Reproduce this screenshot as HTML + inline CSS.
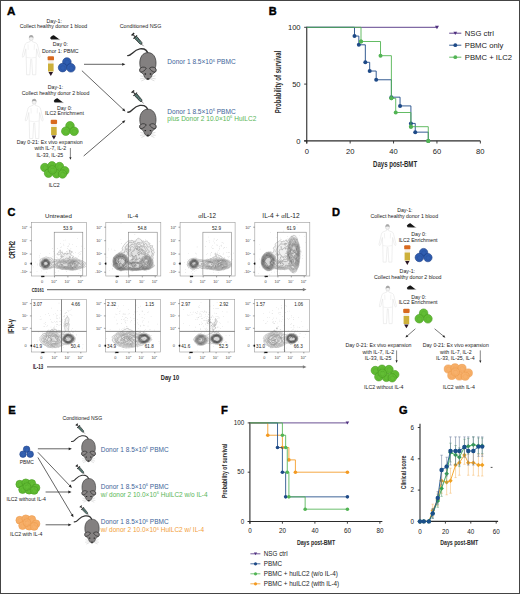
<!DOCTYPE html><html><head><meta charset="utf-8"><style>html,body{margin:0;padding:0;background:#fff;width:520px;height:594px;overflow:hidden}svg{display:block;font-family:"Liberation Sans",sans-serif}</style></head><body><svg width="520" height="594" viewBox="0 0 520 594" font-family="Liberation Sans, sans-serif">
<defs><filter id="b1" x="-50%" y="-50%" width="200%" height="200%"><feGaussianBlur stdDeviation="1.2"/></filter><filter id="b2" x="-50%" y="-50%" width="200%" height="200%"><feGaussianBlur stdDeviation="0.6"/></filter><filter id="b3" x="-50%" y="-50%" width="200%" height="200%"><feGaussianBlur stdDeviation="2"/></filter></defs>
<rect x="0" y="0" width="520" height="594" fill="#fff"/>
<text x="6.90" y="15.30" font-size="11.6" fill="#000" text-anchor="start" font-weight="bold" stroke="#000" stroke-width="0.4">A</text>
<text x="54.20" y="22.60" font-size="5.22" fill="#222" text-anchor="middle" font-weight="normal" >Day-1:</text>
<text x="53.45" y="28.30" font-size="5.22" fill="#222" text-anchor="middle" font-weight="normal" >Collect healthy donor 1 blood</text>
<text x="60.40" y="46.30" font-size="5.22" fill="#222" text-anchor="middle" font-weight="normal" >Day 0:</text>
<text x="60.35" y="52.60" font-size="5.22" fill="#222" text-anchor="middle" font-weight="normal" >Donor 1: PBMC</text>
<g transform="translate(31.20,37.80) scale(1.0)" fill="none" stroke="#dcdcdc" stroke-width="0.5" stroke-linejoin="round">
<ellipse cx="0" cy="0.2" rx="2.1" ry="2.5" fill="#f2f2f2" stroke="#cfcfcf"/>
<path d="M-2.2,0.2 C-2.4,-2.2 -0.8,-2.8 0,-2.8 C0.8,-2.8 2.4,-2.2 2.2,0.2 C1.5,-0.8 -1.5,-0.8 -2.2,0.2 Z" fill="#a8a8a8" stroke="none"/>
<path d="M-1.1,2.6 L-1.1,3.8 L-4.8,5.2 Q-6.2,5.8 -6.5,8 L-8.8,17.5 Q-9.3,19.4 -8.2,19.6 L-7.2,18.2 L-5.4,11 L-5.0,19.5 L-4.6,37 L-1.4,37 L-0.5,21.5 L0.5,21.5 L1.4,37 L4.6,37 L5.0,19.5 L5.4,11 L7.2,18.2 L8.2,19.6 Q9.3,19.4 8.8,17.5 L6.5,8 Q6.2,5.8 4.8,5.2 L1.1,3.8 L1.1,2.6"/>
<path d="M-3.2,6.5 L-3.0,12 M3.2,6.5 L3.0,12 M-4.9,19.5 Q0,21 4.9,19.5" stroke="#e6e6e6"/>
</g>
<g transform="translate(49.60,35.20) scale(1.0)">
<path d="M0.5,2.8 C2,0.8 3.5,-0.2 4.6,0.3 L8.6,3.4 L10,4.2 L7.5,4.4 L1.5,4.3 Z" fill="#151515"/>
<path d="M1.5,4.2 L10.5,4.5" stroke="#999" stroke-width="0.5"/>
</g>
<g transform="translate(47.60,56.30)">
<rect x="0" y="0" width="6.4" height="4.2" rx="1" fill="#d8691f"/>
<rect x="0.5" y="4.2" width="5.4" height="3" fill="#f4efe6"/>
<rect x="0.4" y="7.2" width="5.6000000000000005" height="8" fill="#cdb03a"/>
<polygon points="0.9,15.8 5.5,15.8 3.2,19.6" fill="#2a1626"/>
</g>
<circle cx="66.90" cy="62.00" r="4.3" fill="#2f5db0" stroke="#1f3f86" stroke-width="0.6"/>
<circle cx="62.60" cy="67.60" r="4.3" fill="#2f5db0" stroke="#1f3f86" stroke-width="0.6"/>
<circle cx="70.90" cy="67.80" r="4.3" fill="#2f5db0" stroke="#1f3f86" stroke-width="0.6"/>
<circle cx="67.20" cy="62.40" r="2.37" fill="none" stroke="#1f3f86" stroke-width="0.35" opacity="0.6"/>
<circle cx="62.90" cy="68.00" r="2.37" fill="none" stroke="#1f3f86" stroke-width="0.35" opacity="0.6"/>
<circle cx="71.20" cy="68.20" r="2.37" fill="none" stroke="#1f3f86" stroke-width="0.35" opacity="0.6"/>
<text x="55.50" y="88.50" font-size="5.22" fill="#222" text-anchor="middle" font-weight="normal" >Day-1:</text>
<text x="55.60" y="94.60" font-size="5.22" fill="#222" text-anchor="middle" font-weight="normal" >Collect healthy donor 2 blood</text>
<text x="64.50" y="109.50" font-size="5.22" fill="#222" text-anchor="middle" font-weight="normal" >Day 0:</text>
<text x="64.50" y="115.10" font-size="5.22" fill="#222" text-anchor="middle" font-weight="normal" >ILC2 Enrichment</text>
<g transform="translate(34.20,101.50) scale(1.0)" fill="none" stroke="#dcdcdc" stroke-width="0.5" stroke-linejoin="round">
<ellipse cx="0" cy="0.2" rx="2.1" ry="2.5" fill="#f2f2f2" stroke="#cfcfcf"/>
<path d="M-2.2,0.2 C-2.4,-2.2 -0.8,-2.8 0,-2.8 C0.8,-2.8 2.4,-2.2 2.2,0.2 C1.5,-0.8 -1.5,-0.8 -2.2,0.2 Z" fill="#a8a8a8" stroke="none"/>
<path d="M-1.1,2.6 L-1.1,3.8 L-4.8,5.2 Q-6.2,5.8 -6.5,8 L-8.8,17.5 Q-9.3,19.4 -8.2,19.6 L-7.2,18.2 L-5.4,11 L-5.0,19.5 L-4.6,37 L-1.4,37 L-0.5,21.5 L0.5,21.5 L1.4,37 L4.6,37 L5.0,19.5 L5.4,11 L7.2,18.2 L8.2,19.6 Q9.3,19.4 8.8,17.5 L6.5,8 Q6.2,5.8 4.8,5.2 L1.1,3.8 L1.1,2.6"/>
<path d="M-3.2,6.5 L-3.0,12 M3.2,6.5 L3.0,12 M-4.9,19.5 Q0,21 4.9,19.5" stroke="#e6e6e6"/>
</g>
<g transform="translate(53.20,98.20) scale(1.0)">
<path d="M0.5,2.8 C2,0.8 3.5,-0.2 4.6,0.3 L8.6,3.4 L10,4.2 L7.5,4.4 L1.5,4.3 Z" fill="#151515"/>
<path d="M1.5,4.2 L10.5,4.5" stroke="#999" stroke-width="0.5"/>
</g>
<g transform="translate(50.70,119.80)">
<rect x="0" y="0" width="6.4" height="4.2" rx="1" fill="#d8691f"/>
<rect x="0.5" y="4.2" width="5.4" height="3" fill="#f4efe6"/>
<rect x="0.4" y="7.2" width="5.6000000000000005" height="8" fill="#cdb03a"/>
<polygon points="0.9,15.8 5.5,15.8 3.2,19.6" fill="#2a1626"/>
</g>
<circle cx="70.00" cy="125.80" r="4.3" fill="#62bd34" stroke="#489a22" stroke-width="0.6"/>
<circle cx="65.80" cy="131.20" r="4.3" fill="#62bd34" stroke="#489a22" stroke-width="0.6"/>
<circle cx="74.10" cy="131.30" r="4.3" fill="#62bd34" stroke="#489a22" stroke-width="0.6"/>
<circle cx="70.30" cy="126.20" r="2.37" fill="none" stroke="#489a22" stroke-width="0.35" opacity="0.6"/>
<circle cx="66.10" cy="131.60" r="2.37" fill="none" stroke="#489a22" stroke-width="0.35" opacity="0.6"/>
<circle cx="74.40" cy="131.70" r="2.37" fill="none" stroke="#489a22" stroke-width="0.35" opacity="0.6"/>
<text x="49.70" y="144.20" font-size="5.22" fill="#222" text-anchor="middle" font-weight="normal" >Day 0-21: Ex vivo expansion</text>
<text x="50.40" y="150.40" font-size="5.22" fill="#222" text-anchor="middle" font-weight="normal" >with IL-7, IL-2</text>
<text x="49.90" y="156.50" font-size="5.22" fill="#222" text-anchor="middle" font-weight="normal" >IL-33, IL-25</text>
<line x1="70.40" y1="148.00" x2="70.40" y2="157.70" stroke="#222" stroke-width="0.55" />
<polygon points="70.40,159.80 69.30,157.20 71.50,157.20" fill="#222"/>
<circle cx="44.80" cy="167.50" r="4.2" fill="#62bd34" stroke="#489a22" stroke-width="0.6"/>
<circle cx="52.00" cy="165.80" r="4.2" fill="#62bd34" stroke="#489a22" stroke-width="0.6"/>
<circle cx="59.50" cy="166.50" r="4.2" fill="#62bd34" stroke="#489a22" stroke-width="0.6"/>
<circle cx="64.80" cy="170.80" r="4.2" fill="#62bd34" stroke="#489a22" stroke-width="0.6"/>
<circle cx="48.50" cy="173.20" r="4.2" fill="#62bd34" stroke="#489a22" stroke-width="0.6"/>
<circle cx="56.50" cy="173.80" r="4.2" fill="#62bd34" stroke="#489a22" stroke-width="0.6"/>
<circle cx="62.50" cy="174.00" r="4.2" fill="#62bd34" stroke="#489a22" stroke-width="0.6"/>
<circle cx="52.30" cy="169.80" r="4.2" fill="#62bd34" stroke="#489a22" stroke-width="0.6"/>
<circle cx="45.10" cy="167.90" r="2.31" fill="none" stroke="#489a22" stroke-width="0.35" opacity="0.6"/>
<circle cx="52.30" cy="166.20" r="2.31" fill="none" stroke="#489a22" stroke-width="0.35" opacity="0.6"/>
<circle cx="59.80" cy="166.90" r="2.31" fill="none" stroke="#489a22" stroke-width="0.35" opacity="0.6"/>
<circle cx="65.10" cy="171.20" r="2.31" fill="none" stroke="#489a22" stroke-width="0.35" opacity="0.6"/>
<circle cx="48.80" cy="173.60" r="2.31" fill="none" stroke="#489a22" stroke-width="0.35" opacity="0.6"/>
<circle cx="56.80" cy="174.20" r="2.31" fill="none" stroke="#489a22" stroke-width="0.35" opacity="0.6"/>
<circle cx="62.80" cy="174.40" r="2.31" fill="none" stroke="#489a22" stroke-width="0.35" opacity="0.6"/>
<circle cx="52.60" cy="170.20" r="2.31" fill="none" stroke="#489a22" stroke-width="0.35" opacity="0.6"/>
<text x="54.20" y="186.50" font-size="5.22" fill="#222" text-anchor="middle" font-weight="normal" >ILC2</text>
<line x1="84.00" y1="64.30" x2="122.70" y2="64.30" stroke="#222" stroke-width="0.7" />
<polygon points="125.40,64.30 122.20,65.70 122.20,62.90" fill="#222"/>
<line x1="81.90" y1="70.70" x2="123.43" y2="109.65" stroke="#222" stroke-width="0.7" />
<polygon points="125.40,111.50 122.11,110.33 124.02,108.29" fill="#222"/>
<line x1="83.70" y1="156.00" x2="123.35" y2="121.96" stroke="#222" stroke-width="0.7" />
<polygon points="125.40,120.20 123.88,123.35 122.06,121.22" fill="#222"/>
<text x="140.50" y="28.20" font-size="5.35" fill="#222" text-anchor="middle" font-weight="normal" >Conditioned NSG</text>
<g transform="translate(132.60,34.00) rotate(48) scale(1.08)">
<rect x="-0.3" y="-1.6" width="1.3" height="3.2" fill="#222"/>
<rect x="1" y="-0.5" width="2.2" height="1" fill="#333"/>
<rect x="3.2" y="-2.3" width="0.9" height="4.6" fill="#222"/>
<path d="M4.1,-1.35 L11.6,-1.1 L12.8,0 L11.6,1.1 L4.1,1.35 Z" fill="#5f8a82" stroke="#222" stroke-width="0.65"/>
<path d="M5.6,-1.2 V1.2 M7.4,-1.2 V1.2 M9.2,-1.1 V1.1" stroke="#333" stroke-width="0.5"/>
<line x1="12.8" y1="0" x2="15.2" y2="0" stroke="#333" stroke-width="0.45"/>
</g>
<g transform="translate(147.90,52.60) scale(1.0)">
<path d="M0,1.5 C-0.6,-2.6 -4,-4.2 -8,-3.8 C-12,-3.3 -14,-1 -16,1 C-17.2,2.2 -18.6,3.2 -20.2,3.0" fill="none" stroke="#333" stroke-width="1.35" stroke-linecap="round"/>
<path d="M-2.5,24.5 L-7.5,23.2 M-2.5,25.5 L-7.8,26.2 M-2.4,26.4 L-6.5,28.3 M2.5,24.5 L7.5,23.2 M2.5,25.5 L7.8,26.2 M2.4,26.4 L6.5,28.3" stroke="#bdbdbd" stroke-width="0.45"/>
<path d="M0,0 C5.2,0 8.1,4.5 8.1,10.5 C8.1,13 7.6,14.5 7.3,15.5 C8.2,16.5 8.3,18.8 7.2,19.6 C5.6,20.4 4.6,21.3 3.8,23.2 C2.8,25.6 1.4,27 0,27 C-1.4,27 -2.8,25.6 -3.8,23.2 C-4.6,21.3 -5.6,20.4 -7.2,19.6 C-8.3,18.8 -8.2,16.5 -7.3,15.5 C-7.6,14.5 -8.1,13 -8.1,10.5 C-8.1,4.5 -5.2,0 0,0 Z" fill="#838080" stroke="#3a3a3a" stroke-width="0.75"/>
<path d="M-7.9,16.2 C-6.8,14.2 -3.6,13.9 -1.6,15.6 C-2.6,17.6 -4.8,19.3 -7.2,19.6 C-8.3,18.6 -8.4,17.2 -7.9,16.2 Z" fill="#8c8888" stroke="#2e2e2e" stroke-width="0.8"/>
<path d="M7.9,16.2 C6.8,14.2 3.6,13.9 1.6,15.6 C2.6,17.6 4.8,19.3 7.2,19.6 C8.3,18.6 8.4,17.2 7.9,16.2 Z" fill="#8c8888" stroke="#2e2e2e" stroke-width="0.8"/>
<ellipse cx="-2.6" cy="21.4" rx="0.9" ry="0.7" fill="#1b1b1b"/>
<ellipse cx="2.6" cy="21.4" rx="0.9" ry="0.7" fill="#1b1b1b"/>
<path d="M-1.3,25.6 L1.3,25.6 L0,27.2 Z" fill="#1b1b1b"/>
</g>
<g transform="translate(132.60,91.30) rotate(48) scale(1.08)">
<rect x="-0.3" y="-1.6" width="1.3" height="3.2" fill="#222"/>
<rect x="1" y="-0.5" width="2.2" height="1" fill="#333"/>
<rect x="3.2" y="-2.3" width="0.9" height="4.6" fill="#222"/>
<path d="M4.1,-1.35 L11.6,-1.1 L12.8,0 L11.6,1.1 L4.1,1.35 Z" fill="#5f8a82" stroke="#222" stroke-width="0.65"/>
<path d="M5.6,-1.2 V1.2 M7.4,-1.2 V1.2 M9.2,-1.1 V1.1" stroke="#333" stroke-width="0.5"/>
<line x1="12.8" y1="0" x2="15.2" y2="0" stroke="#333" stroke-width="0.45"/>
</g>
<g transform="translate(147.90,109.20) scale(1.0)">
<path d="M0,1.5 C-0.6,-2.6 -4,-4.2 -8,-3.8 C-12,-3.3 -14,-1 -16,1 C-17.2,2.2 -18.6,3.2 -20.2,3.0" fill="none" stroke="#333" stroke-width="1.35" stroke-linecap="round"/>
<path d="M-2.5,24.5 L-7.5,23.2 M-2.5,25.5 L-7.8,26.2 M-2.4,26.4 L-6.5,28.3 M2.5,24.5 L7.5,23.2 M2.5,25.5 L7.8,26.2 M2.4,26.4 L6.5,28.3" stroke="#bdbdbd" stroke-width="0.45"/>
<path d="M0,0 C5.2,0 8.1,4.5 8.1,10.5 C8.1,13 7.6,14.5 7.3,15.5 C8.2,16.5 8.3,18.8 7.2,19.6 C5.6,20.4 4.6,21.3 3.8,23.2 C2.8,25.6 1.4,27 0,27 C-1.4,27 -2.8,25.6 -3.8,23.2 C-4.6,21.3 -5.6,20.4 -7.2,19.6 C-8.3,18.8 -8.2,16.5 -7.3,15.5 C-7.6,14.5 -8.1,13 -8.1,10.5 C-8.1,4.5 -5.2,0 0,0 Z" fill="#838080" stroke="#3a3a3a" stroke-width="0.75"/>
<path d="M-7.9,16.2 C-6.8,14.2 -3.6,13.9 -1.6,15.6 C-2.6,17.6 -4.8,19.3 -7.2,19.6 C-8.3,18.6 -8.4,17.2 -7.9,16.2 Z" fill="#8c8888" stroke="#2e2e2e" stroke-width="0.8"/>
<path d="M7.9,16.2 C6.8,14.2 3.6,13.9 1.6,15.6 C2.6,17.6 4.8,19.3 7.2,19.6 C8.3,18.6 8.4,17.2 7.9,16.2 Z" fill="#8c8888" stroke="#2e2e2e" stroke-width="0.8"/>
<ellipse cx="-2.6" cy="21.4" rx="0.9" ry="0.7" fill="#1b1b1b"/>
<ellipse cx="2.6" cy="21.4" rx="0.9" ry="0.7" fill="#1b1b1b"/>
<path d="M-1.3,25.6 L1.3,25.6 L0,27.2 Z" fill="#1b1b1b"/>
</g>
<text x="167.30" y="64.40" font-size="6.55" fill="#3d6499">Donor 1 8.5×10<tspan font-size="4.06" dy="-2.49">6</tspan><tspan dy="2.49"> PBMC</tspan></text>
<text x="167.30" y="113.80" font-size="6.55" fill="#3d6499">Donor 1 8.5×10<tspan font-size="4.06" dy="-2.49">6</tspan><tspan dy="2.49"> PBMC</tspan></text>
<text x="167.30" y="120.80" font-size="6.55" fill="#58b656">plus Donor 2 10.0×10<tspan font-size="4.06" dy="-2.49">6</tspan><tspan dy="2.49"> HuILC2</tspan></text>
<text x="268.80" y="15.00" font-size="11.0" fill="#000" text-anchor="start" font-weight="bold" stroke="#000" stroke-width="0.4">B</text>
<line x1="306.75" y1="26.70" x2="306.75" y2="143.50" stroke="#2b2b2b" stroke-width="1.1" />
<line x1="304.15" y1="140.90" x2="480.35" y2="140.90" stroke="#2b2b2b" stroke-width="1.1" />
<line x1="304.15" y1="27.30" x2="306.75" y2="27.30" stroke="#2b2b2b" stroke-width="0.9" />
<line x1="304.15" y1="84.10" x2="306.75" y2="84.10" stroke="#2b2b2b" stroke-width="0.9" />
<line x1="304.15" y1="140.90" x2="306.75" y2="140.90" stroke="#2b2b2b" stroke-width="0.9" />
<line x1="306.75" y1="140.90" x2="306.75" y2="143.50" stroke="#2b2b2b" stroke-width="0.9" />
<line x1="350.15" y1="140.90" x2="350.15" y2="143.50" stroke="#2b2b2b" stroke-width="0.9" />
<line x1="393.55" y1="140.90" x2="393.55" y2="143.50" stroke="#2b2b2b" stroke-width="0.9" />
<line x1="436.95" y1="140.90" x2="436.95" y2="143.50" stroke="#2b2b2b" stroke-width="0.9" />
<line x1="480.35" y1="140.90" x2="480.35" y2="143.50" stroke="#2b2b2b" stroke-width="0.9" />
<line x1="306.75" y1="27.30" x2="436.95" y2="27.30" stroke="#4f3080" stroke-width="0.9" />
<polygon points="434.95,25.80 438.95,25.80 436.95,29.20" fill="#4f3080"/>
<path d="M306.75,27.30 L354.49,27.30 L354.49,36.05 L358.83,36.05 L358.83,44.79 L365.34,44.79 L365.34,62.29 L369.68,62.29 L369.68,71.04 L376.19,71.04 L376.19,79.78 L391.38,79.78 L391.38,97.16 L400.06,97.16 L400.06,105.91 L410.91,105.91 L410.91,123.41 L415.25,123.41 L415.25,132.15 L428.27,132.15 L428.27,140.90" fill="none" stroke="#1e4a87" stroke-width="0.9"/>
<circle cx="354.49" cy="36.05" r="2.0" fill="#1e4a87"/>
<circle cx="358.83" cy="44.79" r="2.0" fill="#1e4a87"/>
<circle cx="365.34" cy="62.29" r="2.0" fill="#1e4a87"/>
<circle cx="369.68" cy="71.04" r="2.0" fill="#1e4a87"/>
<circle cx="376.19" cy="79.78" r="2.0" fill="#1e4a87"/>
<circle cx="391.38" cy="97.16" r="2.0" fill="#1e4a87"/>
<circle cx="400.06" cy="105.91" r="2.0" fill="#1e4a87"/>
<circle cx="410.91" cy="123.41" r="2.0" fill="#1e4a87"/>
<circle cx="415.25" cy="132.15" r="2.0" fill="#1e4a87"/>
<circle cx="428.27" cy="140.90" r="2.0" fill="#1e4a87"/>
<path d="M306.75,27.30 L361.00,27.30 L361.00,41.50 L380.53,41.50 L380.53,55.70 L391.38,55.70 L391.38,98.30 L395.72,98.30 L395.72,112.50 L410.91,112.50 L410.91,126.70 L428.27,126.70 L428.27,140.90" fill="none" stroke="#52b454" stroke-width="0.9"/>
<circle cx="361.00" cy="41.50" r="2.0" fill="#52b454"/>
<circle cx="380.53" cy="55.70" r="2.0" fill="#52b454"/>
<circle cx="391.38" cy="98.30" r="2.0" fill="#52b454"/>
<circle cx="395.72" cy="112.50" r="2.0" fill="#52b454"/>
<circle cx="410.91" cy="126.70" r="2.0" fill="#52b454"/>
<circle cx="428.27" cy="140.90" r="2.0" fill="#52b454"/>
<circle cx="361.00" cy="41.50" r="2.0" fill="#52b454"/>
<circle cx="391.38" cy="98.30" r="2.0" fill="#52b454"/>
<circle cx="410.91" cy="126.70" r="2.0" fill="#52b454"/>
<circle cx="428.27" cy="140.90" r="2.0" fill="#52b454"/>
<text x="300.60" y="30.05" font-size="7.6" fill="#222" text-anchor="end" font-weight="normal" >100</text>
<text x="300.60" y="86.85" font-size="7.6" fill="#222" text-anchor="end" font-weight="normal" >50</text>
<text x="300.60" y="143.65" font-size="7.6" fill="#222" text-anchor="end" font-weight="normal" >0</text>
<text x="306.75" y="153.90" font-size="7.6" fill="#222" text-anchor="middle" font-weight="normal" >0</text>
<text x="350.15" y="153.90" font-size="7.6" fill="#222" text-anchor="middle" font-weight="normal" >20</text>
<text x="393.55" y="153.90" font-size="7.6" fill="#222" text-anchor="middle" font-weight="normal" >40</text>
<text x="436.95" y="153.90" font-size="7.6" fill="#222" text-anchor="middle" font-weight="normal" >60</text>
<text x="480.35" y="153.90" font-size="7.6" fill="#222" text-anchor="middle" font-weight="normal" >80</text>
<text x="373.10" y="166.70" font-size="9.3" fill="#2a2a2a" text-anchor="start" font-weight="bold" textLength="44.0" lengthAdjust="spacingAndGlyphs">Days post-BMT</text>
<text x="281.10" y="81.95" font-size="8.5" fill="#2a2a2a" text-anchor="middle" font-weight="bold" textLength="62.5" lengthAdjust="spacingAndGlyphs" transform="rotate(-90 281.10 81.95)">Probability of survival</text>
<line x1="449.20" y1="33.20" x2="461.30" y2="33.20" stroke="#4f3080" stroke-width="0.9" />
<polygon points="453.40,31.78 457.20,31.78 455.30,35.01" fill="#4f3080"/>
<text x="464.80" y="35.90" font-size="7.7" fill="#222" text-anchor="start" font-weight="normal" >NSG ctrl</text>
<line x1="449.20" y1="45.20" x2="461.30" y2="45.20" stroke="#1e4a87" stroke-width="0.9" />
<circle cx="455.3" cy="45.20" r="1.9" fill="#1e4a87"/>
<text x="464.80" y="47.90" font-size="7.7" fill="#222" text-anchor="start" font-weight="normal" >PBMC only</text>
<line x1="449.20" y1="57.20" x2="461.30" y2="57.20" stroke="#52b454" stroke-width="0.9" />
<circle cx="455.3" cy="57.20" r="1.9" fill="#52b454"/>
<text x="464.80" y="59.90" font-size="7.7" fill="#222" text-anchor="start" font-weight="normal" >PBMC + ILC2</text>
<text x="7.50" y="216.30" font-size="11.0" fill="#000" text-anchor="start" font-weight="bold" stroke="#000" stroke-width="0.4">C</text>
<text x="58.40" y="218.30" font-size="6.1" fill="#222" text-anchor="middle" font-weight="normal" >Untreated</text>
<clipPath id="clip10"><rect x="31.40" y="222.40" width="55" height="53.599999999999994"/></clipPath>
<g clip-path="url(#clip10)">
<circle cx="32.8" cy="265.6" r="0.3" fill="#bcbcbc"/>
<circle cx="43.4" cy="262.6" r="0.3" fill="#bcbcbc"/>
<circle cx="44.5" cy="259.4" r="0.3" fill="#bcbcbc"/>
<circle cx="46.8" cy="261.9" r="0.3" fill="#bcbcbc"/>
<circle cx="42.3" cy="258.5" r="0.3" fill="#bcbcbc"/>
<circle cx="77.6" cy="263.2" r="0.3" fill="#bcbcbc"/>
<circle cx="44.7" cy="263.7" r="0.3" fill="#bcbcbc"/>
<circle cx="78.2" cy="262.0" r="0.3" fill="#bcbcbc"/>
<circle cx="78.2" cy="273.8" r="0.3" fill="#bcbcbc"/>
<circle cx="62.8" cy="269.5" r="0.3" fill="#bcbcbc"/>
<circle cx="40.9" cy="262.2" r="0.3" fill="#bcbcbc"/>
<circle cx="78.5" cy="264.8" r="0.3" fill="#bcbcbc"/>
<circle cx="37.3" cy="264.9" r="0.3" fill="#bcbcbc"/>
<circle cx="43.4" cy="258.4" r="0.3" fill="#bcbcbc"/>
<circle cx="66.4" cy="271.4" r="0.3" fill="#bcbcbc"/>
<circle cx="71.0" cy="270.0" r="0.3" fill="#bcbcbc"/>
<circle cx="41.0" cy="266.4" r="0.3" fill="#bcbcbc"/>
<circle cx="63.4" cy="260.8" r="0.3" fill="#bcbcbc"/>
<circle cx="33.1" cy="266.9" r="0.3" fill="#bcbcbc"/>
<circle cx="37.4" cy="263.9" r="0.3" fill="#bcbcbc"/>
<circle cx="49.5" cy="253.8" r="0.3" fill="#bcbcbc"/>
<circle cx="80.7" cy="270.2" r="0.3" fill="#bcbcbc"/>
<circle cx="40.6" cy="253.2" r="0.3" fill="#bcbcbc"/>
<circle cx="73.5" cy="261.7" r="0.3" fill="#bcbcbc"/>
<circle cx="39.7" cy="265.3" r="0.3" fill="#bcbcbc"/>
<circle cx="52.8" cy="263.5" r="0.3" fill="#bcbcbc"/>
<circle cx="37.0" cy="271.7" r="0.3" fill="#bcbcbc"/>
<circle cx="80.0" cy="269.9" r="0.3" fill="#bcbcbc"/>
<circle cx="42.5" cy="259.7" r="0.3" fill="#bcbcbc"/>
<circle cx="52.6" cy="256.5" r="0.3" fill="#bcbcbc"/>
<circle cx="44.1" cy="264.7" r="0.3" fill="#bcbcbc"/>
<circle cx="39.4" cy="255.2" r="0.3" fill="#bcbcbc"/>
<circle cx="51.8" cy="267.3" r="0.3" fill="#bcbcbc"/>
<circle cx="61.5" cy="266.0" r="0.3" fill="#bcbcbc"/>
<circle cx="49.8" cy="259.8" r="0.3" fill="#bcbcbc"/>
<circle cx="45.1" cy="266.2" r="0.3" fill="#bcbcbc"/>
<circle cx="58.6" cy="270.9" r="0.3" fill="#bcbcbc"/>
<circle cx="35.4" cy="262.0" r="0.3" fill="#bcbcbc"/>
<circle cx="78.1" cy="253.4" r="0.3" fill="#bcbcbc"/>
<circle cx="82.8" cy="258.1" r="0.3" fill="#bcbcbc"/>
<circle cx="52.4" cy="264.8" r="0.3" fill="#bcbcbc"/>
<circle cx="56.1" cy="262.6" r="0.3" fill="#bcbcbc"/>
<circle cx="46.5" cy="272.1" r="0.3" fill="#bcbcbc"/>
<circle cx="52.6" cy="258.4" r="0.3" fill="#bcbcbc"/>
<circle cx="41.6" cy="270.9" r="0.3" fill="#bcbcbc"/>
<circle cx="44.2" cy="261.4" r="0.3" fill="#bcbcbc"/>
<circle cx="42.2" cy="259.1" r="0.3" fill="#bcbcbc"/>
<circle cx="39.8" cy="257.1" r="0.3" fill="#bcbcbc"/>
<circle cx="50.0" cy="263.6" r="0.3" fill="#bcbcbc"/>
<circle cx="46.3" cy="264.3" r="0.3" fill="#bcbcbc"/>
<circle cx="60.1" cy="249.3" r="0.3" fill="#bcbcbc"/>
<circle cx="52.8" cy="262.3" r="0.3" fill="#bcbcbc"/>
<circle cx="44.0" cy="267.7" r="0.3" fill="#bcbcbc"/>
<circle cx="44.9" cy="267.5" r="0.3" fill="#bcbcbc"/>
<circle cx="54.3" cy="253.5" r="0.3" fill="#bcbcbc"/>
<circle cx="43.3" cy="264.3" r="0.3" fill="#bcbcbc"/>
<circle cx="55.7" cy="272.3" r="0.3" fill="#bcbcbc"/>
<circle cx="67.4" cy="258.0" r="0.32" fill="#b8b8b8"/>
<circle cx="64.5" cy="267.5" r="0.32" fill="#b8b8b8"/>
<circle cx="75.5" cy="267.6" r="0.32" fill="#b8b8b8"/>
<circle cx="68.2" cy="249.7" r="0.32" fill="#b8b8b8"/>
<circle cx="69.6" cy="257.5" r="0.32" fill="#b8b8b8"/>
<circle cx="64.3" cy="255.1" r="0.32" fill="#b8b8b8"/>
<circle cx="68.3" cy="263.7" r="0.32" fill="#b8b8b8"/>
<circle cx="63.8" cy="259.7" r="0.32" fill="#b8b8b8"/>
<circle cx="63.9" cy="245.7" r="0.32" fill="#b8b8b8"/>
<circle cx="63.4" cy="244.1" r="0.32" fill="#b8b8b8"/>
<circle cx="69.4" cy="259.6" r="0.32" fill="#b8b8b8"/>
<circle cx="69.6" cy="256.8" r="0.32" fill="#b8b8b8"/>
<circle cx="79.8" cy="254.3" r="0.32" fill="#b8b8b8"/>
<circle cx="69.8" cy="250.5" r="0.32" fill="#b8b8b8"/>
<circle cx="57.1" cy="257.7" r="0.32" fill="#b8b8b8"/>
<circle cx="56.1" cy="257.0" r="0.32" fill="#b8b8b8"/>
<circle cx="68.3" cy="260.3" r="0.32" fill="#b8b8b8"/>
<circle cx="67.9" cy="246.6" r="0.32" fill="#b8b8b8"/>
<circle cx="70.9" cy="248.5" r="0.32" fill="#b8b8b8"/>
<circle cx="67.1" cy="252.7" r="0.32" fill="#b8b8b8"/>
<circle cx="67.5" cy="251.1" r="0.32" fill="#b8b8b8"/>
<circle cx="62.6" cy="251.1" r="0.32" fill="#b8b8b8"/>
<circle cx="53.4" cy="251.3" r="0.32" fill="#b8b8b8"/>
<circle cx="60.0" cy="260.2" r="0.32" fill="#b8b8b8"/>
<circle cx="77.3" cy="238.7" r="0.32" fill="#b8b8b8"/>
<circle cx="69.4" cy="251.5" r="0.32" fill="#b8b8b8"/>
<circle cx="61.1" cy="256.1" r="0.32" fill="#b8b8b8"/>
<circle cx="65.2" cy="240.0" r="0.32" fill="#b8b8b8"/>
<circle cx="66.5" cy="251.4" r="0.32" fill="#b8b8b8"/>
<circle cx="69.1" cy="243.8" r="0.32" fill="#b8b8b8"/>
<circle cx="72.7" cy="257.5" r="0.32" fill="#b8b8b8"/>
<circle cx="60.4" cy="247.8" r="0.32" fill="#b8b8b8"/>
<circle cx="67.8" cy="248.4" r="0.32" fill="#b8b8b8"/>
<circle cx="80.6" cy="253.9" r="0.32" fill="#b8b8b8"/>
<circle cx="61.3" cy="246.9" r="0.32" fill="#b8b8b8"/>
<circle cx="68.0" cy="268.5" r="0.32" fill="#b8b8b8"/>
<circle cx="67.2" cy="253.3" r="0.32" fill="#b8b8b8"/>
<circle cx="72.0" cy="252.1" r="0.32" fill="#b8b8b8"/>
<circle cx="84.4" cy="248.7" r="0.32" fill="#b8b8b8"/>
<circle cx="73.6" cy="253.5" r="0.32" fill="#b8b8b8"/>
<circle cx="72.7" cy="244.2" r="0.32" fill="#b8b8b8"/>
<circle cx="80.8" cy="251.5" r="0.32" fill="#b8b8b8"/>
<circle cx="68.6" cy="245.9" r="0.32" fill="#b8b8b8"/>
<circle cx="63.3" cy="256.3" r="0.32" fill="#b8b8b8"/>
<circle cx="75.3" cy="257.7" r="0.32" fill="#b8b8b8"/>
<circle cx="76.9" cy="257.4" r="0.32" fill="#b8b8b8"/>
<circle cx="68.6" cy="258.3" r="0.32" fill="#b8b8b8"/>
<circle cx="72.6" cy="251.7" r="0.32" fill="#b8b8b8"/>
<circle cx="73.5" cy="261.4" r="0.32" fill="#b8b8b8"/>
<circle cx="70.0" cy="249.9" r="0.32" fill="#b8b8b8"/>
<circle cx="73.4" cy="265.7" r="0.32" fill="#b8b8b8"/>
<circle cx="66.9" cy="251.8" r="0.32" fill="#b8b8b8"/>
<circle cx="67.4" cy="261.0" r="0.32" fill="#b8b8b8"/>
<circle cx="55.5" cy="255.0" r="0.32" fill="#b8b8b8"/>
<circle cx="76.7" cy="246.7" r="0.32" fill="#b8b8b8"/>
<circle cx="78.8" cy="256.1" r="0.32" fill="#b8b8b8"/>
<circle cx="64.6" cy="253.8" r="0.32" fill="#b8b8b8"/>
<circle cx="57.7" cy="248.4" r="0.32" fill="#b8b8b8"/>
<circle cx="81.2" cy="246.1" r="0.32" fill="#b8b8b8"/>
<circle cx="81.3" cy="251.8" r="0.32" fill="#b8b8b8"/>
<circle cx="75.4" cy="252.7" r="0.32" fill="#b8b8b8"/>
<circle cx="52.7" cy="248.4" r="0.32" fill="#b8b8b8"/>
<circle cx="69.7" cy="244.3" r="0.32" fill="#b8b8b8"/>
<circle cx="59.0" cy="255.0" r="0.32" fill="#b8b8b8"/>
<circle cx="63.9" cy="240.5" r="0.32" fill="#b8b8b8"/>
<circle cx="63.6" cy="258.4" r="0.32" fill="#b8b8b8"/>
<circle cx="65.1" cy="258.9" r="0.32" fill="#b8b8b8"/>
<circle cx="79.1" cy="252.6" r="0.32" fill="#b8b8b8"/>
<circle cx="60.5" cy="243.3" r="0.32" fill="#b8b8b8"/>
<circle cx="68.2" cy="258.6" r="0.32" fill="#b8b8b8"/>
<path d="M73.9,269.7L73.2,269.7L72.4,269.7L71.7,269.7L70.9,269.7L70.2,269.7L69.4,269.7L68.7,269.7L67.9,269.7L67.4,269.6L66.7,269.6L65.9,269.6L65.2,269.5L64.4,269.5L63.6,269.4L63.1,269.4L62.4,269.3L61.6,269.3L60.9,269.2L60.4,269.1L59.6,269.0L58.9,268.9L58.4,268.9L57.6,268.8L56.9,268.6L56.4,268.6L55.6,268.5L55.1,268.4L54.4,268.3L53.6,268.2L52.9,268.2L52.1,268.2L51.4,268.3L50.7,268.4L50.1,268.5L49.6,268.6L48.9,268.8L48.4,268.9L47.6,269.1L47.1,269.2L46.4,269.2L45.6,269.2L44.9,269.2L44.4,269.1L43.7,268.9L43.1,268.7L42.6,268.5L42.1,268.2L41.7,267.9L41.4,267.6L40.9,267.1L40.6,266.8L40.3,266.4L40.0,265.9L39.8,265.4L39.6,264.8L39.5,264.1L39.5,263.4L39.6,262.6L39.7,262.1L39.9,261.6L40.2,261.1L40.5,260.6L40.9,260.1L41.1,259.8L41.6,259.4L42.0,259.1L42.4,258.9L42.9,258.6L43.4,258.4L44.0,258.1L44.6,258.0L45.1,257.9L45.9,257.8L46.6,257.8L47.4,257.9L47.9,258.0L48.6,258.1L49.1,258.3L49.6,258.5L50.1,258.7L50.6,259.0L51.1,259.2L51.6,259.4L52.2,259.6L52.9,259.8L53.4,259.9L54.1,259.9L54.7,259.9L55.4,259.8L56.1,259.6L56.6,259.5L57.1,259.3L57.7,259.1L58.3,258.9L58.8,258.6L59.2,258.4L59.6,258.0L59.9,257.6L60.1,256.9L60.2,256.4L60.4,255.7L60.6,255.2L60.9,254.7L61.1,254.3L61.5,253.9L61.9,253.6L62.4,253.2L62.9,253.0L63.4,252.8L63.9,252.7L64.7,252.5L65.4,252.5L66.2,252.5L66.9,252.7L67.4,252.8L67.9,253.0L68.4,253.2L68.9,253.6L69.3,253.9L69.7,254.3L69.9,254.7L70.2,255.2L70.4,255.7L70.7,256.3L70.9,256.8L71.2,257.1L71.7,257.5L72.2,257.8L72.7,258.0L73.2,258.2L73.9,258.4L74.4,258.5L74.9,258.6L75.7,258.8L76.2,259.0L76.7,259.1L77.4,259.4L77.9,259.5L78.4,259.7L79.0,259.9L79.7,260.1L80.2,260.3L80.7,260.5L81.2,260.7L81.7,261.0L82.2,261.2L82.7,261.4L83.2,261.7L83.7,262.0L84.2,262.3L84.6,262.6L84.9,262.9L85.3,263.4L85.6,263.9L85.8,264.4L85.7,265.1L85.4,265.6L85.1,265.9L84.7,266.3L84.2,266.6L83.8,266.9L83.4,267.1L82.9,267.4L82.3,267.6L81.7,267.9L81.2,268.1L80.7,268.3L80.2,268.5L79.6,268.6L78.9,268.8L78.4,269.0L77.7,269.1L77.2,269.2L76.4,269.4L75.9,269.4L75.2,269.5L74.4,269.6L73.9,269.7Z" fill="#6a6a6a" fill-opacity="0.10" stroke="none"/>
<path d="M46.4,267.7L45.6,267.7L45.0,267.6L44.4,267.5L43.9,267.3L43.4,267.1L42.9,266.7L42.5,266.4L42.1,265.9L41.9,265.5L41.6,265.0L41.5,264.4L41.4,263.9L41.4,263.4L41.5,262.6L41.7,262.1L41.9,261.6L42.2,261.1L42.6,260.7L43.0,260.4L43.4,260.1L43.9,259.9L44.5,259.6L45.1,259.5L45.9,259.5L46.6,259.6L47.1,259.7L47.6,259.9L48.1,260.2L48.6,260.5L49.0,260.9L49.4,261.3L49.6,261.7L49.9,262.1L50.1,262.7L50.4,263.4L50.4,263.9L50.4,264.4L50.1,265.0L49.9,265.4L49.6,265.9L49.1,266.3L48.8,266.6L48.4,266.9L47.9,267.2L47.4,267.4L46.6,267.6Z M74.2,268.2L73.4,268.2L72.7,268.3L71.9,268.3L71.2,268.3L70.4,268.3L69.7,268.2L68.9,268.2L68.4,268.1L67.7,268.1L66.9,268.0L66.2,268.0L65.4,267.9L64.9,267.9L64.2,267.8L63.4,267.7L62.9,267.6L62.1,267.6L61.4,267.4L60.9,267.4L60.1,267.2L59.6,267.1L58.9,267.0L58.4,266.8L57.8,266.6L57.1,266.5L56.6,266.3L56.1,266.1L55.6,265.8L55.1,265.5L54.7,265.1L54.4,264.6L54.4,264.4L54.6,263.9L55.1,263.5L55.6,263.2L56.1,262.9L56.6,262.7L57.1,262.5L57.6,262.4L58.3,262.1L58.9,262.0L59.4,261.9L60.1,261.7L60.6,261.6L61.4,261.5L61.9,261.4L62.6,261.3L63.4,261.2L63.9,261.1L64.7,261.0L65.4,260.9L65.9,260.9L66.7,260.8L67.4,260.7L68.2,260.7L68.7,260.6L69.4,260.6L70.2,260.5L70.9,260.5L71.7,260.5L72.4,260.5L73.2,260.6L73.9,260.6L74.4,260.7L75.2,260.8L75.7,260.9L76.4,261.1L76.9,261.2L77.5,261.4L78.2,261.6L78.7,261.9L79.2,262.1L79.7,262.4L80.0,262.6L80.4,262.9L80.9,263.4L81.2,263.9L81.3,264.4L81.2,265.1L80.9,265.6L80.6,265.9L80.2,266.3L79.7,266.6L79.2,266.9L78.7,267.1L78.2,267.3L77.7,267.5L77.0,267.6L76.4,267.8L75.9,267.9L75.2,268.0L74.4,268.1Z" fill="#6a6a6a" fill-opacity="0.10" stroke="none"/>
<path d="M46.1,266.9L45.4,267.0L44.9,266.9L44.2,266.6L43.8,266.4L43.4,266.1L42.9,265.6L42.6,265.3L42.4,264.7L42.2,264.1L42.2,263.4L42.3,262.6L42.5,262.1L42.8,261.6L43.1,261.3L43.6,260.9L44.0,260.6L44.6,260.4L45.1,260.3L45.9,260.2L46.6,260.4L47.1,260.5L47.6,260.8L48.1,261.1L48.4,261.4L48.8,261.9L49.0,262.4L49.2,262.9L49.3,263.6L49.2,264.4L49.0,264.9L48.7,265.4L48.4,265.8L48.0,266.1L47.6,266.4L47.1,266.7L46.4,266.9Z M72.9,266.4L72.2,266.4L71.4,266.4L70.7,266.4L70.2,266.4L69.4,266.3L68.7,266.1L68.2,266.1L67.4,265.9L66.9,265.8L66.4,265.6L65.7,265.4L65.2,265.2L64.7,264.9L64.6,264.4L64.9,264.1L65.4,263.8L65.9,263.6L66.4,263.4L67.2,263.2L67.7,263.1L68.4,262.9L68.9,262.8L69.7,262.7L70.2,262.6L70.9,262.5L71.7,262.5L72.4,262.5L73.2,262.6L73.8,262.6L74.4,262.8L74.9,262.9L75.5,263.1L76.0,263.4L76.4,263.8L76.7,264.1L76.7,264.9L76.4,265.2L75.9,265.6L75.4,265.9L74.9,266.0L74.4,266.2L73.7,266.3L73.0,266.4Z" fill="#6a6a6a" fill-opacity="0.10" stroke="none"/>
<path d="M86.4,266.1L85.9,266.4L85.4,266.6L85.0,266.9L84.6,267.1L84.1,267.4L83.5,267.6L82.9,267.9L82.4,268.0L81.7,268.1L81.2,268.3L80.7,268.4L80.1,268.6L79.4,268.8L78.9,268.9L78.4,269.2L77.7,269.4L77.2,269.5L76.4,269.6L75.9,269.8L75.2,269.9L74.7,269.9L73.9,270.1L73.4,270.2L72.7,270.3L71.9,270.3L71.3,270.1L70.7,270.1L69.9,270.0L69.4,269.9L68.7,269.7L67.9,269.7L67.4,269.6L66.7,269.6L65.9,269.6L65.2,269.5L64.5,269.4L63.9,269.4L63.4,269.4L62.6,269.5L61.9,269.5L61.3,269.4L60.9,269.1L60.1,268.9L59.6,268.8L59.1,268.5L58.6,268.3L57.9,268.3L57.1,268.2L56.6,268.1L56.1,267.9L55.6,267.6L54.9,267.5L54.4,267.3L53.6,267.3L53.1,267.5L52.6,267.6L52.1,268.0L51.4,268.1L50.9,268.4L50.5,268.6L49.9,268.8L49.3,268.6L48.8,268.6L48.3,268.9L47.8,269.1L47.1,269.4L46.4,269.3L45.6,269.4L45.0,269.4L44.4,269.6L43.9,269.7L43.4,269.5L42.9,269.2L42.4,268.9L42.1,268.6L41.8,268.1L41.7,267.4L41.4,267.0L41.0,266.6L40.5,266.6L40.1,266.6L40.1,266.0L40.1,265.6L39.8,265.1L39.7,264.4L39.8,263.6L39.9,262.9L40.1,262.5L40.4,262.1L40.2,261.6L40.1,261.1L40.0,260.4L40.1,259.6L40.4,259.4L40.9,259.1L41.4,258.9L41.9,258.5L42.4,258.3L42.9,258.1L43.5,257.9L44.1,257.7L44.6,257.5L45.1,257.3L45.6,257.1L46.4,257.0L46.9,257.2L47.6,257.4L48.1,257.4L48.8,257.6L49.4,257.9L49.9,257.9L50.4,257.9L51.1,257.8L51.6,258.1L51.7,258.6L51.9,259.2L52.4,259.5L52.9,259.8L53.4,260.1L53.9,259.7L54.4,259.5L55.1,259.6L55.4,259.6L56.1,259.6L56.6,259.7L57.1,259.5L57.4,259.1L58.1,259.1L58.5,259.4L59.0,259.6L59.6,259.6L59.9,259.4L60.4,258.9L60.6,258.6L61.0,258.1L61.4,257.6L61.9,257.5L62.4,257.3L62.8,256.9L63.0,256.4L62.6,255.9L62.1,256.2L61.7,256.6L61.4,257.0L61.0,256.6L61.1,255.9L61.2,255.4L61.2,254.7L61.0,254.2L60.4,254.0L59.8,254.2L59.4,254.4L58.9,254.7L58.1,254.8L57.4,254.7L57.1,254.4L57.1,253.7L57.5,253.4L58.1,253.2L58.6,252.9L58.9,252.4L58.9,251.9L59.1,251.4L59.5,250.9L59.9,250.4L60.3,250.4L60.6,250.9L60.6,251.6L60.6,251.9L60.2,252.4L60.4,253.0L60.9,253.4L61.3,252.9L61.4,252.2L61.9,252.0L62.4,252.3L62.6,252.9L62.7,253.4L63.1,253.9L63.4,254.2L63.9,254.5L64.4,254.2L64.7,253.8L64.9,253.4L65.6,253.4L65.9,253.7L66.4,254.0L66.8,254.4L67.2,254.4L67.2,253.7L67.8,253.4L68.4,253.3L69.2,253.3L69.7,253.2L69.8,252.4L69.5,251.9L69.4,251.4L69.2,250.7L69.7,250.3L70.0,250.7L70.3,251.2L70.9,251.3L71.4,251.4L71.9,251.7L72.0,252.4L71.7,252.8L71.2,253.0L70.7,253.3L70.2,253.7L70.3,254.4L70.4,254.9L71.2,255.1L71.7,255.3L72.1,255.7L72.4,256.0L73.2,256.1L73.5,256.4L73.3,256.9L72.9,257.4L72.4,257.6L72.9,258.0L73.7,258.0L74.4,258.1L75.2,258.1L75.7,258.1L76.3,258.4L76.8,258.6L77.4,258.8L77.9,259.0L78.4,259.4L78.8,259.6L79.4,259.8L79.9,260.0L80.4,260.2L80.9,260.4L81.7,260.6L82.2,260.6L82.7,260.9L83.2,261.3L83.6,261.6L83.9,261.9L84.4,262.2L85.2,262.4L85.4,262.6L85.4,263.3L85.5,263.6L85.9,264.1L86.2,264.5L86.4,265.0 M70.3,258.1L70.4,257.4L70.2,256.6L69.7,256.6L69.4,257.0L69.2,257.6L69.4,258.2L70.2,258.2" fill="none" stroke="rgb(130,130,130)" stroke-width="0.4"/>
<path d="M73.7,269.7L72.9,269.7L72.2,269.7L71.5,269.6L70.9,269.6L70.2,269.5L69.4,269.4L68.9,269.3L68.2,269.2L67.7,269.1L66.9,269.1L66.4,269.2L65.9,269.1L65.2,269.0L64.6,268.9L63.9,268.8L63.2,268.9L62.9,268.9L62.1,268.7L61.4,268.7L60.9,268.5L60.4,268.4L59.7,268.1L59.3,267.9L58.6,267.7L58.0,267.6L57.4,267.6L56.8,267.4L56.3,267.1L56.0,266.6L55.8,266.1L55.4,265.9L54.9,266.0L54.4,266.3L53.8,266.4L53.1,266.5L52.6,266.8L52.1,267.0L51.6,267.2L51.1,267.4L50.6,267.6L49.9,267.9L49.1,267.8L48.4,267.9L47.9,268.1L47.4,268.2L46.6,268.3L45.9,268.3L45.1,268.4L44.6,268.4L43.9,268.4L43.4,268.3L42.9,268.1L42.5,267.6L42.2,267.1L41.9,266.7L41.6,266.4L41.4,265.9L41.1,265.4L40.9,264.6L40.8,264.1L40.8,263.4L40.9,262.9L41.1,262.2L41.3,261.6L41.5,261.1L41.7,260.6L42.0,260.1L42.4,259.8L42.9,259.4L43.2,259.1L43.7,258.9L44.4,258.7L44.9,258.6L45.6,258.6L46.4,258.6L46.9,258.7L47.6,258.9L48.1,259.0L48.9,259.1L49.4,259.2L50.1,259.4L50.6,259.6L50.9,259.9L51.1,260.6L51.6,260.9L52.1,261.1L52.6,261.3L53.1,261.5L53.9,261.5L54.6,261.5L55.2,261.4L55.6,261.0L56.0,260.6L56.6,260.6L57.1,260.8L57.9,260.7L58.6,260.7L59.1,260.6L59.9,260.5L60.4,260.2L60.8,259.9L61.4,259.8L62.1,259.7L62.6,259.5L63.4,259.6L64.1,259.4L64.7,259.4L65.4,259.2L65.7,258.9L65.9,258.4L66.4,257.9L67.1,258.1L67.5,258.4L68.2,258.5L68.7,258.8L69.1,259.1L69.7,259.2L70.2,259.1L70.9,259.1L71.7,259.0L72.4,259.0L73.2,259.1L73.9,259.1L74.4,259.2L75.1,259.4L75.7,259.4L76.4,259.6L76.9,259.7L77.7,259.9L78.1,260.1L78.7,260.4L79.2,260.5L79.7,260.7L80.2,260.9L80.7,261.4L81.0,261.6L81.7,261.8L82.2,262.0L82.5,262.4L82.7,262.9L83.2,263.4L83.6,263.6L83.8,264.1L84.0,264.6L84.3,265.1L84.2,265.9L83.9,266.2L83.4,266.6L83.0,266.9L82.6,267.1L81.9,267.4L81.4,267.5L80.9,267.7L80.2,267.9L79.7,268.0L78.9,268.1L78.4,268.4L78.0,268.6L77.4,268.9L76.9,269.0L76.4,269.2L75.7,269.3L74.9,269.4L74.4,269.5L73.9,269.6" fill="none" stroke="rgb(122,122,122)" stroke-width="0.4"/>
<path d="M74.2,269.2L73.4,269.3L72.7,269.3L71.9,269.2L71.2,269.2L70.7,269.1L69.9,269.1L69.3,268.9L68.7,268.7L67.9,268.7L67.2,268.7L66.4,268.8L65.7,268.7L65.2,268.6L64.5,268.4L63.9,268.3L63.1,268.4L62.4,268.2L61.9,268.1L61.1,268.1L60.4,267.9L59.9,267.7L59.4,267.4L58.9,267.2L58.1,267.2L57.6,267.0L57.1,266.7L56.6,266.5L56.4,266.1L56.0,265.6L55.6,265.2L55.4,264.8L55.2,264.1L54.9,263.8L54.1,263.8L53.8,264.1L53.8,264.9L53.5,265.4L52.9,265.5L52.4,265.7L52.0,266.1L51.6,266.4L51.1,266.7L50.6,267.0L49.9,267.0L49.1,267.1L48.6,267.2L48.1,267.5L47.6,267.7L46.9,267.9L46.4,267.9L45.6,268.0L44.9,267.9L44.1,267.9L43.6,267.9L43.1,267.6L42.7,267.1L42.4,266.8L42.0,266.4L41.7,265.9L41.5,265.4L41.4,264.9L41.3,264.1L41.2,263.4L41.3,262.6L41.5,262.1L41.7,261.6L42.0,261.1L42.3,260.6L42.6,260.3L43.1,259.9L43.4,259.6L43.9,259.4L44.6,259.2L45.1,259.1L45.9,259.1L46.6,259.1L47.1,259.3L47.6,259.5L48.2,259.6L48.7,259.9L49.1,260.3L49.4,260.7L49.8,261.1L50.1,261.6L50.6,261.8L51.1,262.0L51.6,262.3L52.1,262.5L52.9,262.5L53.4,262.4L54.1,262.3L54.6,262.1L55.4,261.9L55.9,261.6L56.4,261.5L56.9,261.8L57.6,261.7L58.1,261.4L58.6,261.4L59.4,261.2L59.9,261.1L60.4,261.2L60.9,261.0L61.4,260.6L61.9,260.4L62.4,260.3L63.1,260.4L63.6,260.4L64.2,260.4L64.9,260.4L65.7,260.3L66.2,260.1L66.7,259.8L67.4,259.7L68.2,259.8L68.9,259.8L69.7,259.7L70.4,259.8L71.2,259.8L71.9,259.8L72.7,259.7L73.4,259.8L74.0,259.9L74.7,260.1L75.2,260.2L75.9,260.2L76.7,260.4L77.2,260.5L77.7,260.8L78.2,261.0L78.9,261.1L79.4,261.3L79.9,261.5L80.3,261.9L80.7,262.2L81.2,262.6L81.6,262.9L81.3,263.4L81.4,263.9L81.9,264.2L82.6,264.4L83.0,264.6L83.2,265.1L82.9,265.6L82.4,265.9L82.2,266.2L81.8,266.6L81.4,266.9L80.7,267.1L80.2,267.2L79.4,267.3L78.9,267.4L78.4,267.6L77.9,267.9L77.4,268.3L76.9,268.5L76.2,268.6L75.7,268.7L74.9,268.9L74.4,269.1" fill="none" stroke="rgb(115,115,115)" stroke-width="0.4"/>
<path d="M46.1,267.7L45.4,267.7L44.9,267.6L44.1,267.6L43.4,267.4L43.1,267.1L42.6,266.7L42.4,266.4L42.0,265.9L41.8,265.4L41.7,264.6L41.6,264.1L41.5,263.4L41.6,262.6L41.7,262.1L42.0,261.6L42.3,261.1L42.6,260.8L43.0,260.4L43.4,260.0L43.9,259.7L44.4,259.5L45.1,259.4L45.8,259.4L46.4,259.4L46.9,259.5L47.4,259.7L47.9,259.9L48.4,260.2L48.9,260.6L49.1,260.9L49.5,261.4L49.8,261.9L50.1,262.4L50.5,262.6L50.9,263.0L51.2,263.4L51.4,264.1L51.6,264.6L51.6,264.9L51.1,265.3L50.6,265.6L50.1,265.9L49.6,266.1L49.3,266.4L48.9,266.6L48.4,266.9L47.9,267.2L47.4,267.4L46.6,267.6L46.1,267.7 M74.2,268.7L73.4,268.9L72.7,268.9L71.9,268.8L71.2,268.8L70.4,268.7L69.9,268.6L69.4,268.4L68.7,268.3L67.9,268.2L67.2,268.2L66.4,268.3L65.7,268.3L65.1,268.1L64.4,267.9L63.9,267.9L63.3,267.9L62.9,267.9L62.2,267.6L61.6,267.6L60.9,267.5L60.4,267.3L59.9,267.1L59.4,266.9L58.9,266.6L58.2,266.4L57.8,266.1L57.3,265.9L56.9,265.6L56.5,265.1L56.2,264.6L55.9,264.1L56.1,263.6L56.4,263.1L56.9,262.7L57.4,262.6L58.1,262.4L58.6,262.1L59.1,261.9L59.6,261.7L60.4,261.8L60.9,261.6L61.4,261.4L61.9,261.1L62.6,261.0L63.4,261.0L64.2,261.0L64.9,261.1L65.7,260.9L66.2,260.8L66.7,260.6L67.4,260.6L68.2,260.5L68.9,260.4L69.4,260.4L69.9,260.4L70.7,260.6L71.4,260.6L72.0,260.4L72.7,260.3L73.2,260.4L73.9,260.6L74.4,260.7L75.2,260.7L75.9,260.8L76.6,260.9L77.2,261.1L77.4,261.4L77.7,262.0L78.1,262.4L78.7,262.5L79.4,262.6L79.7,263.0L79.7,263.6L79.7,264.0L80.2,264.3L80.8,264.4L81.2,264.6L81.5,265.1L81.4,265.8L81.0,266.1L80.4,266.4L79.9,266.5L79.2,266.5L78.7,266.7L78.2,267.1L77.7,267.3L77.2,267.6L76.7,267.9L76.2,268.0L75.4,268.1L74.9,268.3L74.4,268.6" fill="none" stroke="rgb(108,108,108)" stroke-width="0.4"/>
<path d="M46.4,267.4L45.6,267.5L44.9,267.4L44.4,267.4L43.6,267.2L43.2,266.9L42.9,266.6L42.4,266.1L42.1,265.7L41.9,265.1L41.9,264.6L41.8,263.9L41.7,263.1L41.9,262.4L42.1,261.9L42.4,261.4L42.6,261.1L43.1,260.6L43.4,260.3L43.9,260.0L44.4,259.8L45.1,259.7L45.7,259.6L46.4,259.6L46.9,259.7L47.4,260.0L47.9,260.2L48.4,260.6L48.8,260.9L49.1,261.4L49.4,261.9L49.6,262.4L49.9,262.8L50.1,263.3L50.2,263.9L50.0,264.4L49.9,264.9L49.6,265.5L49.3,265.9L48.9,266.3L48.4,266.6L47.9,266.9L47.4,267.1L46.9,267.3L46.4,267.4 M73.4,268.4L72.7,268.5L72.0,268.4L71.4,268.3L70.7,268.3L70.1,268.1L69.5,267.9L68.9,267.8L68.2,267.8L67.4,267.7L66.7,267.8L65.9,267.9L65.2,267.7L64.7,267.5L63.9,267.4L63.3,267.4L62.6,267.2L62.1,267.1L61.4,266.9L60.9,266.9L60.1,266.8L59.6,266.5L59.1,266.3L58.6,266.0L58.2,265.6L57.8,265.4L57.5,264.9L57.4,264.4L57.1,263.8L57.3,263.4L57.9,263.3L58.4,263.1L59.0,262.9L59.4,262.6L60.1,262.4L60.6,262.3L61.1,262.1L61.6,261.9L62.4,261.8L63.1,261.7L63.6,261.6L64.4,261.6L65.2,261.6L65.9,261.6L66.7,261.6L67.2,261.4L67.7,261.1L68.4,261.1L68.9,261.4L69.2,261.7L69.9,261.6L70.2,261.4L70.9,261.3L71.5,261.1L72.1,260.9L72.6,260.9L73.2,261.1L73.9,261.1L74.4,261.2L75.2,261.2L75.9,261.3L76.4,261.4L76.9,261.8L77.2,262.2L77.7,262.6L78.2,262.8L78.7,263.1L78.8,263.6L78.4,264.0L77.9,264.3L77.7,264.8L77.8,265.1L77.9,265.6L77.7,266.1L77.4,266.6L77.1,266.9L76.7,267.2L76.1,267.4L75.4,267.6L74.9,267.8L74.4,268.0L73.9,268.3L73.4,268.4" fill="none" stroke="rgb(100,100,100)" stroke-width="0.4"/>
<path d="M46.4,267.2L45.6,267.2L44.9,267.2L44.4,267.1L43.6,266.9L43.2,266.6L42.9,266.3L42.5,265.9L42.3,265.4L42.1,264.9L42.1,264.1L41.9,263.4L42.0,262.6L42.2,262.1L42.5,261.6L42.9,261.2L43.2,260.9L43.6,260.4L44.0,260.1L44.6,260.0L45.4,259.9L45.9,259.9L46.6,259.9L47.1,260.1L47.6,260.4L48.1,260.6L48.4,260.9L48.8,261.4L49.1,261.9L49.4,262.4L49.6,262.9L49.7,263.4L49.6,263.9L49.5,264.6L49.4,265.2L49.1,265.6L48.6,266.1L48.2,266.4L47.8,266.6L47.3,266.9L46.6,267.1 M73.4,267.9L72.7,268.0L71.9,267.9L71.4,267.8L70.7,267.7L70.1,267.6L69.5,267.4L68.9,267.2L68.2,267.3L67.4,267.2L66.7,267.3L65.9,267.3L65.3,267.1L64.7,267.0L63.9,266.9L63.4,266.8L62.9,266.5L62.4,266.3L61.6,266.2L61.1,266.1L60.5,265.9L59.9,265.7L59.4,265.4L59.6,265.2L59.9,264.7L60.0,264.1L60.1,263.5L60.4,263.1L61.0,262.9L61.6,262.8L62.4,262.7L62.9,262.6L63.6,262.4L64.2,262.3L64.9,262.4L65.7,262.3L66.4,262.4L67.2,262.3L67.7,262.0L68.2,261.8L68.5,262.1L69.0,262.4L69.7,262.4L70.2,262.2L70.7,261.9L71.2,261.8L71.7,261.6L72.4,261.4L73.0,261.6L73.7,261.7L74.2,261.6L74.9,261.6L75.4,261.8L75.9,262.1L76.3,262.4L76.7,262.9L76.9,263.2L77.2,263.6L76.9,263.9L76.9,264.6L77.1,265.1L77.0,265.9L76.7,266.3L76.2,266.6L75.7,266.8L75.2,267.1L74.7,267.3L74.2,267.6L73.7,267.8" fill="none" stroke="rgb(93,93,93)" stroke-width="0.4"/>
<path d="M46.4,267.0L45.6,267.0L44.9,267.0L44.3,266.9L43.6,266.7L43.3,266.4L42.9,266.0L42.6,265.6L42.4,264.9L42.3,264.4L42.2,263.6L42.1,263.1L42.2,262.6L42.5,262.1L42.9,261.6L43.1,261.3L43.5,260.9L43.9,260.5L44.4,260.3L45.1,260.2L45.6,260.1L46.4,260.1L46.9,260.3L47.4,260.5L47.9,260.8L48.3,261.1L48.6,261.6L48.9,262.0L49.1,262.6L49.3,263.1L49.3,263.9L49.3,264.6L49.1,265.1L48.8,265.6L48.4,266.0L47.9,266.3L47.4,266.5L46.9,266.8L46.4,267.0 M73.4,267.5L72.7,267.6L71.9,267.5L71.4,267.2L70.9,267.0L70.2,267.0L69.7,266.8L69.2,266.5L68.4,266.6L68.0,266.6L67.4,266.5L66.7,266.6L65.9,266.6L65.2,266.4L64.7,266.4L63.9,266.2L63.4,265.9L62.9,265.7L62.4,265.5L61.9,265.2L61.4,265.1L60.9,264.8L60.9,264.3L61.4,264.4L61.9,264.7L62.5,264.6L62.9,264.3L63.1,263.8L63.6,263.6L64.2,263.7L64.7,263.6L65.2,263.4L65.7,263.0L66.2,262.9L66.7,263.0L67.2,263.2L67.9,263.2L68.4,263.0L69.2,263.0L69.7,262.9L70.2,262.6L70.8,262.4L71.4,262.2L72.2,262.2L72.9,262.3L73.7,262.2L74.2,262.1L74.7,262.2L75.2,262.6L75.2,263.1L75.3,263.9L75.7,264.2L76.2,264.6L76.4,265.0L76.4,265.6L76.1,265.9L75.6,266.1L75.0,266.4L74.6,266.6L74.2,267.0L73.7,267.3" fill="none" stroke="rgb(86,86,86)" stroke-width="0.4"/>
<path d="M46.4,266.7L45.6,266.8L44.9,266.8L44.3,266.6L43.7,266.4L43.4,266.1L43.0,265.6L42.7,265.1L42.6,264.6L42.5,263.9L42.4,263.4L42.4,262.9L42.6,262.4L43.0,261.9L43.4,261.4L43.6,261.1L44.1,260.6L44.6,260.5L45.4,260.4L45.9,260.3L46.5,260.4L47.1,260.6L47.5,260.9L47.9,261.1L48.4,261.6L48.6,262.1L48.9,262.6L49.1,263.1L49.1,263.9L49.0,264.6L48.8,265.1L48.4,265.6L48.0,265.9L47.4,266.1L47.0,266.4L46.5,266.6 M72.7,267.2L72.2,267.1L71.7,266.7L71.3,266.4L70.7,266.2L69.9,266.2L69.6,265.9L69.2,265.4L68.9,265.1L68.4,265.3L67.9,265.5L67.6,265.1L67.9,264.6L68.2,264.2L68.4,263.9L68.9,263.6L69.7,263.6L70.3,263.4L70.8,263.1L71.3,262.9L71.9,262.8L72.7,262.9L73.4,262.9L74.2,262.9L74.4,263.1L74.5,263.9L74.7,264.6L75.0,264.9L75.2,265.4L74.8,265.6L74.3,265.9L73.9,266.2L73.6,266.6L73.2,267.0L72.7,267.2" fill="none" stroke="rgb(79,79,79)" stroke-width="0.4"/>
<path d="M46.1,266.5L45.4,266.5L44.6,266.5L44.1,266.3L43.6,266.0L43.4,265.6L43.1,265.1L42.9,264.6L42.7,263.9L42.6,263.4L42.7,262.9L42.9,262.4L43.3,261.9L43.6,261.5L44.0,261.1L44.4,260.8L45.1,260.7L45.6,260.6L46.4,260.6L46.9,260.9L47.4,261.1L47.8,261.4L48.1,261.8L48.4,262.1L48.7,262.6L48.8,263.4L48.8,264.1L48.6,264.6L48.4,265.2L47.9,265.6L47.4,265.8L46.9,266.1L46.4,266.4 M71.7,265.4L70.9,265.5L70.4,265.4L69.9,265.0L69.9,264.4L70.4,264.2L70.9,264.0L71.5,263.9L72.1,263.6L72.7,263.6L73.2,263.8L73.2,264.3L72.7,264.6L72.2,264.8L71.8,265.1" fill="none" stroke="rgb(71,71,71)" stroke-width="0.4"/>
<path d="M45.6,266.2L44.9,266.2L44.4,266.0L43.9,265.7L43.6,265.4L43.3,264.9L43.1,264.4L42.9,263.6L42.9,263.3L43.1,262.6L43.4,262.3L43.7,261.9L44.1,261.4L44.4,261.1L45.1,261.0L45.6,260.9L46.2,260.9L46.8,261.1L47.3,261.4L47.6,261.7L48.0,262.1L48.4,262.6L48.6,263.1L48.5,263.9L48.4,264.4L48.1,265.0L47.8,265.4L47.1,265.6L46.6,265.8L46.1,266.1L45.6,266.2" fill="none" stroke="rgb(64,64,64)" stroke-width="0.4"/>
<path d="M46.1,265.7L45.4,265.7L44.6,265.7L44.2,265.4L43.9,265.1L43.5,264.6L43.3,264.1L43.2,263.4L43.4,262.9L43.7,262.4L44.1,261.9L44.4,261.5L44.9,261.3L45.6,261.2L46.4,261.3L46.9,261.5L47.3,261.9L47.6,262.2L48.0,262.6L48.3,263.1L48.2,263.9L48.1,264.4L47.9,264.9L47.4,265.3L46.9,265.4L46.2,265.6" fill="none" stroke="rgb(57,57,57)" stroke-width="0.4"/>
<path d="M46.6,265.2L45.9,265.3L45.1,265.2L44.6,265.1L44.1,264.8L43.8,264.4L43.6,263.8L43.7,263.4L43.9,262.8L44.1,262.3L44.5,261.9L45.0,261.6L45.6,261.6L46.2,261.6L46.7,261.9L47.1,262.3L47.6,262.6L47.9,263.1L47.9,263.6L47.9,264.1L47.6,264.7L47.1,265.0L46.6,265.2" fill="none" stroke="rgb(50,50,50)" stroke-width="0.4"/>
</g>
<rect x="31.40" y="222.4" width="55" height="53.60" fill="none" stroke="#9a9a9a" stroke-width="0.6"/>
<rect x="54.20" y="232.2" width="28.6" height="43.30" fill="none" stroke="#777" stroke-width="0.55"/>
<text x="67.80" y="229.60" font-size="4.6" fill="#222" text-anchor="middle" font-weight="normal" >53.9</text>
<text x="27.40" y="228.50" font-size="3.9" fill="#444" text-anchor="end">10<tspan font-size="2.34" dy="-1.56">5</tspan></text>
<line x1="29.80" y1="227.20" x2="31.40" y2="227.20" stroke="#444" stroke-width="0.5" />
<text x="27.40" y="242.00" font-size="3.9" fill="#444" text-anchor="end">10<tspan font-size="2.34" dy="-1.56">4</tspan></text>
<line x1="29.80" y1="240.70" x2="31.40" y2="240.70" stroke="#444" stroke-width="0.5" />
<text x="27.40" y="255.40" font-size="3.9" fill="#444" text-anchor="end">10<tspan font-size="2.34" dy="-1.56">3</tspan></text>
<line x1="29.80" y1="254.10" x2="31.40" y2="254.10" stroke="#444" stroke-width="0.5" />
<text x="26.60" y="264.90" font-size="3.9" fill="#444" text-anchor="end" font-weight="normal" >0</text>
<line x1="29.80" y1="263.60" x2="31.40" y2="263.60" stroke="#444" stroke-width="0.5" />
<text x="27.40" y="273.10" font-size="3.9" fill="#444" text-anchor="end">-10<tspan font-size="2.34" dy="-1.56">3</tspan></text>
<line x1="29.80" y1="272.20" x2="31.40" y2="272.20" stroke="#444" stroke-width="0.5" />
<rect x="30.60" y="262.6" width="1.4" height="2.0" fill="#111"/>
<rect x="41.20" y="275.80" width="3.2" height="1.3" fill="#111"/>
<text x="42.10" y="282.60" font-size="3.9" fill="#444" text-anchor="middle" font-weight="normal" >0</text>
<line x1="42.10" y1="276.00" x2="42.10" y2="277.40" stroke="#444" stroke-width="0.5" />
<text x="53.90" y="282.60" font-size="3.9" fill="#444" text-anchor="middle">10<tspan font-size="2.34" dy="-1.56">3</tspan></text>
<line x1="54.50" y1="276.00" x2="54.50" y2="277.40" stroke="#444" stroke-width="0.5" />
<text x="67.30" y="282.60" font-size="3.9" fill="#444" text-anchor="middle">10<tspan font-size="2.34" dy="-1.56">4</tspan></text>
<line x1="67.90" y1="276.00" x2="67.90" y2="277.40" stroke="#444" stroke-width="0.5" />
<text x="80.20" y="282.60" font-size="3.9" fill="#444" text-anchor="middle">10<tspan font-size="2.34" dy="-1.56">5</tspan></text>
<line x1="80.80" y1="276.00" x2="80.80" y2="277.40" stroke="#444" stroke-width="0.5" />
<text x="132.80" y="218.30" font-size="6.2" fill="#222" text-anchor="middle" font-weight="normal" >IL-4</text>
<clipPath id="clip11"><rect x="105.80" y="222.40" width="55" height="53.599999999999994"/></clipPath>
<g clip-path="url(#clip11)">
<circle cx="125.6" cy="257.6" r="0.3" fill="#bcbcbc"/>
<circle cx="116.7" cy="258.7" r="0.3" fill="#bcbcbc"/>
<circle cx="107.0" cy="257.2" r="0.3" fill="#bcbcbc"/>
<circle cx="112.4" cy="268.4" r="0.3" fill="#bcbcbc"/>
<circle cx="146.4" cy="270.9" r="0.3" fill="#bcbcbc"/>
<circle cx="152.0" cy="265.5" r="0.3" fill="#bcbcbc"/>
<circle cx="130.5" cy="254.4" r="0.3" fill="#bcbcbc"/>
<circle cx="153.0" cy="262.6" r="0.3" fill="#bcbcbc"/>
<circle cx="115.1" cy="250.5" r="0.3" fill="#bcbcbc"/>
<circle cx="111.3" cy="263.9" r="0.3" fill="#bcbcbc"/>
<circle cx="121.8" cy="261.1" r="0.3" fill="#bcbcbc"/>
<circle cx="152.4" cy="255.3" r="0.3" fill="#bcbcbc"/>
<circle cx="112.7" cy="269.0" r="0.3" fill="#bcbcbc"/>
<circle cx="123.3" cy="263.2" r="0.3" fill="#bcbcbc"/>
<circle cx="140.6" cy="261.6" r="0.3" fill="#bcbcbc"/>
<circle cx="114.6" cy="250.1" r="0.3" fill="#bcbcbc"/>
<circle cx="147.2" cy="252.0" r="0.3" fill="#bcbcbc"/>
<circle cx="142.7" cy="265.8" r="0.3" fill="#bcbcbc"/>
<circle cx="136.1" cy="265.9" r="0.3" fill="#bcbcbc"/>
<circle cx="121.2" cy="264.6" r="0.3" fill="#bcbcbc"/>
<circle cx="132.8" cy="271.2" r="0.3" fill="#bcbcbc"/>
<circle cx="132.6" cy="269.8" r="0.3" fill="#bcbcbc"/>
<circle cx="122.2" cy="267.3" r="0.3" fill="#bcbcbc"/>
<circle cx="142.8" cy="254.1" r="0.3" fill="#bcbcbc"/>
<circle cx="137.6" cy="263.3" r="0.3" fill="#bcbcbc"/>
<circle cx="129.4" cy="269.5" r="0.3" fill="#bcbcbc"/>
<circle cx="150.1" cy="269.2" r="0.3" fill="#bcbcbc"/>
<circle cx="134.0" cy="264.1" r="0.3" fill="#bcbcbc"/>
<circle cx="117.8" cy="266.3" r="0.3" fill="#bcbcbc"/>
<circle cx="150.4" cy="257.7" r="0.3" fill="#bcbcbc"/>
<circle cx="129.8" cy="274.3" r="0.3" fill="#bcbcbc"/>
<circle cx="121.5" cy="263.8" r="0.3" fill="#bcbcbc"/>
<circle cx="111.5" cy="249.0" r="0.3" fill="#bcbcbc"/>
<circle cx="137.0" cy="257.2" r="0.3" fill="#bcbcbc"/>
<circle cx="125.0" cy="251.5" r="0.3" fill="#bcbcbc"/>
<circle cx="113.8" cy="257.6" r="0.3" fill="#bcbcbc"/>
<circle cx="120.3" cy="261.6" r="0.3" fill="#bcbcbc"/>
<circle cx="116.5" cy="263.4" r="0.3" fill="#bcbcbc"/>
<circle cx="131.1" cy="271.5" r="0.3" fill="#bcbcbc"/>
<circle cx="120.5" cy="260.4" r="0.3" fill="#bcbcbc"/>
<circle cx="142.7" cy="269.7" r="0.3" fill="#bcbcbc"/>
<circle cx="140.3" cy="261.7" r="0.3" fill="#bcbcbc"/>
<circle cx="120.9" cy="239.8" r="0.3" fill="#bcbcbc"/>
<circle cx="145.7" cy="253.0" r="0.3" fill="#bcbcbc"/>
<circle cx="108.5" cy="249.9" r="0.3" fill="#bcbcbc"/>
<circle cx="109.8" cy="270.2" r="0.3" fill="#bcbcbc"/>
<circle cx="108.6" cy="248.3" r="0.3" fill="#bcbcbc"/>
<circle cx="133.1" cy="259.5" r="0.3" fill="#bcbcbc"/>
<circle cx="119.9" cy="260.5" r="0.3" fill="#bcbcbc"/>
<circle cx="143.1" cy="275.2" r="0.3" fill="#bcbcbc"/>
<circle cx="126.8" cy="272.3" r="0.3" fill="#bcbcbc"/>
<circle cx="149.4" cy="251.3" r="0.32" fill="#b8b8b8"/>
<circle cx="129.0" cy="252.4" r="0.32" fill="#b8b8b8"/>
<circle cx="139.4" cy="257.7" r="0.32" fill="#b8b8b8"/>
<circle cx="139.5" cy="250.1" r="0.32" fill="#b8b8b8"/>
<circle cx="141.4" cy="258.2" r="0.32" fill="#b8b8b8"/>
<circle cx="140.2" cy="244.5" r="0.32" fill="#b8b8b8"/>
<circle cx="141.3" cy="243.3" r="0.32" fill="#b8b8b8"/>
<circle cx="140.1" cy="246.3" r="0.32" fill="#b8b8b8"/>
<circle cx="141.0" cy="259.9" r="0.32" fill="#b8b8b8"/>
<circle cx="135.6" cy="246.7" r="0.32" fill="#b8b8b8"/>
<circle cx="137.2" cy="251.1" r="0.32" fill="#b8b8b8"/>
<circle cx="129.3" cy="241.6" r="0.32" fill="#b8b8b8"/>
<circle cx="138.5" cy="250.2" r="0.32" fill="#b8b8b8"/>
<circle cx="138.4" cy="242.9" r="0.32" fill="#b8b8b8"/>
<circle cx="131.9" cy="250.0" r="0.32" fill="#b8b8b8"/>
<circle cx="150.3" cy="248.7" r="0.32" fill="#b8b8b8"/>
<circle cx="140.3" cy="249.5" r="0.32" fill="#b8b8b8"/>
<circle cx="131.3" cy="244.2" r="0.32" fill="#b8b8b8"/>
<circle cx="136.7" cy="248.5" r="0.32" fill="#b8b8b8"/>
<circle cx="138.5" cy="237.9" r="0.32" fill="#b8b8b8"/>
<circle cx="147.8" cy="258.2" r="0.32" fill="#b8b8b8"/>
<circle cx="136.7" cy="249.2" r="0.32" fill="#b8b8b8"/>
<circle cx="140.9" cy="251.9" r="0.32" fill="#b8b8b8"/>
<circle cx="127.0" cy="257.7" r="0.32" fill="#b8b8b8"/>
<circle cx="135.1" cy="255.2" r="0.32" fill="#b8b8b8"/>
<circle cx="139.4" cy="243.7" r="0.32" fill="#b8b8b8"/>
<circle cx="137.7" cy="252.7" r="0.32" fill="#b8b8b8"/>
<circle cx="131.9" cy="243.8" r="0.32" fill="#b8b8b8"/>
<circle cx="134.9" cy="234.4" r="0.32" fill="#b8b8b8"/>
<circle cx="149.2" cy="250.5" r="0.32" fill="#b8b8b8"/>
<circle cx="138.6" cy="254.5" r="0.32" fill="#b8b8b8"/>
<circle cx="131.1" cy="245.9" r="0.32" fill="#b8b8b8"/>
<circle cx="152.6" cy="253.3" r="0.32" fill="#b8b8b8"/>
<circle cx="121.0" cy="223.1" r="0.32" fill="#b8b8b8"/>
<circle cx="130.5" cy="253.8" r="0.32" fill="#b8b8b8"/>
<circle cx="135.0" cy="244.9" r="0.32" fill="#b8b8b8"/>
<circle cx="143.7" cy="240.2" r="0.32" fill="#b8b8b8"/>
<circle cx="140.5" cy="251.9" r="0.32" fill="#b8b8b8"/>
<circle cx="142.5" cy="249.2" r="0.32" fill="#b8b8b8"/>
<circle cx="134.0" cy="250.0" r="0.32" fill="#b8b8b8"/>
<circle cx="135.4" cy="255.5" r="0.32" fill="#b8b8b8"/>
<circle cx="159.4" cy="241.2" r="0.32" fill="#b8b8b8"/>
<circle cx="121.4" cy="243.4" r="0.32" fill="#b8b8b8"/>
<circle cx="141.8" cy="253.8" r="0.32" fill="#b8b8b8"/>
<circle cx="147.4" cy="240.9" r="0.32" fill="#b8b8b8"/>
<circle cx="132.5" cy="255.3" r="0.32" fill="#b8b8b8"/>
<circle cx="130.1" cy="254.0" r="0.32" fill="#b8b8b8"/>
<circle cx="137.0" cy="251.8" r="0.32" fill="#b8b8b8"/>
<circle cx="144.4" cy="251.8" r="0.32" fill="#b8b8b8"/>
<circle cx="145.4" cy="239.5" r="0.32" fill="#b8b8b8"/>
<path d="M121.5,270.7L120.8,270.7L120.3,270.6L119.5,270.6L118.9,270.4L118.3,270.2L117.8,270.0L117.3,269.8L116.8,269.5L116.3,269.2L115.9,268.9L115.5,268.6L115.0,268.3L114.7,267.9L114.3,267.5L114.0,267.1L113.6,266.6L113.4,266.1L113.2,265.6L113.1,264.9L113.0,264.4L112.9,263.6L112.9,262.9L112.8,262.1L112.9,261.4L112.9,260.6L113.0,259.9L113.2,259.4L113.3,258.9L113.5,258.2L113.8,257.7L114.0,257.2L114.3,256.8L114.5,256.4L114.9,255.9L115.3,255.4L115.6,255.2L116.0,254.7L116.4,254.4L116.8,254.1L117.3,253.8L117.8,253.5L118.3,253.2L118.8,253.0L119.3,252.8L119.8,252.6L120.5,252.4L121.0,252.2L121.5,251.9L121.9,251.7L122.2,251.2L122.4,250.7L122.5,250.1L122.8,249.4L123.0,248.9L123.2,248.4L123.4,247.9L123.7,247.4L123.9,246.9L124.3,246.4L124.5,246.0L124.8,245.6L125.2,245.2L125.5,244.7L125.9,244.4L126.3,244.0L126.7,243.7L127.0,243.3L127.5,242.9L127.9,242.7L128.3,242.4L128.8,242.1L129.3,241.8L129.8,241.5L130.3,241.2L130.8,241.0L131.3,240.8L131.8,240.6L132.4,240.4L133.1,240.2L133.6,240.1L134.3,239.9L134.8,239.8L135.6,239.7L136.1,239.6L136.8,239.6L137.6,239.6L138.3,239.6L139.1,239.6L139.6,239.7L140.3,239.7L141.1,239.9L141.6,240.0L142.3,240.1L142.8,240.3L143.3,240.4L143.9,240.7L144.5,240.9L145.1,241.1L145.6,241.4L146.1,241.6L146.5,241.9L146.9,242.2L147.3,242.4L147.8,242.7L148.3,243.1L148.7,243.4L149.1,243.7L149.5,244.2L149.8,244.5L150.2,244.9L150.6,245.3L150.8,245.7L151.2,246.2L151.5,246.7L151.8,247.1L152.1,247.6L152.3,248.1L152.5,248.7L152.7,249.2L152.9,249.7L153.1,250.2L153.2,250.9L153.3,251.4L153.4,252.2L153.5,252.9L153.5,253.7L153.5,254.4L153.4,255.2L153.3,255.7L153.1,256.4L153.0,256.9L152.9,257.6L152.9,258.4L152.9,259.1L152.9,259.9L152.9,260.6L152.9,261.4L152.9,262.1L152.9,262.9L153.0,263.6L153.1,264.1L153.3,264.8L153.5,265.4L153.4,266.1L153.1,266.6L152.8,267.0L152.3,267.4L152.0,267.6L151.6,267.9L151.1,268.2L150.6,268.5L150.1,268.8L149.6,269.0L149.1,269.3L148.6,269.5L148.0,269.6L147.3,269.9L146.8,270.0L146.1,270.1L145.3,270.1L144.6,270.1L143.8,270.1L143.1,270.0L142.3,270.0L141.6,270.0L140.8,270.1L140.1,270.1L139.3,270.1L138.8,270.2L138.1,270.2L137.3,270.2L136.6,270.3L135.8,270.3L135.1,270.3L134.3,270.3L133.6,270.3L132.8,270.3L132.1,270.2L131.3,270.2L130.7,270.1L130.1,270.1L129.3,270.1L128.6,270.0L127.8,270.0L127.0,269.9L126.5,269.9L126.0,269.9L125.3,270.0L124.5,270.1L124.0,270.2L123.3,270.4L122.8,270.5L122.0,270.6L121.5,270.7Z" fill="#6a6a6a" fill-opacity="0.10" stroke="none"/>
<path d="M121.3,269.7L120.6,269.6L120.0,269.6L119.3,269.5L118.8,269.3L118.3,269.1L117.7,268.9L117.3,268.6L116.8,268.4L116.3,268.0L115.9,267.6L115.5,267.3L115.2,266.9L114.8,266.4L114.6,265.9L114.4,265.4L114.2,264.9L114.0,264.2L114.0,263.6L113.9,262.9L113.8,262.1L113.8,261.4L113.9,260.6L114.0,259.9L114.2,259.4L114.4,258.9L114.6,258.4L114.8,257.9L115.1,257.4L115.5,256.9L115.8,256.5L116.1,256.1L116.5,255.7L117.0,255.4L117.4,255.2L117.8,254.9L118.3,254.6L118.9,254.4L119.5,254.2L120.0,254.1L120.8,254.0L121.5,254.0L122.3,254.1L122.8,254.2L123.5,254.4L124.0,254.6L124.5,254.8L125.0,255.1L125.5,255.4L125.9,255.7L126.3,256.0L126.7,256.4L127.0,256.8L127.3,257.2L127.5,257.7L127.8,258.2L128.0,258.9L128.2,259.4L128.3,260.1L128.3,260.6L128.4,261.4L128.8,261.9L129.3,262.1L129.8,262.2L130.3,262.1L131.1,262.0L131.8,261.9L132.3,261.9L133.1,261.8L133.8,261.7L134.3,261.6L135.1,261.5L135.8,261.5L136.6,261.4L137.1,261.4L137.8,261.2L137.8,260.9L137.1,260.6L136.6,260.5L136.0,260.4L135.3,260.2L134.8,260.0L134.3,259.8L133.8,259.6L133.3,259.3L132.8,259.0L132.3,258.6L132.0,258.4L131.6,257.9L131.3,257.6L130.9,257.1L130.6,256.6L130.3,256.1L130.1,255.7L130.0,255.2L129.8,254.4L129.7,253.9L129.7,253.2L129.8,252.4L129.9,251.9L130.1,251.4L130.3,250.8L130.6,250.3L130.8,249.9L131.1,249.4L131.5,248.9L131.8,248.6L132.3,248.2L132.7,247.9L133.1,247.6L133.6,247.3L134.1,247.1L134.6,246.9L135.2,246.7L135.8,246.5L136.3,246.4L137.1,246.3L137.8,246.3L138.6,246.3L139.3,246.4L139.8,246.5L140.4,246.7L141.1,246.9L141.6,247.1L142.1,247.3L142.6,247.6L142.9,247.9L143.3,248.2L143.8,248.6L144.1,248.9L144.5,249.4L144.8,249.9L145.1,250.3L145.3,250.8L145.5,251.4L145.7,251.9L145.8,252.4L146.0,253.2L146.1,253.7L146.4,254.2L146.8,254.6L147.1,254.9L147.6,255.2L148.1,255.6L148.4,255.9L148.8,256.3L149.2,256.6L149.6,257.1L149.8,257.4L150.2,257.9L150.5,258.4L150.7,258.9L150.9,259.4L151.1,259.9L151.3,260.6L151.4,261.1L151.4,261.9L151.4,262.6L151.4,263.4L151.4,264.1L151.4,264.9L151.3,265.5L151.1,266.1L150.8,266.5L150.5,266.9L150.1,267.3L149.6,267.6L149.2,267.9L148.8,268.1L148.2,268.4L147.6,268.6L147.1,268.8L146.4,268.9L145.8,269.0L145.1,269.0L144.3,269.0L143.6,269.0L142.8,269.0L142.1,268.9L141.3,269.0L140.6,269.0L139.8,269.1L139.1,269.1L138.6,269.2L137.8,269.2L137.1,269.2L136.3,269.3L135.6,269.3L134.8,269.3L134.1,269.3L133.3,269.3L132.6,269.3L131.8,269.3L131.1,269.2L130.3,269.2L129.8,269.1L129.1,269.1L128.3,269.0L127.5,269.0L126.8,268.9L126.0,268.9L125.3,269.0L124.5,269.1L124.0,269.2L123.3,269.4L122.8,269.5L122.0,269.6L121.4,269.6Z" fill="#6a6a6a" fill-opacity="0.10" stroke="none"/>
<path d="M122.8,268.4L122.0,268.5L121.3,268.6L120.5,268.6L119.8,268.5L119.3,268.3L118.7,268.1L118.2,267.9L117.7,267.6L117.3,267.4L116.8,266.9L116.5,266.6L116.1,266.1L115.8,265.7L115.5,265.2L115.4,264.6L115.2,264.1L115.0,263.4L115.0,262.9L114.9,262.1L114.9,261.4L115.0,260.6L115.1,260.1L115.3,259.6L115.5,259.0L115.8,258.5L116.0,258.1L116.3,257.6L116.8,257.1L117.0,256.9L117.5,256.5L118.0,256.1L118.5,255.9L119.0,255.7L119.5,255.5L120.1,255.4L120.8,255.3L121.5,255.4L122.0,255.4L122.8,255.7L123.3,255.9L123.8,256.1L124.2,256.4L124.5,256.7L125.0,257.1L125.3,257.4L125.7,257.9L126.0,258.4L126.3,258.9L126.5,259.4L126.6,259.9L126.8,260.6L126.8,261.1L126.9,261.9L127.1,262.4L127.3,263.0L127.6,263.4L128.1,263.7L128.6,263.9L129.3,264.0L130.1,263.9L130.6,263.9L131.3,263.8L132.1,263.7L132.8,263.7L133.6,263.7L134.1,263.6L134.8,263.6L135.6,263.6L136.1,263.7L136.8,263.7L137.6,263.7L138.3,263.8L139.1,263.8L139.7,263.6L140.2,263.4L140.6,263.1L140.9,262.6L141.2,262.1L141.3,261.6L141.5,260.9L141.6,260.4L141.8,259.9L142.1,259.4L142.4,258.9L142.8,258.5L143.2,258.1L143.6,257.9L144.1,257.6L144.8,257.5L145.3,257.4L145.8,257.4L146.6,257.6L147.1,257.7L147.6,258.0L148.1,258.3L148.4,258.6L148.8,259.1L149.1,259.5L149.3,259.9L149.6,260.5L149.7,261.1L149.8,261.6L149.9,262.4L149.9,263.1L149.8,263.9L149.8,264.4L149.6,265.1L149.3,265.6L149.1,266.1L148.8,266.4L148.3,266.8L147.8,267.1L147.3,267.3L146.8,267.5L146.2,267.6L145.6,267.7L144.8,267.8L144.1,267.8L143.3,267.7L142.8,267.6L142.1,267.5L141.3,267.5L140.6,267.4L139.8,267.5L139.1,267.6L138.4,267.6L137.8,267.7L137.1,267.8L136.3,267.8L135.6,267.9L134.8,267.9L134.1,267.9L133.3,267.9L132.6,267.8L131.8,267.8L131.1,267.7L130.3,267.7L129.8,267.6L129.1,267.5L128.3,267.4L127.8,267.4L127.3,267.4L126.5,267.5L125.8,267.6L125.3,267.8L124.8,267.9L124.0,268.1L123.5,268.3L122.9,268.4Z" fill="#6a6a6a" fill-opacity="0.10" stroke="none"/>
<path d="M122.0,270.7L121.3,270.8L120.5,270.8L120.0,270.6L119.4,270.4L119.0,270.1L118.3,270.0L117.8,269.9L117.0,269.7L116.6,269.4L116.3,269.1L115.8,268.8L115.3,268.4L115.0,268.1L114.5,267.7L114.2,267.4L113.8,267.1L113.3,266.6L113.1,266.1L112.9,265.6L113.0,264.9L113.1,264.4L113.1,263.6L113.1,262.9L113.0,262.4L112.9,261.6L112.9,260.9L112.9,260.1L113.0,259.4L113.2,258.9L113.3,258.4L113.5,257.6L113.8,257.1L114.0,256.8L114.4,256.4L114.8,255.9L115.0,255.6L115.4,255.2L115.8,254.8L116.3,254.5L116.8,254.4L117.3,254.2L117.7,253.7L118.0,253.3L118.5,253.1L119.2,252.9L119.7,252.7L120.1,252.4L120.5,251.9L120.9,251.7L121.3,251.3L121.7,250.9L122.0,250.6L122.5,250.2L122.7,249.7L122.3,249.2L122.2,248.7L122.3,248.1L122.5,247.5L122.8,247.1L123.1,246.7L123.3,246.2L123.6,245.7L124.0,245.3L124.4,244.9L124.6,244.4L124.8,243.9L125.3,243.5L125.7,243.2L126.0,242.8L126.4,242.4L126.8,242.0L127.2,241.7L127.5,241.4L128.1,241.1L128.8,241.0L129.3,240.8L130.1,240.7L130.7,240.9L130.9,241.2L131.1,240.6L131.6,240.4L132.1,240.5L132.7,240.7L133.1,240.9L133.4,241.4L134.1,241.6L134.8,241.6L135.6,241.5L135.8,241.2L136.1,240.4L136.3,240.0L136.6,239.5L136.9,239.2L137.3,238.9L137.8,238.5L138.4,238.7L139.1,238.9L139.8,238.8L140.3,239.1L140.6,239.5L141.1,239.9L141.5,240.2L141.7,240.7L141.8,241.2L142.3,241.7L142.8,241.8L143.3,241.9L144.1,242.1L144.6,242.2L144.9,241.9L145.2,241.4L145.6,241.0L146.3,241.1L146.8,241.2L147.3,241.5L147.7,241.9L148.0,242.4L148.1,242.9L148.8,243.0L149.6,243.1L149.9,243.4L149.6,243.7L149.2,244.2L149.3,244.7L149.7,245.2L150.3,245.4L150.8,245.5L151.3,245.7L152.1,245.8L152.8,245.8L152.6,246.2L152.3,246.4L152.3,247.2L152.6,247.6L152.8,248.0L153.1,248.4L153.6,248.9L153.7,249.4L153.7,250.2L153.6,250.9L153.8,251.6L154.2,251.9L154.3,252.3L154.1,252.7L153.8,253.2L153.6,253.9L153.6,254.7L153.4,255.2L153.3,255.7L153.0,256.1L152.7,256.6L152.9,257.1L153.1,257.6L153.1,258.4L152.8,258.9L152.7,259.4L152.8,260.1L153.0,260.6L153.1,261.1L153.1,261.9L153.2,262.6L153.1,263.4L153.3,264.1L153.6,264.4L154.1,264.8L154.3,265.4L154.3,265.9L154.1,266.3L153.7,266.6L153.3,267.1L152.9,267.4L152.4,267.6L151.8,267.9L151.3,268.1L150.8,268.4L150.5,268.6L150.1,269.0L149.6,269.3L149.1,269.4L148.3,269.6L147.8,269.6L147.1,269.8L146.3,269.9L145.8,270.0L145.3,270.2L144.6,270.2L144.1,270.1L143.3,270.0L142.8,269.9L142.1,269.9L141.6,270.0L140.9,270.1L140.3,270.2L139.6,270.2L138.8,270.3L138.1,270.4L137.6,270.4L136.8,270.5L136.1,270.5L135.3,270.5L134.6,270.5L133.8,270.6L133.1,270.6L132.3,270.6L131.6,270.4L130.9,270.4L130.3,270.3L129.6,270.1L129.1,270.1L128.3,270.1L127.5,270.1L126.8,270.1L126.0,270.1L125.3,270.1L124.8,270.2L124.0,270.3L123.3,270.3L122.8,270.5L122.2,270.6 M132.4,260.1L132.6,259.6L132.2,259.6L132.1,260.0L132.4,260.1" fill="none" stroke="rgb(130,130,130)" stroke-width="0.4"/>
<path d="M121.3,270.4L120.5,270.4L120.0,270.3L119.5,270.0L119.0,269.7L118.5,269.5L117.8,269.5L117.3,269.4L116.8,269.1L116.3,268.8L115.8,268.4L115.5,268.1L115.0,267.7L114.8,267.4L114.3,267.0L113.9,266.6L113.6,266.1L113.4,265.6L113.4,264.9L113.5,264.1L113.5,263.4L113.3,262.6L113.3,262.1L113.2,261.4L113.2,260.6L113.3,259.9L113.4,259.4L113.6,258.9L113.8,258.1L113.9,257.6L114.2,257.1L114.5,256.8L114.9,256.4L115.3,255.9L115.5,255.6L116.0,255.2L116.5,254.9L117.0,254.8L117.5,254.5L118.0,254.2L118.3,253.8L118.8,253.5L119.3,253.4L120.0,253.3L120.5,253.1L121.0,252.8L121.8,252.9L122.3,253.0L122.9,252.9L123.4,252.7L124.0,252.5L124.6,252.4L124.7,251.7L124.8,251.1L125.0,250.6L125.0,249.9L125.2,249.7L125.8,249.5L126.5,249.6L126.9,249.7L127.1,249.2L126.8,248.9L126.3,248.6L125.5,248.5L125.2,248.2L125.3,247.4L125.3,246.9L125.8,246.6L126.3,246.4L126.5,245.7L126.8,245.2L127.0,244.7L127.3,244.7L127.8,244.6L128.3,244.2L128.5,243.7L128.6,243.2L128.8,242.6L129.6,242.5L130.3,242.6L131.1,242.5L131.8,242.5L132.2,242.9L132.6,242.9L133.2,242.7L133.8,242.4L134.1,242.4L134.2,243.2L134.3,243.7L134.9,243.7L135.3,243.3L135.8,243.1L136.1,243.4L136.2,244.2L136.8,244.4L137.3,244.1L137.3,243.4L137.1,242.9L137.6,242.4L138.3,242.6L139.1,242.5L139.8,242.7L140.1,242.9L140.8,242.9L141.3,242.9L142.1,242.8L142.6,242.9L143.3,243.1L143.6,243.4L143.8,244.2L143.6,244.9L144.1,244.8L144.4,244.4L144.8,244.1L145.3,243.7L145.8,243.4L146.3,243.7L146.6,244.2L146.8,244.8L147.0,245.4L147.1,245.9L147.3,246.6L147.7,246.9L148.3,247.0L148.9,246.9L149.6,246.8L150.1,246.9L150.7,247.2L151.1,247.6L151.0,247.9L150.7,248.4L150.7,249.2L151.1,249.6L151.6,249.8L152.2,249.9L152.3,250.4L152.1,250.8L151.7,251.2L151.4,251.7L151.6,252.2L152.1,252.5L152.3,253.1L152.3,253.6L152.2,254.2L152.1,254.7L151.8,255.2L151.4,255.7L151.2,256.1L151.2,256.9L151.2,257.6L151.4,258.1L151.7,258.6L152.0,259.1L152.2,259.6L152.3,260.4L152.3,260.9L152.4,261.6L152.5,262.4L152.6,262.9L152.6,263.6L152.7,264.4L152.8,264.9L153.1,265.6L153.1,266.0L152.9,266.6L152.6,267.0L152.1,267.3L151.6,267.5L151.1,267.8L150.6,268.1L150.1,268.4L149.7,268.6L149.3,268.9L148.6,269.1L148.1,269.2L147.3,269.3L146.7,269.4L146.1,269.5L145.6,269.7L144.8,269.9L144.1,269.8L143.5,269.6L142.8,269.5L142.1,269.5L141.3,269.6L140.8,269.8L140.1,269.8L139.3,269.9L138.8,269.9L138.1,270.0L137.3,270.1L136.6,270.1L136.1,270.2L135.6,270.1L134.8,270.1L134.3,270.2L133.6,270.3L132.8,270.3L132.1,270.1L131.6,270.1L130.8,270.0L130.3,269.9L129.6,269.7L128.8,269.7L128.1,269.7L127.3,269.8L126.5,269.8L125.8,269.7L125.0,269.8L124.3,269.8L123.5,269.9L123.0,269.9L122.4,270.1L121.8,270.3L121.3,270.4 M132.9,260.6L133.3,260.2L133.3,259.9L133.0,259.4L132.3,259.2L131.8,259.5L131.6,260.1L132.1,260.6L132.6,260.7" fill="none" stroke="rgb(122,122,122)" stroke-width="0.4"/>
<path d="M133.8,269.9L133.1,270.0L132.4,269.9L131.8,269.8L131.1,269.7L130.6,269.6L130.0,269.4L129.3,269.3L128.6,269.4L127.9,269.4L127.3,269.4L126.5,269.4L125.8,269.4L125.0,269.5L124.3,269.5L123.5,269.6L122.9,269.6L122.3,269.9L121.8,270.0L121.0,270.1L120.3,270.0L119.8,269.8L119.3,269.5L118.8,269.3L118.0,269.2L117.5,269.1L117.0,268.9L116.5,268.6L116.0,268.2L115.8,267.9L115.3,267.4L115.0,267.1L114.5,266.8L114.1,266.4L113.9,265.9L113.8,265.4L113.7,264.6L113.7,263.9L113.7,263.1L113.6,262.4L113.5,261.9L113.5,261.1L113.6,260.6L113.7,259.9L113.8,259.4L114.0,258.6L114.1,258.1L114.3,257.6L114.6,257.1L115.0,256.7L115.3,256.4L115.8,255.9L116.1,255.7L116.5,255.4L117.0,255.1L117.5,254.9L118.0,254.6L118.5,254.2L119.0,253.9L119.5,253.7L120.3,253.8L120.8,253.6L121.5,253.5L122.2,253.7L122.8,253.8L123.3,254.0L123.8,254.2L124.5,254.4L124.9,254.7L125.3,255.1L125.7,255.4L126.3,255.4L126.7,255.2L127.0,254.8L127.3,254.4L127.5,253.8L127.7,253.2L127.5,252.7L127.2,252.2L126.7,251.9L126.5,251.4L126.8,250.9L127.0,250.5L127.5,250.2L127.8,249.9L128.1,249.4L128.0,248.9L127.7,248.4L127.8,247.8L128.3,247.4L128.4,246.9L128.1,246.4L128.3,245.8L128.9,245.9L129.3,246.3L129.9,246.2L130.2,245.7L130.4,245.2L130.8,244.8L131.6,244.7L132.1,244.7L132.8,244.4L133.3,244.7L133.8,244.9L134.6,245.1L135.1,245.3L135.6,245.0L136.2,245.2L136.8,245.3L137.3,245.5L137.8,245.2L138.1,244.9L138.4,244.4L138.8,244.0L139.2,243.9L139.7,244.2L140.0,244.7L140.2,245.2L140.6,245.5L141.1,245.7L141.6,245.6L142.2,245.7L142.6,246.0L143.1,245.9L143.8,245.7L144.5,245.9L144.9,246.2L145.3,246.6L145.6,247.0L146.1,247.2L146.6,247.5L146.9,247.9L147.0,248.7L147.3,249.1L147.8,249.3L148.0,249.9L148.1,250.4L148.5,250.9L148.8,251.2L149.0,251.9L148.9,252.7L148.6,253.0L147.9,252.9L147.3,252.8L147.0,253.2L147.0,253.9L147.3,254.4L147.8,254.5L148.6,254.5L149.0,254.9L149.3,255.2L149.6,255.7L149.8,256.1L150.2,256.6L150.3,257.1L150.6,257.9L150.8,258.3L151.1,258.7L151.4,259.1L151.7,259.6L151.8,260.1L151.8,260.6L151.8,261.3L151.9,261.9L152.1,262.4L152.2,263.1L152.2,263.9L152.2,264.6L152.2,265.4L152.2,266.1L152.0,266.6L151.6,267.0L151.1,267.4L150.6,267.6L150.2,267.9L149.8,268.1L149.3,268.5L148.8,268.7L148.1,268.9L147.6,269.0L146.8,269.1L146.3,269.2L145.6,269.4L145.1,269.6L144.3,269.5L143.7,269.4L143.1,269.3L142.3,269.3L141.6,269.3L141.1,269.4L140.3,269.5L139.6,269.5L138.8,269.6L138.3,269.7L137.6,269.7L136.8,269.8L136.1,269.9L135.3,269.8L134.6,269.8L134.0,269.9 M129.8,249.9L129.9,249.4L129.6,249.1L129.2,249.4L129.3,250.1 M133.7,261.6L134.2,261.4L134.3,260.9L134.4,260.1L134.1,259.6L133.8,259.4L133.3,259.0L132.8,258.8L132.1,258.7L131.6,259.1L131.3,259.4L130.9,259.9L130.7,260.4L131.1,260.8L131.6,261.0L132.1,261.4L132.3,261.6L133.1,261.7L133.7,261.6 M130.1,261.4L130.3,260.9L129.8,260.8L129.8,261.4L130.1,261.4" fill="none" stroke="rgb(115,115,115)" stroke-width="0.4"/>
<path d="M122.0,269.7L121.3,269.8L120.5,269.8L120.0,269.6L119.5,269.3L119.0,269.1L118.3,269.0L117.8,268.9L117.1,268.6L116.8,268.4L116.3,268.0L116.0,267.6L115.6,267.1L115.3,266.9L114.8,266.5L114.4,266.1L114.2,265.6L114.0,265.1L113.9,264.4L114.0,263.6L113.9,262.9L113.8,262.1L113.8,261.6L113.8,261.1L113.9,260.4L114.1,259.9L114.2,259.1L114.3,258.4L114.5,257.9L114.8,257.4L115.1,257.1L115.5,256.6L115.8,256.4L116.3,256.0L116.8,255.7L117.2,255.4L117.7,255.2L118.2,254.9L118.6,254.7L119.0,254.3L119.7,254.2L120.0,254.2L120.6,254.2L121.3,253.9L122.0,254.0L122.5,254.2L123.0,254.5L123.5,254.7L124.3,254.8L124.8,255.1L125.1,255.4L125.5,255.8L126.0,256.1L126.5,256.3L127.0,256.6L127.4,256.9L127.8,257.1L128.3,257.6L128.2,258.4L128.2,259.1L128.6,259.5L128.8,259.9L128.8,260.6L128.7,261.1L128.8,261.7L129.3,262.0L129.8,262.1L130.6,262.2L131.1,261.9L131.6,262.1L132.3,262.2L132.8,262.1L133.6,262.1L134.3,262.0L135.1,261.9L135.4,261.6L135.5,260.9L135.5,260.1L135.4,259.4L135.2,258.9L134.8,258.4L134.6,258.1L134.0,258.1L133.3,258.2L132.9,257.9L133.0,257.1L132.8,256.6L132.3,256.2L132.0,255.9L131.6,255.6L131.1,255.7L130.6,256.1L130.1,256.4L129.6,256.0L129.1,255.7L128.7,255.4L128.6,255.0L128.8,254.5L128.9,253.9L128.7,253.4L128.5,252.9L128.2,252.4L128.1,251.7L128.1,250.9L128.6,250.6L129.1,250.9L129.5,251.2L130.1,251.2L130.3,250.7L130.5,250.2L130.6,249.5L130.7,248.9L130.5,248.4L130.1,248.0L130.1,247.7L130.5,247.2L130.9,246.9L131.6,246.9L132.3,246.7L133.0,246.9L133.3,247.2L133.9,247.2L134.3,246.8L135.1,246.7L135.6,247.1L135.8,247.2L136.1,246.7L136.6,246.4L137.1,246.5L137.8,246.6L138.6,246.6L139.3,246.5L139.8,246.8L140.6,246.7L141.1,246.5L141.8,246.6L142.2,246.9L142.8,247.1L143.4,246.9L143.8,246.6L144.3,246.8L144.6,247.4L144.7,247.9L144.8,248.4L145.3,248.9L145.7,249.2L145.8,249.7L146.1,250.2L146.3,250.9L146.2,251.7L145.8,252.0L145.1,251.9L144.3,252.2L143.8,252.4L143.5,252.7L143.6,253.2L144.3,253.3L145.1,253.2L145.3,253.2L145.8,253.4L145.7,253.9L145.4,254.4L145.3,254.9L145.6,255.3L146.3,255.2L146.8,255.0L147.4,255.2L147.8,255.4L148.3,255.8L148.8,255.9L149.3,256.2L149.6,256.6L149.8,257.2L150.0,257.9L150.3,258.3L150.6,258.7L150.8,259.1L151.2,259.6L151.4,260.1L151.3,260.9L151.4,261.6L151.5,262.4L151.6,262.9L151.8,263.6L151.8,264.4L151.7,265.1L151.6,265.9L151.3,266.4L151.1,266.8L150.7,267.1L150.3,267.5L149.8,267.8L149.3,268.1L148.8,268.4L148.3,268.6L147.6,268.6L147.1,268.7L146.3,268.9L145.8,269.1L145.3,269.2L144.6,269.3L143.8,269.1L143.3,269.1L142.6,269.0L141.8,269.0L141.1,269.1L140.6,269.2L139.8,269.2L139.1,269.3L138.3,269.4L137.8,269.4L137.1,269.5L136.3,269.6L135.6,269.6L134.8,269.5L134.1,269.6L133.3,269.6L132.6,269.6L131.8,269.5L131.1,269.4L130.6,269.3L130.1,269.0L129.3,269.0L128.6,269.0L127.8,269.1L127.0,269.1L126.3,269.1L125.7,269.1L125.0,269.2L124.3,269.2L123.5,269.3L122.8,269.4L122.3,269.6 M144.1,250.4L143.8,250.0L143.5,250.4L144.1,250.4 M136.9,260.4L136.9,259.6L136.6,259.2L135.9,259.4L136.1,259.9L136.5,260.4L136.9,260.4" fill="none" stroke="rgb(108,108,108)" stroke-width="0.4"/>
<path d="M121.8,269.4L121.0,269.6L120.4,269.4L119.9,269.1L119.3,269.0L118.8,268.9L118.0,268.7L117.5,268.5L117.0,268.2L116.7,267.9L116.3,267.5L116.0,267.1L115.5,266.7L115.3,266.4L114.8,265.9L114.6,265.4L114.3,264.9L114.2,264.4L114.3,263.6L114.2,262.9L114.1,262.1L114.1,261.4L114.2,260.6L114.3,260.1L114.5,259.4L114.5,258.6L114.6,258.1L115.0,257.6L115.3,257.3L115.8,256.9L116.0,256.6L116.5,256.3L117.0,255.9L117.3,255.7L117.8,255.4L118.5,255.2L119.0,254.9L119.4,254.7L120.0,254.5L120.8,254.5L121.3,254.3L121.9,254.4L122.5,254.7L123.0,254.9L123.5,255.1L124.1,255.2L124.6,255.4L125.0,255.8L125.4,256.1L125.8,256.5L126.3,256.8L126.8,257.1L127.0,257.4L127.4,257.9L127.6,258.4L127.7,259.1L127.9,259.6L128.2,260.1L128.2,260.9L128.1,261.6L128.3,262.2L128.8,262.4L129.6,262.5L130.3,262.6L130.8,262.7L131.6,262.7L132.1,262.6L132.8,262.4L133.3,262.4L133.8,262.4L134.3,262.4L135.1,262.3L135.7,262.1L136.3,261.9L137.1,261.9L137.8,262.1L138.3,262.3L139.1,262.2L139.4,261.9L139.6,261.4L139.8,260.7L140.1,260.4L140.4,259.9L140.6,259.4L140.5,258.9L140.1,258.4L139.6,258.2L139.0,258.4L138.6,258.9L138.3,259.3L137.8,259.4L137.4,259.1L137.1,258.7L136.6,258.4L136.3,258.1L136.1,257.4L136.0,256.9L136.2,256.4L136.4,255.9L136.2,255.4L135.7,255.4L135.3,255.8L134.9,256.1L134.8,256.6L134.8,256.9L134.3,257.2L133.8,257.1L133.6,256.6L133.3,256.1L132.8,255.8L132.3,255.4L132.1,255.1L131.8,254.5L131.8,254.2L131.8,253.5L131.6,253.1L131.3,252.7L131.5,252.2L131.9,251.9L132.3,251.5L132.8,251.2L133.3,251.1L133.9,250.9L134.2,250.4L134.0,249.9L134.3,249.5L134.6,249.2L134.8,248.6L135.1,248.1L135.6,248.2L136.3,248.4L136.7,248.7L136.6,249.4L136.8,250.0L137.6,249.9L137.8,249.4L137.6,248.8L137.1,248.5L137.1,248.0L137.3,247.6L137.6,247.9L138.1,248.3L138.5,247.9L138.8,247.7L139.6,247.6L140.0,247.9L140.1,248.4L140.1,249.2L139.8,249.5L139.1,249.6L138.8,249.9L138.6,250.7L138.9,251.2L139.6,251.2L140.3,251.2L140.8,251.0L141.3,250.7L141.4,250.2L141.3,249.6L141.3,249.1L141.8,248.7L142.3,249.2L142.3,249.7L142.5,250.4L142.8,250.9L143.0,251.4L142.6,251.8L142.1,252.1L141.6,252.4L141.1,252.7L141.0,253.2L141.1,253.8L141.6,254.0L142.1,253.8L142.6,253.9L143.1,254.2L143.8,254.3L144.4,254.4L144.6,255.1L144.7,255.7L145.1,256.0L145.8,255.9L146.3,255.8L147.1,255.7L147.6,256.1L148.1,256.4L148.6,256.5L149.1,256.8L149.3,257.1L149.6,257.9L149.8,258.2L150.1,258.6L150.4,259.1L150.6,259.6L150.9,260.1L150.9,260.9L150.9,261.6L151.0,262.4L151.1,263.0L151.2,263.6L151.3,264.2L151.3,264.9L151.2,265.4L151.0,265.9L150.8,266.4L150.5,266.9L150.1,267.2L149.6,267.5L149.1,267.9L148.6,268.1L148.1,268.3L147.3,268.4L146.8,268.5L146.3,268.6L145.6,268.9L145.1,269.0L144.3,268.9L143.8,268.9L143.1,268.7L142.3,268.7L141.6,268.7L140.8,268.7L140.1,268.9L139.6,269.0L138.8,269.0L138.1,269.1L137.4,269.1L136.8,269.2L136.1,269.3L135.3,269.2L134.6,269.2L133.8,269.3L133.1,269.3L132.3,269.2L131.6,269.2L131.1,269.1L130.6,268.9L130.1,268.6L129.3,268.6L128.8,268.7L128.1,268.7L127.3,268.7L126.5,268.8L125.8,268.9L125.0,268.9L124.5,268.9L123.8,269.0L123.0,269.1L122.5,269.2L121.9,269.4" fill="none" stroke="rgb(100,100,100)" stroke-width="0.4"/>
<path d="M139.1,255.4L138.6,255.2L138.5,254.7L138.3,254.1L137.9,253.7L137.7,253.2L138.1,252.7L138.6,252.5L139.1,252.4L139.5,252.7L139.8,253.1L140.0,253.7L139.7,254.2L139.4,254.7L139.2,255.2 M121.5,269.2L120.8,269.2L120.3,269.0L119.8,268.8L119.0,268.7L118.5,268.6L118.0,268.4L117.5,268.1L117.0,267.8L116.7,267.4L116.3,267.0L116.0,266.6L115.6,266.1L115.3,265.7L115.0,265.3L114.7,264.9L114.5,264.4L114.6,263.9L114.6,263.1L114.5,262.6L114.4,261.9L114.4,261.1L114.6,260.6L114.8,259.9L114.8,259.1L114.8,258.6L115.0,258.0L115.4,257.6L115.8,257.3L116.3,256.9L116.7,256.6L117.0,256.3L117.5,255.9L118.0,255.7L118.5,255.5L119.0,255.3L119.5,255.0L120.3,255.0L121.0,254.9L121.5,254.8L122.0,255.0L122.6,255.2L123.3,255.4L123.8,255.5L124.3,255.7L124.8,256.1L125.1,256.4L125.5,256.8L126.0,257.1L126.4,257.4L126.8,257.9L127.0,258.4L127.1,258.9L127.3,259.5L127.5,260.1L127.7,260.6L127.7,261.4L127.7,262.1L127.9,262.6L128.3,262.9L129.1,263.0L129.8,262.9L130.6,263.0L131.1,263.2L131.6,263.1L132.2,262.9L132.8,262.8L133.6,262.8L134.3,262.7L135.1,262.7L135.6,262.6L136.3,262.5L137.1,262.4L137.8,262.6L138.3,262.7L139.1,262.7L139.5,262.4L139.8,262.0L140.1,261.6L140.6,261.2L140.8,260.8L141.1,260.4L141.8,260.2L141.8,259.7L141.7,259.1L141.9,258.6L142.0,257.9L142.1,257.4L142.6,257.0L143.1,256.7L143.4,256.6L144.1,256.7L144.6,256.6L145.3,256.5L146.1,256.4L146.6,256.4L147.1,256.4L147.6,256.7L148.1,256.9L148.6,257.2L149.0,257.6L149.3,258.1L149.6,258.5L149.8,258.9L150.1,259.4L150.3,260.0L150.5,260.6L150.5,261.4L150.5,262.1L150.6,262.8L150.6,263.4L150.8,264.1L150.7,264.9L150.6,265.6L150.5,266.1L150.2,266.6L149.8,266.9L149.3,267.2L148.8,267.6L148.3,267.9L147.8,268.0L147.1,268.1L146.6,268.2L146.1,268.4L145.3,268.6L144.8,268.7L144.3,268.6L143.6,268.5L142.8,268.4L142.3,268.3L141.7,268.1L141.1,267.9L140.3,268.1L140.0,268.4L139.3,268.6L138.8,268.7L138.1,268.8L137.3,268.8L136.6,268.8L135.8,268.9L135.1,268.8L134.3,268.8L133.6,268.8L132.8,268.8L132.1,268.8L131.3,268.8L130.8,268.6L130.3,268.2L129.6,268.2L128.8,268.3L128.1,268.1L127.5,268.1L126.8,268.0L126.3,268.3L125.8,268.5L125.0,268.5L124.3,268.6L123.8,268.7L123.0,268.8L122.5,268.9L121.8,269.1" fill="none" stroke="rgb(93,93,93)" stroke-width="0.4"/>
<path d="M122.3,268.7L121.5,268.7L120.8,268.7L120.3,268.6L119.5,268.6L118.8,268.4L118.3,268.2L117.8,267.9L117.5,267.6L117.0,267.2L116.6,266.9L116.3,266.6L116.0,266.1L115.7,265.6L115.4,265.1L115.0,264.7L114.9,264.1L115.0,263.4L114.9,262.6L114.8,261.9L114.8,261.4L114.9,260.9L115.0,260.4L115.1,259.6L115.1,258.9L115.3,258.3L115.6,257.9L116.0,257.5L116.5,257.2L117.0,256.9L117.3,256.5L117.7,256.1L118.3,256.0L118.8,255.9L119.3,255.6L119.8,255.3L120.4,255.4L121.0,255.4L121.5,255.3L122.0,255.5L122.7,255.7L123.3,255.8L123.8,255.9L124.3,256.2L124.8,256.6L125.0,256.9L125.5,257.3L126.0,257.6L126.3,258.1L126.5,258.6L126.7,259.1L126.9,259.6L127.1,260.1L127.3,260.9L127.4,261.4L127.4,262.1L127.5,262.9L127.8,263.3L128.2,263.6L128.8,263.6L129.3,263.5L129.8,263.4L130.6,263.4L131.1,263.5L131.7,263.4L132.3,263.2L133.1,263.3L133.8,263.3L134.3,263.1L135.1,263.1L135.8,263.1L136.6,263.0L137.1,262.9L137.6,262.9L138.3,263.1L139.1,263.1L139.6,262.9L140.1,262.5L140.6,262.4L141.0,261.9L141.2,261.4L141.5,260.9L142.1,260.7L142.3,260.4L142.3,259.6L142.2,259.1L142.4,258.6L142.8,258.2L143.3,257.9L143.8,257.7L144.3,257.4L144.8,257.2L145.3,257.1L146.1,257.0L146.8,256.9L147.4,257.1L147.9,257.4L148.3,257.7L148.7,258.1L149.1,258.5L149.3,258.9L149.6,259.4L149.8,259.9L150.0,260.6L149.9,261.4L150.1,262.0L150.1,262.6L150.1,263.4L150.2,264.1L150.1,264.9L149.9,265.4L149.9,266.1L149.6,266.6L149.1,266.9L148.7,267.1L148.3,267.5L147.6,267.6L147.1,267.7L146.4,267.9L145.8,268.1L145.3,268.3L144.6,268.3L143.8,268.1L143.3,268.1L142.6,268.0L142.1,267.7L141.7,267.4L141.1,267.4L140.6,267.6L140.1,267.8L139.6,268.0L139.1,268.2L138.3,268.4L137.8,268.5L137.1,268.4L136.6,268.4L136.1,268.5L135.3,268.5L134.6,268.4L134.1,268.4L133.6,268.4L133.0,268.4L132.3,268.4L131.8,268.4L131.3,268.4L130.8,268.1L130.3,267.8L129.6,267.9L128.8,267.8L128.3,267.6L127.5,267.4L127.0,267.2L126.5,267.0L126.0,267.2L125.7,267.6L125.3,268.0L124.5,268.1L124.0,268.2L123.3,268.4L122.8,268.6L122.3,268.7" fill="none" stroke="rgb(86,86,86)" stroke-width="0.4"/>
<path d="M122.8,268.2L122.0,268.3L121.3,268.3L120.5,268.3L119.8,268.3L119.0,268.2L118.5,268.0L118.1,267.6L117.8,267.4L117.4,266.9L117.0,266.6L116.5,266.3L116.2,265.9L116.0,265.4L115.7,264.9L115.4,264.4L115.4,263.6L115.4,262.9L115.3,262.2L115.2,261.6L115.3,260.9L115.4,260.4L115.5,259.6L115.5,258.9L115.6,258.4L116.0,257.9L116.5,257.6L117.0,257.4L117.3,257.1L117.6,256.6L118.0,256.4L118.8,256.3L119.3,256.1L119.8,255.8L120.4,255.9L121.0,256.0L121.8,256.0L122.5,256.1L123.0,256.2L123.6,256.4L124.0,256.7L124.5,257.0L125.0,257.4L125.3,257.6L125.8,258.1L126.0,258.6L126.2,259.1L126.4,259.6L126.5,260.3L126.8,260.8L127.0,261.3L127.1,261.9L127.0,262.5L127.0,263.0L127.3,263.5L127.5,263.9L128.1,264.3L128.8,264.3L129.6,264.3L130.1,263.9L130.6,263.8L131.3,263.8L132.1,263.7L132.8,263.9L133.3,264.1L133.8,264.2L134.2,263.9L134.7,263.9L135.1,264.2L135.8,264.4L136.3,264.1L136.7,263.6L137.3,263.4L138.1,263.6L138.6,263.7L139.1,263.6L139.7,263.4L140.3,263.2L140.8,263.0L141.3,262.6L141.5,262.1L141.7,261.6L142.1,261.2L142.5,260.9L142.7,260.4L142.8,259.9L143.1,259.4L143.5,258.9L143.8,258.4L144.2,258.1L144.6,257.9L145.3,257.8L145.8,257.6L146.6,257.5L147.1,257.6L147.6,258.0L147.9,258.4L148.3,258.7L148.8,259.1L149.1,259.5L149.3,260.1L149.3,260.9L149.3,261.5L149.4,262.1L149.6,262.7L149.7,263.4L149.6,264.1L149.5,264.6L149.4,265.4L149.3,265.9L148.9,266.4L148.4,266.6L147.8,266.8L147.3,266.9L146.8,267.3L146.3,267.5L145.7,267.6L145.1,267.7L144.3,267.7L143.8,267.6L143.1,267.6L142.3,267.4L142.1,267.1L141.6,266.8L141.1,267.0L140.6,267.2L140.0,267.4L139.3,267.6L138.8,267.7L138.3,267.9L137.6,268.0L137.1,267.9L136.4,267.9L135.8,268.0L135.1,267.9L134.3,268.0L133.6,267.9L133.1,267.8L132.3,267.9L131.8,267.9L131.3,267.8L130.9,267.4L130.3,267.3L129.6,267.4L129.0,267.1L128.6,266.7L128.3,266.4L127.8,266.0L127.3,265.8L126.7,265.9L126.3,266.3L126.0,266.6L125.5,267.1L125.2,267.4L124.5,267.6L124.0,267.6L123.4,267.9L122.9,268.1" fill="none" stroke="rgb(79,79,79)" stroke-width="0.4"/>
<path d="M122.3,267.9L121.5,267.9L120.8,268.0L120.0,268.0L119.3,267.9L118.8,267.8L118.3,267.4L118.0,267.0L117.8,266.5L117.4,266.1L116.9,265.9L116.5,265.6L116.3,265.1L116.0,264.6L115.8,264.1L115.7,263.4L115.8,262.6L115.6,261.9L115.7,261.1L115.7,260.4L115.8,259.9L116.0,259.1L116.1,258.6L116.4,258.1L117.0,257.9L117.5,257.6L117.7,257.1L118.0,256.8L118.8,256.7L119.3,256.5L119.8,256.3L120.3,256.4L121.0,256.5L121.8,256.5L122.5,256.5L123.1,256.6L123.5,256.9L124.0,257.2L124.5,257.5L125.0,257.9L125.3,258.3L125.5,258.7L125.8,259.3L126.0,259.9L126.0,260.5L126.3,261.0L126.7,261.4L126.7,262.1L126.5,262.6L126.3,263.1L126.3,263.6L126.8,264.1L126.9,264.6L126.5,265.1L126.2,265.4L125.9,265.9L125.6,266.4L125.3,266.7L124.8,267.0L124.0,267.0L123.5,267.3L123.1,267.6L122.5,267.9 M143.3,267.2L142.8,267.1L142.3,266.7L141.8,266.4L141.4,266.4L140.8,266.5L140.3,266.8L139.8,267.0L139.1,266.9L139.1,266.6L139.5,266.1L139.5,265.4L139.4,264.6L139.8,264.2L140.3,263.9L140.8,263.7L141.3,263.4L141.6,263.1L142.1,262.7L142.3,262.1L142.6,261.9L143.3,261.8L143.4,261.1L143.4,260.4L143.8,260.0L144.1,259.6L144.3,259.1L144.7,258.6L145.3,258.5L145.8,258.3L146.6,258.4L147.0,258.6L147.3,259.0L147.8,259.3L148.3,259.6L148.6,259.9L148.7,260.6L148.7,261.4L148.6,262.1L148.5,262.6L148.8,263.0L149.1,263.4L149.1,264.1L149.0,264.6L148.9,265.4L148.6,265.9L148.1,266.1L147.6,266.2L147.0,266.4L146.6,266.7L145.8,266.9L145.3,266.9L144.6,267.0L143.8,267.1L143.3,267.2 M132.6,266.4L132.0,266.4L131.6,265.9L131.3,265.6L130.8,265.1L130.8,264.6L131.1,264.4L131.8,264.3L132.3,264.6L132.3,265.1L132.5,265.9L132.6,266.4 M134.3,267.2L133.7,267.1L133.3,266.8L133.1,266.1L133.6,265.7L134.1,265.6L134.6,265.3L135.1,265.1L135.8,265.1L136.2,265.4L135.9,265.9L135.6,266.2L135.1,266.0L134.6,265.7L134.6,266.4L134.6,266.9L134.3,267.2" fill="none" stroke="rgb(71,71,71)" stroke-width="0.4"/>
<path d="M121.8,267.4L121.0,267.6L120.3,267.6L119.5,267.4L119.0,267.3L118.6,266.9L118.3,266.4L118.0,266.1L117.5,265.7L117.2,265.4L116.8,265.0L116.4,264.6L116.1,264.1L116.1,263.4L116.1,262.6L116.0,262.1L116.1,261.6L116.2,260.9L116.2,260.1L116.5,259.6L116.7,259.1L117.0,258.7L117.5,258.6L118.0,258.1L118.0,257.5L118.3,257.1L119.0,257.0L119.5,256.9L120.3,256.8L120.8,256.9L121.5,257.0L122.0,256.9L122.5,256.9L123.2,257.1L123.5,257.4L124.0,257.8L124.5,258.1L124.8,258.6L125.1,258.9L125.4,259.4L125.5,259.9L125.7,260.6L125.8,261.2L126.1,261.6L126.0,262.2L125.8,262.9L125.7,263.4L125.6,264.1L125.5,264.6L125.0,265.1L124.8,265.4L124.4,265.9L124.0,266.2L123.5,266.5L123.0,266.9L122.7,267.1L122.0,267.3 M144.3,266.4L143.6,266.6L142.9,266.4L142.4,266.1L141.8,266.0L141.3,265.9L140.7,265.6L140.4,265.1L140.8,264.6L141.1,264.4L141.6,264.1L142.1,263.7L142.3,263.4L142.8,262.9L143.3,262.7L143.8,262.4L144.1,261.9L144.1,261.4L144.3,260.7L144.6,260.4L144.9,259.9L145.1,259.4L145.6,259.1L146.3,259.1L146.8,259.4L147.2,259.6L147.6,259.9L148.0,260.4L148.1,260.9L148.2,261.6L148.1,262.2L148.0,262.9L148.2,263.4L148.3,264.1L148.2,264.9L147.8,265.4L147.3,265.6L146.8,265.8L146.3,265.9L145.8,266.1L145.1,266.3L144.4,266.4" fill="none" stroke="rgb(64,64,64)" stroke-width="0.4"/>
<path d="M121.3,267.2L120.5,267.2L120.3,266.9L119.8,266.4L119.3,266.2L118.8,266.0L118.3,265.7L117.9,265.4L117.5,265.1L117.0,264.7L116.8,264.4L116.5,263.9L116.5,263.1L116.5,262.4L116.8,262.0L117.2,261.6L117.2,260.9L117.3,260.4L117.8,260.0L118.1,259.6L118.3,259.1L118.5,258.4L118.5,257.9L119.0,257.5L119.5,257.3L120.3,257.2L120.8,257.4L121.3,257.8L121.8,257.6L122.3,257.4L122.8,257.4L123.3,257.8L123.7,258.1L124.0,258.6L124.3,259.0L124.7,259.4L125.0,259.9L125.2,260.4L125.4,260.9L125.5,261.6L125.4,262.4L125.3,263.0L125.1,263.6L125.0,264.1L124.6,264.6L124.3,265.1L124.0,265.6L123.7,265.9L123.2,266.1L122.5,266.4L122.1,266.6L121.8,266.9L121.3,267.2 M147.1,264.7L146.6,264.4L146.4,263.9L145.8,263.7L145.1,263.6L144.7,263.4L144.6,262.6L145.1,262.2L145.8,262.1L146.3,262.0L146.8,261.8L147.3,261.6L147.3,262.1L147.2,262.6L147.4,263.1L147.5,263.9L147.3,264.5 M144.1,265.7L143.3,265.7L142.8,265.6L142.1,265.4L141.8,265.1L142.1,264.7L142.4,264.4L143.1,264.2L143.8,264.2L144.6,264.2L145.3,264.4L145.3,264.8L144.8,265.1L144.4,265.4L144.1,265.7" fill="none" stroke="rgb(57,57,57)" stroke-width="0.4"/>
<path d="M121.3,266.5L120.8,266.4L120.5,265.9L120.0,265.6L119.3,265.4L119.1,264.9L119.5,264.4L120.0,264.3L120.5,264.1L120.8,263.6L121.1,263.1L120.8,262.8L120.3,262.9L119.8,263.4L119.3,263.4L119.0,263.1L118.5,262.7L118.0,262.5L118.3,262.2L118.9,262.1L119.3,261.6L118.8,261.4L118.3,261.6L118.0,261.1L118.2,260.6L118.5,260.3L118.7,259.6L118.9,259.1L119.2,258.6L119.5,258.3L120.0,257.9L120.7,258.1L121.0,258.6L121.4,258.9L121.9,258.9L122.3,258.6L123.0,258.5L123.4,258.9L123.5,259.5L124.0,259.9L124.4,260.1L124.8,260.5L125.0,261.1L125.0,261.9L124.8,262.4L124.3,262.9L124.0,263.3L123.9,263.9L123.9,264.6L123.8,265.2L123.3,265.6L122.6,265.4L122.5,265.1L122.8,264.6L122.5,264.2L122.1,264.6L122.1,265.4L121.8,265.9L121.5,266.3 M118.3,264.7L117.8,264.5L117.3,264.2L117.1,263.6L117.3,263.0L117.6,262.9L117.8,263.6L118.1,263.9L118.5,264.4L118.4,264.6" fill="none" stroke="rgb(50,50,50)" stroke-width="0.4"/>
</g>
<rect x="105.80" y="222.4" width="55" height="53.60" fill="none" stroke="#9a9a9a" stroke-width="0.6"/>
<rect x="128.60" y="232.2" width="28.6" height="43.30" fill="none" stroke="#777" stroke-width="0.55"/>
<text x="142.20" y="229.60" font-size="4.6" fill="#222" text-anchor="middle" font-weight="normal" >54.8</text>
<text x="101.80" y="228.50" font-size="3.9" fill="#444" text-anchor="end">10<tspan font-size="2.34" dy="-1.56">5</tspan></text>
<line x1="104.20" y1="227.20" x2="105.80" y2="227.20" stroke="#444" stroke-width="0.5" />
<text x="101.80" y="242.00" font-size="3.9" fill="#444" text-anchor="end">10<tspan font-size="2.34" dy="-1.56">4</tspan></text>
<line x1="104.20" y1="240.70" x2="105.80" y2="240.70" stroke="#444" stroke-width="0.5" />
<text x="101.80" y="255.40" font-size="3.9" fill="#444" text-anchor="end">10<tspan font-size="2.34" dy="-1.56">3</tspan></text>
<line x1="104.20" y1="254.10" x2="105.80" y2="254.10" stroke="#444" stroke-width="0.5" />
<text x="101.00" y="264.90" font-size="3.9" fill="#444" text-anchor="end" font-weight="normal" >0</text>
<line x1="104.20" y1="263.60" x2="105.80" y2="263.60" stroke="#444" stroke-width="0.5" />
<text x="101.80" y="273.10" font-size="3.9" fill="#444" text-anchor="end">-10<tspan font-size="2.34" dy="-1.56">3</tspan></text>
<line x1="104.20" y1="272.20" x2="105.80" y2="272.20" stroke="#444" stroke-width="0.5" />
<rect x="105.00" y="262.6" width="1.4" height="2.0" fill="#111"/>
<rect x="115.60" y="275.80" width="3.2" height="1.3" fill="#111"/>
<text x="116.50" y="282.60" font-size="3.9" fill="#444" text-anchor="middle" font-weight="normal" >0</text>
<line x1="116.50" y1="276.00" x2="116.50" y2="277.40" stroke="#444" stroke-width="0.5" />
<text x="128.30" y="282.60" font-size="3.9" fill="#444" text-anchor="middle">10<tspan font-size="2.34" dy="-1.56">3</tspan></text>
<line x1="128.90" y1="276.00" x2="128.90" y2="277.40" stroke="#444" stroke-width="0.5" />
<text x="141.70" y="282.60" font-size="3.9" fill="#444" text-anchor="middle">10<tspan font-size="2.34" dy="-1.56">4</tspan></text>
<line x1="142.30" y1="276.00" x2="142.30" y2="277.40" stroke="#444" stroke-width="0.5" />
<text x="154.60" y="282.60" font-size="3.9" fill="#444" text-anchor="middle">10<tspan font-size="2.34" dy="-1.56">5</tspan></text>
<line x1="155.20" y1="276.00" x2="155.20" y2="277.40" stroke="#444" stroke-width="0.5" />
<text x="207.10" y="218.30" font-size="6.3" fill="#222" text-anchor="middle" font-weight="normal" ><tspan font-family="Liberation Serif" font-size="6.6">α</tspan>IL-12</text>
<clipPath id="clip12"><rect x="180.10" y="222.40" width="55" height="53.599999999999994"/></clipPath>
<g clip-path="url(#clip12)">
<circle cx="194.2" cy="265.3" r="0.3" fill="#bcbcbc"/>
<circle cx="192.7" cy="260.4" r="0.3" fill="#bcbcbc"/>
<circle cx="192.5" cy="267.4" r="0.3" fill="#bcbcbc"/>
<circle cx="200.0" cy="265.2" r="0.3" fill="#bcbcbc"/>
<circle cx="187.4" cy="265.0" r="0.3" fill="#bcbcbc"/>
<circle cx="185.2" cy="269.6" r="0.3" fill="#bcbcbc"/>
<circle cx="195.8" cy="266.2" r="0.3" fill="#bcbcbc"/>
<circle cx="232.7" cy="259.7" r="0.3" fill="#bcbcbc"/>
<circle cx="217.4" cy="263.6" r="0.3" fill="#bcbcbc"/>
<circle cx="197.9" cy="260.7" r="0.3" fill="#bcbcbc"/>
<circle cx="193.4" cy="268.0" r="0.3" fill="#bcbcbc"/>
<circle cx="190.1" cy="266.4" r="0.3" fill="#bcbcbc"/>
<circle cx="192.5" cy="270.4" r="0.3" fill="#bcbcbc"/>
<circle cx="213.2" cy="272.5" r="0.3" fill="#bcbcbc"/>
<circle cx="230.3" cy="261.8" r="0.3" fill="#bcbcbc"/>
<circle cx="187.9" cy="259.7" r="0.3" fill="#bcbcbc"/>
<circle cx="195.1" cy="264.0" r="0.3" fill="#bcbcbc"/>
<circle cx="196.4" cy="257.0" r="0.3" fill="#bcbcbc"/>
<circle cx="217.4" cy="260.0" r="0.3" fill="#bcbcbc"/>
<circle cx="193.7" cy="263.1" r="0.3" fill="#bcbcbc"/>
<circle cx="202.5" cy="268.7" r="0.3" fill="#bcbcbc"/>
<circle cx="194.0" cy="261.4" r="0.3" fill="#bcbcbc"/>
<circle cx="215.3" cy="253.4" r="0.3" fill="#bcbcbc"/>
<circle cx="218.2" cy="272.2" r="0.3" fill="#bcbcbc"/>
<circle cx="209.6" cy="267.0" r="0.3" fill="#bcbcbc"/>
<circle cx="219.0" cy="263.9" r="0.3" fill="#bcbcbc"/>
<circle cx="207.1" cy="268.3" r="0.3" fill="#bcbcbc"/>
<circle cx="195.0" cy="262.2" r="0.3" fill="#bcbcbc"/>
<circle cx="202.8" cy="261.1" r="0.3" fill="#bcbcbc"/>
<circle cx="203.3" cy="263.3" r="0.3" fill="#bcbcbc"/>
<circle cx="193.7" cy="261.0" r="0.3" fill="#bcbcbc"/>
<circle cx="196.0" cy="267.7" r="0.3" fill="#bcbcbc"/>
<circle cx="195.4" cy="257.6" r="0.3" fill="#bcbcbc"/>
<circle cx="193.8" cy="263.1" r="0.3" fill="#bcbcbc"/>
<circle cx="196.0" cy="270.3" r="0.3" fill="#bcbcbc"/>
<circle cx="184.8" cy="262.2" r="0.3" fill="#bcbcbc"/>
<circle cx="195.5" cy="253.1" r="0.3" fill="#bcbcbc"/>
<circle cx="225.1" cy="266.2" r="0.3" fill="#bcbcbc"/>
<circle cx="185.4" cy="272.4" r="0.3" fill="#bcbcbc"/>
<circle cx="192.3" cy="273.9" r="0.3" fill="#bcbcbc"/>
<circle cx="196.2" cy="253.9" r="0.3" fill="#bcbcbc"/>
<circle cx="187.6" cy="265.0" r="0.3" fill="#bcbcbc"/>
<circle cx="188.8" cy="268.1" r="0.3" fill="#bcbcbc"/>
<circle cx="190.6" cy="263.7" r="0.3" fill="#bcbcbc"/>
<circle cx="224.2" cy="269.3" r="0.3" fill="#bcbcbc"/>
<circle cx="213.1" cy="261.7" r="0.3" fill="#bcbcbc"/>
<circle cx="198.2" cy="262.7" r="0.3" fill="#bcbcbc"/>
<circle cx="218.1" cy="259.9" r="0.3" fill="#bcbcbc"/>
<circle cx="188.8" cy="263.8" r="0.3" fill="#bcbcbc"/>
<circle cx="188.6" cy="263.5" r="0.3" fill="#bcbcbc"/>
<circle cx="213.5" cy="256.5" r="0.3" fill="#bcbcbc"/>
<circle cx="213.2" cy="265.1" r="0.3" fill="#bcbcbc"/>
<circle cx="195.5" cy="267.0" r="0.3" fill="#bcbcbc"/>
<circle cx="192.9" cy="259.8" r="0.3" fill="#bcbcbc"/>
<circle cx="194.4" cy="271.7" r="0.3" fill="#bcbcbc"/>
<circle cx="191.4" cy="271.8" r="0.3" fill="#bcbcbc"/>
<circle cx="188.4" cy="253.7" r="0.3" fill="#bcbcbc"/>
<circle cx="192.9" cy="273.5" r="0.3" fill="#bcbcbc"/>
<circle cx="188.9" cy="260.9" r="0.3" fill="#bcbcbc"/>
<circle cx="216.5" cy="240.4" r="0.32" fill="#b8b8b8"/>
<circle cx="219.0" cy="257.3" r="0.32" fill="#b8b8b8"/>
<circle cx="220.3" cy="256.6" r="0.32" fill="#b8b8b8"/>
<circle cx="209.1" cy="240.5" r="0.32" fill="#b8b8b8"/>
<circle cx="227.1" cy="260.1" r="0.32" fill="#b8b8b8"/>
<circle cx="207.3" cy="253.8" r="0.32" fill="#b8b8b8"/>
<circle cx="218.3" cy="256.2" r="0.32" fill="#b8b8b8"/>
<circle cx="219.6" cy="248.9" r="0.32" fill="#b8b8b8"/>
<circle cx="219.5" cy="253.5" r="0.32" fill="#b8b8b8"/>
<circle cx="217.8" cy="239.4" r="0.32" fill="#b8b8b8"/>
<circle cx="197.1" cy="246.9" r="0.32" fill="#b8b8b8"/>
<circle cx="206.7" cy="254.2" r="0.32" fill="#b8b8b8"/>
<circle cx="223.1" cy="254.2" r="0.32" fill="#b8b8b8"/>
<circle cx="215.5" cy="252.9" r="0.32" fill="#b8b8b8"/>
<circle cx="226.3" cy="247.3" r="0.32" fill="#b8b8b8"/>
<circle cx="224.6" cy="257.4" r="0.32" fill="#b8b8b8"/>
<circle cx="219.9" cy="262.6" r="0.32" fill="#b8b8b8"/>
<circle cx="213.1" cy="259.0" r="0.32" fill="#b8b8b8"/>
<circle cx="211.6" cy="247.0" r="0.32" fill="#b8b8b8"/>
<circle cx="210.7" cy="255.5" r="0.32" fill="#b8b8b8"/>
<circle cx="211.5" cy="252.8" r="0.32" fill="#b8b8b8"/>
<circle cx="210.1" cy="259.9" r="0.32" fill="#b8b8b8"/>
<circle cx="231.0" cy="254.0" r="0.32" fill="#b8b8b8"/>
<circle cx="229.6" cy="256.3" r="0.32" fill="#b8b8b8"/>
<circle cx="233.3" cy="253.1" r="0.32" fill="#b8b8b8"/>
<circle cx="207.1" cy="262.8" r="0.32" fill="#b8b8b8"/>
<circle cx="217.2" cy="245.1" r="0.32" fill="#b8b8b8"/>
<circle cx="213.5" cy="241.0" r="0.32" fill="#b8b8b8"/>
<circle cx="216.9" cy="244.9" r="0.32" fill="#b8b8b8"/>
<circle cx="228.5" cy="257.1" r="0.32" fill="#b8b8b8"/>
<circle cx="206.5" cy="241.8" r="0.32" fill="#b8b8b8"/>
<circle cx="214.1" cy="238.9" r="0.32" fill="#b8b8b8"/>
<circle cx="217.3" cy="252.1" r="0.32" fill="#b8b8b8"/>
<circle cx="212.7" cy="248.6" r="0.32" fill="#b8b8b8"/>
<circle cx="221.6" cy="262.4" r="0.32" fill="#b8b8b8"/>
<circle cx="228.6" cy="252.6" r="0.32" fill="#b8b8b8"/>
<circle cx="224.1" cy="247.2" r="0.32" fill="#b8b8b8"/>
<circle cx="221.0" cy="245.7" r="0.32" fill="#b8b8b8"/>
<circle cx="223.2" cy="243.7" r="0.32" fill="#b8b8b8"/>
<circle cx="211.3" cy="252.3" r="0.32" fill="#b8b8b8"/>
<circle cx="222.0" cy="242.3" r="0.32" fill="#b8b8b8"/>
<circle cx="214.3" cy="253.3" r="0.32" fill="#b8b8b8"/>
<circle cx="219.7" cy="246.5" r="0.32" fill="#b8b8b8"/>
<circle cx="218.8" cy="250.5" r="0.32" fill="#b8b8b8"/>
<circle cx="227.9" cy="256.3" r="0.32" fill="#b8b8b8"/>
<circle cx="208.8" cy="237.0" r="0.32" fill="#b8b8b8"/>
<circle cx="218.8" cy="260.7" r="0.32" fill="#b8b8b8"/>
<circle cx="219.3" cy="258.6" r="0.32" fill="#b8b8b8"/>
<circle cx="214.7" cy="242.9" r="0.32" fill="#b8b8b8"/>
<circle cx="223.3" cy="253.1" r="0.32" fill="#b8b8b8"/>
<circle cx="222.9" cy="242.7" r="0.32" fill="#b8b8b8"/>
<circle cx="219.4" cy="248.0" r="0.32" fill="#b8b8b8"/>
<circle cx="223.7" cy="248.3" r="0.32" fill="#b8b8b8"/>
<circle cx="213.8" cy="248.3" r="0.32" fill="#b8b8b8"/>
<circle cx="226.9" cy="252.6" r="0.32" fill="#b8b8b8"/>
<circle cx="212.8" cy="245.2" r="0.32" fill="#b8b8b8"/>
<circle cx="210.8" cy="262.6" r="0.32" fill="#b8b8b8"/>
<circle cx="205.4" cy="246.4" r="0.32" fill="#b8b8b8"/>
<circle cx="222.6" cy="260.6" r="0.32" fill="#b8b8b8"/>
<circle cx="217.1" cy="257.9" r="0.32" fill="#b8b8b8"/>
<circle cx="223.4" cy="259.3" r="0.32" fill="#b8b8b8"/>
<circle cx="218.4" cy="264.0" r="0.32" fill="#b8b8b8"/>
<circle cx="219.6" cy="263.2" r="0.32" fill="#b8b8b8"/>
<circle cx="210.5" cy="259.1" r="0.32" fill="#b8b8b8"/>
<circle cx="209.5" cy="242.1" r="0.32" fill="#b8b8b8"/>
<circle cx="221.8" cy="246.8" r="0.32" fill="#b8b8b8"/>
<circle cx="221.4" cy="245.1" r="0.32" fill="#b8b8b8"/>
<circle cx="229.6" cy="252.7" r="0.32" fill="#b8b8b8"/>
<circle cx="210.4" cy="253.9" r="0.32" fill="#b8b8b8"/>
<circle cx="224.6" cy="247.3" r="0.32" fill="#b8b8b8"/>
<path d="M220.8,270.2L220.1,270.2L219.3,270.2L218.6,270.2L217.8,270.2L217.1,270.2L216.4,270.1L215.8,270.1L215.1,270.0L214.3,269.9L213.8,269.9L213.1,269.8L212.5,269.6L211.8,269.5L211.1,269.4L210.6,269.3L209.8,269.2L209.3,269.1L208.6,269.0L207.8,268.9L207.3,268.9L206.6,268.8L205.8,268.7L205.3,268.6L204.6,268.5L203.8,268.4L203.3,268.4L202.6,268.3L201.8,268.3L201.1,268.3L200.3,268.3L199.6,268.4L199.1,268.5L198.3,268.6L197.8,268.8L197.3,268.9L196.6,269.1L196.1,269.2L195.3,269.3L194.6,269.4L193.8,269.4L193.1,269.3L192.5,269.1L191.8,269.0L191.3,268.8L190.8,268.5L190.3,268.2L190.0,267.9L189.6,267.5L189.2,267.1L188.9,266.6L188.6,266.2L188.3,265.7L188.2,265.1L188.1,264.6L188.0,263.9L188.0,263.1L188.1,262.6L188.3,262.0L188.6,261.4L188.8,261.0L189.1,260.6L189.5,260.1L189.8,259.8L190.3,259.4L190.8,259.1L191.3,258.9L191.8,258.7L192.3,258.5L192.8,258.4L193.6,258.3L194.3,258.2L195.1,258.3L195.8,258.4L196.3,258.5L196.8,258.7L197.4,258.9L198.0,259.1L198.6,259.4L199.1,259.6L199.6,259.8L200.1,259.9L200.8,260.1L201.4,260.1L202.1,260.2L202.8,260.1L203.3,260.1L204.1,260.0L204.8,259.9L205.3,259.8L206.1,259.7L206.6,259.6L207.3,259.4L207.8,259.3L208.4,259.1L209.1,259.0L209.6,258.8L210.1,258.6L210.8,258.4L211.3,258.2L211.8,258.0L212.3,257.8L212.8,257.6L213.4,257.4L214.1,257.1L214.6,257.0L215.1,256.8L215.8,256.6L216.3,256.6L217.1,256.6L217.6,256.7L218.3,256.8L218.8,256.9L219.6,257.1L220.1,257.3L220.6,257.4L221.3,257.6L221.8,257.7L222.4,257.9L223.1,258.1L223.6,258.3L224.1,258.5L224.6,258.6L225.3,258.9L225.8,259.1L226.3,259.3L226.8,259.6L227.3,259.8L227.8,260.1L228.3,260.4L228.7,260.6L229.1,261.0L229.6,261.4L229.9,261.6L230.3,262.1L230.6,262.6L230.8,263.0L231.1,263.6L231.1,264.1L231.1,264.8L230.9,265.4L230.7,265.9L230.4,266.4L230.1,266.7L229.7,267.1L229.3,267.4L228.8,267.8L228.3,268.1L227.8,268.4L227.3,268.6L226.8,268.8L226.3,269.0L225.8,269.2L225.1,269.4L224.6,269.6L224.1,269.7L223.3,269.8L222.8,269.9L222.1,270.0L221.3,270.1L220.8,270.2Z" fill="#6a6a6a" fill-opacity="0.10" stroke="none"/>
<path d="M194.1,267.9L193.6,267.9L192.8,267.7L192.3,267.6L191.8,267.3L191.3,267.0L191.0,266.6L190.6,266.2L190.3,265.8L190.1,265.3L189.9,264.6L189.8,264.1L189.8,263.4L189.9,262.9L190.1,262.3L190.3,261.8L190.6,261.4L191.1,260.9L191.4,260.6L191.8,260.3L192.3,260.1L192.8,259.9L193.6,259.7L194.3,259.7L195.1,259.8L195.6,259.9L196.1,260.2L196.6,260.4L197.1,260.8L197.5,261.1L197.8,261.5L198.1,261.9L198.5,262.4L198.7,262.9L199.0,263.4L199.1,264.1L199.1,264.4L198.8,264.9L198.6,265.4L198.2,265.9L197.8,266.2L197.4,266.6L197.1,266.9L196.6,267.2L196.1,267.5L195.6,267.7L194.8,267.9L194.3,267.9Z M220.8,268.7L220.1,268.7L219.3,268.8L218.6,268.8L217.8,268.8L217.1,268.7L216.3,268.7L215.8,268.6L215.1,268.5L214.4,268.4L213.8,268.3L213.1,268.2L212.6,268.1L211.8,267.9L211.3,267.8L210.6,267.6L210.1,267.5L209.4,267.4L208.8,267.3L208.1,267.1L207.6,267.1L206.8,266.9L206.3,266.8L205.6,266.6L205.1,266.5L204.6,266.4L203.8,266.2L203.3,266.0L202.8,265.9L202.3,265.6L201.8,265.4L201.3,265.1L200.8,264.8L200.7,264.1L201.1,263.7L201.6,263.4L202.1,263.1L202.6,262.9L203.1,262.8L203.6,262.6L204.2,262.4L204.8,262.2L205.3,262.1L206.1,261.9L206.6,261.8L207.3,261.7L207.8,261.6L208.6,261.4L209.1,261.3L209.8,261.1L210.3,261.0L210.9,260.9L211.6,260.7L212.1,260.6L212.8,260.5L213.3,260.4L214.1,260.2L214.6,260.1L215.3,260.0L216.1,259.9L216.6,259.9L217.3,259.8L218.1,259.8L218.8,259.8L219.6,259.8L220.3,259.9L220.8,259.9L221.6,260.0L222.2,260.1L222.8,260.3L223.3,260.4L224.1,260.6L224.6,260.8L225.1,261.1L225.6,261.3L226.1,261.6L226.6,261.9L226.9,262.1L227.3,262.6L227.6,262.9L227.9,263.4L228.1,264.1L228.0,264.9L227.8,265.4L227.5,265.9L227.1,266.4L226.8,266.6L226.3,266.9L225.8,267.2L225.3,267.5L224.8,267.7L224.3,267.9L223.6,268.1L223.1,268.3L222.5,268.4L221.8,268.5L221.1,268.6Z" fill="#6a6a6a" fill-opacity="0.10" stroke="none"/>
<path d="M194.1,267.2L193.6,267.1L192.8,266.9L192.3,266.7L191.9,266.4L191.6,266.1L191.2,265.6L190.9,265.1L190.7,264.6L190.6,264.0L190.6,263.6L190.7,262.9L190.9,262.4L191.2,261.9L191.6,261.5L192.0,261.1L192.3,260.9L192.9,260.6L193.6,260.5L194.3,260.5L195.1,260.6L195.6,260.8L196.1,261.0L196.6,261.4L196.8,261.7L197.2,262.1L197.5,262.6L197.6,263.1L197.7,263.9L197.6,264.6L197.4,265.1L197.1,265.6L196.8,266.0L196.4,266.4L196.0,266.6L195.5,266.9L194.8,267.1L194.3,267.1Z M220.3,266.9L219.6,267.0L218.8,267.0L218.1,267.0L217.3,267.0L216.7,266.9L216.1,266.8L215.3,266.7L214.8,266.5L214.3,266.4L213.6,266.2L213.1,266.0L212.6,265.7L212.1,265.5L211.6,265.1L211.3,264.9L211.2,264.1L211.5,263.6L211.9,263.4L212.3,263.1L212.8,262.9L213.4,262.6L214.1,262.4L214.6,262.2L215.1,262.1L215.8,261.9L216.3,261.9L217.1,261.8L217.8,261.7L218.6,261.7L219.3,261.7L220.1,261.8L220.8,261.9L221.3,262.0L221.9,262.1L222.6,262.4L223.1,262.6L223.5,262.9L223.8,263.2L224.2,263.6L224.4,264.1L224.3,264.7L224.1,265.2L223.7,265.6L223.3,265.9L222.8,266.2L222.3,266.4L221.6,266.6L221.1,266.8L220.5,266.9Z" fill="#6a6a6a" fill-opacity="0.10" stroke="none"/>
<path d="M220.1,270.4L219.3,270.5L218.6,270.5L217.8,270.4L217.3,270.4L216.6,270.3L215.8,270.3L215.3,270.1L214.6,269.9L213.8,270.0L213.1,269.9L212.6,269.7L212.0,269.6L211.3,269.5L210.8,269.4L210.1,269.4L209.3,269.3L208.8,269.1L208.1,269.1L207.6,269.2L207.0,269.1L206.3,269.0L205.8,268.9L205.1,268.8L204.3,268.7L203.8,268.6L203.1,268.5L202.3,268.5L201.6,268.4L201.1,268.4L200.6,267.9L200.1,267.6L199.6,267.6L199.3,267.9L198.8,268.3L198.1,268.3L197.6,268.4L196.9,268.6L196.6,268.6L195.8,268.6L195.1,268.5L194.6,268.6L194.5,269.4L194.1,269.7L193.3,269.7L192.8,269.5L192.3,269.3L191.8,269.1L191.3,268.9L190.7,268.6L190.2,268.4L189.8,268.0L189.4,267.6L188.8,267.4L188.3,267.2L188.1,266.9L187.9,266.1L187.7,265.6L187.4,265.1L187.2,264.6L187.3,264.1L187.5,263.4L187.5,262.6L187.6,262.1L187.8,261.6L188.1,261.1L188.5,260.6L188.8,260.3L189.1,259.9L189.5,259.4L190.1,259.2L190.6,259.0L191.1,258.7L191.6,258.6L192.3,258.4L192.9,258.4L193.6,258.3L194.3,258.2L194.8,258.4L195.3,258.7L196.1,258.7L196.8,258.9L197.3,259.1L197.8,259.2L198.6,259.4L199.1,259.5L199.8,259.5L200.6,259.5L201.3,259.5L201.8,259.7L202.5,259.9L203.1,260.0L203.8,260.1L204.1,260.1L204.8,259.9L205.5,259.9L206.1,259.8L206.6,259.6L207.2,259.4L207.8,259.2L208.3,259.4L209.1,259.5L209.5,259.1L209.8,258.7L210.3,258.6L210.8,258.7L211.4,258.6L211.8,258.1L212.1,257.9L212.8,257.8L213.6,257.8L214.0,257.4L214.3,256.9L214.6,256.6L215.1,256.3L215.6,256.5L216.1,256.7L216.7,256.6L217.0,256.1L216.7,255.7L216.2,255.4L215.8,255.4L215.3,255.3L215.0,254.9L215.1,254.4L215.6,254.1L216.1,254.2L216.7,254.2L217.3,254.1L217.8,254.4L218.1,254.8L218.2,255.4L218.6,255.8L219.1,255.9L219.6,255.7L220.2,255.9L220.7,256.1L221.1,256.4L221.6,256.7L221.9,257.1L222.1,257.8L222.5,258.1L223.1,258.3L223.8,258.4L224.1,258.6L224.6,258.9L225.1,259.2L225.6,259.4L226.1,259.7L226.6,260.0L227.3,260.1L227.8,260.2L228.6,260.3L229.1,260.6L229.6,260.9L229.9,261.1L230.2,261.6L230.3,262.3L230.6,262.6L231.1,263.1L231.3,263.6L231.3,264.0L231.3,264.6L231.2,265.4L231.1,266.1L230.8,266.6L230.5,266.9L230.1,267.3L229.6,267.6L229.3,267.9L228.8,268.2L228.2,268.4L227.6,268.6L227.1,268.7L226.3,268.9L225.8,269.0L225.2,269.1L224.7,269.4L224.3,269.7L223.6,269.9L222.8,269.8L222.3,269.9L221.7,270.1L221.1,270.3L220.3,270.4" fill="none" stroke="rgb(130,130,130)" stroke-width="0.4"/>
<path d="M219.3,269.9L218.6,269.9L218.1,269.9L217.6,269.9L217.1,269.8L216.3,269.7L215.8,269.6L215.3,269.3L214.6,269.2L213.8,269.4L213.1,269.2L212.6,269.1L211.8,269.1L211.1,268.9L210.6,268.9L209.8,268.9L209.1,268.6L208.6,268.5L207.8,268.5L207.1,268.5L206.6,268.4L205.9,268.1L205.3,268.0L204.6,267.9L204.1,267.9L203.6,267.6L203.1,267.2L202.6,267.1L201.9,266.9L201.3,266.8L200.6,266.8L200.1,266.5L199.6,266.2L198.8,266.4L198.3,266.5L197.8,266.9L197.6,267.1L197.1,267.4L196.4,267.6L195.8,267.8L195.1,267.9L194.6,268.0L194.1,268.2L193.3,268.4L192.6,268.3L191.8,268.2L191.3,268.0L190.9,267.6L190.6,267.4L190.1,266.9L189.7,266.6L189.3,266.3L189.0,265.9L188.7,265.4L188.5,264.9L188.4,264.1L188.6,263.6L188.9,263.1L189.1,262.6L189.1,261.9L189.3,261.2L189.7,260.9L190.1,260.5L190.5,260.1L190.8,259.9L191.3,259.5L191.8,259.4L192.5,259.1L193.1,259.0L193.8,259.0L194.4,259.1L195.1,259.3L195.8,259.4L196.3,259.5L196.8,259.7L197.3,260.1L197.8,260.3L198.3,260.4L199.1,260.6L199.6,260.7L200.3,260.8L201.1,260.8L201.8,260.8L202.6,260.8L203.3,260.8L204.1,260.7L204.6,260.6L205.3,260.6L206.1,260.5L206.6,260.3L207.3,260.3L208.1,260.3L208.8,260.3L209.4,260.1L209.8,259.9L210.6,259.7L211.2,259.6L211.8,259.6L212.5,259.4L212.9,259.1L213.6,258.9L214.1,258.9L214.8,258.7L215.3,258.4L215.8,258.3L216.3,258.1L217.1,257.9L217.8,258.0L218.3,258.2L218.8,258.1L219.6,258.0L220.1,258.4L220.3,258.7L220.8,258.6L221.5,258.6L222.0,258.9L222.3,259.2L222.8,259.4L223.6,259.4L224.3,259.5L224.8,259.7L225.3,260.0L225.8,260.3L226.3,260.5L226.8,260.7L227.3,260.9L227.9,261.1L228.4,261.4L229.0,261.6L229.3,261.9L229.6,262.6L229.8,263.0L230.3,263.4L230.6,263.9L230.4,264.6L230.3,265.1L230.2,265.9L229.9,266.4L229.6,266.9L229.3,267.1L228.8,267.4L228.2,267.6L227.6,267.8L227.1,268.0L226.5,268.1L225.8,268.4L225.3,268.5L224.6,268.6L224.2,268.9L223.8,269.2L223.1,269.2L222.3,269.3L221.8,269.4L221.2,269.6L220.6,269.8L219.8,269.8L219.3,269.9" fill="none" stroke="rgb(122,122,122)" stroke-width="0.4"/>
<path d="M217.8,269.4L217.3,269.4L216.6,269.2L216.1,269.0L215.6,268.8L214.8,268.7L214.1,268.7L213.6,268.6L213.0,268.6L212.3,268.7L211.8,268.6L211.1,268.5L210.3,268.5L209.8,268.4L209.1,268.2L208.6,268.1L207.8,267.9L207.3,267.9L206.6,267.8L206.1,267.6L205.5,267.4L205.1,267.1L204.5,266.9L203.8,266.7L203.3,266.5L202.8,266.4L202.3,266.1L201.8,265.8L201.1,265.8L200.5,265.6L200.1,265.4L199.3,265.2L198.8,265.4L198.3,265.8L198.0,266.1L197.6,266.5L197.1,266.9L196.6,267.1L196.1,267.3L195.6,267.5L194.8,267.6L194.3,267.8L193.8,267.9L193.1,268.0L192.6,267.9L191.8,267.7L191.3,267.4L191.0,267.1L190.6,266.8L190.2,266.4L189.8,266.0L189.6,265.6L189.3,265.1L189.2,264.4L189.3,263.6L189.4,263.1L189.6,262.5L189.8,261.9L190.1,261.4L190.3,261.1L190.7,260.6L191.1,260.2L191.6,259.9L192.1,259.7L192.6,259.5L193.3,259.4L193.7,259.4L194.3,259.5L195.1,259.6L195.6,259.7L196.3,259.9L196.7,260.1L197.1,260.5L197.6,260.8L198.1,261.1L198.6,261.4L199.0,261.6L199.6,261.9L200.3,261.7L200.8,261.6L201.6,261.6L202.3,261.6L203.1,261.6L203.8,261.4L204.3,261.3L205.1,261.2L205.7,261.1L206.3,261.0L206.8,260.8L207.6,260.8L208.3,260.9L208.6,260.9L209.3,260.9L210.1,260.8L210.6,260.5L211.1,260.3L211.8,260.3L212.6,260.2L213.1,260.0L213.6,259.8L214.3,259.6L214.8,259.5L215.3,259.3L215.8,259.1L216.5,258.9L217.1,258.9L217.4,259.1L217.8,259.5L218.6,259.5L219.1,259.2L219.8,259.4L220.3,259.6L221.1,259.4L221.6,259.3L222.1,259.5L222.6,259.7L223.2,259.9L223.8,259.9L224.6,260.1L225.0,260.4L225.5,260.6L226.1,260.9L226.6,261.1L227.0,261.4L227.5,261.6L228.0,261.9L228.4,262.1L228.8,262.6L228.9,263.1L229.3,263.6L229.7,263.9L229.6,264.6L229.5,265.1L229.3,265.6L229.1,266.3L228.8,266.7L228.3,267.0L227.6,267.1L227.1,267.3L226.6,267.5L226.1,267.7L225.6,267.9L224.8,268.1L224.3,268.2L223.8,268.4L223.1,268.6L222.6,268.7L222.1,268.9L221.3,269.1L220.8,269.3L220.1,269.2L219.3,269.4L218.6,269.4L217.9,269.4" fill="none" stroke="rgb(115,115,115)" stroke-width="0.4"/>
<path d="M221.3,268.7L220.7,268.6L220.1,268.5L219.6,268.7L218.8,268.8L218.1,268.8L217.3,268.8L216.8,268.6L216.1,268.4L215.6,268.3L214.8,268.2L214.1,268.2L213.6,268.0L212.8,268.0L212.1,268.1L211.3,268.1L210.6,268.0L209.9,267.9L209.3,267.8L208.8,267.6L208.2,267.4L207.6,267.2L206.8,267.2L206.3,267.1L205.8,266.9L205.3,266.6L204.8,266.2L204.6,265.9L203.8,265.7L203.3,265.6L203.3,264.9L203.5,264.4L203.4,263.6L203.1,263.2L203.1,262.9L203.6,262.6L204.3,262.4L204.8,262.2L205.3,261.9L205.8,261.7L206.3,261.5L206.8,261.4L207.6,261.3L208.3,261.4L209.1,261.3L209.8,261.4L210.6,261.2L211.1,261.1L211.6,261.2L212.3,261.3L212.8,260.9L213.3,260.6L213.8,260.5L214.6,260.4L215.1,260.2L215.6,259.9L216.1,259.7L216.6,259.6L217.1,259.8L217.6,260.0L218.1,260.2L218.8,260.2L219.3,260.0L220.1,260.1L220.8,260.0L221.3,259.8L222.0,259.9L222.6,260.1L223.1,260.3L223.6,260.4L224.3,260.5L224.8,260.7L225.3,261.0L225.8,261.3L226.3,261.6L226.8,261.9L227.1,262.1L227.6,262.4L228.0,262.9L228.1,263.4L228.3,264.0L228.7,264.4L228.7,265.1L228.5,265.6L228.1,266.1L227.7,266.4L227.2,266.6L226.7,266.9L226.1,267.1L225.6,267.3L225.1,267.5L224.6,267.6L223.8,267.9L223.3,268.0L222.8,268.2L222.3,268.4L221.6,268.6 M193.6,267.7L192.8,267.7L192.3,267.5L191.8,267.3L191.3,267.0L190.9,266.6L190.6,266.4L190.2,265.9L189.9,265.4L189.7,264.9L189.7,264.1L189.7,263.4L189.8,262.8L190.0,262.1L190.3,261.7L190.6,261.3L190.9,260.9L191.3,260.5L191.8,260.2L192.3,259.9L192.8,259.7L193.6,259.7L194.3,259.7L195.1,259.9L195.6,260.0L196.1,260.1L196.6,260.5L197.1,260.9L197.5,261.1L197.8,261.4L198.3,261.9L198.5,262.4L198.6,262.9L198.6,263.4L198.5,264.1L198.3,264.7L198.1,265.3L197.8,265.7L197.5,266.1L197.1,266.5L196.6,266.8L196.1,267.0L195.6,267.2L194.8,267.4L194.3,267.5L193.7,267.6 M201.6,264.4L201.1,264.3L201.1,263.7L201.6,263.5L201.9,263.9L201.6,264.4" fill="none" stroke="rgb(108,108,108)" stroke-width="0.4"/>
<path d="M193.6,267.5L192.8,267.4L192.3,267.3L191.8,267.0L191.3,266.7L190.9,266.4L190.6,266.0L190.3,265.6L190.1,265.1L190.0,264.4L190.0,263.6L190.1,262.9L190.2,262.4L190.5,261.9L190.8,261.4L191.1,261.0L191.5,260.6L192.0,260.4L192.5,260.1L193.1,259.9L193.6,259.9L194.1,259.9L194.8,260.0L195.5,260.1L196.1,260.4L196.5,260.6L196.8,261.0L197.3,261.4L197.6,261.6L198.0,262.1L198.2,262.6L198.2,263.4L198.1,263.9L198.0,264.6L197.8,265.1L197.5,265.6L197.1,266.1L196.7,266.4L196.3,266.6L195.7,266.9L195.1,267.1L194.6,267.2L193.8,267.4 M221.6,268.2L221.1,268.1L220.6,267.8L219.8,267.8L219.3,268.0L218.6,268.1L218.1,268.2L217.3,268.2L216.8,268.1L216.1,267.9L215.6,267.8L214.8,267.8L214.2,267.6L213.7,267.4L213.3,267.0L212.6,267.1L212.2,267.4L211.6,267.6L210.8,267.6L210.3,267.4L209.6,267.1L209.1,267.1L208.3,266.9L207.8,266.7L207.3,266.5L206.6,266.5L206.0,266.4L205.5,266.1L205.1,265.7L204.8,265.3L204.6,264.9L204.5,264.1L204.6,263.5L205.1,263.1L205.3,262.9L205.8,262.5L206.3,262.2L206.8,261.9L207.3,261.8L208.1,261.8L208.8,261.7L209.6,261.7L210.3,261.7L211.1,261.7L211.8,261.9L212.3,262.0L212.8,261.8L213.3,261.4L213.8,261.2L214.3,261.1L214.9,260.9L215.3,260.6L215.9,260.4L216.6,260.2L217.3,260.4L217.8,260.6L218.3,260.8L219.1,260.8L219.6,260.5L220.3,260.4L220.8,260.4L221.6,260.3L222.2,260.4L222.8,260.6L223.3,260.8L224.1,260.9L224.6,261.0L225.1,261.3L225.6,261.6L226.0,261.9L226.3,262.2L226.7,262.6L227.1,263.1L227.3,263.6L227.5,264.1L227.6,264.7L227.6,265.2L227.3,265.9L227.1,266.2L226.6,266.5L226.1,266.7L225.5,266.9L224.9,267.1L224.3,267.2L223.8,267.4L223.2,267.6L222.6,267.9L222.1,268.1L221.6,268.2" fill="none" stroke="rgb(100,100,100)" stroke-width="0.4"/>
<path d="M193.8,267.2L193.1,267.2L192.6,267.1L192.1,266.9L191.6,266.6L191.1,266.2L190.8,265.9L190.5,265.4L190.3,264.9L190.2,264.1L190.2,263.4L190.3,262.8L190.6,262.2L190.8,261.8L191.1,261.4L191.6,260.9L192.0,260.6L192.5,260.4L193.1,260.2L193.6,260.1L194.1,260.2L194.8,260.2L195.6,260.4L196.1,260.6L196.5,260.9L196.8,261.3L197.3,261.6L197.6,262.1L197.8,262.6L197.9,263.1L197.8,263.6L197.7,264.4L197.6,264.9L197.3,265.4L196.8,265.8L196.5,266.1L196.1,266.4L195.5,266.6L194.8,266.9L194.3,267.0L193.8,267.2 M221.8,267.7L221.3,267.5L221.0,267.1L220.3,266.9L219.6,267.0L219.1,267.2L218.3,267.4L217.8,267.5L217.1,267.5L216.3,267.4L215.8,267.4L215.1,267.2L214.6,267.0L214.1,266.8L213.6,266.5L213.1,266.3L212.6,266.4L212.1,266.9L211.6,267.1L211.1,267.2L210.6,267.0L210.2,266.6L209.6,266.4L208.8,266.5L208.3,266.3L207.8,266.1L207.3,265.9L206.6,265.8L206.1,265.6L205.8,265.1L205.5,264.6L205.8,264.3L206.4,264.1L206.8,263.6L207.0,263.1L207.3,262.8L207.8,262.5L208.3,262.3L209.1,262.1L209.6,262.1L210.3,262.1L210.8,262.2L211.3,262.4L212.1,262.5L212.8,262.5L213.3,262.3L213.8,262.1L214.3,261.9L214.8,261.6L215.3,261.3L215.8,261.1L216.6,261.0L217.3,261.0L217.9,261.1L218.6,261.3L219.3,261.2L219.8,261.0L220.3,260.9L221.1,260.9L221.8,260.9L222.3,261.0L222.8,261.2L223.6,261.4L224.2,261.4L224.7,261.6L225.1,261.9L225.6,262.3L226.0,262.6L226.3,263.1L226.6,263.6L226.7,264.1L226.6,264.9L226.6,265.6L226.3,266.0L225.8,266.2L225.3,266.4L224.6,266.6L224.1,266.7L223.6,267.0L223.1,267.2L222.6,267.5L222.0,267.6" fill="none" stroke="rgb(93,93,93)" stroke-width="0.4"/>
<path d="M193.8,266.9L193.1,267.0L192.6,266.9L192.1,266.6L191.6,266.3L191.1,265.9L190.8,265.5L190.6,265.0L190.4,264.4L190.4,263.6L190.6,262.9L190.8,262.4L191.1,261.9L191.3,261.5L191.6,261.1L192.1,260.8L192.6,260.6L193.3,260.4L193.8,260.4L194.4,260.4L195.1,260.5L195.8,260.6L196.2,260.9L196.6,261.3L197.0,261.6L197.3,262.1L197.5,262.6L197.6,263.1L197.6,263.6L197.5,264.4L197.3,264.9L196.9,265.4L196.6,265.6L196.1,266.0L195.6,266.3L195.1,266.5L194.6,266.7L194.0,266.9 M222.6,267.0L221.8,267.1L221.5,266.6L221.2,266.1L220.8,265.9L220.3,266.0L219.8,266.2L219.3,266.4L218.6,266.6L217.8,266.6L217.1,266.6L216.5,266.6L215.8,266.7L215.3,266.6L215.0,266.1L215.6,266.1L215.9,266.1L216.1,265.9L215.6,265.6L214.9,265.4L214.8,264.9L214.7,264.1L214.8,263.4L214.7,262.6L215.1,262.1L215.5,261.9L216.1,261.7L216.7,261.9L217.1,261.9L217.6,261.6L218.3,261.6L218.8,261.8L219.6,261.8L220.0,262.1L220.3,262.6L220.7,262.6L221.1,262.1L221.3,261.8L221.8,261.6L222.4,261.6L223.1,261.9L223.5,262.1L224.1,262.4L224.6,262.6L225.1,262.8L225.5,263.1L225.8,263.6L226.0,264.1L225.8,264.8L225.6,265.2L225.1,265.6L224.6,265.9L224.1,266.1L223.6,266.4L223.1,266.6L222.7,266.9 M211.6,266.5L210.9,266.4L210.6,266.1L210.1,265.8L209.3,265.8L208.6,265.8L208.1,265.6L207.6,265.3L207.3,264.9L207.3,264.4L207.6,263.8L208.0,263.4L208.6,263.1L209.1,263.0L209.6,262.8L210.3,262.7L210.8,262.9L211.6,263.1L212.3,263.0L213.1,263.1L213.6,263.3L213.6,263.7L213.2,264.1L213.3,264.9L213.6,265.3L213.4,265.6L212.8,265.7L212.3,265.9L211.8,266.3" fill="none" stroke="rgb(86,86,86)" stroke-width="0.4"/>
<path d="M193.8,266.7L193.1,266.8L192.6,266.6L192.1,266.4L191.6,266.0L191.3,265.6L190.9,265.1L190.7,264.6L190.7,263.9L190.8,263.1L190.9,262.6L191.2,262.1L191.5,261.6L191.8,261.3L192.3,261.0L192.8,260.8L193.5,260.6L194.1,260.6L194.7,260.6L195.3,260.7L195.8,260.9L196.3,261.3L196.7,261.6L197.0,262.1L197.2,262.6L197.3,263.4L197.3,263.6L197.2,264.4L197.0,264.9L196.6,265.3L196.1,265.6L195.6,265.9L195.1,266.1L194.6,266.4L194.1,266.6 M222.8,265.7L222.1,265.6L221.6,265.4L221.1,265.3L220.3,265.3L219.6,265.4L219.1,265.5L218.6,265.8L217.8,265.8L217.3,265.6L216.8,265.3L216.4,264.9L216.0,264.6L216.0,263.9L215.9,263.1L216.6,263.0L217.3,262.9L217.6,262.6L218.1,262.4L218.1,262.8L218.1,263.1L218.6,263.5L219.3,263.5L219.8,263.4L220.3,263.4L220.8,263.4L221.3,263.0L221.8,262.6L222.3,262.5L222.9,262.6L223.3,262.9L224.1,263.1L224.6,263.3L224.9,263.6L225.1,264.1L224.9,264.6L224.6,264.9L224.1,265.2L223.6,265.5L223.1,265.6 M208.6,264.7L208.6,264.4L208.8,264.6 M211.8,264.7L211.3,264.6L211.6,264.3L211.9,264.6" fill="none" stroke="rgb(79,79,79)" stroke-width="0.4"/>
<path d="M193.8,266.4L193.1,266.6L192.6,266.4L192.1,266.1L191.6,265.7L191.3,265.3L191.1,264.9L190.9,264.1L191.0,263.4L191.1,262.9L191.3,262.4L191.6,261.9L192.1,261.4L192.6,261.2L193.1,261.0L193.8,260.9L194.6,260.9L195.3,261.0L195.8,261.2L196.3,261.6L196.6,262.0L196.8,262.5L197.1,263.1L197.1,263.9L196.8,264.6L196.6,265.0L196.1,265.3L195.6,265.5L195.1,265.8L194.6,266.0L194.1,266.3 M223.3,264.7L222.8,264.6L222.3,264.3L221.8,264.5L221.1,264.6L220.4,264.4L220.8,264.1L221.4,263.9L222.0,263.9L222.4,263.9L223.1,263.7L223.6,264.0L223.6,264.4 M218.6,264.9L217.8,265.1L217.4,264.6L217.6,264.1L218.3,264.0L218.8,264.3L218.8,264.6" fill="none" stroke="rgb(71,71,71)" stroke-width="0.4"/>
<path d="M193.6,266.2L192.8,266.2L192.3,265.9L192.0,265.6L191.6,265.1L191.3,264.7L191.2,264.1L191.3,263.4L191.4,262.9L191.7,262.4L192.0,261.9L192.4,261.6L193.1,261.4L193.6,261.3L194.3,261.2L195.1,261.2L195.7,261.4L196.1,261.8L196.4,262.1L196.6,262.7L196.8,263.4L196.7,264.1L196.5,264.6L196.1,265.0L195.3,265.1L194.9,265.4L194.5,265.6L194.1,265.9L193.6,266.2" fill="none" stroke="rgb(64,64,64)" stroke-width="0.4"/>
<path d="M193.6,265.8L192.8,265.8L192.3,265.5L192.1,265.1L191.8,264.6L191.6,264.0L191.6,263.6L191.7,262.9L192.1,262.4L192.3,262.1L192.8,261.9L193.6,261.7L194.1,261.6L194.8,261.5L195.4,261.6L195.8,262.0L196.1,262.4L196.3,263.1L196.4,263.6L196.3,264.2L195.9,264.6L195.6,264.6L194.8,264.6L194.5,264.9L194.1,265.4L193.8,265.6" fill="none" stroke="rgb(57,57,57)" stroke-width="0.4"/>
<path d="M193.3,265.2L192.8,265.0L192.6,264.4L192.3,264.1L192.1,263.6L192.1,263.0L192.3,262.6L192.8,262.3L193.5,262.1L194.1,262.0L194.6,261.9L195.1,262.0L195.6,262.4L195.8,262.9L195.9,263.4L195.6,263.9L195.1,264.0L194.6,264.2L194.1,264.6L193.7,264.9L193.3,265.2" fill="none" stroke="rgb(50,50,50)" stroke-width="0.4"/>
</g>
<rect x="180.10" y="222.4" width="55" height="53.60" fill="none" stroke="#9a9a9a" stroke-width="0.6"/>
<rect x="202.90" y="232.2" width="28.6" height="43.30" fill="none" stroke="#777" stroke-width="0.55"/>
<text x="216.50" y="229.60" font-size="4.6" fill="#222" text-anchor="middle" font-weight="normal" >52.9</text>
<text x="176.10" y="228.50" font-size="3.9" fill="#444" text-anchor="end">10<tspan font-size="2.34" dy="-1.56">5</tspan></text>
<line x1="178.50" y1="227.20" x2="180.10" y2="227.20" stroke="#444" stroke-width="0.5" />
<text x="176.10" y="242.00" font-size="3.9" fill="#444" text-anchor="end">10<tspan font-size="2.34" dy="-1.56">4</tspan></text>
<line x1="178.50" y1="240.70" x2="180.10" y2="240.70" stroke="#444" stroke-width="0.5" />
<text x="176.10" y="255.40" font-size="3.9" fill="#444" text-anchor="end">10<tspan font-size="2.34" dy="-1.56">3</tspan></text>
<line x1="178.50" y1="254.10" x2="180.10" y2="254.10" stroke="#444" stroke-width="0.5" />
<text x="175.30" y="264.90" font-size="3.9" fill="#444" text-anchor="end" font-weight="normal" >0</text>
<line x1="178.50" y1="263.60" x2="180.10" y2="263.60" stroke="#444" stroke-width="0.5" />
<text x="176.10" y="273.10" font-size="3.9" fill="#444" text-anchor="end">-10<tspan font-size="2.34" dy="-1.56">3</tspan></text>
<line x1="178.50" y1="272.20" x2="180.10" y2="272.20" stroke="#444" stroke-width="0.5" />
<rect x="179.30" y="262.6" width="1.4" height="2.0" fill="#111"/>
<rect x="189.90" y="275.80" width="3.2" height="1.3" fill="#111"/>
<text x="190.80" y="282.60" font-size="3.9" fill="#444" text-anchor="middle" font-weight="normal" >0</text>
<line x1="190.80" y1="276.00" x2="190.80" y2="277.40" stroke="#444" stroke-width="0.5" />
<text x="202.60" y="282.60" font-size="3.9" fill="#444" text-anchor="middle">10<tspan font-size="2.34" dy="-1.56">3</tspan></text>
<line x1="203.20" y1="276.00" x2="203.20" y2="277.40" stroke="#444" stroke-width="0.5" />
<text x="216.00" y="282.60" font-size="3.9" fill="#444" text-anchor="middle">10<tspan font-size="2.34" dy="-1.56">4</tspan></text>
<line x1="216.60" y1="276.00" x2="216.60" y2="277.40" stroke="#444" stroke-width="0.5" />
<text x="228.90" y="282.60" font-size="3.9" fill="#444" text-anchor="middle">10<tspan font-size="2.34" dy="-1.56">5</tspan></text>
<line x1="229.50" y1="276.00" x2="229.50" y2="277.40" stroke="#444" stroke-width="0.5" />
<text x="281.00" y="218.30" font-size="6.6" fill="#222" text-anchor="middle" font-weight="normal" >IL-4 + <tspan font-family="Liberation Serif" font-size="6.6">α</tspan>IL-12</text>
<clipPath id="clip13"><rect x="254.80" y="222.40" width="55" height="53.599999999999994"/></clipPath>
<g clip-path="url(#clip13)">
<circle cx="284.9" cy="270.7" r="0.3" fill="#bcbcbc"/>
<circle cx="289.3" cy="268.2" r="0.3" fill="#bcbcbc"/>
<circle cx="282.6" cy="263.4" r="0.3" fill="#bcbcbc"/>
<circle cx="259.5" cy="267.0" r="0.3" fill="#bcbcbc"/>
<circle cx="289.3" cy="253.7" r="0.3" fill="#bcbcbc"/>
<circle cx="294.5" cy="258.3" r="0.3" fill="#bcbcbc"/>
<circle cx="269.9" cy="274.7" r="0.3" fill="#bcbcbc"/>
<circle cx="296.4" cy="260.7" r="0.3" fill="#bcbcbc"/>
<circle cx="275.6" cy="268.5" r="0.3" fill="#bcbcbc"/>
<circle cx="293.0" cy="272.1" r="0.3" fill="#bcbcbc"/>
<circle cx="266.2" cy="259.3" r="0.3" fill="#bcbcbc"/>
<circle cx="260.1" cy="249.1" r="0.3" fill="#bcbcbc"/>
<circle cx="279.2" cy="254.4" r="0.3" fill="#bcbcbc"/>
<circle cx="297.8" cy="239.4" r="0.3" fill="#bcbcbc"/>
<circle cx="276.2" cy="253.7" r="0.3" fill="#bcbcbc"/>
<circle cx="271.7" cy="266.3" r="0.3" fill="#bcbcbc"/>
<circle cx="263.6" cy="256.7" r="0.3" fill="#bcbcbc"/>
<circle cx="293.5" cy="235.1" r="0.3" fill="#bcbcbc"/>
<circle cx="292.2" cy="243.7" r="0.3" fill="#bcbcbc"/>
<circle cx="274.3" cy="272.0" r="0.3" fill="#bcbcbc"/>
<circle cx="275.7" cy="246.9" r="0.3" fill="#bcbcbc"/>
<circle cx="276.5" cy="264.8" r="0.3" fill="#bcbcbc"/>
<circle cx="271.5" cy="270.4" r="0.3" fill="#bcbcbc"/>
<circle cx="270.7" cy="232.5" r="0.3" fill="#bcbcbc"/>
<circle cx="299.6" cy="235.3" r="0.3" fill="#bcbcbc"/>
<circle cx="261.6" cy="260.5" r="0.3" fill="#bcbcbc"/>
<circle cx="259.8" cy="259.0" r="0.3" fill="#bcbcbc"/>
<circle cx="289.9" cy="263.8" r="0.3" fill="#bcbcbc"/>
<circle cx="258.6" cy="273.2" r="0.3" fill="#bcbcbc"/>
<circle cx="269.4" cy="268.2" r="0.3" fill="#bcbcbc"/>
<circle cx="298.4" cy="264.7" r="0.3" fill="#bcbcbc"/>
<circle cx="271.6" cy="253.9" r="0.3" fill="#bcbcbc"/>
<circle cx="266.2" cy="252.4" r="0.3" fill="#bcbcbc"/>
<circle cx="270.5" cy="256.2" r="0.3" fill="#bcbcbc"/>
<circle cx="279.2" cy="273.1" r="0.3" fill="#bcbcbc"/>
<circle cx="296.8" cy="248.7" r="0.3" fill="#bcbcbc"/>
<circle cx="273.1" cy="260.4" r="0.3" fill="#bcbcbc"/>
<circle cx="259.6" cy="244.7" r="0.3" fill="#bcbcbc"/>
<circle cx="277.4" cy="275.1" r="0.3" fill="#bcbcbc"/>
<circle cx="297.0" cy="224.6" r="0.3" fill="#bcbcbc"/>
<circle cx="269.8" cy="275.0" r="0.3" fill="#bcbcbc"/>
<circle cx="275.5" cy="264.8" r="0.3" fill="#bcbcbc"/>
<circle cx="278.9" cy="260.8" r="0.3" fill="#bcbcbc"/>
<circle cx="268.8" cy="256.0" r="0.3" fill="#bcbcbc"/>
<circle cx="281.8" cy="239.4" r="0.3" fill="#bcbcbc"/>
<circle cx="270.6" cy="251.9" r="0.3" fill="#bcbcbc"/>
<circle cx="302.6" cy="255.7" r="0.3" fill="#bcbcbc"/>
<circle cx="276.4" cy="265.7" r="0.3" fill="#bcbcbc"/>
<circle cx="277.0" cy="271.3" r="0.3" fill="#bcbcbc"/>
<circle cx="262.9" cy="268.7" r="0.3" fill="#bcbcbc"/>
<circle cx="271.8" cy="272.2" r="0.3" fill="#bcbcbc"/>
<circle cx="291.4" cy="249.3" r="0.32" fill="#b8b8b8"/>
<circle cx="297.3" cy="254.5" r="0.32" fill="#b8b8b8"/>
<circle cx="280.1" cy="238.0" r="0.32" fill="#b8b8b8"/>
<circle cx="300.2" cy="251.6" r="0.32" fill="#b8b8b8"/>
<circle cx="276.3" cy="237.7" r="0.32" fill="#b8b8b8"/>
<circle cx="291.1" cy="240.7" r="0.32" fill="#b8b8b8"/>
<circle cx="294.2" cy="249.2" r="0.32" fill="#b8b8b8"/>
<circle cx="294.4" cy="239.2" r="0.32" fill="#b8b8b8"/>
<circle cx="295.3" cy="264.2" r="0.32" fill="#b8b8b8"/>
<circle cx="285.4" cy="259.1" r="0.32" fill="#b8b8b8"/>
<circle cx="297.8" cy="253.7" r="0.32" fill="#b8b8b8"/>
<circle cx="290.5" cy="239.3" r="0.32" fill="#b8b8b8"/>
<circle cx="284.8" cy="254.7" r="0.32" fill="#b8b8b8"/>
<circle cx="297.8" cy="258.4" r="0.32" fill="#b8b8b8"/>
<circle cx="297.7" cy="255.8" r="0.32" fill="#b8b8b8"/>
<circle cx="287.9" cy="238.9" r="0.32" fill="#b8b8b8"/>
<circle cx="292.4" cy="252.6" r="0.32" fill="#b8b8b8"/>
<circle cx="291.6" cy="236.4" r="0.32" fill="#b8b8b8"/>
<circle cx="287.3" cy="236.8" r="0.32" fill="#b8b8b8"/>
<circle cx="292.0" cy="240.2" r="0.32" fill="#b8b8b8"/>
<circle cx="289.8" cy="251.2" r="0.32" fill="#b8b8b8"/>
<circle cx="291.9" cy="259.5" r="0.32" fill="#b8b8b8"/>
<circle cx="283.2" cy="231.1" r="0.32" fill="#b8b8b8"/>
<circle cx="297.6" cy="259.8" r="0.32" fill="#b8b8b8"/>
<circle cx="301.0" cy="250.9" r="0.32" fill="#b8b8b8"/>
<circle cx="294.8" cy="249.6" r="0.32" fill="#b8b8b8"/>
<circle cx="281.9" cy="244.1" r="0.32" fill="#b8b8b8"/>
<circle cx="294.5" cy="244.0" r="0.32" fill="#b8b8b8"/>
<circle cx="304.4" cy="236.3" r="0.32" fill="#b8b8b8"/>
<circle cx="288.0" cy="257.5" r="0.32" fill="#b8b8b8"/>
<circle cx="286.8" cy="239.6" r="0.32" fill="#b8b8b8"/>
<circle cx="281.5" cy="242.8" r="0.32" fill="#b8b8b8"/>
<circle cx="301.6" cy="251.9" r="0.32" fill="#b8b8b8"/>
<circle cx="294.6" cy="244.5" r="0.32" fill="#b8b8b8"/>
<circle cx="296.9" cy="249.5" r="0.32" fill="#b8b8b8"/>
<circle cx="284.6" cy="245.0" r="0.32" fill="#b8b8b8"/>
<circle cx="292.4" cy="258.0" r="0.32" fill="#b8b8b8"/>
<circle cx="290.6" cy="252.7" r="0.32" fill="#b8b8b8"/>
<circle cx="305.2" cy="242.3" r="0.32" fill="#b8b8b8"/>
<circle cx="282.3" cy="256.5" r="0.32" fill="#b8b8b8"/>
<circle cx="294.1" cy="247.9" r="0.32" fill="#b8b8b8"/>
<circle cx="292.9" cy="246.0" r="0.32" fill="#b8b8b8"/>
<circle cx="294.7" cy="246.0" r="0.32" fill="#b8b8b8"/>
<circle cx="296.6" cy="239.3" r="0.32" fill="#b8b8b8"/>
<circle cx="285.3" cy="249.6" r="0.32" fill="#b8b8b8"/>
<circle cx="287.8" cy="254.2" r="0.32" fill="#b8b8b8"/>
<circle cx="290.8" cy="244.3" r="0.32" fill="#b8b8b8"/>
<circle cx="292.5" cy="244.5" r="0.32" fill="#b8b8b8"/>
<circle cx="280.2" cy="239.6" r="0.32" fill="#b8b8b8"/>
<circle cx="285.5" cy="244.9" r="0.32" fill="#b8b8b8"/>
<circle cx="291.8" cy="256.0" r="0.32" fill="#b8b8b8"/>
<circle cx="294.9" cy="263.0" r="0.32" fill="#b8b8b8"/>
<circle cx="300.0" cy="247.2" r="0.32" fill="#b8b8b8"/>
<circle cx="302.7" cy="258.2" r="0.32" fill="#b8b8b8"/>
<circle cx="287.9" cy="251.2" r="0.32" fill="#b8b8b8"/>
<circle cx="298.8" cy="250.7" r="0.32" fill="#b8b8b8"/>
<circle cx="298.2" cy="251.9" r="0.32" fill="#b8b8b8"/>
<circle cx="296.0" cy="246.2" r="0.32" fill="#b8b8b8"/>
<circle cx="293.8" cy="245.9" r="0.32" fill="#b8b8b8"/>
<circle cx="295.9" cy="235.3" r="0.32" fill="#b8b8b8"/>
<path d="M294.3,272.4L293.6,272.6L292.8,272.6L292.2,272.4L291.7,272.1L291.3,271.8L290.8,271.4L290.6,271.1L290.1,270.6L289.8,270.3L289.3,269.9L289.0,269.6L288.6,269.4L287.8,269.2L287.1,269.2L286.3,269.3L285.6,269.4L285.1,269.4L284.3,269.5L283.6,269.5L282.8,269.6L282.1,269.6L281.3,269.6L280.6,269.5L279.8,269.5L279.1,269.4L278.6,269.3L277.8,269.2L277.3,269.1L276.6,269.0L276.1,268.9L275.3,268.7L274.8,268.6L274.1,268.6L273.6,268.7L273.1,269.0L272.6,269.2L272.1,269.5L271.6,269.7L271.1,270.0L270.6,270.2L269.8,270.4L269.3,270.5L268.6,270.6L267.8,270.5L267.1,270.4L266.6,270.3L266.1,270.1L265.6,269.8L265.1,269.6L264.6,269.2L264.2,268.9L263.8,268.5L263.5,268.1L263.1,267.6L262.8,267.3L262.6,266.9L262.3,266.4L262.1,265.9L261.8,265.2L261.6,264.6L261.5,264.1L261.3,263.4L261.2,262.9L261.2,262.1L261.1,261.4L261.2,260.6L261.2,259.9L261.3,259.4L261.5,258.6L261.6,258.1L261.8,257.6L262.1,256.9L262.3,256.4L262.6,255.9L262.8,255.5L263.1,255.1L263.4,254.7L263.8,254.2L264.1,253.9L264.6,253.5L265.1,253.2L265.5,252.9L265.9,252.7L266.5,252.4L267.1,252.2L267.6,252.1L268.3,252.0L269.1,252.0L269.8,252.0L270.3,252.2L271.1,252.3L271.6,252.5L272.1,252.7L272.6,252.9L273.3,253.1L273.8,252.9L274.0,252.2L274.0,251.4L274.0,250.7L274.1,250.2L274.2,249.4L274.3,248.9L274.5,248.2L274.7,247.7L274.9,247.2L275.1,246.7L275.4,246.2L275.7,245.7L276.0,245.2L276.3,244.8L276.6,244.4L277.1,243.9L277.3,243.7L277.8,243.2L278.2,242.9L278.6,242.6L279.1,242.3L279.6,242.0L280.1,241.7L280.6,241.5L281.1,241.3L281.6,241.1L282.3,240.9L282.8,240.8L283.6,240.7L284.1,240.6L284.8,240.6L285.6,240.6L286.3,240.6L287.1,240.5L287.6,240.2L287.9,239.9L288.3,239.5L288.6,239.2L289.1,238.7L289.3,238.4L289.7,237.9L290.1,237.5L290.4,237.2L290.8,236.8L291.3,236.4L291.8,236.2L292.3,235.9L292.8,235.8L293.6,235.8L294.1,235.9L294.6,236.2L295.1,236.5L295.5,236.9L295.8,237.2L296.1,237.7L296.5,238.2L296.8,238.7L297.1,239.1L297.3,239.6L297.6,240.1L297.8,240.7L298.0,241.2L298.2,241.7L298.3,242.2L298.5,242.9L298.7,243.4L298.8,243.9L299.0,244.7L299.1,245.2L299.3,245.9L299.4,246.4L299.5,247.2L299.6,247.7L299.7,248.4L299.8,249.2L299.8,249.7L299.9,250.4L299.9,251.2L300.0,251.9L300.0,252.7L300.0,253.4L300.0,254.2L300.0,254.9L299.9,255.7L299.9,256.4L299.9,257.1L299.8,257.8L299.7,258.4L299.7,259.1L299.6,259.9L299.5,260.4L299.4,261.1L299.3,261.9L299.2,262.4L299.1,263.1L299.0,263.6L298.9,264.4L298.7,264.9L298.6,265.6L298.4,266.1L298.2,266.6L298.0,267.1L297.8,267.7L297.6,268.3L297.3,268.8L297.1,269.3L296.8,269.8L296.6,270.2L296.2,270.6L295.8,271.1L295.6,271.5L295.1,271.9L294.8,272.1L294.3,272.4Z" fill="#6a6a6a" fill-opacity="0.10" stroke="none"/>
<path d="M293.6,269.7L292.8,269.7L292.3,269.5L291.8,269.3L291.3,268.9L291.0,268.6L290.6,268.3L290.1,267.9L289.8,267.6L289.3,267.3L288.8,267.0L288.3,266.8L287.6,266.7L286.8,266.8L286.3,267.0L285.6,267.1L285.1,267.2L284.3,267.4L283.8,267.4L283.1,267.5L282.3,267.5L281.6,267.5L280.8,267.5L280.1,267.4L279.6,267.3L278.8,267.2L278.3,267.1L277.6,266.9L277.1,266.8L276.6,266.6L276.1,266.4L275.4,266.1L274.8,266.1L274.3,266.4L273.9,266.6L273.6,266.9L273.1,267.3L272.6,267.6L272.3,267.9L271.8,268.3L271.3,268.6L270.8,268.9L270.3,269.1L269.8,269.2L269.1,269.4L268.6,269.4L267.8,269.4L267.3,269.3L266.6,269.1L266.1,268.9L265.6,268.6L265.2,268.4L264.8,268.1L264.3,267.6L264.1,267.3L263.7,266.9L263.4,266.4L263.1,265.9L262.8,265.4L262.6,264.9L262.5,264.4L262.3,263.8L262.2,263.1L262.1,262.4L262.0,261.9L262.0,261.1L262.1,260.6L262.1,259.9L262.3,259.1L262.4,258.6L262.6,258.1L262.8,257.5L263.1,257.0L263.3,256.5L263.6,256.1L263.9,255.7L264.3,255.2L264.6,254.9L265.1,254.5L265.5,254.2L266.0,253.9L266.5,253.7L267.1,253.5L267.6,253.4L268.3,253.3L269.1,253.3L269.6,253.4L270.3,253.7L270.8,253.9L271.3,254.2L271.7,254.4L272.1,254.7L272.5,255.2L272.8,255.5L273.1,255.9L273.5,256.4L273.7,256.9L274.0,257.4L274.2,257.9L274.4,258.4L274.6,259.0L274.8,259.6L274.9,260.1L275.1,260.6L275.3,261.2L275.7,261.6L276.3,261.8L277.1,261.7L277.6,261.5L278.1,261.3L278.7,261.1L279.3,261.0L279.9,260.9L280.6,260.8L281.3,260.7L282.1,260.7L282.8,260.7L283.6,260.7L284.3,260.8L285.0,260.9L285.6,261.0L286.3,261.1L286.9,260.9L287.3,260.4L287.4,259.9L287.5,259.1L287.5,258.4L287.4,257.6L287.4,256.9L287.3,256.3L287.2,255.7L287.2,254.9L287.1,254.2L287.1,253.4L287.1,252.7L287.1,251.9L287.1,251.2L287.2,250.4L287.3,249.7L287.4,249.2L287.5,248.4L287.6,247.9L287.8,247.2L287.9,246.7L288.1,246.2L288.3,245.4L288.5,244.9L288.6,244.4L288.8,243.9L289.1,243.4L289.3,242.8L289.6,242.3L289.8,241.8L290.1,241.4L290.4,240.9L290.7,240.4L291.1,240.0L291.5,239.7L291.8,239.4L292.3,239.1L293.1,238.9L293.8,239.0L294.3,239.2L294.8,239.5L295.2,239.9L295.6,240.3L295.8,240.7L296.1,241.2L296.4,241.7L296.6,242.2L296.8,242.7L297.1,243.2L297.3,243.9L297.5,244.4L297.6,244.9L297.8,245.6L297.9,246.2L298.1,246.7L298.2,247.4L298.3,248.1L298.4,248.7L298.5,249.4L298.6,250.0L298.6,250.7L298.7,251.4L298.7,252.2L298.7,252.9L298.8,253.7L298.8,254.4L298.7,255.2L298.7,255.9L298.7,256.6L298.6,257.4L298.6,258.1L298.5,258.6L298.4,259.4L298.3,260.1L298.2,260.6L298.1,261.4L298.0,261.9L297.9,262.6L297.8,263.1L297.6,263.9L297.4,264.4L297.3,264.9L297.1,265.6L296.8,266.1L296.6,266.6L296.3,267.1L296.1,267.6L295.8,268.0L295.5,268.4L295.1,268.9L294.7,269.1L294.3,269.4L293.8,269.6Z" fill="#6a6a6a" fill-opacity="0.10" stroke="none"/>
<path d="M293.8,266.0L293.1,266.1L292.3,266.0L291.8,265.7L291.4,265.4L291.1,265.1L290.7,264.6L290.4,264.1L290.2,263.6L290.0,263.1L289.9,262.4L289.8,261.9L289.7,261.1L289.6,260.4L289.5,259.9L289.4,259.1L289.3,258.4L289.3,257.9L289.2,257.1L289.1,256.4L289.1,255.7L289.1,255.1L289.0,254.4L289.0,253.7L289.0,252.9L289.1,252.4L289.1,251.7L289.2,250.9L289.3,250.2L289.4,249.7L289.5,248.9L289.6,248.4L289.8,247.7L289.9,247.2L290.1,246.7L290.3,246.1L290.6,245.5L290.8,245.0L291.1,244.5L291.3,244.1L291.7,243.7L292.1,243.3L292.6,243.0L293.1,242.9L293.6,242.9L294.1,243.2L294.6,243.5L294.9,243.9L295.3,244.4L295.6,244.9L295.8,245.4L296.0,245.9L296.2,246.4L296.4,246.9L296.6,247.6L296.7,248.2L296.8,248.7L296.9,249.4L297.0,250.2L297.1,250.7L297.2,251.4L297.2,252.2L297.3,252.9L297.3,253.4L297.3,254.2L297.3,254.9L297.3,255.4L297.3,256.1L297.2,256.9L297.1,257.6L297.1,258.3L297.0,258.9L296.8,259.6L296.7,260.1L296.6,260.9L296.5,261.4L296.3,262.0L296.1,262.6L295.9,263.1L295.7,263.6L295.5,264.1L295.2,264.6L294.8,265.1L294.6,265.4L294.1,265.8Z M269.1,268.2L268.3,268.2L267.6,268.1L267.1,268.0L266.6,267.8L266.1,267.6L265.6,267.2L265.2,266.9L264.8,266.5L264.5,266.1L264.2,265.6L263.9,265.1L263.6,264.6L263.4,264.1L263.3,263.6L263.1,262.9L263.0,262.4L263.0,261.6L263.0,260.9L263.1,260.4L263.2,259.6L263.3,259.1L263.5,258.4L263.7,257.9L264.0,257.4L264.3,256.9L264.6,256.6L264.9,256.1L265.3,255.8L265.8,255.4L266.2,255.2L266.7,254.9L267.3,254.7L267.8,254.6L268.6,254.6L269.1,254.7L269.8,254.8L270.3,255.1L270.8,255.3L271.2,255.7L271.6,255.9L272.0,256.4L272.3,256.8L272.6,257.2L272.8,257.6L273.1,258.2L273.3,258.8L273.5,259.4L273.6,259.9L273.7,260.6L273.8,261.2L273.9,261.9L273.8,262.6L273.8,263.1L273.6,263.9L273.5,264.4L273.2,264.9L272.9,265.4L272.6,265.9L272.3,266.2L271.9,266.6L271.6,267.0L271.1,267.3L270.6,267.6L270.1,267.9L269.6,268.0L269.1,268.2Z" fill="#6a6a6a" fill-opacity="0.10" stroke="none"/>
<path d="M294.3,272.9L293.8,272.9L293.1,272.7L292.4,272.6L291.8,272.4L291.5,272.1L291.1,271.6L290.8,271.3L290.5,270.9L290.1,270.4L289.8,270.1L289.4,269.6L289.1,269.2L288.7,268.9L288.1,268.8L287.6,269.0L287.0,269.1L286.5,269.4L285.8,269.5L285.1,269.5L284.3,269.5L283.6,269.5L282.8,269.5L282.1,269.5L281.3,269.6L280.6,269.6L279.8,269.6L279.1,269.6L278.3,269.4L277.8,269.4L277.1,269.3L276.6,269.0L276.1,268.8L275.3,268.7L274.6,268.7L273.8,268.8L273.3,268.9L272.8,269.2L272.3,269.4L271.8,269.7L271.3,270.0L270.8,270.2L270.3,270.4L269.6,270.6L269.1,270.7L268.3,270.7L267.6,270.7L267.1,270.6L266.6,270.4L265.9,270.1L265.3,269.9L265.0,269.6L264.6,269.3L264.2,268.9L263.8,268.5L263.4,268.1L263.1,267.7L262.8,267.4L262.4,266.9L262.2,266.4L262.0,265.9L261.8,265.4L261.6,264.6L261.4,264.1L261.3,263.6L261.2,262.9L261.1,262.1L261.1,261.4L261.2,260.6L261.3,260.1L261.4,259.4L261.6,258.9L261.6,258.1L261.8,257.6L262.1,256.9L262.3,256.4L262.6,256.0L262.8,255.7L263.2,255.2L263.4,254.7L263.8,254.2L264.1,253.9L264.6,253.5L265.1,253.2L265.4,252.9L265.8,252.6L266.3,252.4L267.1,252.3L267.6,252.2L268.3,252.0L269.1,251.9L269.8,252.0L270.6,252.0L271.3,252.1L271.8,252.2L272.3,252.7L272.8,252.8L273.3,252.5L273.5,251.9L273.6,251.4L273.8,250.7L274.0,250.2L274.0,249.4L273.6,248.9L273.4,248.4L273.6,247.8L273.8,247.4L274.3,246.9L274.7,246.7L275.1,246.4L275.4,245.9L275.3,245.2L275.2,244.7L275.4,244.2L275.6,243.7L276.0,243.2L276.3,242.9L276.8,242.5L277.3,242.3L278.1,242.2L278.5,241.9L278.8,241.5L279.1,241.2L279.6,240.7L280.3,240.7L280.8,241.2L281.1,241.6L281.3,241.9L282.1,242.0L282.5,241.7L282.8,241.3L283.3,241.0L283.9,241.2L284.3,241.5L284.6,241.2L285.1,240.7L285.4,240.4L285.8,240.1L286.4,240.2L286.6,240.7L286.7,241.4L287.3,241.5L287.8,241.2L288.1,240.9L288.3,240.3L288.6,239.8L288.9,239.4L289.2,238.9L289.4,238.4L289.7,237.9L290.1,237.5L290.6,237.3L290.9,236.9L291.2,236.4L291.7,236.2L292.3,236.1L293.1,235.9L293.6,235.7L294.1,235.6L294.8,235.5L295.3,235.9L295.6,236.2L295.9,236.7L296.3,237.1L296.6,237.4L296.9,237.9L297.2,238.4L297.3,239.2L297.4,239.7L297.6,240.2L297.8,240.8L298.0,241.4L298.3,241.9L298.5,242.4L298.7,242.9L298.8,243.6L299.0,244.2L299.2,244.7L299.3,245.3L299.5,245.9L299.6,246.4L299.7,247.2L299.6,247.9L299.6,248.7L299.8,249.4L300.0,249.9L300.1,250.4L300.1,251.2L300.0,251.7L300.0,252.4L300.0,253.2L300.1,253.7L300.1,254.4L300.0,254.9L299.9,255.7L300.0,256.4L300.0,257.1L299.9,257.9L299.8,258.6L299.6,259.1L299.6,259.8L299.5,260.4L299.4,261.1L299.4,261.9L299.3,262.6L299.2,263.1L299.1,263.9L299.0,264.4L299.0,265.1L298.8,265.7L298.6,266.2L298.3,266.9L298.2,267.4L297.9,267.9L297.6,268.4L297.4,268.9L297.2,269.4L297.0,269.9L296.7,270.4L296.5,270.9L296.3,271.4L295.9,271.9L295.6,272.2L295.1,272.5L294.6,272.8" fill="none" stroke="rgb(130,130,130)" stroke-width="0.4"/>
<path d="M294.3,271.7L293.6,271.8L292.8,271.8L292.3,271.6L291.8,271.2L291.4,270.9L291.1,270.5L290.6,270.1L290.3,269.9L289.9,269.4L289.6,268.9L289.3,268.5L288.8,268.2L288.3,268.1L287.8,268.2L287.1,268.4L286.6,268.4L285.8,268.4L285.1,268.6L284.6,268.9L284.1,269.0L283.3,269.0L282.7,268.9L282.1,268.7L281.3,268.7L280.6,268.9L279.8,268.8L279.1,268.7L278.6,268.6L277.8,268.5L277.1,268.5L276.6,268.3L276.0,268.1L275.3,267.9L274.8,267.7L274.1,267.8L273.6,268.0L273.1,268.3L272.6,268.6L272.1,268.9L271.8,269.2L271.3,269.5L270.8,269.8L270.3,270.0L269.8,270.2L269.1,270.4L268.3,270.3L267.6,270.3L267.1,270.1L266.6,269.9L265.8,269.7L265.4,269.4L265.1,269.1L264.6,268.7L264.2,268.4L263.8,268.1L263.4,267.6L263.1,267.1L262.8,266.7L262.6,266.2L262.3,265.7L262.1,265.1L261.9,264.6L261.7,264.1L261.6,263.4L261.5,262.9L261.5,262.1L261.5,261.4L261.6,260.9L261.7,260.1L261.8,259.5L261.9,258.9L262.0,258.1L262.2,257.6L262.4,257.1L262.6,256.6L262.8,256.1L263.2,255.7L263.5,255.2L263.8,254.7L264.1,254.4L264.6,254.1L265.1,253.7L265.5,253.4L265.8,253.2L266.3,252.9L267.1,252.7L267.6,252.6L268.3,252.4L269.1,252.5L269.8,252.7L270.3,252.7L270.9,252.9L271.4,253.2L271.8,253.5L272.3,253.8L272.7,254.2L273.1,254.5L273.4,254.9L273.8,255.2L274.3,255.4L274.8,255.8L275.2,256.1L275.4,256.6L275.4,257.4L275.4,258.1L275.6,258.6L275.8,259.1L276.1,259.6L276.6,259.9L277.2,259.9L277.6,259.6L277.7,258.9L277.8,258.4L277.8,257.9L277.6,257.1L277.5,256.6L277.5,255.9L277.6,255.3L278.1,255.1L278.6,255.2L278.7,254.7L278.3,254.2L278.0,253.9L277.6,253.5L277.3,253.1L277.0,252.7L276.6,252.3L276.2,251.9L275.9,251.4L276.1,250.7L276.3,250.4L276.6,249.7L276.6,249.2L276.8,248.6L277.3,248.3L277.6,247.8L277.7,247.2L277.8,246.5L278.3,246.2L278.8,246.0L279.3,245.7L279.6,245.4L279.9,244.9L280.1,244.4L280.3,243.9L281.1,243.8L281.6,243.9L282.3,244.0L283.1,244.1L283.8,244.0L284.3,243.7L284.8,243.4L285.3,243.3L286.0,243.4L286.6,243.5L287.1,243.2L287.4,242.9L287.9,242.7L288.6,242.5L289.1,242.2L289.2,241.7L289.3,241.0L289.4,240.4L289.6,239.9L289.9,239.4L290.2,238.9L290.6,238.6L291.3,238.5L291.7,238.2L291.8,237.4L292.1,236.9L292.5,236.9L292.9,237.2L293.3,237.6L293.8,237.8L294.5,237.7L294.9,237.7L295.3,238.0L295.8,238.2L296.3,238.5L296.6,238.9L296.8,239.4L297.1,240.1L297.2,240.7L297.3,241.2L297.6,241.8L297.8,242.4L297.9,242.9L298.2,243.4L298.4,243.9L298.6,244.5L298.6,245.2L298.8,245.9L299.0,246.4L299.1,246.9L299.2,247.7L299.2,248.4L299.3,249.2L299.4,249.7L299.5,250.4L299.6,250.9L299.6,251.7L299.6,252.3L299.6,252.7L299.6,253.4L299.6,254.1L299.5,254.7L299.5,255.4L299.4,256.1L299.4,256.9L299.4,257.6L299.4,258.4L299.3,258.9L299.1,259.6L299.1,260.3L299.0,260.9L299.1,261.6L299.1,261.9L298.9,262.6L298.7,263.1L298.6,263.9L298.5,264.4L298.5,265.1L298.3,265.6L298.1,266.3L297.9,266.9L297.7,267.4L297.3,267.9L297.1,268.2L296.8,268.8L296.6,269.4L296.3,269.9L296.0,270.1L295.7,270.6L295.5,271.1L295.1,271.5L294.4,271.6 M285.4,245.2L285.8,244.9L286.1,244.4L286.1,243.8L285.3,243.8L284.8,244.0L284.3,244.4L284.7,244.9L285.2,245.2 M276.6,255.2L276.1,254.9L275.9,254.4L276.3,253.9L276.8,253.7L277.5,253.9L277.6,254.4L277.5,254.9L276.8,255.1" fill="none" stroke="rgb(122,122,122)" stroke-width="0.4"/>
<path d="M294.3,270.8L293.6,270.8L292.8,270.8L292.2,270.6L291.8,270.4L291.3,270.0L290.9,269.6L290.6,269.3L290.3,268.9L290.0,268.4L289.6,267.9L289.1,267.6L288.8,267.3L288.3,266.9L287.8,267.4L287.6,267.7L286.8,267.9L286.1,267.8L285.6,267.9L285.1,268.2L284.5,268.4L283.8,268.4L283.3,268.3L282.6,268.3L282.0,268.1L281.4,268.1L280.8,268.3L280.1,268.2L279.6,268.1L278.8,268.1L278.1,267.9L277.6,267.9L276.8,267.8L276.3,267.6L275.8,267.4L275.3,267.1L274.6,267.1L274.1,267.3L273.6,267.5L273.1,267.8L272.6,268.1L272.2,268.4L271.8,268.7L271.3,269.1L270.9,269.4L270.4,269.6L269.8,269.9L269.3,270.0L268.6,270.0L267.8,270.0L267.3,269.8L266.8,269.6L266.2,269.4L265.7,269.1L265.3,268.9L264.8,268.5L264.3,268.2L264.0,267.9L263.6,267.4L263.4,266.9L263.1,266.4L262.8,265.9L262.6,265.5L262.3,265.1L262.1,264.4L261.9,263.9L261.8,263.4L261.7,262.6L261.8,261.9L261.8,261.4L261.9,260.6L262.0,259.9L262.1,259.4L262.3,258.6L262.4,258.1L262.6,257.6L262.8,256.9L263.0,256.4L263.3,256.0L263.6,255.6L263.8,255.2L264.3,254.7L264.7,254.4L265.2,254.2L265.7,253.9L266.1,253.6L266.6,253.3L267.2,253.2L267.8,253.0L268.3,252.9L269.0,252.9L269.6,253.0L270.1,253.2L270.8,253.4L271.1,253.7L271.6,254.1L272.1,254.4L272.6,254.6L272.8,254.9L273.2,255.4L273.6,255.7L274.1,256.1L274.4,256.4L274.6,256.9L274.8,257.6L274.9,258.1L275.1,258.9L275.2,259.4L275.3,260.0L275.6,260.5L276.1,260.8L276.8,260.9L277.3,261.0L277.9,260.9L278.4,260.6L279.0,260.4L279.4,260.1L279.8,259.6L280.1,259.3L280.4,258.9L280.6,258.4L280.6,257.8L280.4,257.1L280.8,256.9L281.6,256.7L282.0,256.4L282.1,256.1L281.7,255.7L281.2,255.4L280.6,255.2L280.2,254.9L280.1,254.4L279.8,253.9L279.6,253.2L279.5,252.7L279.2,252.2L279.0,251.7L279.1,251.2L279.5,250.7L279.7,250.2L279.8,249.7L280.3,249.2L280.6,248.9L281.1,248.6L281.6,248.7L281.6,249.4L281.9,249.9L282.4,249.9L282.6,249.4L282.8,248.9L283.4,248.7L283.8,248.3L284.3,247.9L284.8,247.7L285.2,247.4L285.6,246.9L286.1,246.7L286.8,246.9L287.1,246.9L287.3,246.4L287.5,245.7L287.8,245.2L288.1,244.8L288.3,244.2L288.3,243.5L288.7,243.2L289.1,242.9L289.5,242.4L289.6,241.9L289.8,241.2L290.0,240.7L290.3,240.2L290.6,239.7L290.8,239.4L291.4,239.2L291.9,238.9L292.3,238.5L292.8,238.3L293.3,238.4L294.1,238.6L294.6,238.7L295.3,238.9L295.8,239.0L296.2,239.4L296.5,239.9L296.5,240.7L296.6,241.2L296.8,241.7L297.1,242.2L297.3,242.8L297.6,243.3L297.8,243.7L298.1,244.2L298.2,244.9L298.3,245.5L298.5,246.2L298.6,246.7L298.8,247.4L298.9,247.9L298.9,248.7L299.0,249.4L299.1,249.9L299.2,250.7L299.3,251.4L299.2,252.2L299.2,252.9L299.2,253.7L299.1,254.4L299.2,255.2L299.1,255.9L299.1,256.5L299.0,257.1L299.0,257.9L299.0,258.6L298.8,259.4L298.7,259.9L298.6,260.6L298.7,261.4L298.7,262.1L298.5,262.6L298.3,263.3L298.2,263.9L298.1,264.6L298.0,265.1L297.8,265.8L297.6,266.4L297.4,266.9L297.1,267.4L296.8,267.8L296.6,268.2L296.3,268.8L296.1,269.4L295.8,269.6L295.3,270.0L294.8,270.4L294.5,270.6 M281.3,247.5L280.8,247.3L280.8,246.7L281.3,246.7L281.6,246.9L281.5,247.4 M286.1,248.9L286.3,248.4L286.1,248.1L285.3,248.2L285.3,248.6L285.6,249.0L286.1,248.9 M286.4,253.7L286.3,252.9L285.9,252.9L285.7,253.4L286.1,253.8 M285.0,257.9L285.5,257.6L285.8,257.3L286.2,256.9L286.3,256.4L286.3,255.8L285.8,255.9L285.1,256.0L284.6,256.2L284.1,256.6L283.6,256.9L283.1,256.6L282.6,256.9L282.8,257.5L283.3,257.7L283.8,258.0L284.6,258.0" fill="none" stroke="rgb(115,115,115)" stroke-width="0.4"/>
<path d="M292.6,269.9L292.1,269.8L291.6,269.4L291.3,269.1L291.0,268.6L290.6,268.1L290.3,267.8L290.0,267.4L289.6,266.9L289.3,266.4L289.1,266.0L288.4,266.1L287.8,266.4L287.3,266.5L286.9,266.9L286.3,267.0L285.8,267.1L285.3,267.4L284.8,267.7L284.1,267.8L283.6,267.6L283.0,267.6L282.3,267.7L281.8,267.6L281.3,267.7L280.6,267.7L280.1,267.6L279.3,267.6L278.6,267.5L278.1,267.4L277.4,267.1L276.9,266.9L276.6,266.6L276.1,266.4L275.3,266.2L274.8,266.1L274.3,266.4L274.0,266.6L273.6,267.0L273.1,267.4L272.6,267.6L272.3,267.9L271.8,268.4L271.4,268.6L271.0,268.9L270.6,269.2L270.1,269.5L269.3,269.6L268.6,269.6L267.8,269.5L267.3,269.3L266.6,269.1L266.1,268.9L265.7,268.6L265.2,268.4L264.7,268.1L264.3,267.8L263.9,267.4L263.7,266.9L263.5,266.4L263.2,265.9L262.8,265.4L262.6,265.0L262.3,264.4L262.1,263.9L262.0,263.4L262.0,262.6L262.0,261.9L262.1,261.4L262.2,260.6L262.3,259.9L262.4,259.4L262.6,258.7L262.7,258.1L262.9,257.6L263.1,257.1L263.3,256.5L263.6,256.0L263.8,255.7L264.2,255.2L264.6,254.9L265.1,254.7L265.6,254.4L266.1,254.2L266.6,253.9L267.1,253.6L267.8,253.4L268.3,253.3L269.1,253.3L269.6,253.4L270.3,253.7L270.7,253.9L271.1,254.3L271.6,254.6L272.1,254.8L272.5,255.2L272.8,255.5L273.2,255.9L273.6,256.2L273.9,256.6L274.1,257.1L274.3,257.9L274.4,258.4L274.6,258.9L274.7,259.6L274.8,260.1L275.1,260.7L275.3,261.2L275.6,261.6L276.1,261.9L276.8,261.9L277.6,262.0L278.1,261.8L278.6,261.5L279.1,261.4L279.8,261.1L280.1,260.9L280.5,260.4L281.1,260.2L281.6,260.0L282.1,260.4L282.6,260.6L283.1,260.3L283.3,259.9L283.6,259.4L284.3,259.3L284.8,259.4L285.2,259.9L285.8,260.0L286.1,259.6L286.6,259.2L286.8,258.6L286.9,258.1L287.2,257.6L287.3,256.9L287.2,256.1L287.3,255.6L287.4,254.9L287.4,254.2L287.3,253.4L287.2,252.9L287.1,252.3L286.8,251.7L287.0,250.9L287.3,250.6L287.4,249.9L287.4,249.2L287.6,248.7L287.7,247.9L288.0,247.4L288.1,246.9L288.1,246.2L288.3,245.4L288.6,245.1L288.8,244.7L289.1,244.0L289.3,243.4L289.6,243.1L289.8,242.7L290.0,241.9L290.1,241.4L290.4,240.9L290.8,240.4L291.1,240.0L291.4,239.7L292.1,239.5L292.7,239.4L293.3,239.2L293.8,239.1L294.3,239.3L294.8,239.4L295.4,239.7L295.4,240.4L295.5,241.2L295.7,241.7L295.9,242.2L296.3,242.4L296.7,242.9L296.9,243.4L297.3,243.7L297.6,244.2L297.8,244.7L298.0,245.4L298.1,245.9L298.2,246.7L298.3,247.2L298.5,247.9L298.6,248.4L298.6,249.2L298.7,249.9L298.8,250.5L298.9,251.2L298.9,251.9L298.8,252.7L298.9,253.4L298.8,254.1L298.8,254.7L298.8,255.2L298.8,255.7L298.7,256.4L298.6,257.1L298.5,257.6L298.6,258.1L298.6,258.9L298.4,259.4L298.3,260.1L298.3,260.6L298.3,261.1L298.4,261.9L298.2,262.4L298.0,262.9L297.9,263.6L297.8,264.4L297.6,264.9L297.5,265.4L297.3,265.9L296.9,266.4L296.6,266.9L296.4,267.4L296.1,267.9L295.8,268.4L295.6,268.9L295.3,269.2L294.8,269.5L294.3,269.7L293.6,269.8L292.8,269.9" fill="none" stroke="rgb(108,108,108)" stroke-width="0.4"/>
<path d="M294.1,269.2L293.3,269.3L292.6,269.3L292.1,269.1L291.7,268.6L291.5,268.1L291.2,267.6L290.8,267.3L290.5,266.9L290.1,266.5L289.8,266.1L289.6,265.4L289.3,264.9L288.8,264.8L288.4,265.1L288.1,265.6L287.6,265.7L287.1,265.5L286.6,265.3L285.8,265.3L285.4,265.6L285.2,266.1L285.0,266.6L284.6,267.0L283.8,267.1L283.1,266.9L282.8,266.9L282.1,267.1L281.3,267.1L280.6,267.0L280.1,266.8L279.6,266.9L278.8,267.1L278.2,266.9L277.7,266.6L277.3,266.4L276.8,266.0L276.4,265.6L276.1,265.4L275.6,264.9L275.3,264.4L275.6,263.8L276.0,263.4L276.5,263.1L276.8,263.2L277.3,263.4L277.8,263.2L278.1,262.9L278.5,262.4L278.8,262.1L279.3,261.9L280.1,261.7L280.6,261.6L281.3,261.4L281.7,261.4L282.2,261.4L282.8,261.3L283.3,261.1L283.9,261.1L284.6,261.4L285.1,261.6L285.8,261.5L286.3,261.4L286.9,261.1L287.6,260.9L288.1,260.8L288.1,260.2L287.7,259.9L287.5,259.4L287.6,258.9L287.7,258.1L287.9,257.6L287.9,256.9L287.8,256.4L287.8,255.9L287.9,255.2L287.9,254.4L287.9,253.7L287.8,253.1L287.7,252.4L287.7,251.7L288.0,251.2L288.3,250.7L288.4,250.2L288.2,249.7L288.1,248.9L288.3,248.2L288.5,247.7L288.6,247.2L288.7,246.4L288.8,245.9L289.1,245.3L289.3,244.7L289.5,244.2L289.8,243.7L290.1,243.3L290.3,242.7L290.3,242.2L290.6,241.5L291.1,241.2L291.8,241.2L292.2,240.9L292.6,240.4L292.9,240.2L293.5,239.9L293.8,239.9L294.3,240.2L294.7,240.7L295.0,241.2L295.3,241.7L295.4,242.2L295.7,242.7L296.0,243.2L296.1,243.7L296.6,244.0L297.1,244.2L297.4,244.7L297.6,245.2L297.8,245.9L297.8,246.4L298.0,247.2L298.1,247.7L298.2,248.4L298.2,249.2L298.3,249.9L298.4,250.4L298.5,251.2L298.5,251.9L298.5,252.7L298.6,253.2L298.6,253.8L298.5,254.4L298.5,255.2L298.5,255.9L298.3,256.6L298.1,257.1L297.9,257.6L298.1,258.1L298.2,258.9L298.1,259.4L297.9,260.1L298.0,260.9L298.1,261.5L298.0,261.9L297.8,262.6L297.6,263.1L297.6,263.7L297.3,264.4L297.2,264.9L297.0,265.4L296.7,265.9L296.3,266.2L296.1,266.7L295.8,267.4L295.5,267.6L295.2,268.1L294.9,268.6L294.6,268.9L294.1,269.2 M269.8,269.2L269.1,269.2L268.4,269.1L267.8,269.1L267.1,268.9L266.6,268.7L266.1,268.5L265.6,268.2L265.1,268.0L264.6,267.7L264.3,267.4L264.0,266.9L263.8,266.4L263.5,265.9L263.1,265.4L262.8,265.0L262.6,264.5L262.4,263.9L262.3,263.4L262.2,262.6L262.3,261.9L262.4,261.4L262.4,260.6L262.5,259.9L262.6,259.4L262.8,258.8L263.1,258.2L263.2,257.6L263.3,257.1L263.6,256.6L263.8,256.1L264.2,255.7L264.6,255.3L265.1,255.1L265.6,254.8L266.1,254.5L266.6,254.3L267.1,254.1L267.6,253.8L268.3,253.7L268.8,253.6L269.3,253.7L269.8,253.9L270.3,254.2L270.8,254.5L271.3,254.9L271.8,255.1L272.3,255.4L272.6,255.7L272.9,256.1L273.3,256.6L273.6,257.0L273.8,257.6L273.9,258.1L274.1,258.7L274.2,259.4L274.4,259.9L274.6,260.4L274.8,261.1L274.8,261.6L274.7,262.1L274.6,262.9L274.5,263.4L274.6,263.9L274.5,264.4L274.3,265.0L274.1,265.5L273.8,266.0L273.6,266.5L273.2,266.9L272.8,267.1L272.3,267.5L271.9,267.9L271.6,268.2L271.1,268.5L270.6,268.9L270.1,269.1 M288.3,263.6L288.0,263.6L288.3,263.6" fill="none" stroke="rgb(100,100,100)" stroke-width="0.4"/>
<path d="M293.8,268.5L293.1,268.6L292.6,268.4L292.2,267.9L292.0,267.4L291.6,267.0L291.2,266.6L290.8,266.3L290.3,265.9L290.2,265.4L290.2,264.6L289.8,264.3L289.3,264.0L289.2,263.4L289.5,262.9L289.6,262.4L289.7,261.6L289.5,261.1L289.3,260.6L288.9,260.1L288.6,259.7L288.4,259.1L288.6,258.6L288.8,258.1L288.8,257.4L288.6,256.9L288.3,256.4L288.3,255.9L288.3,255.4L288.3,254.7L288.4,253.9L288.3,253.2L288.2,252.7L288.3,251.9L288.6,251.4L288.8,251.1L289.1,250.7L289.2,249.9L288.8,249.4L288.7,248.9L288.8,248.4L289.0,247.7L289.1,247.2L289.3,246.6L289.5,245.9L289.6,245.4L289.7,244.7L290.0,244.2L290.3,243.7L290.7,243.4L291.0,242.9L291.2,242.4L291.7,242.2L292.3,241.9L292.8,241.7L293.6,241.7L294.3,241.7L294.9,241.9L295.1,242.4L295.3,243.2L295.3,243.7L295.7,244.2L296.2,244.4L296.7,244.7L297.0,245.2L297.3,245.7L297.4,246.2L297.6,246.8L297.6,247.4L297.6,248.2L297.6,248.8L297.5,249.4L297.7,249.9L297.9,250.4L298.0,251.2L298.0,251.9L298.1,252.4L298.2,253.2L298.2,253.9L298.1,254.7L298.1,255.4L298.1,256.1L297.9,256.6L297.6,257.1L297.3,257.6L297.1,258.1L297.3,258.7L297.5,259.4L297.5,260.1L297.6,260.6L297.7,261.4L297.6,262.0L297.3,262.5L297.1,263.1L297.0,263.6L296.8,264.3L296.6,264.9L296.4,265.4L296.1,265.8L295.7,266.1L295.3,266.6L295.0,266.9L294.6,267.2L294.3,267.6L294.1,268.2 M270.1,268.7L269.3,268.8L268.6,268.7L268.1,268.6L267.3,268.6L266.7,268.4L266.2,268.1L265.6,267.9L265.1,267.7L264.7,267.4L264.4,266.9L264.1,266.4L263.8,265.9L263.6,265.5L263.3,265.1L262.9,264.6L262.7,264.1L262.6,263.4L262.5,262.9L262.6,262.4L262.6,261.6L262.6,260.9L262.7,260.1L262.8,259.6L263.1,259.0L263.3,258.4L263.5,257.9L263.6,257.4L263.8,256.8L264.1,256.4L264.5,255.9L265.0,255.7L265.3,255.4L265.8,254.9L266.3,254.7L266.8,254.6L267.3,254.4L267.8,254.1L268.6,254.0L269.3,254.1L269.8,254.4L270.2,254.7L270.6,254.9L271.1,255.2L271.6,255.4L272.1,255.7L272.4,256.1L272.8,256.6L273.1,257.1L273.3,257.6L273.5,258.1L273.6,258.6L273.8,259.4L274.0,259.9L274.2,260.4L274.3,260.9L274.1,261.4L273.8,261.8L273.9,262.1L274.1,262.8L274.1,263.4L274.0,263.9L273.8,264.6L273.6,265.1L273.3,265.6L273.2,266.1L272.9,266.6L272.5,266.9L272.1,267.3L271.8,267.6L271.3,268.0L270.8,268.3L270.3,268.6 M279.6,266.2L278.8,266.2L278.5,265.9L278.1,265.6L277.4,265.4L277.1,264.9L277.4,264.4L277.8,264.1L278.3,263.6L278.6,263.3L279.0,262.9L279.3,262.6L279.8,262.4L280.6,262.2L281.3,262.3L281.8,262.4L282.3,262.7L282.6,263.1L283.0,263.6L283.3,264.1L283.4,264.6L283.2,265.1L282.8,265.5L282.3,265.7L281.6,265.9L280.8,265.8L280.2,265.9L279.7,266.1" fill="none" stroke="rgb(93,93,93)" stroke-width="0.4"/>
<path d="M294.3,266.4L293.8,266.3L293.3,266.0L292.8,265.7L292.3,265.5L291.6,265.5L291.1,265.2L291.0,264.6L291.0,263.9L291.2,263.4L291.1,262.7L290.7,262.4L290.3,261.9L290.3,261.4L290.2,260.6L290.0,260.1L289.6,259.7L289.2,259.4L289.1,258.6L289.3,257.9L289.3,257.5L289.1,256.9L288.8,256.4L288.7,255.9L288.7,255.2L288.7,254.4L288.9,253.9L288.9,253.2L288.7,252.7L288.8,252.1L289.2,251.7L289.6,251.2L289.8,250.7L290.1,250.2L290.1,249.7L289.8,249.3L289.5,248.9L289.5,248.2L289.6,247.5L289.8,247.0L290.1,246.5L290.2,245.9L290.2,245.2L290.3,244.6L290.7,244.2L291.3,244.0L291.8,243.7L292.1,243.4L292.6,243.0L293.1,242.9L293.8,242.8L294.3,242.9L294.6,243.6L294.8,244.1L295.1,244.4L295.7,244.7L296.1,244.9L296.5,245.4L296.8,245.9L297.0,246.4L297.1,246.9L297.2,247.7L297.1,248.4L297.0,248.9L297.0,249.7L297.2,250.2L297.5,250.7L297.6,251.2L297.6,251.9L297.7,252.7L297.8,253.4L297.7,254.2L297.7,254.9L297.7,255.7L297.6,256.2L297.3,256.8L297.1,257.2L296.6,257.6L296.5,258.1L296.5,258.9L296.6,259.5L296.8,260.0L297.1,260.4L297.2,261.1L297.1,261.7L296.7,262.1L296.4,262.6L296.4,263.4L296.3,263.9L296.1,264.6L295.9,265.1L295.6,265.6L295.3,265.9L294.8,266.3L294.3,266.4 M269.6,268.5L268.8,268.4L268.3,268.4L267.6,268.2L267.0,268.1L266.3,267.9L265.8,267.6L265.3,267.4L265.0,267.1L264.6,266.6L264.3,266.1L264.1,265.7L263.8,265.4L263.4,264.9L263.1,264.4L262.9,263.9L262.9,263.1L262.9,262.4L262.9,261.6L262.9,260.9L262.9,260.1L263.1,259.6L263.3,259.1L263.6,258.6L263.8,258.1L264.0,257.4L264.2,256.9L264.6,256.5L265.1,256.2L265.4,255.9L265.7,255.4L266.1,255.1L266.7,254.9L267.3,254.8L267.8,254.6L268.5,254.4L268.9,254.4L269.5,254.7L269.8,254.9L270.3,255.2L270.8,255.4L271.3,255.7L271.8,256.0L272.1,256.4L272.4,256.9L272.7,257.4L273.0,257.9L273.2,258.4L273.4,258.9L273.5,259.6L273.7,260.1L273.7,260.9L273.3,261.4L273.3,261.9L273.5,262.4L273.7,262.9L273.7,263.6L273.5,264.1L273.2,264.6L273.0,265.1L272.9,265.9L272.6,266.4L272.2,266.6L271.8,267.1L271.5,267.4L271.1,267.7L270.6,268.0L270.1,268.3L269.6,268.5 M280.6,264.0L280.1,263.6L280.3,263.1L280.9,263.1L280.8,263.8" fill="none" stroke="rgb(86,86,86)" stroke-width="0.4"/>
<path d="M294.8,265.4L294.1,265.5L293.6,265.2L293.1,265.1L292.6,264.8L292.1,264.4L291.8,264.0L291.7,263.4L291.6,262.7L291.3,262.3L291.0,261.9L290.8,261.1L290.8,260.6L290.6,259.9L290.3,259.6L289.8,259.2L289.6,258.6L289.7,257.9L289.6,257.1L289.5,256.6L289.3,256.1L289.1,255.4L289.0,254.9L289.1,254.4L289.5,253.9L289.7,253.4L289.5,252.9L289.6,252.3L289.9,251.9L290.1,251.4L290.3,250.7L290.5,250.2L290.4,249.4L290.1,248.9L290.0,248.4L290.1,247.9L290.3,247.4L290.7,246.9L291.1,246.5L291.6,246.3L291.9,245.9L291.6,245.4L291.4,244.9L291.8,244.6L292.3,244.3L292.8,244.0L293.3,243.8L293.9,243.9L294.3,244.3L294.6,244.8L295.1,245.0L295.6,245.3L295.9,245.7L296.3,246.1L296.5,246.7L296.5,247.4L296.6,247.9L296.6,248.7L296.6,249.4L296.6,250.2L296.9,250.7L297.1,251.3L297.1,251.9L297.2,252.7L297.2,253.4L297.2,254.2L297.1,254.9L297.1,255.7L296.9,256.1L296.6,256.4L296.1,256.9L296.1,257.6L296.0,258.1L296.0,258.9L296.1,259.6L296.2,260.1L296.4,260.6L296.4,261.4L296.2,261.9L295.9,262.4L295.8,262.9L295.7,263.6L295.5,264.1L295.3,264.7L295.0,265.1 M269.8,268.0L269.1,268.1L268.3,268.1L267.6,267.9L267.1,267.8L266.5,267.6L266.0,267.4L265.6,267.1L265.1,266.6L264.8,266.1L264.6,265.7L264.2,265.4L263.8,264.9L263.6,264.6L263.3,264.0L263.3,263.4L263.2,262.6L263.2,261.9L263.1,261.1L263.2,260.4L263.3,259.9L263.6,259.3L263.8,258.8L264.2,258.4L264.3,257.9L264.6,257.3L264.9,256.9L265.3,256.5L265.6,256.1L265.9,255.7L266.3,255.3L267.1,255.2L267.8,255.2L268.3,255.0L269.1,254.9L269.6,255.2L270.1,255.5L270.6,255.7L271.1,255.9L271.5,256.4L271.7,256.9L272.1,257.3L272.4,257.6L272.8,258.1L273.0,258.6L273.1,259.1L273.3,259.9L273.3,260.4L273.1,260.9L272.8,261.3L272.8,261.9L273.1,262.2L273.3,262.8L273.3,263.4L273.1,263.9L272.8,264.1L272.5,264.6L272.5,265.4L272.3,266.0L271.8,266.4L271.5,266.6L271.1,267.1L270.8,267.4L270.3,267.7L269.8,268.0" fill="none" stroke="rgb(79,79,79)" stroke-width="0.4"/>
<path d="M294.1,264.4L293.6,264.2L293.2,263.9L292.8,263.4L292.5,263.1L292.2,262.6L291.8,262.1L291.6,261.8L291.3,261.1L291.3,260.4L291.3,259.7L291.1,259.3L290.8,258.8L290.3,258.4L290.2,257.9L290.1,257.1L290.2,256.4L290.6,256.0L291.1,255.8L291.1,255.2L290.8,254.9L290.1,254.7L290.1,254.4L290.3,253.9L290.4,253.2L290.6,252.6L290.6,251.9L290.6,251.2L290.8,250.7L291.3,250.3L292.0,250.2L292.2,249.7L292.4,249.2L292.1,248.7L291.5,248.9L291.1,249.3L290.8,248.9L290.9,248.4L291.3,248.2L291.8,247.7L292.0,247.2L292.3,246.9L292.8,246.6L292.9,245.9L292.6,245.4L292.6,244.9L292.9,244.7L293.6,244.6L293.8,245.2L293.9,245.7L294.3,245.9L295.1,246.1L295.6,246.3L295.9,246.7L295.8,247.4L295.7,247.9L295.9,248.4L296.1,248.9L296.1,249.5L296.0,250.2L296.1,250.7L296.1,251.4L295.7,251.7L295.4,252.2L295.8,252.4L296.3,252.9L296.6,253.4L296.6,253.9L296.6,254.7L296.5,255.2L296.2,255.7L295.8,255.9L295.3,256.3L294.9,256.6L294.7,257.1L294.9,257.6L295.1,258.1L295.4,258.6L295.6,259.2L295.6,259.9L295.8,260.6L295.7,261.4L295.4,261.9L295.2,262.4L295.0,262.9L294.8,263.4L294.6,264.1L294.1,264.4 M269.3,267.7L268.6,267.8L268.0,267.6L267.3,267.6L266.8,267.4L266.3,267.1L265.8,266.8L265.5,266.4L265.2,265.9L264.9,265.4L264.6,265.1L264.1,264.6L263.8,264.1L263.8,263.6L263.7,262.9L263.6,262.1L263.5,261.6L263.4,260.9L263.6,260.4L263.8,259.6L264.0,259.1L264.3,258.8L264.7,258.4L264.9,257.9L265.1,257.4L265.4,256.9L265.8,256.4L266.1,256.0L266.4,255.7L267.1,255.5L267.8,255.6L268.6,255.5L269.3,255.6L269.8,255.8L270.3,255.9L270.8,256.2L271.2,256.6L271.4,257.1L271.8,257.6L272.1,257.9L272.5,258.4L272.7,258.9L272.8,259.4L272.9,260.1L272.7,260.6L272.3,261.1L272.0,261.4L271.8,261.9L272.1,262.3L272.6,262.4L272.9,262.9L272.8,263.4L272.3,263.8L272.1,264.3L272.0,264.9L271.9,265.6L271.6,265.9L271.1,266.4L270.8,266.7L270.4,267.1L270.0,267.4L269.5,267.6" fill="none" stroke="rgb(71,71,71)" stroke-width="0.4"/>
<path d="M294.3,252.1L293.8,251.7L293.3,251.4L292.8,251.4L292.6,251.0L292.8,250.5L293.1,250.1L293.6,250.3L294.3,250.4L294.8,250.5L295.1,250.9L294.8,251.4L294.6,251.7 M293.6,262.2L292.8,262.2L292.5,261.9L292.1,261.4L291.9,260.9L292.1,260.4L292.6,260.0L292.6,259.4L292.3,259.0L291.9,258.6L291.6,258.1L291.4,257.6L291.6,257.1L292.1,256.8L292.3,256.4L292.3,255.8L292.1,255.2L291.8,254.7L291.6,254.2L291.7,253.4L291.5,252.9L291.8,253.0L292.3,253.3L293.0,253.2L293.6,253.0L294.1,252.7L294.3,252.4L294.8,252.6L295.3,252.9L295.6,253.2L295.8,253.9L295.9,254.4L295.6,254.9L295.3,255.2L294.8,255.5L294.3,255.8L294.1,256.2L293.8,256.7L293.8,257.3L293.9,257.9L294.0,258.6L294.0,259.4L293.8,259.9L293.6,260.6L293.6,260.9L293.6,261.6L293.6,262.2 M269.1,267.3L268.3,267.3L267.6,267.2L267.1,267.1L266.6,266.7L266.3,266.4L265.8,265.9L265.6,265.5L265.3,265.1L264.8,264.7L264.5,264.4L264.3,263.6L264.3,263.1L264.1,262.4L263.9,261.9L263.8,261.1L264.1,260.5L264.2,259.9L264.3,259.4L264.8,258.9L265.1,258.6L265.3,258.1L265.6,257.6L265.8,257.1L266.2,256.6L266.6,256.3L267.1,256.1L267.8,256.1L268.6,256.0L269.3,256.1L269.8,256.3L270.3,256.4L270.8,256.9L271.1,257.3L271.3,257.7L271.7,258.1L272.1,258.6L272.3,259.1L272.4,259.6L272.3,260.1L272.0,260.6L271.7,261.1L271.4,261.6L271.1,262.1L271.2,262.9L271.4,263.4L271.5,264.1L271.6,264.6L271.5,265.1L271.2,265.6L270.8,266.0L270.5,266.4L270.1,266.7L269.6,267.0L269.1,267.3 M293.2,257.6L292.8,257.4L292.8,257.8" fill="none" stroke="rgb(64,64,64)" stroke-width="0.4"/>
<path d="M268.8,266.7L268.1,266.8L267.3,266.7L267.0,266.4L266.6,265.9L266.3,265.5L266.1,265.1L265.6,264.6L265.3,264.3L265.0,263.9L265.0,263.1L264.7,262.6L264.5,262.1L264.3,261.6L264.3,261.1L264.6,260.4L264.7,259.9L264.9,259.4L265.3,258.9L265.6,258.6L265.8,258.1L266.2,257.6L266.6,257.2L267.0,256.9L267.6,256.8L268.3,256.8L269.1,256.7L269.8,256.8L270.3,257.0L270.6,257.4L270.8,257.9L271.1,258.4L271.4,258.9L271.6,259.4L271.6,260.1L271.5,260.6L271.3,261.1L270.9,261.6L270.7,262.1L270.7,262.9L270.8,263.6L270.9,264.1L271.1,264.6L271.0,265.1L270.6,265.6L270.3,265.9L269.8,266.3L269.3,266.5L268.8,266.7" fill="none" stroke="rgb(57,57,57)" stroke-width="0.4"/>
<path d="M269.1,265.9L268.3,266.1L267.6,265.9L267.4,265.4L267.3,264.9L266.8,264.4L266.6,264.1L266.3,263.4L266.1,263.0L265.7,262.6L265.3,262.3L265.0,261.9L264.8,261.4L264.9,260.9L265.1,260.4L265.3,259.9L265.6,259.4L265.9,258.9L266.3,258.6L266.8,258.3L267.1,257.9L267.6,257.6L268.3,257.5L268.8,257.4L269.6,257.3L270.1,257.6L270.3,258.1L270.4,258.6L270.8,259.1L270.9,259.6L270.9,260.4L270.8,260.9L270.3,261.4L270.1,261.7L270.1,262.2L270.2,262.9L270.1,263.6L270.3,264.3L270.4,264.9L270.1,265.4L269.7,265.6L269.2,265.9" fill="none" stroke="rgb(50,50,50)" stroke-width="0.4"/>
</g>
<rect x="254.80" y="222.4" width="55" height="53.60" fill="none" stroke="#9a9a9a" stroke-width="0.6"/>
<rect x="277.60" y="232.2" width="28.6" height="43.30" fill="none" stroke="#777" stroke-width="0.55"/>
<text x="291.20" y="229.60" font-size="4.6" fill="#222" text-anchor="middle" font-weight="normal" >61.9</text>
<text x="250.80" y="228.50" font-size="3.9" fill="#444" text-anchor="end">10<tspan font-size="2.34" dy="-1.56">5</tspan></text>
<line x1="253.20" y1="227.20" x2="254.80" y2="227.20" stroke="#444" stroke-width="0.5" />
<text x="250.80" y="242.00" font-size="3.9" fill="#444" text-anchor="end">10<tspan font-size="2.34" dy="-1.56">4</tspan></text>
<line x1="253.20" y1="240.70" x2="254.80" y2="240.70" stroke="#444" stroke-width="0.5" />
<text x="250.80" y="255.40" font-size="3.9" fill="#444" text-anchor="end">10<tspan font-size="2.34" dy="-1.56">3</tspan></text>
<line x1="253.20" y1="254.10" x2="254.80" y2="254.10" stroke="#444" stroke-width="0.5" />
<text x="250.00" y="264.90" font-size="3.9" fill="#444" text-anchor="end" font-weight="normal" >0</text>
<line x1="253.20" y1="263.60" x2="254.80" y2="263.60" stroke="#444" stroke-width="0.5" />
<text x="250.80" y="273.10" font-size="3.9" fill="#444" text-anchor="end">-10<tspan font-size="2.34" dy="-1.56">3</tspan></text>
<line x1="253.20" y1="272.20" x2="254.80" y2="272.20" stroke="#444" stroke-width="0.5" />
<rect x="254.00" y="262.6" width="1.4" height="2.0" fill="#111"/>
<rect x="264.60" y="275.80" width="3.2" height="1.3" fill="#111"/>
<text x="265.50" y="282.60" font-size="3.9" fill="#444" text-anchor="middle" font-weight="normal" >0</text>
<line x1="265.50" y1="276.00" x2="265.50" y2="277.40" stroke="#444" stroke-width="0.5" />
<text x="277.30" y="282.60" font-size="3.9" fill="#444" text-anchor="middle">10<tspan font-size="2.34" dy="-1.56">3</tspan></text>
<line x1="277.90" y1="276.00" x2="277.90" y2="277.40" stroke="#444" stroke-width="0.5" />
<text x="290.70" y="282.60" font-size="3.9" fill="#444" text-anchor="middle">10<tspan font-size="2.34" dy="-1.56">4</tspan></text>
<line x1="291.30" y1="276.00" x2="291.30" y2="277.40" stroke="#444" stroke-width="0.5" />
<text x="303.60" y="282.60" font-size="3.9" fill="#444" text-anchor="middle">10<tspan font-size="2.34" dy="-1.56">5</tspan></text>
<line x1="304.20" y1="276.00" x2="304.20" y2="277.40" stroke="#444" stroke-width="0.5" />
<text x="31.75" y="291.50" font-size="6.2" fill="#1a1a1a" text-anchor="start" font-weight="bold" textLength="12.1" lengthAdjust="spacingAndGlyphs">CD161</text>
<line x1="47.00" y1="289.60" x2="303.40" y2="289.60" stroke="#7a7a7a" stroke-width="1.3" />
<polygon points="306.50,289.60 302.90,291.30 302.90,287.90" fill="#7a7a7a"/>
<text x="14.80" y="249.90" font-size="9.4" fill="#1a1a1a" text-anchor="middle" font-weight="bold" textLength="17.6" lengthAdjust="spacingAndGlyphs" transform="rotate(-90 14.80 249.90)">CRTH2</text>
<clipPath id="clip20"><rect x="31.50" y="299.40" width="55" height="52.60000000000002"/></clipPath>
<g clip-path="url(#clip20)">
<circle cx="78.0" cy="342.5" r="0.3" fill="#bcbcbc"/>
<circle cx="59.6" cy="332.7" r="0.3" fill="#bcbcbc"/>
<circle cx="66.0" cy="338.2" r="0.3" fill="#bcbcbc"/>
<circle cx="58.7" cy="347.8" r="0.3" fill="#bcbcbc"/>
<circle cx="63.7" cy="323.5" r="0.3" fill="#bcbcbc"/>
<circle cx="64.1" cy="326.3" r="0.3" fill="#bcbcbc"/>
<circle cx="68.4" cy="332.6" r="0.3" fill="#bcbcbc"/>
<circle cx="63.4" cy="339.7" r="0.3" fill="#bcbcbc"/>
<circle cx="48.5" cy="345.4" r="0.3" fill="#bcbcbc"/>
<circle cx="65.7" cy="336.1" r="0.3" fill="#bcbcbc"/>
<circle cx="61.2" cy="334.4" r="0.3" fill="#bcbcbc"/>
<circle cx="52.0" cy="338.5" r="0.3" fill="#bcbcbc"/>
<circle cx="53.8" cy="333.5" r="0.3" fill="#bcbcbc"/>
<circle cx="68.7" cy="339.0" r="0.3" fill="#bcbcbc"/>
<circle cx="64.1" cy="338.0" r="0.3" fill="#bcbcbc"/>
<circle cx="54.6" cy="346.6" r="0.3" fill="#bcbcbc"/>
<circle cx="63.3" cy="347.3" r="0.3" fill="#bcbcbc"/>
<circle cx="64.9" cy="316.9" r="0.3" fill="#bcbcbc"/>
<circle cx="41.4" cy="344.3" r="0.3" fill="#bcbcbc"/>
<circle cx="69.6" cy="343.5" r="0.3" fill="#bcbcbc"/>
<circle cx="82.4" cy="348.0" r="0.3" fill="#bcbcbc"/>
<circle cx="71.1" cy="309.1" r="0.3" fill="#bcbcbc"/>
<circle cx="73.9" cy="334.9" r="0.3" fill="#bcbcbc"/>
<circle cx="76.6" cy="335.1" r="0.3" fill="#bcbcbc"/>
<circle cx="71.0" cy="346.3" r="0.3" fill="#bcbcbc"/>
<circle cx="57.0" cy="335.2" r="0.3" fill="#bcbcbc"/>
<circle cx="83.0" cy="344.3" r="0.3" fill="#bcbcbc"/>
<circle cx="67.5" cy="337.1" r="0.3" fill="#bcbcbc"/>
<circle cx="73.8" cy="331.2" r="0.3" fill="#bcbcbc"/>
<circle cx="72.8" cy="332.6" r="0.3" fill="#bcbcbc"/>
<circle cx="76.8" cy="348.0" r="0.3" fill="#bcbcbc"/>
<circle cx="67.6" cy="343.1" r="0.3" fill="#bcbcbc"/>
<circle cx="43.4" cy="341.6" r="0.3" fill="#bcbcbc"/>
<circle cx="68.0" cy="341.3" r="0.3" fill="#bcbcbc"/>
<circle cx="68.3" cy="338.4" r="0.3" fill="#bcbcbc"/>
<circle cx="38.6" cy="331.9" r="0.3" fill="#bcbcbc"/>
<circle cx="62.2" cy="333.4" r="0.3" fill="#bcbcbc"/>
<circle cx="64.9" cy="341.1" r="0.3" fill="#bcbcbc"/>
<circle cx="60.2" cy="336.0" r="0.3" fill="#bcbcbc"/>
<circle cx="72.3" cy="331.2" r="0.3" fill="#bcbcbc"/>
<circle cx="72.3" cy="345.1" r="0.3" fill="#bcbcbc"/>
<circle cx="67.0" cy="339.7" r="0.3" fill="#bcbcbc"/>
<circle cx="66.8" cy="341.3" r="0.3" fill="#bcbcbc"/>
<circle cx="60.5" cy="336.9" r="0.3" fill="#bcbcbc"/>
<circle cx="76.8" cy="334.5" r="0.3" fill="#bcbcbc"/>
<circle cx="55.9" cy="338.3" r="0.3" fill="#bcbcbc"/>
<circle cx="75.6" cy="330.7" r="0.3" fill="#bcbcbc"/>
<circle cx="67.0" cy="334.1" r="0.3" fill="#bcbcbc"/>
<circle cx="66.0" cy="337.0" r="0.3" fill="#bcbcbc"/>
<circle cx="69.8" cy="338.9" r="0.3" fill="#bcbcbc"/>
<circle cx="61.0" cy="335.7" r="0.3" fill="#bcbcbc"/>
<circle cx="67.7" cy="339.0" r="0.3" fill="#bcbcbc"/>
<circle cx="52.1" cy="330.1" r="0.3" fill="#bcbcbc"/>
<circle cx="60.9" cy="341.1" r="0.3" fill="#bcbcbc"/>
<circle cx="65.8" cy="338.2" r="0.3" fill="#bcbcbc"/>
<circle cx="69.9" cy="340.3" r="0.3" fill="#bcbcbc"/>
<circle cx="51.1" cy="338.5" r="0.3" fill="#bcbcbc"/>
<circle cx="50.3" cy="347.1" r="0.3" fill="#bcbcbc"/>
<circle cx="56.0" cy="343.3" r="0.3" fill="#bcbcbc"/>
<circle cx="37.2" cy="341.0" r="0.3" fill="#bcbcbc"/>
<circle cx="43.9" cy="326.7" r="0.3" fill="#bcbcbc"/>
<circle cx="72.2" cy="339.9" r="0.3" fill="#bcbcbc"/>
<circle cx="75.1" cy="338.4" r="0.3" fill="#bcbcbc"/>
<circle cx="70.6" cy="338.1" r="0.3" fill="#bcbcbc"/>
<circle cx="57.5" cy="339.2" r="0.3" fill="#bcbcbc"/>
<circle cx="62.3" cy="333.7" r="0.3" fill="#bcbcbc"/>
<circle cx="56.2" cy="326.5" r="0.32" fill="#b8b8b8"/>
<circle cx="59.8" cy="321.6" r="0.32" fill="#b8b8b8"/>
<circle cx="47.6" cy="325.7" r="0.32" fill="#b8b8b8"/>
<circle cx="57.7" cy="310.8" r="0.32" fill="#b8b8b8"/>
<circle cx="59.0" cy="325.3" r="0.32" fill="#b8b8b8"/>
<circle cx="65.0" cy="313.4" r="0.32" fill="#b8b8b8"/>
<circle cx="44.4" cy="326.8" r="0.32" fill="#b8b8b8"/>
<circle cx="40.8" cy="316.2" r="0.32" fill="#b8b8b8"/>
<circle cx="45.8" cy="314.2" r="0.32" fill="#b8b8b8"/>
<circle cx="40.1" cy="319.6" r="0.32" fill="#b8b8b8"/>
<circle cx="60.2" cy="324.4" r="0.32" fill="#b8b8b8"/>
<circle cx="56.5" cy="318.8" r="0.32" fill="#b8b8b8"/>
<circle cx="63.5" cy="325.0" r="0.32" fill="#b8b8b8"/>
<circle cx="60.7" cy="310.5" r="0.32" fill="#b8b8b8"/>
<circle cx="55.8" cy="313.3" r="0.32" fill="#b8b8b8"/>
<circle cx="55.9" cy="322.7" r="0.32" fill="#b8b8b8"/>
<circle cx="45.6" cy="322.6" r="0.32" fill="#b8b8b8"/>
<circle cx="61.5" cy="324.9" r="0.32" fill="#b8b8b8"/>
<circle cx="57.6" cy="315.3" r="0.32" fill="#b8b8b8"/>
<circle cx="48.7" cy="313.6" r="0.32" fill="#b8b8b8"/>
<circle cx="54.4" cy="329.7" r="0.32" fill="#b8b8b8"/>
<circle cx="56.5" cy="321.4" r="0.32" fill="#b8b8b8"/>
<circle cx="45.7" cy="324.5" r="0.32" fill="#b8b8b8"/>
<circle cx="51.8" cy="308.1" r="0.32" fill="#b8b8b8"/>
<circle cx="41.4" cy="319.0" r="0.32" fill="#b8b8b8"/>
<circle cx="47.3" cy="332.9" r="0.32" fill="#b8b8b8"/>
<circle cx="53.8" cy="314.2" r="0.32" fill="#b8b8b8"/>
<circle cx="50.1" cy="332.5" r="0.32" fill="#b8b8b8"/>
<circle cx="46.9" cy="326.8" r="0.32" fill="#b8b8b8"/>
<circle cx="56.6" cy="331.7" r="0.32" fill="#b8b8b8"/>
<circle cx="57.2" cy="318.6" r="0.32" fill="#b8b8b8"/>
<circle cx="57.2" cy="321.9" r="0.32" fill="#b8b8b8"/>
<circle cx="60.3" cy="321.0" r="0.32" fill="#b8b8b8"/>
<circle cx="67.3" cy="320.7" r="0.32" fill="#b8b8b8"/>
<circle cx="56.6" cy="316.9" r="0.32" fill="#b8b8b8"/>
<circle cx="54.4" cy="321.7" r="0.32" fill="#b8b8b8"/>
<circle cx="54.8" cy="327.7" r="0.32" fill="#b8b8b8"/>
<circle cx="49.8" cy="315.6" r="0.32" fill="#b8b8b8"/>
<circle cx="61.3" cy="319.5" r="0.32" fill="#b8b8b8"/>
<circle cx="48.9" cy="329.5" r="0.32" fill="#b8b8b8"/>
<circle cx="59.0" cy="303.1" r="0.32" fill="#b8b8b8"/>
<circle cx="51.0" cy="327.0" r="0.32" fill="#b8b8b8"/>
<circle cx="59.4" cy="317.9" r="0.32" fill="#b8b8b8"/>
<circle cx="64.5" cy="316.0" r="0.32" fill="#b8b8b8"/>
<circle cx="52.0" cy="322.4" r="0.32" fill="#b8b8b8"/>
<circle cx="53.6" cy="327.2" r="0.32" fill="#b8b8b8"/>
<circle cx="60.8" cy="321.2" r="0.32" fill="#b8b8b8"/>
<circle cx="63.4" cy="316.8" r="0.32" fill="#b8b8b8"/>
<circle cx="52.2" cy="333.5" r="0.32" fill="#b8b8b8"/>
<circle cx="54.3" cy="329.0" r="0.32" fill="#b8b8b8"/>
<circle cx="50.7" cy="319.7" r="0.32" fill="#b8b8b8"/>
<circle cx="53.0" cy="322.8" r="0.32" fill="#b8b8b8"/>
<circle cx="51.3" cy="321.7" r="0.32" fill="#b8b8b8"/>
<circle cx="58.4" cy="330.0" r="0.32" fill="#b8b8b8"/>
<circle cx="54.5" cy="326.1" r="0.32" fill="#b8b8b8"/>
<circle cx="60.1" cy="314.1" r="0.32" fill="#b8b8b8"/>
<circle cx="42.8" cy="332.9" r="0.32" fill="#b8b8b8"/>
<circle cx="62.9" cy="322.0" r="0.32" fill="#b8b8b8"/>
<circle cx="56.2" cy="315.1" r="0.32" fill="#b8b8b8"/>
<circle cx="44.1" cy="323.8" r="0.32" fill="#b8b8b8"/>
<circle cx="63.2" cy="326.0" r="0.32" fill="#b8b8b8"/>
<circle cx="65.6" cy="321.7" r="0.32" fill="#b8b8b8"/>
<circle cx="73.4" cy="332.8" r="0.32" fill="#b8b8b8"/>
<circle cx="66.8" cy="327.1" r="0.32" fill="#b8b8b8"/>
<circle cx="64.5" cy="315.5" r="0.32" fill="#b8b8b8"/>
<circle cx="68.7" cy="329.3" r="0.32" fill="#b8b8b8"/>
<circle cx="65.9" cy="323.4" r="0.32" fill="#b8b8b8"/>
<circle cx="67.9" cy="310.8" r="0.32" fill="#b8b8b8"/>
<circle cx="67.2" cy="330.0" r="0.32" fill="#b8b8b8"/>
<circle cx="67.3" cy="323.1" r="0.32" fill="#b8b8b8"/>
<circle cx="70.1" cy="314.5" r="0.32" fill="#b8b8b8"/>
<circle cx="71.3" cy="330.1" r="0.32" fill="#b8b8b8"/>
<circle cx="72.4" cy="328.7" r="0.32" fill="#b8b8b8"/>
<circle cx="66.2" cy="315.5" r="0.32" fill="#b8b8b8"/>
<circle cx="65.2" cy="313.2" r="0.32" fill="#b8b8b8"/>
<circle cx="65.2" cy="326.5" r="0.32" fill="#b8b8b8"/>
<circle cx="71.9" cy="315.1" r="0.32" fill="#b8b8b8"/>
<circle cx="70.0" cy="310.7" r="0.32" fill="#b8b8b8"/>
<circle cx="66.6" cy="312.6" r="0.32" fill="#b8b8b8"/>
<circle cx="62.7" cy="319.9" r="0.32" fill="#b8b8b8"/>
<circle cx="67.8" cy="316.7" r="0.32" fill="#b8b8b8"/>
<circle cx="66.0" cy="312.6" r="0.32" fill="#b8b8b8"/>
<circle cx="67.2" cy="315.3" r="0.32" fill="#b8b8b8"/>
<circle cx="68.3" cy="311.1" r="0.32" fill="#b8b8b8"/>
<circle cx="68.2" cy="323.1" r="0.32" fill="#b8b8b8"/>
<path d="M55.2,347.4L54.5,347.5L53.8,347.6L53.0,347.6L52.2,347.6L51.5,347.6L50.8,347.6L50.0,347.5L49.5,347.4L48.8,347.2L48.2,347.1L47.6,346.9L47.0,346.7L46.5,346.5L46.0,346.3L45.5,346.1L45.0,345.8L44.5,345.5L44.0,345.2L43.6,344.9L43.2,344.6L42.8,344.2L42.5,343.9L42.1,343.4L41.8,343.0L41.5,342.6L41.2,342.1L41.0,341.6L40.8,340.9L40.6,340.4L40.5,339.6L40.5,338.9L40.6,338.1L40.8,337.6L41.0,336.9L41.2,336.4L41.5,335.9L41.8,335.6L42.0,335.1L42.4,334.6L42.8,334.3L43.2,333.9L43.5,333.6L44.0,333.2L44.4,332.9L44.8,332.6L45.2,332.3L45.8,332.0L46.2,331.8L46.8,331.5L47.2,331.3L47.8,331.1L48.2,330.9L49.0,330.6L49.5,330.5L50.0,330.4L50.8,330.2L51.2,330.1L52.0,330.1L52.8,330.0L53.5,330.0L54.2,330.1L54.8,330.2L55.5,330.3L56.0,330.4L56.7,330.6L57.2,330.8L57.8,331.0L58.2,331.2L58.8,331.4L59.4,331.6L59.9,331.9L60.5,332.1L61.0,332.3L61.5,332.5L62.0,332.7L62.8,332.8L63.5,332.9L64.2,332.7L64.8,332.6L65.2,332.3L65.7,331.9L66.0,331.5L66.2,330.9L66.1,330.1L66.0,329.6L65.8,329.1L65.5,328.4L65.3,327.9L65.2,327.4L65.0,326.6L64.9,326.1L64.8,325.4L64.8,324.7L64.7,324.1L64.7,323.4L64.7,322.6L64.8,322.1L64.8,321.4L65.0,320.6L65.1,320.1L65.2,319.5L65.5,318.9L65.7,318.4L66.0,318.0L66.3,317.6L67.0,317.5L67.5,317.7L67.8,318.1L68.1,318.6L68.3,319.1L68.5,319.7L68.7,320.4L68.8,320.9L68.8,321.6L68.9,322.4L68.9,323.1L68.9,323.9L68.9,324.6L68.8,325.4L68.8,326.0L68.6,326.6L68.5,327.3L68.3,327.9L68.2,328.4L68.0,329.0L67.8,329.6L67.6,330.1L67.4,330.6L67.5,331.2L67.8,331.7L68.0,332.1L68.5,332.6L68.8,332.9L69.2,333.2L69.8,333.5L70.2,333.7L70.8,334.0L71.2,334.2L71.8,334.5L72.2,334.8L72.8,335.1L73.1,335.4L73.5,335.8L73.8,336.1L74.2,336.6L74.4,337.1L74.6,337.6L74.8,338.2L74.8,338.9L74.8,339.6L74.6,340.1L74.4,340.6L74.2,341.1L73.8,341.6L73.5,342.0L73.1,342.4L72.8,342.7L72.2,343.0L71.8,343.3L71.2,343.5L70.8,343.7L70.2,343.9L69.5,344.1L69.0,344.2L68.2,344.3L67.5,344.3L66.8,344.4L66.2,344.4L65.5,344.5L64.8,344.6L64.2,344.7L63.5,344.8L63.0,345.0L62.5,345.1L61.8,345.4L61.2,345.6L60.8,345.8L60.2,346.0L59.8,346.2L59.2,346.4L58.5,346.6L58.0,346.8L57.5,346.9L56.8,347.1L56.2,347.3L55.5,347.4Z" fill="#6a6a6a" fill-opacity="0.10" stroke="none"/>
<path d="M54.2,344.9L53.5,345.0L52.8,345.0L52.0,345.0L51.2,345.0L50.8,344.9L50.0,344.8L49.5,344.6L48.8,344.4L48.2,344.2L47.8,344.0L47.2,343.7L46.8,343.4L46.4,343.1L46.0,342.8L45.6,342.4L45.2,342.0L45.0,341.6L44.7,341.1L44.5,340.5L44.4,339.9L44.3,339.1L44.4,338.4L44.6,337.9L44.8,337.4L45.1,336.9L45.5,336.4L45.8,336.1L46.2,335.6L46.6,335.4L47.0,335.1L47.5,334.8L48.0,334.5L48.5,334.3L49.0,334.1L49.8,333.9L50.2,333.8L51.0,333.7L51.5,333.6L52.2,333.5L53.0,333.5L53.8,333.6L54.2,333.7L55.0,333.8L55.5,333.9L56.2,334.1L56.8,334.3L57.2,334.5L57.8,334.7L58.2,335.0L58.8,335.3L59.2,335.6L59.7,335.9L60.0,336.2L60.5,336.6L60.8,336.9L61.2,337.3L61.5,337.6L62.0,338.1L62.5,337.7L62.8,337.3L63.1,336.9L63.5,336.4L63.8,336.1L64.2,335.8L64.8,335.5L65.2,335.2L65.8,335.0L66.2,334.8L66.8,334.6L67.5,334.5L68.2,334.5L69.0,334.6L69.5,334.6L70.2,334.8L70.8,335.0L71.2,335.3L71.8,335.6L72.2,335.9L72.5,336.2L72.9,336.6L73.2,337.1L73.4,337.6L73.6,338.1L73.7,338.9L73.5,339.6L73.4,340.1L73.1,340.6L72.8,341.1L72.5,341.4L72.0,341.9L71.6,342.1L71.2,342.4L70.6,342.6L70.0,342.9L69.5,343.0L68.8,343.1L68.0,343.1L67.2,343.0L66.7,342.9L66.0,342.7L65.5,342.5L65.0,342.3L64.5,342.0L64.0,341.7L63.7,341.4L63.2,341.0L62.9,340.6L62.5,340.2L62.0,340.1L61.8,340.5L61.4,340.9L61.0,341.4L60.8,341.7L60.3,342.1L60.0,342.4L59.5,342.8L59.0,343.1L58.5,343.4L58.1,343.6L57.6,343.9L57.0,344.1L56.5,344.4L56.0,344.5L55.5,344.7L54.8,344.8L54.2,344.9Z" fill="#6a6a6a" fill-opacity="0.10" stroke="none"/>
<path d="M69.2,342.4L68.5,342.5L67.8,342.5L67.2,342.4L66.5,342.2L66.0,342.0L65.5,341.8L65.0,341.5L64.6,341.1L64.2,340.7L64.0,340.4L63.8,339.9L63.6,339.1L63.6,338.4L63.8,337.8L64.0,337.2L64.2,336.9L64.7,336.4L65.0,336.1L65.5,335.8L66.0,335.6L66.5,335.4L67.2,335.2L67.8,335.1L68.5,335.1L69.0,335.2L69.8,335.3L70.2,335.5L70.8,335.7L71.2,336.0L71.8,336.4L72.1,336.6L72.4,337.1L72.7,337.6L72.9,338.1L72.9,338.9L72.8,339.6L72.6,340.1L72.3,340.6L72.0,341.0L71.6,341.4L71.2,341.6L70.8,341.9L70.2,342.1L69.5,342.4Z M53.5,340.4L52.8,340.6L52.0,340.5L51.5,340.4L51.0,340.0L50.8,339.4L50.8,339.1L51.1,338.6L51.5,338.4L52.2,338.1L52.8,338.1L53.2,338.2L53.8,338.5L54.2,338.9L54.3,339.4L54.2,339.9L53.8,340.3Z" fill="#6a6a6a" fill-opacity="0.10" stroke="none"/>
<path d="M56.0,347.7L55.4,347.6L54.8,347.6L54.0,347.5L53.4,347.6L52.8,347.8L52.0,347.7L51.3,347.6L50.8,347.5L50.0,347.5L49.2,347.6L48.6,347.4L48.0,347.3L47.5,347.1L47.0,346.7L46.6,346.4L46.0,346.2L45.7,345.9L45.3,345.4L44.8,345.3L44.2,345.0L43.8,344.6L43.3,344.4L43.0,344.1L42.5,343.8L42.0,343.4L41.6,343.1L41.3,342.6L41.0,342.2L40.8,341.6L40.5,341.2L40.2,340.9L40.0,340.4L39.9,339.6L40.1,339.1L40.1,338.4L40.0,337.9L40.0,337.4L40.5,336.9L40.8,336.6L41.2,336.1L41.4,335.6L41.8,335.2L42.2,334.9L42.5,334.5L42.8,334.1L43.2,333.9L43.8,333.5L44.2,333.3L44.6,333.6L45.0,334.0L45.5,333.6L45.6,333.1L46.0,332.7L46.5,332.4L46.8,332.1L47.0,331.6L47.2,331.1L47.8,330.7L48.5,330.9L48.8,331.1L49.5,331.2L50.0,331.0L50.5,330.7L50.9,330.4L51.2,329.9L51.5,329.4L52.0,329.3L52.5,329.4L53.2,329.4L53.5,328.9L54.0,328.9L54.4,329.1L55.0,329.2L55.5,329.4L56.0,329.7L56.6,329.9L56.9,330.4L56.6,330.9L56.5,331.3L57.0,331.5L57.5,331.3L58.0,331.1L58.6,330.9L59.2,330.8L60.0,330.7L60.7,330.9L61.1,331.1L61.5,331.5L61.9,331.9L62.2,332.2L62.7,332.6L63.0,333.0L63.8,333.0L64.2,332.9L64.6,332.4L64.9,331.9L65.2,331.4L65.3,330.9L65.3,330.1L65.1,329.6L64.8,329.1L64.8,328.4L64.8,327.9L64.5,327.1L64.8,326.5L64.8,325.9L64.5,325.4L64.5,324.9L64.6,324.4L64.8,323.8L64.9,323.1L64.9,322.4L64.8,321.6L65.2,321.1L65.3,320.6L65.2,320.1L65.0,319.6L65.1,319.1L65.5,318.8L66.0,318.4L66.4,318.1L66.8,317.8L67.0,317.4L67.2,316.8L67.6,316.6L68.0,317.0L68.2,317.6L68.5,318.1L68.8,318.6L68.9,319.1L69.0,319.9L68.9,320.6L68.8,321.4L68.7,321.9L68.5,322.4L68.5,323.1L68.8,323.4L69.2,323.9L69.3,324.4L69.2,324.9L69.0,325.5L68.9,326.1L68.8,326.9L68.7,327.4L68.7,328.1L68.7,328.9L68.6,329.6L68.4,330.1L68.5,330.6L68.9,331.1L69.2,331.6L69.5,332.1L69.8,332.5L70.0,333.0L70.2,333.6L70.7,333.9L71.1,334.1L71.5,334.4L72.2,334.6L72.8,334.8L73.2,335.1L73.5,335.6L73.8,336.0L74.1,336.4L74.5,336.7L74.9,337.1L75.1,337.6L75.1,338.4L75.2,339.1L75.2,339.6L75.0,340.1L74.8,340.6L74.7,341.1L74.5,341.8L74.0,342.1L73.5,342.2L72.9,342.4L72.5,342.6L72.0,343.1L71.8,343.4L71.2,343.7L70.5,343.9L70.0,344.1L69.5,344.2L69.0,344.5L68.5,344.7L68.0,344.6L67.2,344.4L66.5,344.6L65.8,344.6L65.0,344.5L64.2,344.5L63.8,344.7L63.0,344.8L62.6,345.1L62.2,345.5L61.8,345.9L61.2,346.1L60.7,346.1L60.0,346.4L59.7,346.6L59.2,346.9L58.5,347.1L58.0,347.2L57.2,347.3L56.8,347.5L56.0,347.6 M57.0,324.7L57.0,324.2L57.2,324.6" fill="none" stroke="rgb(130,130,130)" stroke-width="0.4"/>
<path d="M66.8,326.0L66.1,325.9L65.8,325.5L65.5,324.9L65.5,324.5L65.8,324.1L66.2,323.8L66.8,323.5L67.4,323.6L67.8,324.1L67.9,324.6L67.5,325.1L67.2,325.4L66.9,325.9 M67.2,328.4L67.0,328.3L67.2,328.4 M55.5,346.9L54.8,346.9L54.2,346.7L53.8,346.6L53.0,346.6L52.2,346.6L51.8,346.7L51.2,346.5L50.8,346.4L50.2,346.4L49.5,346.5L49.0,346.3L48.2,346.2L47.8,346.1L47.2,345.8L46.8,345.5L46.4,345.1L46.0,344.8L45.5,344.6L45.0,344.4L44.5,344.1L44.0,343.7L43.7,343.4L43.4,342.9L43.1,342.4L42.8,341.9L42.5,341.5L42.2,341.1L41.9,340.6L41.5,340.1L41.4,339.6L41.6,339.1L41.9,338.6L42.0,338.0L42.2,337.4L42.5,337.0L42.8,336.4L43.0,335.9L43.2,335.6L44.0,335.5L44.5,335.4L45.1,335.1L45.6,334.9L46.0,334.4L46.1,333.9L46.2,333.4L46.8,332.9L47.2,332.7L47.7,332.4L48.2,332.2L49.0,332.2L49.5,332.1L50.0,331.8L50.5,331.6L51.2,331.4L51.8,331.3L52.2,331.1L53.0,330.9L53.5,330.8L54.0,330.9L54.4,331.4L54.8,331.8L55.2,332.0L55.8,332.1L56.5,332.4L57.0,332.6L57.5,332.7L58.2,332.9L58.8,332.5L59.2,332.3L60.0,332.4L60.5,332.6L60.9,332.9L61.2,333.4L61.5,333.9L61.8,334.4L62.0,334.7L62.7,334.9L63.0,334.8L63.5,334.6L64.2,334.5L64.8,334.4L65.5,334.2L66.0,334.1L66.7,333.9L67.2,333.9L68.0,333.8L68.8,333.8L69.2,334.0L69.8,334.3L70.2,334.4L71.0,334.6L71.5,334.9L72.0,335.1L72.5,335.4L72.8,335.6L73.2,336.1L73.5,336.5L73.8,336.9L74.0,337.4L74.2,338.1L74.4,338.6L74.3,339.4L74.1,339.9L73.9,340.4L73.8,340.9L73.4,341.4L73.0,341.7L72.5,342.0L72.0,342.3L71.6,342.6L71.2,343.0L70.8,343.2L70.0,343.4L69.5,343.5L68.8,343.6L68.2,343.8L67.5,343.7L66.8,343.7L66.2,343.6L65.5,343.5L65.0,343.4L64.4,343.4L63.8,343.6L63.0,343.6L62.5,343.7L62.0,344.0L61.6,344.4L61.2,344.7L60.8,345.1L60.2,345.3L59.8,345.6L59.2,345.9L58.8,346.1L58.2,346.3L57.5,346.3L56.8,346.3L56.2,346.6L55.8,346.9 M62.1,342.9L61.9,342.4L61.5,342.6L61.5,343.0L62.1,342.9" fill="none" stroke="rgb(122,122,122)" stroke-width="0.4"/>
<path d="M55.2,345.9L54.5,346.0L53.8,346.1L53.0,346.0L52.2,346.0L51.7,345.9L51.0,345.7L50.5,345.6L50.0,345.3L49.5,345.1L49.0,345.2L48.2,345.3L47.8,345.1L47.2,344.9L47.1,344.1L46.9,343.6L46.2,343.6L45.5,343.5L45.2,343.1L44.9,342.6L44.3,342.4L43.9,342.1L43.7,341.6L43.5,341.1L43.3,340.4L43.2,339.9L43.2,339.1L43.1,338.4L43.3,337.9L43.6,337.4L43.9,336.9L44.2,336.6L44.8,336.2L45.2,335.9L45.7,335.6L46.1,335.4L46.5,335.1L46.6,334.4L46.8,333.7L47.2,333.4L47.8,333.3L48.5,333.2L49.0,333.0L49.5,332.8L50.0,332.6L50.5,332.4L51.2,332.2L51.6,332.1L52.0,332.1L52.8,331.9L53.2,331.9L53.8,332.1L54.2,332.4L54.6,332.6L55.0,332.9L55.8,333.0L56.4,333.1L57.0,333.4L57.3,333.6L57.5,334.1L58.0,334.4L58.5,334.8L58.8,335.1L59.2,335.4L59.7,335.1L60.0,334.8L60.8,334.9L61.0,335.2L61.3,335.6L61.5,336.3L61.8,336.8L62.2,337.0L62.8,336.8L63.1,336.4L63.5,336.0L63.9,335.6L64.3,335.4L64.8,335.1L65.2,334.9L65.8,334.6L66.5,334.4L67.0,334.3L67.8,334.2L68.5,334.2L69.2,334.4L69.8,334.6L70.2,334.7L70.9,334.9L71.4,335.1L71.9,335.4L72.3,335.6L72.8,336.0L73.1,336.4L73.5,336.9L73.7,337.4L73.9,337.9L74.0,338.6L74.0,339.1L73.9,339.6L73.7,340.1L73.5,340.7L73.2,341.1L72.8,341.5L72.2,341.9L71.8,342.1L71.5,342.4L71.0,342.8L70.5,342.9L69.8,343.1L69.2,343.3L68.6,343.4L68.0,343.4L67.5,343.4L66.8,343.3L66.2,343.1L65.5,342.9L65.0,342.7L64.5,342.4L64.0,342.2L63.6,341.9L63.2,341.4L63.0,341.0L62.6,340.6L62.1,340.6L61.8,341.1L61.5,341.6L61.2,341.9L60.8,342.2L60.4,342.6L60.2,343.2L60.0,343.8L59.7,344.1L59.2,344.5L58.8,344.8L58.2,345.0L57.8,345.2L57.0,345.3L56.5,345.4L56.0,345.6L55.4,345.9" fill="none" stroke="rgb(115,115,115)" stroke-width="0.4"/>
<path d="M53.2,345.4L52.5,345.4L52.0,345.3L51.2,345.2L50.8,345.0L50.3,344.6L49.8,344.4L49.2,344.3L48.8,344.1L48.2,343.7L47.8,343.4L47.5,343.1L47.0,342.8L46.4,342.6L46.0,342.2L45.8,341.8L45.2,341.6L44.8,341.7L44.3,341.4L44.2,340.9L44.5,340.4L44.6,339.9L44.4,339.4L44.0,338.9L44.0,338.4L44.2,338.0L44.6,337.6L45.0,337.3L45.5,336.9L45.8,336.5L46.0,336.1L46.5,335.7L47.0,335.4L47.3,335.1L47.7,334.6L48.0,334.4L48.5,334.0L49.0,333.6L49.5,333.4L50.2,333.4L50.8,333.4L51.2,333.1L52.0,333.0L52.7,332.9L53.2,332.8L53.8,332.9L54.2,333.3L54.5,333.6L55.0,334.1L55.5,334.3L56.2,334.4L56.6,334.6L56.9,335.1L57.0,335.8L57.2,336.2L58.0,336.3L58.6,336.4L59.2,336.6L59.7,336.9L60.2,337.1L60.8,337.3L61.2,337.6L61.3,338.1L61.2,338.6L61.4,339.1L61.8,339.6L61.8,339.9L61.4,340.4L61.0,340.9L60.7,341.1L60.2,341.5L59.8,341.9L59.6,342.4L59.5,342.9L59.1,343.4L58.7,343.6L58.2,344.0L57.8,344.2L57.2,344.4L56.5,344.6L56.0,344.9L55.5,345.0L54.8,345.0L54.2,345.2L53.5,345.4 M68.5,343.2L67.8,343.2L67.2,343.1L66.5,342.9L66.0,342.8L65.5,342.6L65.0,342.3L64.5,342.0L64.1,341.6L63.8,341.3L63.4,340.9L63.0,340.4L62.8,340.0L62.4,339.6L62.5,338.9L62.6,338.4L62.8,337.9L63.2,337.4L63.5,336.9L63.8,336.5L64.0,336.1L64.5,335.7L65.0,335.4L65.3,335.1L65.9,334.9L66.5,334.7L67.0,334.5L67.8,334.5L68.5,334.4L69.2,334.6L69.8,334.8L70.3,334.9L70.9,335.1L71.4,335.4L71.9,335.6L72.2,335.9L72.7,336.4L73.0,336.7L73.3,337.1L73.5,337.6L73.7,338.4L73.8,338.9L73.7,339.4L73.5,340.0L73.2,340.6L73.0,340.9L72.5,341.4L72.2,341.6L71.8,341.9L71.2,342.3L70.8,342.6L70.2,342.8L69.8,342.9L69.0,343.1L68.5,343.2" fill="none" stroke="rgb(108,108,108)" stroke-width="0.4"/>
<path d="M52.5,344.7L52.0,344.6L51.2,344.5L50.8,344.1L50.5,343.6L50.2,343.3L49.9,342.9L49.2,342.8L48.5,342.8L48.0,342.5L47.5,342.3L47.0,341.9L46.8,341.5L46.5,340.9L46.3,340.4L46.0,340.0L45.5,339.7L45.2,339.2L45.2,338.6L45.5,338.3L46.0,338.0L46.4,337.6L46.5,337.4L46.5,336.6L46.8,336.2L47.2,335.9L47.7,335.6L48.2,335.4L48.6,335.1L49.2,335.0L49.8,335.1L50.4,335.1L50.8,334.7L51.0,334.4L51.5,334.1L52.1,333.9L52.8,333.9L53.5,333.9L54.0,334.1L54.2,334.4L54.8,334.8L55.2,335.0L55.8,335.1L56.3,335.4L56.6,335.9L56.8,336.4L57.2,336.8L57.8,336.9L58.4,337.1L58.6,337.6L58.7,338.4L59.0,338.7L59.3,339.1L59.6,339.6L59.5,340.3L59.3,340.9L59.0,341.3L58.7,341.6L58.3,342.1L58.1,342.6L58.0,343.1L57.5,343.5L56.8,343.6L56.2,343.9L55.9,344.1L55.2,344.3L54.5,344.2L53.8,344.2L53.0,344.4L52.5,344.6 M69.0,342.9L68.2,343.0L67.5,343.0L67.0,342.9L66.3,342.6L65.8,342.5L65.2,342.2L64.8,341.9L64.5,341.6L64.0,341.2L63.7,340.9L63.4,340.4L63.1,339.9L62.9,339.4L62.9,338.6L63.1,338.1L63.4,337.6L63.7,337.1L64.0,336.6L64.2,336.3L64.7,335.9L65.0,335.6L65.5,335.3L66.0,335.1L66.5,334.9L67.2,334.7L67.8,334.6L68.5,334.6L69.0,334.8L69.5,334.9L70.2,335.1L70.8,335.2L71.2,335.5L71.8,335.8L72.2,336.1L72.5,336.4L72.9,336.9L73.2,337.4L73.4,337.9L73.5,338.4L73.5,339.1L73.4,339.6L73.2,340.1L72.9,340.6L72.5,341.1L72.2,341.4L71.8,341.7L71.2,342.1L70.8,342.4L70.2,342.6L69.8,342.7L69.0,342.9" fill="none" stroke="rgb(100,100,100)" stroke-width="0.4"/>
<path d="M69.2,342.7L68.5,342.8L67.8,342.8L67.0,342.7L66.5,342.5L66.0,342.4L65.5,342.1L65.0,341.8L64.5,341.4L64.2,341.1L63.8,340.6L63.5,340.1L63.3,339.6L63.2,339.1L63.3,338.6L63.5,338.1L63.8,337.6L64.0,337.1L64.3,336.6L64.8,336.2L65.1,335.9L65.5,335.6L66.0,335.3L66.5,335.1L67.2,334.9L67.8,334.8L68.5,334.8L69.0,335.0L69.7,335.1L70.2,335.3L70.8,335.5L71.2,335.7L71.8,336.1L72.2,336.4L72.5,336.8L72.8,337.1L73.1,337.6L73.2,338.2L73.3,338.9L73.2,339.4L73.0,340.0L72.8,340.4L72.4,340.9L72.0,341.3L71.6,341.6L71.2,341.9L70.8,342.2L70.2,342.4L69.5,342.6 M55.8,343.5L55.0,343.6L54.2,343.4L53.5,343.4L52.8,343.5L52.1,343.4L51.5,343.2L51.1,342.9L50.8,342.4L50.8,341.7L50.5,341.4L50.0,341.0L49.2,341.1L48.8,341.4L48.5,341.4L48.0,341.1L47.5,340.7L47.2,340.2L47.2,339.6L47.3,339.1L47.7,338.6L48.1,338.4L48.5,338.1L48.9,337.6L48.7,337.1L48.0,337.0L48.0,336.6L48.5,336.2L49.0,336.0L49.5,335.8L50.2,335.8L51.0,335.8L51.5,335.5L51.8,335.1L52.5,335.0L53.0,335.3L53.8,335.4L54.2,335.5L54.8,335.7L55.4,335.9L56.0,336.1L56.2,336.6L56.5,337.0L56.8,337.4L57.2,337.7L57.5,338.4L57.5,338.9L58.0,339.2L58.4,339.6L58.2,340.2L58.0,340.7L57.8,341.2L57.5,341.7L57.2,342.1L56.8,342.6L56.4,342.9L56.0,343.3" fill="none" stroke="rgb(93,93,93)" stroke-width="0.4"/>
<path d="M68.2,342.7L67.8,342.6L67.0,342.5L66.5,342.4L65.9,342.1L65.4,341.9L65.0,341.6L64.5,341.1L64.2,340.9L63.9,340.4L63.7,339.9L63.5,339.1L63.7,338.4L63.9,337.9L64.2,337.4L64.5,336.9L64.8,336.5L65.1,336.1L65.5,335.8L66.0,335.5L66.5,335.3L67.0,335.1L67.8,335.0L68.5,335.0L69.0,335.2L69.8,335.3L70.2,335.5L70.8,335.7L71.2,336.0L71.8,336.3L72.1,336.6L72.5,337.1L72.8,337.5L73.0,338.1L73.1,338.6L73.0,339.3L72.8,339.9L72.5,340.3L72.2,340.7L71.9,341.1L71.5,341.5L71.0,341.8L70.5,342.1L70.0,342.3L69.5,342.4L68.8,342.6L68.2,342.7 M55.8,342.2L55.1,342.1L55.1,341.4L54.8,341.1L54.1,341.1L53.5,341.2L52.8,341.3L52.1,341.1L51.5,341.0L51.0,340.8L50.7,340.4L50.4,339.9L51.0,339.8L51.5,339.9L52.0,339.8L52.0,339.4L51.5,339.1L50.8,338.9L50.5,338.6L50.0,338.1L49.8,337.6L50.0,337.0L50.5,336.8L51.0,337.0L51.8,337.0L52.2,336.6L52.5,336.3L53.2,336.3L53.8,336.5L54.2,336.7L55.0,336.8L55.5,337.1L55.7,337.6L55.7,338.4L56.0,338.7L56.6,338.9L56.8,339.4L57.1,339.9L57.2,340.6L56.8,341.1L56.5,341.4L56.1,341.9L55.8,342.2" fill="none" stroke="rgb(86,86,86)" stroke-width="0.4"/>
<path d="M68.8,342.4L68.0,342.5L67.4,342.4L66.8,342.3L66.2,342.1L65.8,341.9L65.2,341.5L64.8,341.1L64.5,340.8L64.2,340.4L63.9,339.9L63.8,339.1L64.0,338.4L64.2,337.9L64.5,337.4L64.8,337.0L65.0,336.6L65.4,336.1L65.8,335.9L66.2,335.6L66.8,335.4L67.5,335.2L68.2,335.2L69.0,335.4L69.5,335.5L70.1,335.6L70.7,335.9L71.1,336.1L71.5,336.5L72.0,336.9L72.2,337.2L72.6,337.6L72.8,338.1L72.8,338.9L72.7,339.4L72.4,339.9L72.1,340.4L71.8,340.9L71.5,341.2L71.0,341.6L70.5,341.9L70.0,342.1L69.5,342.3L68.8,342.4" fill="none" stroke="rgb(79,79,79)" stroke-width="0.4"/>
<path d="M68.8,342.2L68.0,342.3L67.2,342.2L66.8,342.0L66.2,341.9L65.8,341.6L65.2,341.2L64.9,340.9L64.5,340.4L64.3,339.9L64.2,339.4L64.2,338.6L64.4,338.1L64.6,337.6L64.9,337.1L65.2,336.6L65.5,336.4L66.0,336.0L66.5,335.8L67.0,335.6L67.5,335.4L68.2,335.4L68.8,335.5L69.2,335.7L70.0,335.8L70.5,336.1L71.0,336.4L71.2,336.7L71.8,337.1L72.0,337.4L72.4,337.9L72.5,338.4L72.5,339.0L72.2,339.5L72.0,339.9L71.7,340.4L71.5,340.9L71.0,341.3L70.5,341.6L70.0,341.9L69.5,342.1L69.0,342.1" fill="none" stroke="rgb(71,71,71)" stroke-width="0.4"/>
<path d="M69.0,341.9L68.2,342.0L67.5,342.0L67.0,341.9L66.3,341.6L65.8,341.4L65.5,341.1L65.0,340.6L64.8,340.2L64.6,339.6L64.6,338.9L64.7,338.1L64.9,337.6L65.2,337.1L65.5,336.7L65.9,336.4L66.3,336.1L66.9,335.9L67.5,335.7L68.0,335.6L68.5,335.8L69.0,335.9L69.8,336.1L70.2,336.3L70.7,336.6L71.0,337.1L71.4,337.4L71.8,337.6L72.1,338.1L72.2,338.9L72.0,339.4L71.7,339.9L71.4,340.4L71.1,340.9L70.7,341.1L70.2,341.5L69.8,341.7L69.1,341.9" fill="none" stroke="rgb(64,64,64)" stroke-width="0.4"/>
<path d="M69.0,341.7L68.2,341.8L67.5,341.7L67.0,341.6L66.4,341.4L65.9,341.1L65.5,340.7L65.2,340.2L65.2,339.6L65.1,338.9L65.1,338.1L65.3,337.6L65.5,337.1L66.0,336.6L66.4,336.4L67.0,336.2L67.5,336.0L68.2,336.1L68.8,336.4L69.2,336.5L69.8,336.6L70.2,337.0L70.5,337.4L71.0,337.7L71.5,338.1L71.8,338.4L71.8,339.1L71.5,339.6L71.2,340.0L71.0,340.4L70.5,340.9L70.2,341.1L69.8,341.5L69.2,341.6" fill="none" stroke="rgb(57,57,57)" stroke-width="0.4"/>
<path d="M68.0,341.4L67.5,341.4L66.8,341.1L66.3,340.9L66.0,340.6L66.0,339.9L66.1,339.4L65.8,339.0L65.5,338.4L65.5,338.1L65.8,337.5L66.0,337.1L66.5,336.8L67.2,336.9L67.8,337.1L68.5,337.1L69.0,337.3L69.5,337.5L70.0,337.7L70.5,338.0L71.0,338.3L71.3,338.6L71.2,339.2L71.0,339.6L70.6,340.1L70.2,340.6L69.9,340.9L69.5,341.2L68.8,341.3L68.2,341.4" fill="none" stroke="rgb(50,50,50)" stroke-width="0.4"/>
</g>
<rect x="31.50" y="299.4" width="55" height="52.60" fill="none" stroke="#9a9a9a" stroke-width="0.6"/>
<line x1="61.50" y1="299.40" x2="61.50" y2="352.00" stroke="#555" stroke-width="0.7" />
<line x1="31.50" y1="331.40" x2="86.50" y2="331.40" stroke="#555" stroke-width="0.7" />
<text x="33.10" y="305.70" font-size="4.6" fill="#222" text-anchor="start" font-weight="normal" >3.07</text>
<text x="80.20" y="305.70" font-size="4.6" fill="#222" text-anchor="end" font-weight="normal" >4.66</text>
<text x="33.10" y="347.70" font-size="4.6" fill="#222" text-anchor="start" font-weight="normal" >41.9</text>
<text x="70.80" y="347.70" font-size="4.6" fill="#222" text-anchor="start" font-weight="normal" >50.4</text>
<text x="27.50" y="304.90" font-size="3.9" fill="#444" text-anchor="end">10<tspan font-size="2.34" dy="-1.56">5</tspan></text>
<line x1="29.90" y1="303.60" x2="31.50" y2="303.60" stroke="#444" stroke-width="0.5" />
<text x="27.50" y="317.20" font-size="3.9" fill="#444" text-anchor="end">10<tspan font-size="2.34" dy="-1.56">4</tspan></text>
<line x1="29.90" y1="315.90" x2="31.50" y2="315.90" stroke="#444" stroke-width="0.5" />
<text x="27.50" y="329.60" font-size="3.9" fill="#444" text-anchor="end">10<tspan font-size="2.34" dy="-1.56">3</tspan></text>
<line x1="29.90" y1="328.30" x2="31.50" y2="328.30" stroke="#444" stroke-width="0.5" />
<text x="26.70" y="347.00" font-size="3.9" fill="#444" text-anchor="end" font-weight="normal" >0</text>
<line x1="29.90" y1="345.70" x2="31.50" y2="345.70" stroke="#444" stroke-width="0.5" />
<rect x="30.70" y="344.7" width="1.4" height="2.0" fill="#111"/>
<rect x="41.30" y="351.80" width="3.2" height="1.3" fill="#111"/>
<text x="41.30" y="359.00" font-size="3.9" fill="#444" text-anchor="middle" font-weight="normal" >0</text>
<line x1="41.30" y1="352.00" x2="41.30" y2="353.40" stroke="#444" stroke-width="0.5" />
<text x="54.40" y="359.00" font-size="3.9" fill="#444" text-anchor="middle">10<tspan font-size="2.34" dy="-1.56">3</tspan></text>
<line x1="55.00" y1="352.00" x2="55.00" y2="353.40" stroke="#444" stroke-width="0.5" />
<text x="67.30" y="359.00" font-size="3.9" fill="#444" text-anchor="middle">10<tspan font-size="2.34" dy="-1.56">4</tspan></text>
<line x1="67.90" y1="352.00" x2="67.90" y2="353.40" stroke="#444" stroke-width="0.5" />
<text x="80.20" y="359.00" font-size="3.9" fill="#444" text-anchor="middle">10<tspan font-size="2.34" dy="-1.56">5</tspan></text>
<line x1="80.80" y1="352.00" x2="80.80" y2="353.40" stroke="#444" stroke-width="0.5" />
<clipPath id="clip21"><rect x="105.50" y="299.40" width="55" height="52.60000000000002"/></clipPath>
<g clip-path="url(#clip21)">
<circle cx="152.2" cy="339.8" r="0.3" fill="#bcbcbc"/>
<circle cx="128.1" cy="338.6" r="0.3" fill="#bcbcbc"/>
<circle cx="157.2" cy="324.1" r="0.3" fill="#bcbcbc"/>
<circle cx="140.4" cy="332.7" r="0.3" fill="#bcbcbc"/>
<circle cx="143.7" cy="335.7" r="0.3" fill="#bcbcbc"/>
<circle cx="150.8" cy="329.3" r="0.3" fill="#bcbcbc"/>
<circle cx="139.6" cy="339.0" r="0.3" fill="#bcbcbc"/>
<circle cx="137.9" cy="341.1" r="0.3" fill="#bcbcbc"/>
<circle cx="143.5" cy="339.2" r="0.3" fill="#bcbcbc"/>
<circle cx="148.3" cy="346.8" r="0.3" fill="#bcbcbc"/>
<circle cx="159.0" cy="341.2" r="0.3" fill="#bcbcbc"/>
<circle cx="142.5" cy="342.8" r="0.3" fill="#bcbcbc"/>
<circle cx="116.6" cy="333.5" r="0.3" fill="#bcbcbc"/>
<circle cx="142.0" cy="345.4" r="0.3" fill="#bcbcbc"/>
<circle cx="138.6" cy="328.7" r="0.3" fill="#bcbcbc"/>
<circle cx="144.8" cy="340.8" r="0.3" fill="#bcbcbc"/>
<circle cx="142.0" cy="337.6" r="0.3" fill="#bcbcbc"/>
<circle cx="150.1" cy="338.6" r="0.3" fill="#bcbcbc"/>
<circle cx="133.9" cy="331.4" r="0.3" fill="#bcbcbc"/>
<circle cx="160.0" cy="343.1" r="0.3" fill="#bcbcbc"/>
<circle cx="149.8" cy="342.4" r="0.3" fill="#bcbcbc"/>
<circle cx="141.7" cy="336.7" r="0.3" fill="#bcbcbc"/>
<circle cx="139.8" cy="338.5" r="0.3" fill="#bcbcbc"/>
<circle cx="135.2" cy="348.8" r="0.3" fill="#bcbcbc"/>
<circle cx="137.4" cy="322.9" r="0.3" fill="#bcbcbc"/>
<circle cx="146.3" cy="339.1" r="0.3" fill="#bcbcbc"/>
<circle cx="140.1" cy="343.8" r="0.3" fill="#bcbcbc"/>
<circle cx="148.1" cy="341.9" r="0.3" fill="#bcbcbc"/>
<circle cx="135.9" cy="340.1" r="0.3" fill="#bcbcbc"/>
<circle cx="135.1" cy="339.1" r="0.3" fill="#bcbcbc"/>
<circle cx="106.6" cy="338.4" r="0.3" fill="#bcbcbc"/>
<circle cx="135.8" cy="327.1" r="0.3" fill="#bcbcbc"/>
<circle cx="139.3" cy="337.1" r="0.3" fill="#bcbcbc"/>
<circle cx="123.2" cy="347.7" r="0.3" fill="#bcbcbc"/>
<circle cx="134.2" cy="335.0" r="0.3" fill="#bcbcbc"/>
<circle cx="134.9" cy="336.2" r="0.3" fill="#bcbcbc"/>
<circle cx="147.8" cy="334.3" r="0.3" fill="#bcbcbc"/>
<circle cx="147.2" cy="337.6" r="0.3" fill="#bcbcbc"/>
<circle cx="143.5" cy="331.9" r="0.3" fill="#bcbcbc"/>
<circle cx="144.3" cy="338.4" r="0.3" fill="#bcbcbc"/>
<circle cx="123.7" cy="349.8" r="0.3" fill="#bcbcbc"/>
<circle cx="136.6" cy="331.6" r="0.3" fill="#bcbcbc"/>
<circle cx="149.5" cy="329.5" r="0.3" fill="#bcbcbc"/>
<circle cx="137.4" cy="347.5" r="0.3" fill="#bcbcbc"/>
<circle cx="121.2" cy="346.0" r="0.3" fill="#bcbcbc"/>
<circle cx="120.5" cy="335.1" r="0.3" fill="#bcbcbc"/>
<circle cx="128.3" cy="329.1" r="0.3" fill="#bcbcbc"/>
<circle cx="144.1" cy="344.9" r="0.3" fill="#bcbcbc"/>
<circle cx="151.2" cy="335.4" r="0.3" fill="#bcbcbc"/>
<circle cx="137.3" cy="333.5" r="0.3" fill="#bcbcbc"/>
<circle cx="139.2" cy="334.6" r="0.3" fill="#bcbcbc"/>
<circle cx="137.7" cy="346.4" r="0.3" fill="#bcbcbc"/>
<circle cx="146.5" cy="331.5" r="0.3" fill="#bcbcbc"/>
<circle cx="110.0" cy="344.1" r="0.3" fill="#bcbcbc"/>
<circle cx="131.6" cy="345.9" r="0.3" fill="#bcbcbc"/>
<circle cx="154.5" cy="330.0" r="0.3" fill="#bcbcbc"/>
<circle cx="150.2" cy="339.1" r="0.3" fill="#bcbcbc"/>
<circle cx="138.8" cy="324.5" r="0.3" fill="#bcbcbc"/>
<circle cx="130.7" cy="341.2" r="0.3" fill="#bcbcbc"/>
<circle cx="148.1" cy="334.8" r="0.3" fill="#bcbcbc"/>
<circle cx="124.8" cy="321.0" r="0.32" fill="#b8b8b8"/>
<circle cx="118.2" cy="305.9" r="0.32" fill="#b8b8b8"/>
<circle cx="116.9" cy="314.4" r="0.32" fill="#b8b8b8"/>
<circle cx="124.8" cy="318.9" r="0.32" fill="#b8b8b8"/>
<circle cx="125.9" cy="322.9" r="0.32" fill="#b8b8b8"/>
<circle cx="119.3" cy="329.1" r="0.32" fill="#b8b8b8"/>
<circle cx="142.4" cy="321.9" r="0.32" fill="#b8b8b8"/>
<circle cx="127.9" cy="328.0" r="0.32" fill="#b8b8b8"/>
<circle cx="131.6" cy="320.6" r="0.32" fill="#b8b8b8"/>
<circle cx="125.0" cy="314.1" r="0.32" fill="#b8b8b8"/>
<circle cx="117.0" cy="323.9" r="0.32" fill="#b8b8b8"/>
<circle cx="135.9" cy="311.9" r="0.32" fill="#b8b8b8"/>
<circle cx="125.8" cy="320.8" r="0.32" fill="#b8b8b8"/>
<circle cx="123.0" cy="314.0" r="0.32" fill="#b8b8b8"/>
<circle cx="123.2" cy="305.5" r="0.32" fill="#b8b8b8"/>
<circle cx="125.9" cy="317.2" r="0.32" fill="#b8b8b8"/>
<circle cx="143.3" cy="325.8" r="0.32" fill="#b8b8b8"/>
<circle cx="123.6" cy="319.2" r="0.32" fill="#b8b8b8"/>
<circle cx="140.1" cy="330.5" r="0.32" fill="#b8b8b8"/>
<circle cx="127.8" cy="318.4" r="0.32" fill="#b8b8b8"/>
<circle cx="114.8" cy="317.0" r="0.32" fill="#b8b8b8"/>
<circle cx="125.0" cy="314.1" r="0.32" fill="#b8b8b8"/>
<circle cx="140.2" cy="306.1" r="0.32" fill="#b8b8b8"/>
<circle cx="125.3" cy="322.1" r="0.32" fill="#b8b8b8"/>
<circle cx="129.9" cy="331.1" r="0.32" fill="#b8b8b8"/>
<circle cx="115.2" cy="314.0" r="0.32" fill="#b8b8b8"/>
<circle cx="127.1" cy="320.2" r="0.32" fill="#b8b8b8"/>
<circle cx="123.3" cy="313.9" r="0.32" fill="#b8b8b8"/>
<circle cx="134.9" cy="311.9" r="0.32" fill="#b8b8b8"/>
<circle cx="121.8" cy="329.3" r="0.32" fill="#b8b8b8"/>
<circle cx="140.2" cy="325.4" r="0.32" fill="#b8b8b8"/>
<circle cx="119.5" cy="313.3" r="0.32" fill="#b8b8b8"/>
<circle cx="119.2" cy="311.3" r="0.32" fill="#b8b8b8"/>
<circle cx="123.0" cy="328.2" r="0.32" fill="#b8b8b8"/>
<circle cx="128.1" cy="314.0" r="0.32" fill="#b8b8b8"/>
<circle cx="120.1" cy="311.0" r="0.32" fill="#b8b8b8"/>
<circle cx="136.0" cy="305.1" r="0.32" fill="#b8b8b8"/>
<circle cx="128.5" cy="309.2" r="0.32" fill="#b8b8b8"/>
<circle cx="117.8" cy="308.8" r="0.32" fill="#b8b8b8"/>
<circle cx="134.0" cy="318.6" r="0.32" fill="#b8b8b8"/>
<circle cx="148.2" cy="311.9" r="0.32" fill="#b8b8b8"/>
<circle cx="117.5" cy="323.3" r="0.32" fill="#b8b8b8"/>
<circle cx="130.8" cy="317.2" r="0.32" fill="#b8b8b8"/>
<circle cx="110.1" cy="329.3" r="0.32" fill="#b8b8b8"/>
<circle cx="130.8" cy="321.9" r="0.32" fill="#b8b8b8"/>
<circle cx="121.5" cy="323.6" r="0.32" fill="#b8b8b8"/>
<circle cx="121.7" cy="319.4" r="0.32" fill="#b8b8b8"/>
<circle cx="124.7" cy="327.9" r="0.32" fill="#b8b8b8"/>
<circle cx="122.4" cy="316.7" r="0.32" fill="#b8b8b8"/>
<circle cx="135.0" cy="320.7" r="0.32" fill="#b8b8b8"/>
<circle cx="126.0" cy="317.4" r="0.32" fill="#b8b8b8"/>
<circle cx="133.7" cy="314.5" r="0.32" fill="#b8b8b8"/>
<circle cx="129.9" cy="333.2" r="0.32" fill="#b8b8b8"/>
<circle cx="129.3" cy="313.5" r="0.32" fill="#b8b8b8"/>
<circle cx="116.4" cy="320.0" r="0.32" fill="#b8b8b8"/>
<circle cx="137.1" cy="311.5" r="0.32" fill="#b8b8b8"/>
<circle cx="139.4" cy="314.5" r="0.32" fill="#b8b8b8"/>
<circle cx="147.6" cy="312.3" r="0.32" fill="#b8b8b8"/>
<circle cx="151.1" cy="316.5" r="0.32" fill="#b8b8b8"/>
<circle cx="143.8" cy="325.0" r="0.32" fill="#b8b8b8"/>
<circle cx="144.3" cy="325.3" r="0.32" fill="#b8b8b8"/>
<circle cx="138.2" cy="307.4" r="0.32" fill="#b8b8b8"/>
<circle cx="142.1" cy="310.9" r="0.32" fill="#b8b8b8"/>
<circle cx="140.2" cy="326.6" r="0.32" fill="#b8b8b8"/>
<circle cx="142.1" cy="317.4" r="0.32" fill="#b8b8b8"/>
<circle cx="137.5" cy="319.2" r="0.32" fill="#b8b8b8"/>
<circle cx="142.2" cy="311.4" r="0.32" fill="#b8b8b8"/>
<circle cx="144.6" cy="314.5" r="0.32" fill="#b8b8b8"/>
<circle cx="144.2" cy="318.2" r="0.32" fill="#b8b8b8"/>
<circle cx="148.0" cy="326.1" r="0.32" fill="#b8b8b8"/>
<circle cx="143.1" cy="320.3" r="0.32" fill="#b8b8b8"/>
<circle cx="145.3" cy="329.2" r="0.32" fill="#b8b8b8"/>
<circle cx="148.5" cy="321.9" r="0.32" fill="#b8b8b8"/>
<circle cx="144.7" cy="330.5" r="0.32" fill="#b8b8b8"/>
<circle cx="135.0" cy="324.3" r="0.32" fill="#b8b8b8"/>
<path d="M129.0,347.2L128.2,347.2L127.5,347.2L126.8,347.2L126.2,347.1L125.5,347.1L124.8,347.1L124.0,347.0L123.5,346.9L122.8,346.8L122.0,346.6L121.5,346.5L120.9,346.4L120.2,346.2L119.8,346.1L119.2,345.9L118.5,345.6L118.0,345.5L117.5,345.2L117.0,345.0L116.5,344.7L116.0,344.5L115.5,344.1L115.2,343.9L114.8,343.6L114.2,343.2L114.0,342.9L113.5,342.4L113.2,342.0L113.0,341.6L112.8,341.1L112.5,340.4L112.4,339.9L112.4,339.1L112.5,338.4L112.6,337.9L112.8,337.4L113.1,336.9L113.4,336.4L113.8,336.0L114.1,335.6L114.5,335.3L114.9,334.9L115.2,334.6L115.8,334.3L116.2,333.9L116.7,333.6L117.2,333.4L117.7,333.1L118.2,332.9L118.7,332.6L119.2,332.4L119.8,332.2L120.2,332.0L120.8,331.9L121.4,331.6L122.0,331.5L122.5,331.3L123.2,331.1L123.8,331.0L124.5,330.9L125.0,330.8L125.8,330.7L126.5,330.7L127.0,330.6L127.8,330.6L128.5,330.6L129.0,330.7L129.8,330.7L130.5,330.8L131.0,330.9L131.8,331.0L132.3,331.1L133.0,331.3L133.5,331.4L134.2,331.6L134.8,331.7L135.5,331.8L136.0,331.9L136.8,332.1L137.2,332.2L138.0,332.3L138.5,332.4L139.2,332.5L140.0,332.6L140.5,332.7L141.2,332.8L141.8,332.9L142.5,333.0L143.2,333.1L143.8,333.2L144.5,333.4L145.0,333.5L145.5,333.7L146.2,333.9L146.8,334.1L147.2,334.3L147.8,334.6L148.2,334.9L148.6,335.1L149.0,335.5L149.4,335.9L149.8,336.3L150.0,336.7L150.2,337.2L150.5,337.9L150.6,338.4L150.6,339.1L150.5,339.6L150.2,340.3L150.0,340.8L149.7,341.1L149.3,341.6L149.0,342.0L148.5,342.4L148.2,342.6L147.8,342.9L147.2,343.2L146.8,343.5L146.2,343.7L145.7,343.9L145.0,344.1L144.5,344.3L144.0,344.5L143.2,344.6L142.8,344.8L142.1,344.9L141.5,345.0L140.9,345.1L140.2,345.3L139.6,345.4L139.0,345.5L138.4,345.6L137.8,345.8L137.2,345.9L136.5,346.1L136.0,346.2L135.2,346.3L134.8,346.4L134.0,346.6L133.5,346.7L132.8,346.8L132.0,346.9L131.5,346.9L130.8,347.0L130.0,347.1L129.2,347.1Z" fill="#6a6a6a" fill-opacity="0.10" stroke="none"/>
<path d="M129.0,344.7L128.2,344.7L127.5,344.7L126.8,344.7L126.2,344.6L125.5,344.6L124.8,344.5L124.1,344.4L123.5,344.3L123.0,344.1L122.2,344.0L121.8,343.8L121.2,343.6L120.8,343.4L120.2,343.1L119.8,342.9L119.2,342.6L118.8,342.2L118.4,341.9L118.0,341.4L117.8,341.1L117.5,340.6L117.2,340.0L117.2,339.4L117.2,338.8L117.5,338.1L117.7,337.6L118.0,337.3L118.3,336.9L118.8,336.5L119.2,336.1L119.6,335.9L120.0,335.6L120.5,335.4L121.0,335.1L121.7,334.9L122.2,334.7L122.8,334.5L123.3,334.4L124.0,334.3L124.6,334.1L125.2,334.0L126.0,334.0L126.8,333.9L127.5,333.9L128.2,333.9L129.0,333.9L129.8,334.0L130.5,334.1L131.0,334.2L131.8,334.3L132.2,334.4L133.0,334.6L133.5,334.7L134.2,334.9L134.8,335.0L135.2,335.2L135.9,335.4L136.5,335.6L137.0,335.8L137.8,335.8L138.3,335.6L138.9,335.4L139.5,335.2L140.0,335.0L140.5,334.8L141.2,334.7L141.8,334.6L142.5,334.5L143.2,334.5L144.0,334.5L144.8,334.6L145.2,334.7L145.9,334.9L146.5,335.1L147.0,335.4L147.4,335.6L147.8,335.9L148.2,336.3L148.6,336.6L148.9,337.1L149.1,337.6L149.2,338.3L149.3,338.9L149.2,339.4L149.0,339.9L148.7,340.4L148.3,340.9L148.0,341.1L147.5,341.5L147.0,341.9L146.5,342.1L146.0,342.3L145.5,342.5L144.8,342.6L144.2,342.7L143.5,342.8L142.8,342.8L142.0,342.8L141.3,342.6L140.8,342.6L140.0,342.4L139.5,342.3L138.8,342.1L138.4,342.1L137.8,342.3L137.2,342.5L136.8,342.8L136.2,343.0L135.8,343.2L135.1,343.4L134.5,343.6L134.0,343.7L133.4,343.9L132.8,344.1L132.2,344.2L131.5,344.3L131.0,344.4L130.2,344.5L129.5,344.6L129.0,344.7Z" fill="#6a6a6a" fill-opacity="0.10" stroke="none"/>
<path d="M143.8,342.2L143.0,342.2L142.5,342.1L141.8,342.0L141.1,341.9L140.5,341.7L140.0,341.5L139.5,341.2L139.1,340.9L138.8,340.6L138.3,340.1L138.0,339.6L137.8,339.1L137.8,338.4L138.0,337.7L138.2,337.2L138.5,336.9L139.0,336.4L139.4,336.1L139.8,335.9L140.3,335.6L140.9,335.4L141.5,335.2L142.0,335.1L142.8,335.1L143.5,335.0L144.2,335.1L144.8,335.2L145.5,335.4L146.0,335.6L146.5,335.8L147.0,336.1L147.3,336.4L147.8,336.8L148.0,337.1L148.3,337.6L148.5,338.4L148.4,339.1L148.2,339.6L148.0,340.1L147.5,340.6L147.2,340.9L146.8,341.3L146.2,341.5L145.8,341.7L145.2,341.9L144.5,342.1L143.8,342.1Z M128.8,340.2L128.0,340.3L127.2,340.3L126.5,340.2L126.0,339.9L125.7,339.6L125.8,339.1L126.2,338.6L126.8,338.5L127.2,338.4L128.0,338.4L128.5,338.5L129.0,338.6L129.5,339.0L129.5,339.6L129.2,339.9L128.8,340.2Z" fill="#6a6a6a" fill-opacity="0.10" stroke="none"/>
<path d="M127.0,326.9L126.7,326.6L127.2,326.6 M127.0,347.9L126.2,348.0L125.5,347.9L125.0,347.8L124.4,347.6L123.8,347.5L123.0,347.5L122.5,347.4L121.9,347.1L121.3,346.9L121.0,346.6L120.5,346.4L119.8,346.3L119.0,346.2L118.5,345.9L118.1,345.6L117.7,345.4L117.2,345.1L116.8,344.8L116.3,344.4L116.0,344.1L115.5,343.7L115.2,343.3L115.0,342.9L114.2,342.7L113.8,342.5L113.4,342.1L113.1,341.6L112.9,341.1L112.7,340.6L112.2,340.4L112.0,339.9L112.2,339.5L112.8,339.2L113.0,338.9L112.9,338.4L112.5,338.0L112.2,337.6L112.2,336.9L112.5,336.4L112.8,336.1L113.2,335.7L113.8,335.5L114.2,335.2L114.8,334.9L115.2,334.6L115.5,334.3L115.8,333.9L116.2,333.4L116.7,333.1L117.0,332.9L117.5,332.6L118.2,332.6L119.0,332.4L119.4,332.1L120.0,332.0L120.8,331.9L121.2,331.7L121.7,331.4L122.2,331.2L122.7,330.9L123.0,330.6L123.4,330.1L123.9,329.9L124.5,329.7L125.2,329.7L125.5,329.4L125.8,328.9L126.5,328.7L127.0,328.6L127.8,328.6L128.2,328.7L128.8,329.1L129.2,329.4L129.8,329.6L130.2,329.7L130.8,330.0L131.2,330.2L131.8,330.5L132.2,330.7L132.7,331.1L133.0,331.4L133.5,331.8L134.0,332.0L134.8,332.1L135.4,331.9L136.0,331.7L136.7,331.6L137.2,331.6L137.9,331.6L138.4,331.9L138.8,332.2L139.2,332.5L140.0,332.6L140.5,332.7L141.0,333.0L141.4,333.4L141.9,333.6L142.5,333.7L142.8,333.4L142.9,332.6L143.3,332.4L143.8,332.4L144.2,332.7L144.8,333.0L145.2,333.2L146.0,333.3L146.5,333.5L147.0,333.7L147.5,334.1L147.8,334.4L148.2,334.7L148.8,335.0L149.5,335.1L150.0,335.4L150.1,335.9L150.2,336.6L150.5,337.0L150.8,337.4L151.0,337.9L151.1,338.6L151.3,339.1L151.4,339.9L151.2,340.4L150.8,340.9L150.4,341.1L150.0,341.4L149.5,341.8L149.0,342.1L148.4,342.1L147.8,342.3L147.2,342.4L146.8,342.7L146.2,343.1L145.8,343.4L145.2,343.4L144.5,343.6L144.0,343.7L143.5,344.1L143.2,344.4L142.8,344.9L142.2,345.1L141.8,345.2L141.2,345.4L140.5,345.6L139.8,345.6L139.2,345.9L138.8,346.0L138.0,346.1L137.2,346.1L136.5,346.1L136.0,346.4L135.5,346.6L135.0,346.8L134.5,346.9L133.8,347.1L133.2,347.3L132.8,347.4L132.0,347.5L131.2,347.5L130.7,347.6L130.0,347.7L129.2,347.8L128.5,347.8L127.8,347.8L127.2,347.9" fill="none" stroke="rgb(130,130,130)" stroke-width="0.4"/>
<path d="M127.0,347.0L126.2,347.1L125.6,346.9L125.0,346.7L124.5,346.6L123.8,346.5L123.2,346.4L122.5,346.3L122.0,346.1L121.5,345.6L121.2,345.4L120.5,345.3L120.0,345.4L119.5,345.4L119.0,345.1L118.5,344.7L118.2,344.3L117.8,343.9L117.2,343.7L116.8,343.4L116.5,343.1L116.0,342.8L115.7,342.4L115.6,341.6L115.2,341.3L114.9,340.9L114.8,340.1L114.8,339.4L114.5,338.9L114.3,338.4L114.2,337.9L114.0,337.2L114.0,336.9L114.4,336.4L115.0,336.1L115.4,335.9L115.7,335.4L116.0,335.0L116.3,334.6L116.8,334.2L117.2,333.9L117.8,333.7L118.2,333.6L119.0,333.5L119.5,333.4L120.0,333.1L120.5,332.9L121.0,332.9L121.5,332.9L122.0,332.6L122.5,332.4L123.2,332.4L123.6,332.6L124.0,332.9L124.8,333.0L125.2,333.2L126.0,333.1L126.5,333.0L126.8,332.6L126.7,332.1L127.2,332.0L127.8,332.2L128.5,332.2L129.0,332.1L129.8,332.0L130.5,331.9L131.0,331.9L131.5,332.0L132.0,332.3L132.5,332.4L133.1,332.6L133.8,332.9L134.2,333.1L134.7,333.4L135.2,333.6L135.8,333.4L136.4,333.4L136.8,333.7L137.2,334.1L137.8,334.2L138.2,334.0L138.8,333.9L139.2,334.0L139.8,334.2L140.5,334.2L141.2,334.2L142.0,334.2L142.8,334.2L143.2,334.0L144.0,333.9L144.8,334.0L145.3,334.1L146.0,334.3L146.5,334.4L147.0,334.7L147.5,335.0L148.0,335.3L148.4,335.6L148.8,336.0L149.2,336.4L149.5,336.7L149.8,337.2L150.0,337.7L150.1,338.4L150.2,339.1L150.1,339.9L149.8,340.4L149.5,340.7L149.0,341.1L148.7,341.4L148.2,341.6L147.6,341.9L147.0,342.1L146.5,342.4L146.0,342.6L145.5,342.8L145.0,342.9L144.2,343.1L143.8,343.2L143.0,343.4L142.5,343.5L141.8,343.5L141.2,343.7L140.8,343.9L140.0,344.1L139.5,344.2L138.9,344.4L138.2,344.6L137.8,344.8L137.0,344.9L136.2,344.9L135.8,345.1L135.5,345.5L135.1,345.9L134.5,346.1L134.0,346.2L133.2,346.4L132.8,346.5L132.0,346.4L131.2,346.5L130.6,346.6L130.0,346.7L129.2,346.8L128.5,346.8L127.8,346.8L127.2,346.9" fill="none" stroke="rgb(122,122,122)" stroke-width="0.4"/>
<path d="M130.5,345.9L129.8,346.0L129.0,346.0L128.2,346.0L127.5,346.0L126.8,346.1L126.0,346.1L125.5,345.8L125.0,345.5L124.5,345.4L123.9,345.4L123.2,345.5L122.8,345.3L122.2,344.9L121.8,344.6L121.2,344.5L120.6,344.6L120.0,344.7L119.5,344.4L119.3,343.9L119.0,343.6L118.5,343.3L117.8,343.2L117.2,343.0L116.8,342.6L116.5,342.4L116.3,341.6L116.2,341.1L115.8,340.6L115.5,340.2L115.5,339.8L115.5,339.1L115.7,338.4L115.9,337.9L116.0,337.3L116.3,336.9L116.5,336.4L116.7,335.6L117.0,335.3L117.5,334.9L118.0,334.7L118.5,334.6L119.2,334.4L119.8,334.3L120.2,334.1L121.0,333.9L121.5,333.8L122.0,333.5L122.5,333.3L123.2,333.4L123.7,333.6L124.2,333.8L125.0,333.8L125.8,333.7L126.2,333.6L126.8,333.7L127.5,333.6L127.8,333.4L128.2,333.0L128.8,332.8L129.5,332.7L130.2,332.7L130.8,332.9L131.5,333.1L132.0,333.1L132.7,333.4L133.2,333.6L133.8,333.8L134.1,334.1L134.3,334.6L135.0,334.8L135.5,334.6L136.0,334.3L136.5,334.6L136.8,335.1L137.1,335.1L137.8,335.1L138.2,334.9L139.0,334.8L139.5,334.9L140.0,334.9L140.8,334.7L141.2,334.5L142.0,334.5L142.8,334.5L143.2,334.3L144.0,334.2L144.8,334.3L145.2,334.4L146.0,334.6L146.5,334.7L147.0,335.0L147.5,335.4L147.9,335.6L148.2,335.9L148.8,336.4L149.0,336.6L149.4,337.1L149.6,337.6L149.7,338.4L149.8,338.9L149.7,339.4L149.5,340.1L149.2,340.4L148.8,340.9L148.5,341.1L148.0,341.5L147.5,341.7L146.9,341.9L146.4,342.1L145.9,342.4L145.2,342.6L144.8,342.7L144.0,342.9L143.5,342.9L142.8,343.0L142.0,343.0L141.2,343.1L140.8,343.3L140.2,343.1L139.8,342.9L139.2,342.6L138.8,342.9L138.5,343.2L138.0,343.4L137.5,343.6L137.0,344.0L136.2,344.1L135.5,344.0L135.2,344.4L134.8,344.9L134.2,345.0L133.7,345.1L133.2,345.5L132.8,345.8L132.0,345.9L131.2,345.9L130.7,345.9" fill="none" stroke="rgb(115,115,115)" stroke-width="0.4"/>
<path d="M132.2,345.2L131.5,345.2L131.0,345.1L130.5,345.1L129.8,345.3L129.0,345.2L128.5,345.1L127.8,345.1L127.2,345.2L126.5,345.2L126.0,345.1L125.5,344.9L125.0,344.6L124.2,344.6L123.5,344.4L123.1,344.1L122.8,343.9L122.2,343.6L121.5,343.5L120.8,343.6L120.1,343.4L119.8,343.1L119.2,342.9L118.5,342.6L118.0,342.5L117.5,342.4L117.0,342.0L116.8,341.4L116.8,340.6L116.8,339.9L116.6,339.4L116.8,338.7L117.0,338.3L117.2,337.9L117.6,337.4L117.9,336.9L118.2,336.4L118.5,336.1L118.9,335.6L119.2,335.3L120.0,335.1L120.5,335.0L121.0,334.9L121.6,334.6L122.2,334.5L122.8,334.4L123.5,334.2L124.2,334.3L124.8,334.4L125.5,334.5L126.2,334.4L126.8,334.4L127.1,334.4L127.8,334.2L128.1,333.9L128.5,333.6L129.0,333.7L129.5,333.9L130.0,333.8L130.8,333.8L131.5,333.9L131.8,334.1L132.0,334.9L132.5,335.1L133.0,335.2L133.8,335.4L134.2,335.5L134.8,335.6L135.5,335.9L136.0,336.1L136.4,336.4L136.8,336.7L137.3,336.6L137.8,336.3L138.2,335.9L138.5,335.6L139.0,335.4L139.8,335.2L140.2,335.1L140.9,334.9L141.5,334.8L142.2,334.7L142.9,334.6L143.5,334.5L144.2,334.5L145.0,334.6L145.5,334.7L146.2,334.9L146.8,335.1L147.2,335.4L147.5,335.7L148.0,336.0L148.4,336.4L148.8,336.7L149.1,337.1L149.3,337.6L149.5,338.4L149.5,339.1L149.3,339.9L149.0,340.3L148.7,340.6L148.2,341.0L147.8,341.4L147.2,341.6L146.8,341.8L146.2,342.0L145.8,342.3L145.2,342.4L144.5,342.6L144.0,342.7L143.2,342.8L142.5,342.8L141.8,342.7L141.0,342.7L140.5,342.6L140.0,342.3L139.5,342.1L139.0,341.9L138.5,342.1L138.1,342.4L137.6,342.4L137.2,342.1L136.8,341.8L136.2,341.6L135.8,341.7L135.5,342.1L135.3,342.9L134.8,343.0L134.2,343.2L133.8,343.6L133.5,344.0L133.2,344.4L132.8,344.9L132.4,345.1 M127.8,336.4L127.8,335.8L127.2,335.6L126.7,335.6L126.5,336.1L127.0,336.2L127.5,336.4" fill="none" stroke="rgb(108,108,108)" stroke-width="0.4"/>
<path d="M132.2,344.5L131.5,344.6L130.8,344.4L130.0,344.6L129.2,344.5L128.8,344.2L128.2,344.1L127.8,344.2L127.0,344.4L126.7,344.4L126.0,344.2L125.5,344.0L125.0,343.9L124.4,343.6L124.0,343.3L123.2,343.2L122.8,343.0L122.2,342.8L121.5,342.7L121.2,342.4L120.8,342.0L120.2,342.1L119.5,342.2L119.0,342.1L118.5,341.9L118.0,341.5L117.7,341.1L117.6,340.4L117.8,339.7L118.0,339.1L117.9,338.4L118.2,337.9L118.8,337.7L119.2,337.4L119.5,337.1L120.0,336.8L120.2,336.3L120.8,335.9L121.2,335.8L121.8,335.5L122.2,335.3L122.8,335.1L123.3,334.9L124.0,334.8L124.5,335.0L124.8,335.4L125.2,335.9L125.5,336.2L126.0,336.5L126.6,336.6L127.2,336.8L127.8,337.0L128.2,337.3L128.6,337.6L128.7,338.4L129.2,338.6L129.5,338.1L129.2,337.7L128.9,337.4L128.7,336.9L128.7,336.1L128.8,335.6L129.1,335.1L129.5,334.8L130.0,334.5L130.6,334.6L130.9,335.1L131.2,335.6L131.8,335.8L132.5,335.8L133.0,335.9L133.8,336.0L134.3,336.1L134.8,336.4L135.2,336.7L135.7,337.1L135.9,337.6L136.2,338.0L136.9,337.9L137.2,337.5L137.6,337.1L138.0,336.8L138.3,336.4L138.8,336.0L139.2,335.6L139.8,335.5L140.2,335.3L140.8,335.1L141.5,335.0L142.2,334.9L142.8,334.9L143.5,334.7L144.2,334.7L145.0,334.7L145.8,334.9L146.2,335.1L146.8,335.3L147.2,335.6L147.5,335.9L148.0,336.3L148.4,336.6L148.8,337.0L149.0,337.4L149.2,338.1L149.3,338.6L149.2,339.1L149.0,339.9L148.8,340.3L148.4,340.6L148.0,341.0L147.5,341.3L147.0,341.5L146.5,341.7L146.0,341.9L145.5,342.2L144.8,342.4L144.2,342.5L143.5,342.6L142.8,342.6L142.0,342.5L141.2,342.4L140.8,342.3L140.2,342.1L139.8,341.8L139.2,341.5L138.8,341.3L138.0,341.3L137.5,341.0L136.8,341.0L136.1,340.9L135.8,340.9L135.2,341.2L134.5,341.3L134.0,340.9L133.5,340.6L133.2,340.6L132.6,340.9L132.5,341.3L132.8,341.7L133.1,342.1L133.0,342.7L132.8,343.4L132.7,343.9L132.4,344.4" fill="none" stroke="rgb(100,100,100)" stroke-width="0.4"/>
<path d="M145.0,342.2L144.2,342.3L143.5,342.4L142.8,342.4L142.0,342.2L141.2,342.2L140.8,342.0L140.2,341.7L139.8,341.5L139.2,341.2L138.8,340.9L138.4,340.6L138.1,340.1L138.1,339.4L137.8,338.9L137.7,338.4L137.8,337.9L138.0,337.4L138.4,336.9L138.8,336.4L139.0,336.1L139.5,335.8L140.0,335.6L140.5,335.4L141.2,335.2L142.0,335.1L142.5,335.1L143.2,334.9L143.8,334.9L144.5,334.9L145.0,334.9L145.8,335.1L146.2,335.3L146.8,335.6L147.2,335.9L147.5,336.1L148.0,336.5L148.4,336.9L148.8,337.4L149.0,337.9L149.0,338.4L149.0,339.1L148.9,339.6L148.6,340.1L148.2,340.5L147.8,340.9L147.3,341.1L146.8,341.4L146.2,341.6L145.8,341.9L145.2,342.1 M131.8,343.7L131.2,343.6L130.8,343.7L130.0,343.7L129.8,343.1L129.5,342.8L128.8,342.9L128.4,343.1L127.8,343.4L127.2,343.5L126.7,343.4L126.2,343.1L125.8,342.7L125.7,342.1L125.8,341.8L125.2,341.9L124.8,342.3L124.0,342.3L123.2,342.3L122.8,341.9L123.2,341.5L123.4,340.9L123.2,340.4L122.8,340.1L122.2,340.1L121.8,340.6L121.2,340.7L120.8,340.5L120.3,340.1L120.8,339.7L121.2,339.6L121.8,339.2L121.8,338.8L121.5,338.2L121.3,337.6L121.4,336.9L121.7,336.4L122.0,336.1L122.5,335.8L123.2,335.6L123.8,335.6L124.2,335.9L124.5,336.2L124.8,336.7L125.2,336.9L125.8,337.2L126.4,337.4L127.0,337.6L127.5,337.7L127.9,338.1L128.1,338.6L128.5,339.1L129.2,339.1L130.0,338.9L130.5,338.7L130.9,339.1L131.2,339.6L131.3,340.1L131.2,340.7L131.1,341.4L131.5,341.7L132.0,342.0L132.3,342.4L132.2,343.1L132.0,343.5 M135.0,340.0L134.4,339.9L133.8,339.7L133.0,339.7L132.5,339.4L132.3,338.9L132.1,338.4L131.8,338.1L131.2,338.3L130.8,338.5L130.3,338.1L130.0,337.8L129.7,337.4L129.5,336.9L129.6,336.4L130.2,336.2L130.8,336.6L131.0,337.1L131.2,337.5L131.8,337.8L132.2,337.5L132.5,337.0L133.0,336.8L133.8,336.9L134.2,337.1L134.6,337.4L135.0,337.8L135.2,338.2L135.6,338.6L135.8,339.1L135.5,339.6L135.2,339.9" fill="none" stroke="rgb(93,93,93)" stroke-width="0.4"/>
<path d="M144.0,342.2L143.2,342.2L142.7,342.1L142.0,342.0L141.4,341.9L140.8,341.7L140.2,341.4L139.8,341.2L139.3,340.9L139.0,340.6L138.8,339.9L138.8,339.4L138.4,338.9L138.4,338.1L138.5,337.6L138.8,337.1L139.0,336.6L139.5,336.1L139.9,335.9L140.3,335.6L141.0,335.5L141.8,335.4L142.2,335.3L143.0,335.2L143.5,335.1L144.2,335.0L145.0,335.1L145.5,335.2L146.1,335.4L146.6,335.6L147.0,335.9L147.5,336.3L147.9,336.6L148.2,337.0L148.5,337.4L148.8,337.9L148.9,338.6L148.8,339.3L148.5,339.9L148.2,340.2L147.8,340.6L147.4,340.9L146.8,341.1L146.3,341.4L145.9,341.6L145.3,341.9L144.8,342.1L144.0,342.1 M127.5,342.0L127.0,341.8L126.8,341.4L126.2,341.1L125.5,340.9L124.8,341.1L124.5,341.1L124.4,340.4L124.5,339.6L124.6,339.1L124.5,338.5L124.2,338.9L124.0,339.4L123.2,339.5L122.8,339.2L122.6,338.6L122.9,338.1L123.3,337.9L123.6,337.4L123.8,337.1L124.2,337.5L124.8,337.6L125.2,338.1L125.5,338.4L126.2,338.6L126.8,338.7L127.1,339.1L127.5,339.6L127.7,340.1L127.8,340.7L127.9,341.4L127.7,341.9 M130.0,341.2L129.4,341.1L129.0,340.7L128.8,340.3L128.8,339.9L129.2,339.6L130.0,339.5L130.5,339.9L130.5,340.3L130.2,340.9L130.0,341.2" fill="none" stroke="rgb(86,86,86)" stroke-width="0.4"/>
<path d="M144.5,341.9L143.8,342.0L143.0,342.0L142.5,341.9L141.8,341.7L141.2,341.6L140.8,341.3L140.2,341.1L139.8,340.8L139.3,340.4L139.1,339.9L139.0,339.1L138.8,338.6L138.9,337.9L139.0,337.4L139.2,336.9L139.7,336.4L140.0,336.1L140.5,335.8L141.2,335.7L141.8,335.6L142.5,335.4L143.0,335.3L143.8,335.2L144.5,335.2L145.2,335.3L145.8,335.4L146.2,335.7L146.8,336.0L147.2,336.4L147.6,336.6L148.0,337.1L148.3,337.4L148.5,337.9L148.6,338.6L148.5,339.4L148.2,339.9L148.0,340.2L147.5,340.6L147.0,340.9L146.5,341.1L146.0,341.4L145.5,341.6L145.0,341.8L144.5,341.9" fill="none" stroke="rgb(79,79,79)" stroke-width="0.4"/>
<path d="M144.8,341.7L144.0,341.8L143.2,341.8L142.5,341.7L142.0,341.5L141.5,341.3L141.0,341.0L140.5,340.7L140.0,340.5L139.6,340.1L139.4,339.6L139.3,338.9L139.2,338.4L139.2,337.8L139.5,337.1L139.8,336.8L140.2,336.4L140.5,336.1L141.2,335.9L141.8,335.9L142.5,335.7L143.0,335.5L143.8,335.4L144.2,335.4L144.8,335.4L145.5,335.5L146.0,335.7L146.5,336.0L147.0,336.4L147.3,336.6L147.8,337.1L148.0,337.4L148.3,337.9L148.4,338.6L148.2,339.3L148.0,339.8L147.7,340.1L147.2,340.5L146.8,340.7L146.2,341.0L145.8,341.3L145.2,341.6L144.8,341.7" fill="none" stroke="rgb(71,71,71)" stroke-width="0.4"/>
<path d="M144.8,341.5L144.0,341.6L143.2,341.6L142.6,341.4L142.0,341.1L141.5,340.9L141.2,340.6L140.8,340.3L140.2,340.1L139.8,339.6L139.7,339.1L139.5,338.4L139.6,337.6L140.0,337.2L140.5,336.9L140.8,336.6L141.2,336.3L142.0,336.1L142.5,335.9L143.0,335.8L143.8,335.7L144.2,335.6L144.9,335.6L145.5,335.8L146.0,336.0L146.5,336.3L146.9,336.6L147.2,336.9L147.7,337.4L148.0,337.9L148.1,338.4L148.0,339.1L147.8,339.6L147.5,339.9L147.0,340.3L146.5,340.5L146.0,340.8L145.6,341.1L145.0,341.4" fill="none" stroke="rgb(64,64,64)" stroke-width="0.4"/>
<path d="M144.8,341.2L144.0,341.3L143.2,341.3L142.8,341.1L142.2,340.8L141.8,340.5L141.3,340.1L141.0,339.9L140.5,339.4L140.2,339.1L140.0,338.6L139.9,337.9L140.2,337.5L140.8,337.3L141.2,336.9L141.6,336.6L142.2,336.4L142.8,336.2L143.2,336.1L143.9,335.9L144.5,335.8L145.0,335.9L145.7,336.1L146.2,336.4L146.5,336.6L147.0,337.1L147.3,337.4L147.6,337.9L147.7,338.6L147.5,339.3L147.2,339.7L146.8,340.1L146.2,340.3L145.8,340.6L145.4,340.9L144.9,341.1" fill="none" stroke="rgb(57,57,57)" stroke-width="0.4"/>
<path d="M144.5,340.9L143.8,341.0L143.2,340.8L142.8,340.4L142.4,340.1L142.0,339.7L141.8,339.4L141.2,339.1L140.8,338.8L140.5,338.4L140.6,337.9L141.0,337.6L141.5,337.3L142.0,336.9L142.5,336.8L143.2,336.7L143.7,336.4L144.2,336.2L145.0,336.3L145.5,336.4L146.0,336.6L146.5,337.0L146.8,337.4L147.1,337.9L147.2,338.6L147.0,339.2L146.7,339.6L146.2,339.9L145.7,340.1L145.2,340.5L144.8,340.8" fill="none" stroke="rgb(50,50,50)" stroke-width="0.4"/>
</g>
<rect x="105.50" y="299.4" width="55" height="52.60" fill="none" stroke="#9a9a9a" stroke-width="0.6"/>
<line x1="135.50" y1="299.40" x2="135.50" y2="352.00" stroke="#555" stroke-width="0.7" />
<line x1="105.50" y1="331.40" x2="160.50" y2="331.40" stroke="#555" stroke-width="0.7" />
<text x="107.10" y="305.70" font-size="4.6" fill="#222" text-anchor="start" font-weight="normal" >2.32</text>
<text x="154.20" y="305.70" font-size="4.6" fill="#222" text-anchor="end" font-weight="normal" >1.15</text>
<text x="107.10" y="347.70" font-size="4.6" fill="#222" text-anchor="start" font-weight="normal" >34.9</text>
<text x="144.80" y="347.70" font-size="4.6" fill="#222" text-anchor="start" font-weight="normal" >61.8</text>
<text x="101.50" y="304.90" font-size="3.9" fill="#444" text-anchor="end">10<tspan font-size="2.34" dy="-1.56">5</tspan></text>
<line x1="103.90" y1="303.60" x2="105.50" y2="303.60" stroke="#444" stroke-width="0.5" />
<text x="101.50" y="317.20" font-size="3.9" fill="#444" text-anchor="end">10<tspan font-size="2.34" dy="-1.56">4</tspan></text>
<line x1="103.90" y1="315.90" x2="105.50" y2="315.90" stroke="#444" stroke-width="0.5" />
<text x="101.50" y="329.60" font-size="3.9" fill="#444" text-anchor="end">10<tspan font-size="2.34" dy="-1.56">3</tspan></text>
<line x1="103.90" y1="328.30" x2="105.50" y2="328.30" stroke="#444" stroke-width="0.5" />
<text x="100.70" y="347.00" font-size="3.9" fill="#444" text-anchor="end" font-weight="normal" >0</text>
<line x1="103.90" y1="345.70" x2="105.50" y2="345.70" stroke="#444" stroke-width="0.5" />
<rect x="104.70" y="344.7" width="1.4" height="2.0" fill="#111"/>
<rect x="115.30" y="351.80" width="3.2" height="1.3" fill="#111"/>
<text x="115.30" y="359.00" font-size="3.9" fill="#444" text-anchor="middle" font-weight="normal" >0</text>
<line x1="115.30" y1="352.00" x2="115.30" y2="353.40" stroke="#444" stroke-width="0.5" />
<text x="128.40" y="359.00" font-size="3.9" fill="#444" text-anchor="middle">10<tspan font-size="2.34" dy="-1.56">3</tspan></text>
<line x1="129.00" y1="352.00" x2="129.00" y2="353.40" stroke="#444" stroke-width="0.5" />
<text x="141.30" y="359.00" font-size="3.9" fill="#444" text-anchor="middle">10<tspan font-size="2.34" dy="-1.56">4</tspan></text>
<line x1="141.90" y1="352.00" x2="141.90" y2="353.40" stroke="#444" stroke-width="0.5" />
<text x="154.20" y="359.00" font-size="3.9" fill="#444" text-anchor="middle">10<tspan font-size="2.34" dy="-1.56">5</tspan></text>
<line x1="154.80" y1="352.00" x2="154.80" y2="353.40" stroke="#444" stroke-width="0.5" />
<clipPath id="clip22"><rect x="179.70" y="299.40" width="55" height="52.60000000000002"/></clipPath>
<g clip-path="url(#clip22)">
<circle cx="226.0" cy="335.7" r="0.3" fill="#bcbcbc"/>
<circle cx="208.3" cy="338.7" r="0.3" fill="#bcbcbc"/>
<circle cx="212.7" cy="332.5" r="0.3" fill="#bcbcbc"/>
<circle cx="228.6" cy="345.2" r="0.3" fill="#bcbcbc"/>
<circle cx="220.2" cy="323.5" r="0.3" fill="#bcbcbc"/>
<circle cx="217.7" cy="326.9" r="0.3" fill="#bcbcbc"/>
<circle cx="211.9" cy="332.9" r="0.3" fill="#bcbcbc"/>
<circle cx="204.0" cy="337.3" r="0.3" fill="#bcbcbc"/>
<circle cx="206.7" cy="330.5" r="0.3" fill="#bcbcbc"/>
<circle cx="210.5" cy="342.4" r="0.3" fill="#bcbcbc"/>
<circle cx="213.6" cy="338.1" r="0.3" fill="#bcbcbc"/>
<circle cx="229.3" cy="335.6" r="0.3" fill="#bcbcbc"/>
<circle cx="216.5" cy="330.8" r="0.3" fill="#bcbcbc"/>
<circle cx="213.8" cy="334.4" r="0.3" fill="#bcbcbc"/>
<circle cx="210.0" cy="339.0" r="0.3" fill="#bcbcbc"/>
<circle cx="220.6" cy="339.1" r="0.3" fill="#bcbcbc"/>
<circle cx="224.0" cy="339.9" r="0.3" fill="#bcbcbc"/>
<circle cx="219.1" cy="341.3" r="0.3" fill="#bcbcbc"/>
<circle cx="210.3" cy="343.7" r="0.3" fill="#bcbcbc"/>
<circle cx="205.6" cy="338.4" r="0.3" fill="#bcbcbc"/>
<circle cx="204.8" cy="333.1" r="0.3" fill="#bcbcbc"/>
<circle cx="216.5" cy="336.3" r="0.3" fill="#bcbcbc"/>
<circle cx="205.8" cy="338.7" r="0.3" fill="#bcbcbc"/>
<circle cx="216.0" cy="340.1" r="0.3" fill="#bcbcbc"/>
<circle cx="205.5" cy="339.5" r="0.3" fill="#bcbcbc"/>
<circle cx="196.0" cy="336.5" r="0.3" fill="#bcbcbc"/>
<circle cx="207.2" cy="337.6" r="0.3" fill="#bcbcbc"/>
<circle cx="230.9" cy="351.3" r="0.3" fill="#bcbcbc"/>
<circle cx="224.5" cy="342.5" r="0.3" fill="#bcbcbc"/>
<circle cx="210.9" cy="344.4" r="0.3" fill="#bcbcbc"/>
<circle cx="218.2" cy="337.6" r="0.3" fill="#bcbcbc"/>
<circle cx="220.5" cy="346.1" r="0.3" fill="#bcbcbc"/>
<circle cx="222.3" cy="347.3" r="0.3" fill="#bcbcbc"/>
<circle cx="214.1" cy="344.0" r="0.3" fill="#bcbcbc"/>
<circle cx="201.4" cy="332.3" r="0.3" fill="#bcbcbc"/>
<circle cx="216.4" cy="333.4" r="0.3" fill="#bcbcbc"/>
<circle cx="207.6" cy="339.0" r="0.3" fill="#bcbcbc"/>
<circle cx="217.7" cy="342.3" r="0.3" fill="#bcbcbc"/>
<circle cx="200.8" cy="339.4" r="0.3" fill="#bcbcbc"/>
<circle cx="209.8" cy="341.2" r="0.3" fill="#bcbcbc"/>
<circle cx="212.0" cy="337.1" r="0.3" fill="#bcbcbc"/>
<circle cx="213.5" cy="346.2" r="0.3" fill="#bcbcbc"/>
<circle cx="201.2" cy="337.6" r="0.3" fill="#bcbcbc"/>
<circle cx="216.3" cy="335.3" r="0.3" fill="#bcbcbc"/>
<circle cx="219.8" cy="346.6" r="0.3" fill="#bcbcbc"/>
<circle cx="225.9" cy="342.1" r="0.3" fill="#bcbcbc"/>
<circle cx="220.5" cy="335.7" r="0.3" fill="#bcbcbc"/>
<circle cx="208.0" cy="341.8" r="0.3" fill="#bcbcbc"/>
<circle cx="202.8" cy="335.8" r="0.3" fill="#bcbcbc"/>
<circle cx="202.9" cy="335.9" r="0.3" fill="#bcbcbc"/>
<circle cx="200.3" cy="340.6" r="0.3" fill="#bcbcbc"/>
<circle cx="203.5" cy="344.0" r="0.3" fill="#bcbcbc"/>
<circle cx="208.9" cy="338.4" r="0.3" fill="#bcbcbc"/>
<circle cx="206.5" cy="342.5" r="0.3" fill="#bcbcbc"/>
<circle cx="216.7" cy="333.4" r="0.3" fill="#bcbcbc"/>
<circle cx="225.9" cy="341.4" r="0.3" fill="#bcbcbc"/>
<circle cx="212.6" cy="340.0" r="0.3" fill="#bcbcbc"/>
<circle cx="197.7" cy="345.1" r="0.3" fill="#bcbcbc"/>
<circle cx="204.3" cy="344.8" r="0.3" fill="#bcbcbc"/>
<circle cx="214.8" cy="333.9" r="0.3" fill="#bcbcbc"/>
<circle cx="197.1" cy="350.3" r="0.3" fill="#bcbcbc"/>
<circle cx="215.6" cy="331.2" r="0.3" fill="#bcbcbc"/>
<circle cx="226.7" cy="342.1" r="0.3" fill="#bcbcbc"/>
<circle cx="218.5" cy="336.7" r="0.3" fill="#bcbcbc"/>
<circle cx="218.7" cy="331.2" r="0.3" fill="#bcbcbc"/>
<circle cx="198.5" cy="343.2" r="0.3" fill="#bcbcbc"/>
<circle cx="230.1" cy="351.4" r="0.3" fill="#bcbcbc"/>
<circle cx="220.5" cy="345.1" r="0.3" fill="#bcbcbc"/>
<circle cx="213.5" cy="344.0" r="0.3" fill="#bcbcbc"/>
<circle cx="205.9" cy="329.6" r="0.32" fill="#b8b8b8"/>
<circle cx="202.2" cy="318.4" r="0.32" fill="#b8b8b8"/>
<circle cx="198.8" cy="317.4" r="0.32" fill="#b8b8b8"/>
<circle cx="197.0" cy="317.7" r="0.32" fill="#b8b8b8"/>
<circle cx="205.9" cy="323.2" r="0.32" fill="#b8b8b8"/>
<circle cx="211.6" cy="327.7" r="0.32" fill="#b8b8b8"/>
<circle cx="206.7" cy="311.9" r="0.32" fill="#b8b8b8"/>
<circle cx="206.3" cy="328.1" r="0.32" fill="#b8b8b8"/>
<circle cx="193.1" cy="312.1" r="0.32" fill="#b8b8b8"/>
<circle cx="195.5" cy="312.6" r="0.32" fill="#b8b8b8"/>
<circle cx="200.2" cy="313.3" r="0.32" fill="#b8b8b8"/>
<circle cx="204.9" cy="311.4" r="0.32" fill="#b8b8b8"/>
<circle cx="201.2" cy="316.3" r="0.32" fill="#b8b8b8"/>
<circle cx="195.3" cy="327.1" r="0.32" fill="#b8b8b8"/>
<circle cx="202.3" cy="323.6" r="0.32" fill="#b8b8b8"/>
<circle cx="199.8" cy="324.7" r="0.32" fill="#b8b8b8"/>
<circle cx="206.4" cy="318.7" r="0.32" fill="#b8b8b8"/>
<circle cx="189.7" cy="325.5" r="0.32" fill="#b8b8b8"/>
<circle cx="206.9" cy="321.1" r="0.32" fill="#b8b8b8"/>
<circle cx="203.8" cy="320.7" r="0.32" fill="#b8b8b8"/>
<circle cx="203.5" cy="312.8" r="0.32" fill="#b8b8b8"/>
<circle cx="201.7" cy="322.0" r="0.32" fill="#b8b8b8"/>
<circle cx="197.8" cy="313.0" r="0.32" fill="#b8b8b8"/>
<circle cx="215.1" cy="324.1" r="0.32" fill="#b8b8b8"/>
<circle cx="200.0" cy="316.4" r="0.32" fill="#b8b8b8"/>
<circle cx="183.6" cy="309.8" r="0.32" fill="#b8b8b8"/>
<circle cx="200.4" cy="328.8" r="0.32" fill="#b8b8b8"/>
<circle cx="187.7" cy="314.9" r="0.32" fill="#b8b8b8"/>
<circle cx="215.5" cy="324.5" r="0.32" fill="#b8b8b8"/>
<circle cx="205.0" cy="328.2" r="0.32" fill="#b8b8b8"/>
<circle cx="201.3" cy="318.6" r="0.32" fill="#b8b8b8"/>
<circle cx="207.1" cy="325.8" r="0.32" fill="#b8b8b8"/>
<circle cx="194.6" cy="330.5" r="0.32" fill="#b8b8b8"/>
<circle cx="189.9" cy="315.0" r="0.32" fill="#b8b8b8"/>
<circle cx="223.6" cy="316.2" r="0.32" fill="#b8b8b8"/>
<circle cx="206.7" cy="312.8" r="0.32" fill="#b8b8b8"/>
<circle cx="199.9" cy="314.8" r="0.32" fill="#b8b8b8"/>
<circle cx="199.3" cy="324.4" r="0.32" fill="#b8b8b8"/>
<circle cx="214.4" cy="326.0" r="0.32" fill="#b8b8b8"/>
<circle cx="213.0" cy="316.3" r="0.32" fill="#b8b8b8"/>
<circle cx="212.4" cy="323.8" r="0.32" fill="#b8b8b8"/>
<circle cx="211.7" cy="316.9" r="0.32" fill="#b8b8b8"/>
<circle cx="200.5" cy="329.4" r="0.32" fill="#b8b8b8"/>
<circle cx="206.4" cy="320.6" r="0.32" fill="#b8b8b8"/>
<circle cx="197.3" cy="319.1" r="0.32" fill="#b8b8b8"/>
<circle cx="205.5" cy="324.8" r="0.32" fill="#b8b8b8"/>
<circle cx="198.2" cy="317.4" r="0.32" fill="#b8b8b8"/>
<circle cx="205.0" cy="312.0" r="0.32" fill="#b8b8b8"/>
<circle cx="208.6" cy="319.6" r="0.32" fill="#b8b8b8"/>
<circle cx="201.0" cy="302.7" r="0.32" fill="#b8b8b8"/>
<circle cx="190.7" cy="312.2" r="0.32" fill="#b8b8b8"/>
<circle cx="197.7" cy="311.8" r="0.32" fill="#b8b8b8"/>
<circle cx="204.3" cy="320.4" r="0.32" fill="#b8b8b8"/>
<circle cx="199.8" cy="305.2" r="0.32" fill="#b8b8b8"/>
<circle cx="211.5" cy="317.4" r="0.32" fill="#b8b8b8"/>
<circle cx="205.8" cy="314.7" r="0.32" fill="#b8b8b8"/>
<circle cx="201.7" cy="324.3" r="0.32" fill="#b8b8b8"/>
<circle cx="203.3" cy="326.1" r="0.32" fill="#b8b8b8"/>
<circle cx="200.4" cy="333.3" r="0.32" fill="#b8b8b8"/>
<circle cx="188.4" cy="315.5" r="0.32" fill="#b8b8b8"/>
<circle cx="208.5" cy="317.6" r="0.32" fill="#b8b8b8"/>
<circle cx="198.6" cy="306.9" r="0.32" fill="#b8b8b8"/>
<circle cx="210.0" cy="306.1" r="0.32" fill="#b8b8b8"/>
<circle cx="205.2" cy="320.7" r="0.32" fill="#b8b8b8"/>
<circle cx="207.7" cy="329.5" r="0.32" fill="#b8b8b8"/>
<circle cx="196.7" cy="313.6" r="0.32" fill="#b8b8b8"/>
<circle cx="199.4" cy="307.3" r="0.32" fill="#b8b8b8"/>
<circle cx="207.3" cy="316.5" r="0.32" fill="#b8b8b8"/>
<circle cx="202.7" cy="311.3" r="0.32" fill="#b8b8b8"/>
<circle cx="201.6" cy="314.9" r="0.32" fill="#b8b8b8"/>
<circle cx="201.0" cy="311.5" r="0.32" fill="#b8b8b8"/>
<circle cx="208.7" cy="314.6" r="0.32" fill="#b8b8b8"/>
<circle cx="183.6" cy="323.7" r="0.32" fill="#b8b8b8"/>
<circle cx="199.3" cy="313.0" r="0.32" fill="#b8b8b8"/>
<circle cx="219.0" cy="318.8" r="0.32" fill="#b8b8b8"/>
<circle cx="192.0" cy="314.8" r="0.32" fill="#b8b8b8"/>
<circle cx="204.1" cy="317.5" r="0.32" fill="#b8b8b8"/>
<circle cx="210.1" cy="326.6" r="0.32" fill="#b8b8b8"/>
<circle cx="195.9" cy="319.4" r="0.32" fill="#b8b8b8"/>
<circle cx="205.9" cy="316.2" r="0.32" fill="#b8b8b8"/>
<circle cx="213.2" cy="324.3" r="0.32" fill="#b8b8b8"/>
<circle cx="217.7" cy="308.3" r="0.32" fill="#b8b8b8"/>
<circle cx="212.7" cy="315.2" r="0.32" fill="#b8b8b8"/>
<circle cx="214.9" cy="313.1" r="0.32" fill="#b8b8b8"/>
<circle cx="222.2" cy="311.3" r="0.32" fill="#b8b8b8"/>
<circle cx="210.1" cy="319.6" r="0.32" fill="#b8b8b8"/>
<circle cx="204.2" cy="310.9" r="0.32" fill="#b8b8b8"/>
<circle cx="218.6" cy="308.8" r="0.32" fill="#b8b8b8"/>
<circle cx="211.3" cy="325.7" r="0.32" fill="#b8b8b8"/>
<circle cx="217.8" cy="318.5" r="0.32" fill="#b8b8b8"/>
<circle cx="216.7" cy="313.4" r="0.32" fill="#b8b8b8"/>
<circle cx="217.1" cy="316.7" r="0.32" fill="#b8b8b8"/>
<circle cx="228.0" cy="321.9" r="0.32" fill="#b8b8b8"/>
<circle cx="213.9" cy="317.8" r="0.32" fill="#b8b8b8"/>
<circle cx="215.8" cy="308.5" r="0.32" fill="#b8b8b8"/>
<circle cx="211.4" cy="328.9" r="0.32" fill="#b8b8b8"/>
<circle cx="208.5" cy="314.2" r="0.32" fill="#b8b8b8"/>
<circle cx="220.7" cy="328.8" r="0.32" fill="#b8b8b8"/>
<circle cx="210.5" cy="328.5" r="0.32" fill="#b8b8b8"/>
<circle cx="213.8" cy="329.9" r="0.32" fill="#b8b8b8"/>
<circle cx="218.1" cy="316.3" r="0.32" fill="#b8b8b8"/>
<circle cx="219.3" cy="322.2" r="0.32" fill="#b8b8b8"/>
<circle cx="211.8" cy="333.3" r="0.32" fill="#b8b8b8"/>
<circle cx="213.9" cy="326.4" r="0.32" fill="#b8b8b8"/>
<circle cx="213.2" cy="305.5" r="0.32" fill="#b8b8b8"/>
<circle cx="210.0" cy="317.6" r="0.32" fill="#b8b8b8"/>
<circle cx="219.0" cy="330.6" r="0.32" fill="#b8b8b8"/>
<circle cx="216.0" cy="316.3" r="0.32" fill="#b8b8b8"/>
<circle cx="209.5" cy="318.0" r="0.32" fill="#b8b8b8"/>
<circle cx="217.1" cy="302.8" r="0.32" fill="#b8b8b8"/>
<circle cx="222.2" cy="326.3" r="0.32" fill="#b8b8b8"/>
<circle cx="227.0" cy="311.9" r="0.32" fill="#b8b8b8"/>
<circle cx="215.8" cy="318.4" r="0.32" fill="#b8b8b8"/>
<circle cx="209.0" cy="312.3" r="0.32" fill="#b8b8b8"/>
<circle cx="210.7" cy="321.9" r="0.32" fill="#b8b8b8"/>
<circle cx="217.8" cy="327.7" r="0.32" fill="#b8b8b8"/>
<circle cx="213.6" cy="308.5" r="0.32" fill="#b8b8b8"/>
<circle cx="217.8" cy="320.9" r="0.32" fill="#b8b8b8"/>
<circle cx="218.9" cy="327.0" r="0.32" fill="#b8b8b8"/>
<circle cx="212.7" cy="323.8" r="0.32" fill="#b8b8b8"/>
<circle cx="210.6" cy="319.3" r="0.32" fill="#b8b8b8"/>
<circle cx="219.0" cy="317.4" r="0.32" fill="#b8b8b8"/>
<circle cx="216.7" cy="308.5" r="0.32" fill="#b8b8b8"/>
<circle cx="212.3" cy="319.3" r="0.32" fill="#b8b8b8"/>
<circle cx="209.6" cy="312.3" r="0.32" fill="#b8b8b8"/>
<path d="M214.7,327.2L214.2,327.1L213.7,326.8L213.3,326.4L213.0,325.9L212.7,325.4L212.5,324.9L212.4,324.4L212.4,323.6L212.5,323.1L212.7,322.6L213.0,322.1L213.4,321.7L213.9,321.5L214.4,321.3L214.9,321.4L215.4,321.7L215.9,322.1L216.2,322.6L216.3,323.1L216.4,323.7L216.5,324.4L216.4,324.9L216.2,325.6L216.0,326.1L215.7,326.6L215.4,326.9L214.8,327.1Z M201.7,345.2L200.9,345.2L200.4,345.1L199.7,345.0L199.1,344.9L198.4,344.7L197.9,344.5L197.4,344.3L196.9,344.0L196.5,343.6L196.2,343.4L195.7,342.9L195.4,342.6L195.1,342.1L194.8,341.6L194.7,341.1L194.5,340.4L194.4,339.9L194.5,339.4L194.6,338.6L194.8,338.1L195.0,337.6L195.3,337.1L195.7,336.7L196.0,336.4L196.4,336.0L196.9,335.6L197.3,335.4L197.8,335.1L198.4,334.9L198.9,334.7L199.4,334.6L200.2,334.4L200.7,334.4L201.4,334.3L202.2,334.4L202.7,334.4L203.4,334.6L203.9,334.7L204.5,334.9L205.2,335.1L205.7,335.4L206.2,335.6L206.7,335.9L207.2,336.1L207.7,336.2L208.2,336.1L208.9,335.9L209.3,335.6L209.7,335.4L210.2,335.0L210.6,334.6L210.9,334.3L211.4,333.9L211.8,333.6L212.2,333.3L212.7,332.9L213.1,332.6L213.5,332.4L213.9,332.1L214.6,331.9L215.2,331.8L215.9,331.9L216.4,332.0L216.9,332.3L217.4,332.5L217.9,332.8L218.4,333.1L218.8,333.4L219.2,333.7L219.7,334.1L220.1,334.4L220.4,334.7L220.9,335.1L221.2,335.4L221.6,335.9L221.9,336.4L222.2,336.9L222.4,337.4L222.6,337.9L222.7,338.6L222.6,339.4L222.4,340.1L222.2,340.6L222.0,341.1L221.7,341.5L221.4,341.9L220.9,342.4L220.6,342.6L220.2,342.9L219.7,343.2L219.2,343.5L218.7,343.7L217.9,343.9L217.4,344.0L216.7,344.1L215.9,344.1L215.2,344.1L214.4,344.0L213.9,343.9L213.2,343.6L212.7,343.5L212.2,343.3L211.7,343.0L211.2,342.8L210.7,342.6L210.2,342.4L209.5,342.1L208.9,342.1L208.4,342.1L207.8,342.4L207.4,342.7L206.9,343.1L206.5,343.4L206.1,343.6L205.7,343.9L205.2,344.2L204.7,344.4L204.2,344.6L203.4,344.9L202.9,345.0L202.2,345.1L201.7,345.2Z" fill="#6a6a6a" fill-opacity="0.10" stroke="none"/>
<path d="M216.7,342.9L216.0,342.9L215.4,342.8L214.7,342.7L214.2,342.5L213.7,342.3L213.2,342.0L212.7,341.7L212.4,341.4L212.0,340.9L211.7,340.5L211.4,340.0L211.3,339.4L211.2,338.6L211.3,337.9L211.5,337.4L211.8,336.9L212.2,336.4L212.5,336.1L212.9,335.7L213.4,335.4L213.9,335.2L214.4,335.0L214.9,334.8L215.7,334.7L216.4,334.7L217.2,334.7L217.9,334.8L218.4,335.0L218.9,335.2L219.4,335.4L219.9,335.7L220.4,336.1L220.7,336.4L221.1,336.9L221.4,337.4L221.6,337.9L221.7,338.6L221.6,339.4L221.4,340.0L221.2,340.5L220.9,340.9L220.5,341.4L220.2,341.7L219.7,342.0L219.2,342.3L218.7,342.5L218.2,342.7L217.4,342.9L216.9,342.9Z M202.7,344.0L201.9,344.1L201.2,344.1L200.4,344.1L199.7,343.9L199.2,343.8L198.7,343.6L198.2,343.4L197.7,343.0L197.2,342.6L196.9,342.4L196.6,341.9L196.3,341.4L196.1,340.9L196.0,340.1L196.0,339.4L196.2,338.6L196.4,338.1L196.7,337.7L196.9,337.4L197.4,336.9L197.8,336.6L198.2,336.4L198.7,336.1L199.4,335.9L199.9,335.8L200.7,335.7L201.2,335.6L201.7,335.7L202.4,335.7L203.1,335.9L203.7,336.1L204.2,336.4L204.7,336.6L205.0,336.9L205.4,337.3L205.7,337.6L206.1,338.1L206.3,338.6L206.5,339.1L206.5,339.9L206.4,340.6L206.3,341.1L206.0,341.6L205.7,342.1L205.4,342.4L204.9,342.9L204.6,343.1L204.1,343.4L203.6,343.6L202.9,343.9Z" fill="#6a6a6a" fill-opacity="0.10" stroke="none"/>
<path d="M217.9,342.2L217.2,342.3L216.4,342.4L215.7,342.3L215.0,342.1L214.4,342.0L213.9,341.7L213.4,341.4L213.1,341.1L212.7,340.7L212.4,340.4L212.2,339.9L212.0,339.1L212.0,338.4L212.2,337.7L212.4,337.2L212.7,336.9L213.2,336.4L213.5,336.1L213.9,335.9L214.4,335.6L215.2,335.4L215.7,335.3L216.4,335.2L217.2,335.3L217.8,335.4L218.4,335.6L218.9,335.8L219.4,336.1L219.8,336.4L220.2,336.8L220.5,337.1L220.7,337.6L220.9,338.4L221.0,338.9L220.9,339.4L220.7,340.0L220.4,340.5L220.1,340.9L219.7,341.3L219.2,341.6L218.7,341.9L218.2,342.1Z M202.4,342.9L201.7,343.0L200.9,343.1L200.2,343.0L199.7,342.8L199.2,342.6L198.7,342.3L198.2,341.9L197.9,341.6L197.6,341.1L197.4,340.6L197.3,339.9L197.4,339.1L197.6,338.6L197.9,338.1L198.2,337.9L198.7,337.5L199.2,337.2L199.7,337.0L200.2,336.8L200.9,336.7L201.7,336.7L202.4,336.9L202.9,337.0L203.4,337.3L203.9,337.6L204.3,337.9L204.7,338.4L204.9,338.9L205.1,339.4L205.1,340.1L204.9,340.9L204.7,341.3L204.4,341.7L204.0,342.1L203.6,342.4L203.1,342.6L202.5,342.9Z" fill="#6a6a6a" fill-opacity="0.10" stroke="none"/>
<path d="M215.4,325.5L214.7,325.5L214.4,325.1L214.4,324.4L214.2,323.9L214.2,323.1L214.4,322.8L214.7,322.3L214.9,321.9L215.6,321.6L216.0,321.4L215.7,321.0L215.4,320.6L215.2,320.1L215.2,319.4L215.4,319.1L215.9,318.7L216.3,319.1L216.2,319.6L216.3,320.1L216.4,320.9L216.7,321.2L217.1,321.6L216.9,322.1L216.7,322.6L216.4,323.1L216.2,323.6L215.9,324.4L216.0,324.6L215.9,325.1L215.4,325.5 M208.9,320.9L208.3,320.9L207.9,320.5L207.9,320.1L208.4,319.9L209.1,319.9L209.4,320.4L209.0,320.9 M208.2,324.0L207.7,323.7L207.4,323.4L207.3,322.6L207.5,322.1L207.9,321.6L208.4,321.5L208.9,321.9L209.3,322.1L209.4,322.6L209.2,323.1L208.9,323.4L208.4,323.9 M211.2,323.3L210.7,323.1L210.3,322.6L210.1,322.1L210.7,322.0L211.2,322.2L211.5,322.6L211.4,323.1 M212.9,330.0L212.7,329.6L212.5,328.9L212.8,328.4L213.0,327.9L212.9,327.3L212.7,326.7L212.3,326.4L211.7,326.1L211.4,325.9L211.5,325.4L211.9,324.9L212.4,324.7L213.1,324.9L213.5,325.1L213.9,325.5L214.1,326.1L214.3,326.6L214.7,327.1L215.2,327.4L215.7,327.4L215.9,328.1L215.4,328.5L215.0,328.9L214.4,329.1L213.9,329.3L213.4,329.5L213.1,329.9 M200.7,345.4L200.1,345.4L199.4,345.3L198.8,345.1L198.2,345.0L197.7,344.8L197.2,344.5L196.7,344.1L196.4,343.9L196.0,343.4L195.7,343.0L195.3,342.6L194.9,342.2L194.7,341.7L194.4,341.2L194.2,340.8L193.9,340.4L193.6,339.9L193.6,339.1L193.9,338.6L194.2,338.4L194.5,337.9L194.7,337.4L195.2,336.9L195.4,336.6L195.9,336.2L196.3,335.9L196.7,335.4L197.0,335.1L197.4,334.9L197.9,334.4L198.4,334.2L198.9,334.1L199.7,334.0L200.4,334.0L201.2,334.1L201.7,334.2L202.4,334.4L202.9,334.6L203.4,334.7L203.9,334.9L204.5,335.1L205.2,335.4L205.9,335.2L206.7,335.2L207.4,335.1L207.8,334.9L208.2,334.6L208.7,334.2L209.2,333.9L209.7,333.7L210.2,333.5L210.7,333.2L211.2,333.1L211.5,333.1L212.1,332.9L212.4,332.4L212.7,332.1L213.1,331.6L213.0,330.9L213.2,330.3L213.4,330.8L213.4,331.3L213.4,331.9L213.7,332.3L214.1,332.4L214.7,332.3L215.3,332.1L215.9,331.9L216.4,331.9L216.9,331.9L217.4,332.3L217.9,332.5L218.7,332.6L219.0,332.9L219.4,333.4L219.7,333.6L220.2,334.0L220.4,334.6L220.6,335.1L220.9,335.5L221.4,335.7L221.9,336.0L222.2,336.4L222.5,336.9L222.7,337.4L222.9,338.1L222.8,338.9L222.7,339.6L222.7,340.1L222.7,340.5L222.4,341.1L222.2,341.4L221.8,341.9L221.6,342.4L221.4,342.9L220.9,343.2L220.5,343.6L220.2,343.9L219.5,344.1L218.9,344.3L218.4,344.5L217.7,344.6L217.0,344.4L216.4,344.3L215.7,344.2L214.9,344.2L214.7,343.9L214.3,343.4L213.7,343.3L213.2,343.4L212.4,343.5L211.7,343.5L211.1,343.4L210.7,343.0L210.2,342.7L209.7,342.9L209.2,343.2L208.4,343.3L207.9,343.1L207.2,343.1L206.7,343.4L206.3,343.6L205.7,343.9L205.2,344.1L204.8,344.4L204.3,344.6L203.8,344.9L203.2,345.1L202.7,345.2L201.9,345.2L201.2,345.3L200.7,345.4" fill="none" stroke="rgb(130,130,130)" stroke-width="0.4"/>
<path d="M218.9,343.4L218.2,343.6L217.4,343.6L216.7,343.4L216.2,343.4L215.4,343.3L214.9,343.1L214.4,342.9L213.7,342.8L213.1,342.6L212.4,342.4L211.9,342.2L211.5,341.9L211.2,341.5L210.8,341.1L210.4,340.8L210.4,340.1L210.3,339.4L210.4,338.6L210.5,338.1L210.7,337.5L210.9,336.9L211.2,336.4L211.4,336.1L211.7,335.6L211.9,334.9L212.4,334.7L212.9,334.6L213.7,334.5L214.4,334.4L214.9,334.3L215.5,334.1L216.2,334.0L216.9,334.0L217.7,334.1L218.3,334.1L218.9,334.2L219.4,334.5L219.9,334.9L220.2,335.3L220.5,335.6L220.9,336.0L221.4,336.4L221.7,336.8L221.9,337.2L222.2,337.7L222.4,338.4L222.3,339.1L222.2,339.7L222.0,340.4L221.7,340.9L221.4,341.2L221.1,341.6L220.7,342.1L220.2,342.4L219.9,342.6L219.4,343.1L219.0,343.4 M202.9,344.7L202.2,344.8L201.4,344.9L200.7,344.9L199.9,344.8L199.2,344.7L198.7,344.6L198.1,344.4L197.7,344.1L197.2,343.8L196.8,343.4L196.4,343.0L196.1,342.6L195.7,342.2L195.4,341.9L195.2,341.4L194.9,340.9L194.8,340.1L194.9,339.4L195.0,338.9L195.2,338.4L195.4,337.9L195.7,337.4L196.1,336.9L196.4,336.6L196.9,336.1L197.2,335.8L197.7,335.5L198.2,335.2L198.7,334.9L199.2,334.8L199.9,334.8L200.7,334.8L201.4,334.8L201.9,334.9L202.7,335.1L203.2,335.2L203.9,335.4L204.4,335.6L204.8,335.9L205.4,336.1L205.9,336.2L206.4,336.6L206.9,336.9L207.4,337.1L207.8,337.4L207.8,338.1L207.7,338.9L207.9,339.6L208.1,340.1L208.0,340.9L207.7,341.2L207.2,341.6L206.8,341.9L206.4,342.3L206.2,342.7L205.8,343.1L205.2,343.4L204.8,343.6L204.4,344.0L203.9,344.3L203.4,344.5L202.9,344.7" fill="none" stroke="rgb(122,122,122)" stroke-width="0.4"/>
<path d="M217.9,343.2L217.2,343.2L216.7,343.1L215.9,343.1L215.3,342.9L214.7,342.8L214.2,342.6L213.4,342.4L212.9,342.2L212.4,341.9L212.1,341.6L211.7,341.1L211.4,340.8L211.2,340.3L211.0,339.6L210.9,339.1L210.9,338.6L211.1,337.9L211.2,337.4L211.4,336.8L211.7,336.4L212.1,335.9L212.4,335.6L212.9,335.3L213.4,335.0L214.0,334.9L214.7,334.7L215.2,334.6L215.9,334.4L216.4,334.4L217.2,334.4L217.7,334.4L218.4,334.6L218.9,334.7L219.4,335.0L219.9,335.4L220.2,335.7L220.7,336.1L221.0,336.4L221.4,336.9L221.7,337.4L221.9,337.9L222.1,338.4L222.1,339.1L221.9,339.6L221.7,340.2L221.4,340.7L221.2,341.1L220.7,341.6L220.4,341.9L219.9,342.2L219.4,342.6L219.0,342.9L218.4,343.1L217.9,343.2 M202.4,344.5L201.7,344.5L200.9,344.5L200.2,344.5L199.4,344.4L198.9,344.3L198.4,344.1L197.9,343.9L197.4,343.6L197.0,343.1L196.7,342.8L196.4,342.4L195.9,342.0L195.7,341.6L195.4,341.1L195.3,340.4L195.4,339.6L195.5,339.1L195.7,338.6L195.9,337.9L196.2,337.4L196.4,337.1L196.9,336.6L197.2,336.3L197.7,335.9L198.2,335.6L198.6,335.4L199.2,335.2L199.9,335.2L200.7,335.2L201.4,335.2L202.2,335.4L202.7,335.5L203.4,335.6L203.9,335.8L204.4,336.1L204.8,336.4L205.4,336.6L205.9,336.9L206.2,337.2L206.4,337.7L206.6,338.4L206.7,338.9L206.9,339.6L207.1,340.1L207.1,340.9L206.7,341.4L206.4,341.6L206.0,342.1L205.7,342.5L205.3,342.9L204.9,343.1L204.4,343.5L203.9,343.8L203.4,344.1L202.9,344.3L202.4,344.5" fill="none" stroke="rgb(115,115,115)" stroke-width="0.4"/>
<path d="M217.9,342.9L217.2,343.0L216.4,342.9L215.9,342.9L215.2,342.7L214.7,342.6L214.1,342.4L213.4,342.2L212.9,341.9L212.6,341.6L212.2,341.3L211.9,340.9L211.6,340.4L211.3,339.9L211.2,339.3L211.2,338.9L211.3,338.1L211.4,337.5L211.7,336.9L211.9,336.5L212.3,336.1L212.7,335.8L213.2,335.4L213.7,335.2L214.2,335.1L214.9,334.9L215.4,334.8L216.0,334.6L216.7,334.6L217.4,334.6L217.9,334.7L218.7,334.9L219.2,335.1L219.6,335.4L219.9,335.7L220.4,336.1L220.7,336.4L221.1,336.9L221.4,337.4L221.7,337.9L221.8,338.4L221.8,339.1L221.7,339.6L221.4,340.2L221.2,340.7L220.9,341.1L220.4,341.6L220.1,341.9L219.7,342.1L219.2,342.5L218.7,342.8L218.2,342.9 M202.2,344.2L201.4,344.3L200.7,344.2L200.1,344.1L199.4,344.1L198.7,343.9L198.2,343.6L197.8,343.4L197.4,343.1L197.0,342.6L196.7,342.3L196.3,341.9L195.9,341.4L195.7,340.9L195.7,340.4L195.7,339.9L195.9,339.2L196.1,338.6L196.3,338.1L196.5,337.6L196.9,337.1L197.2,336.8L197.6,336.4L198.0,336.1L198.4,335.8L198.9,335.6L199.7,335.5L200.4,335.5L201.2,335.5L201.9,335.6L202.4,335.7L203.2,335.9L203.7,336.0L204.2,336.4L204.5,336.6L204.9,337.1L205.4,337.3L205.8,337.6L206.1,338.1L206.2,338.9L206.3,339.4L206.5,339.9L206.6,340.6L206.4,341.1L205.9,341.6L205.6,341.9L205.2,342.4L204.9,342.7L204.4,343.1L203.9,343.4L203.4,343.6L203.0,343.9L202.4,344.1" fill="none" stroke="rgb(108,108,108)" stroke-width="0.4"/>
<path d="M218.2,342.7L217.4,342.8L216.7,342.8L215.9,342.7L215.4,342.6L214.8,342.4L214.2,342.3L213.7,342.1L213.2,341.8L212.7,341.4L212.4,341.1L212.0,340.6L211.7,340.2L211.5,339.6L211.4,339.1L211.5,338.6L211.6,337.9L211.7,337.4L211.9,336.8L212.3,336.4L212.7,336.0L213.2,335.7L213.7,335.4L214.2,335.3L214.7,335.1L215.4,335.0L215.9,334.8L216.7,334.7L217.4,334.8L217.9,334.9L218.7,335.1L219.2,335.3L219.7,335.6L219.9,335.9L220.4,336.4L220.7,336.7L221.1,337.1L221.4,337.6L221.6,338.1L221.6,338.9L221.5,339.6L221.3,340.1L221.0,340.6L220.7,341.1L220.4,341.4L219.9,341.8L219.4,342.1L219.0,342.4L218.4,342.6 M202.2,343.9L201.4,344.0L200.7,344.0L200.2,343.9L199.4,343.8L198.9,343.6L198.4,343.4L197.9,343.1L197.4,342.7L197.2,342.4L196.7,341.9L196.4,341.6L196.2,341.1L196.0,340.4L196.2,339.6L196.3,339.1L196.5,338.6L196.7,338.0L196.9,337.6L197.3,337.1L197.7,336.7L198.1,336.4L198.5,336.1L199.0,335.9L199.7,335.8L200.4,335.8L201.2,335.8L201.8,335.9L202.4,336.0L203.1,336.1L203.7,336.4L204.0,336.6L204.4,337.1L204.7,337.4L205.2,337.8L205.6,338.1L205.7,338.9L205.7,339.4L206.0,339.9L206.2,340.6L205.9,341.1L205.4,341.5L205.1,341.9L204.7,342.4L204.4,342.7L203.9,343.0L203.4,343.3L202.9,343.6L202.4,343.8" fill="none" stroke="rgb(100,100,100)" stroke-width="0.4"/>
<path d="M218.4,342.5L217.7,342.6L216.9,342.6L216.2,342.6L215.5,342.4L214.9,342.3L214.4,342.1L213.7,341.9L213.3,341.6L212.9,341.4L212.5,340.9L212.2,340.5L211.9,340.1L211.7,339.6L211.7,338.9L211.7,338.4L211.8,337.6L212.0,337.1L212.3,336.6L212.7,336.3L213.2,335.9L213.7,335.7L214.2,335.5L214.7,335.3L215.4,335.2L215.9,335.0L216.7,334.9L217.4,335.0L218.2,335.1L218.7,335.3L219.2,335.5L219.7,335.9L219.9,336.2L220.4,336.6L220.7,336.9L221.0,337.4L221.3,337.9L221.4,338.6L221.4,339.4L221.2,339.9L220.9,340.4L220.6,340.9L220.2,341.4L219.8,341.6L219.4,341.9L218.9,342.2L218.4,342.5 M201.9,343.7L201.2,343.7L200.4,343.7L199.9,343.6L199.2,343.4L198.7,343.2L198.2,342.9L197.9,342.6L197.4,342.2L197.2,341.9L196.8,341.4L196.5,340.9L196.4,340.4L196.4,339.9L196.7,339.2L196.9,338.6L197.1,338.1L197.4,337.6L197.7,337.2L198.0,336.9L198.4,336.6L198.9,336.3L199.4,336.1L200.2,336.1L200.9,336.1L201.6,336.1L202.2,336.2L202.9,336.4L203.4,336.6L203.8,336.9L204.2,337.4L204.4,337.7L204.9,338.1L205.2,338.6L205.2,339.1L205.4,339.8L205.7,340.4L205.4,340.9L205.0,341.4L204.7,341.9L204.4,342.2L203.9,342.6L203.4,342.8L202.9,343.1L202.6,343.4L202.0,343.6" fill="none" stroke="rgb(93,93,93)" stroke-width="0.4"/>
<path d="M217.9,342.4L217.2,342.5L216.4,342.5L215.9,342.3L215.3,342.1L214.7,342.0L214.1,341.9L213.6,341.6L213.2,341.3L212.8,340.9L212.4,340.5L212.2,340.1L211.9,339.6L211.9,338.9L211.9,338.3L212.0,337.6L212.2,337.1L212.6,336.6L212.9,336.4L213.4,336.0L213.9,335.8L214.4,335.6L215.2,335.4L215.7,335.3L216.3,335.1L216.9,335.1L217.4,335.2L218.2,335.3L218.7,335.5L219.2,335.7L219.7,336.1L220.0,336.4L220.4,336.9L220.7,337.2L220.9,337.7L221.2,338.4L221.2,338.9L221.2,339.4L220.9,340.0L220.7,340.5L220.4,340.9L219.9,341.4L219.5,341.6L219.1,341.9L218.7,342.2L218.0,342.4 M201.2,343.4L200.4,343.4L199.9,343.3L199.4,343.1L198.9,342.9L198.4,342.6L197.9,342.3L197.6,341.9L197.3,341.4L197.0,340.9L196.8,340.4L196.9,339.6L197.1,339.1L197.3,338.6L197.5,338.1L197.8,337.6L198.2,337.2L198.6,336.9L199.0,336.6L199.7,336.4L200.2,336.4L200.9,336.4L201.4,336.4L202.2,336.5L202.7,336.7L203.2,336.9L203.6,337.4L203.9,337.7L204.4,338.1L204.7,338.4L204.9,339.1L204.9,339.7L205.1,340.4L204.9,340.9L204.6,341.4L204.2,341.9L203.9,342.1L203.4,342.4L202.9,342.7L202.4,343.0L201.9,343.3L201.2,343.4" fill="none" stroke="rgb(86,86,86)" stroke-width="0.4"/>
<path d="M218.2,342.2L217.4,342.3L216.7,342.3L216.0,342.1L215.4,342.0L214.9,341.9L214.2,341.7L213.7,341.5L213.3,341.1L212.9,340.8L212.6,340.4L212.3,339.9L212.1,339.4L212.1,338.6L212.2,337.9L212.3,337.4L212.7,336.9L212.9,336.6L213.4,336.3L213.9,336.0L214.4,335.8L214.9,335.6L215.7,335.5L216.2,335.4L216.9,335.3L217.7,335.4L218.2,335.5L218.7,335.7L219.2,335.9L219.7,336.4L219.9,336.7L220.4,337.1L220.7,337.6L220.9,338.1L221.0,338.6L220.9,339.3L220.8,339.9L220.5,340.4L220.2,340.9L219.9,341.1L219.4,341.5L218.9,341.8L218.4,342.1 M201.4,342.9L200.7,343.1L199.9,343.0L199.4,342.8L198.9,342.5L198.4,342.2L198.1,341.9L197.7,341.4L197.5,340.9L197.3,340.4L197.4,339.6L197.5,339.1L197.7,338.5L197.9,338.1L198.3,337.6L198.7,337.4L199.2,337.0L199.7,336.8L200.4,336.8L201.2,336.7L201.9,336.9L202.4,337.0L202.9,337.3L203.2,337.6L203.7,338.1L204.1,338.4L204.4,338.9L204.5,339.4L204.6,340.1L204.4,340.8L204.2,341.3L203.9,341.6L203.4,342.0L202.9,342.3L202.4,342.5L201.9,342.8L201.4,342.9" fill="none" stroke="rgb(79,79,79)" stroke-width="0.4"/>
<path d="M218.2,342.0L217.4,342.1L216.7,342.1L215.9,341.9L215.4,341.8L214.8,341.6L214.2,341.5L213.7,341.2L213.4,340.9L212.9,340.4L212.7,340.1L212.4,339.6L212.3,338.9L212.4,338.1L212.5,337.6L212.8,337.1L213.2,336.7L213.7,336.4L214.2,336.1L214.7,335.9L215.2,335.8L215.8,335.6L216.4,335.5L217.2,335.5L217.9,335.6L218.4,335.8L218.9,336.0L219.4,336.4L219.7,336.7L220.1,337.1L220.4,337.6L220.7,338.1L220.8,338.6L220.7,339.4L220.5,339.9L220.3,340.4L219.9,340.8L219.6,341.1L219.2,341.4L218.7,341.7L218.2,342.0 M200.9,342.7L200.3,342.6L199.7,342.4L199.3,342.1L198.9,341.8L198.4,341.4L198.2,341.1L197.9,340.6L197.9,339.9L197.9,339.1L198.0,338.6L198.4,338.1L198.7,337.9L199.2,337.5L199.7,337.3L200.4,337.2L201.2,337.2L201.9,337.4L202.4,337.6L202.7,337.9L203.1,338.4L203.3,338.9L203.5,339.4L203.7,340.1L203.8,340.6L203.6,341.1L203.2,341.5L202.7,341.9L202.3,342.1L201.7,342.4L201.2,342.6" fill="none" stroke="rgb(71,71,71)" stroke-width="0.4"/>
<path d="M217.4,341.9L216.7,341.9L216.2,341.8L215.7,341.6L214.9,341.4L214.4,341.3L213.9,341.1L213.5,340.6L213.2,340.3L212.9,339.9L212.7,339.4L212.6,338.6L212.7,337.9L212.9,337.4L213.2,337.1L213.7,336.8L214.2,336.5L214.7,336.2L215.2,336.0L215.7,335.9L216.4,335.8L217.2,335.8L217.9,335.9L218.4,336.1L218.9,336.3L219.4,336.6L219.7,337.0L220.0,337.4L220.3,337.9L220.4,338.4L220.5,339.1L220.4,339.6L220.1,340.1L219.8,340.6L219.4,341.0L218.9,341.3L218.4,341.6L217.9,341.8L217.4,341.9 M200.7,341.9L200.2,341.8L199.8,341.4L199.4,341.1L198.9,340.8L198.6,340.4L198.4,339.9L198.4,339.1L198.6,338.6L198.9,338.3L199.4,338.0L199.9,337.8L200.7,337.8L201.2,337.9L201.9,338.1L202.3,338.4L202.4,339.1L202.6,339.6L202.6,340.4L202.4,340.9L202.2,341.4L201.7,341.7L200.9,341.8" fill="none" stroke="rgb(64,64,64)" stroke-width="0.4"/>
<path d="M217.4,341.7L216.8,341.6L216.2,341.5L215.7,341.3L215.2,341.1L214.4,341.0L213.9,340.7L213.6,340.4L213.3,339.9L213.1,339.4L212.9,338.9L212.9,338.1L213.1,337.6L213.4,337.3L213.9,337.0L214.4,336.7L214.8,336.4L215.4,336.2L215.9,336.1L216.7,336.0L217.4,336.1L217.9,336.2L218.5,336.4L218.9,336.7L219.4,337.1L219.7,337.5L219.9,338.0L220.2,338.6L220.1,339.4L219.9,339.9L219.7,340.4L219.2,340.8L218.7,341.1L218.3,341.4L217.7,341.6 M199.7,339.8L199.4,339.4L199.5,338.9L199.9,338.6L200.4,338.9L200.1,339.4L199.7,339.8" fill="none" stroke="rgb(57,57,57)" stroke-width="0.4"/>
<path d="M217.9,341.2L217.2,341.3L216.4,341.3L215.9,341.0L215.4,340.7L214.9,340.6L214.2,340.4L213.9,340.1L213.7,339.6L213.4,339.1L213.3,338.4L213.5,337.9L213.9,337.4L214.4,337.1L214.8,336.9L215.2,336.6L215.9,336.4L216.7,336.5L217.4,336.6L217.9,336.8L218.5,336.9L218.9,337.2L219.3,337.6L219.4,338.2L219.7,338.6L219.8,339.4L219.5,339.9L219.2,340.3L218.8,340.6L218.4,340.9L217.9,341.2" fill="none" stroke="rgb(50,50,50)" stroke-width="0.4"/>
</g>
<rect x="179.70" y="299.4" width="55" height="52.60" fill="none" stroke="#9a9a9a" stroke-width="0.6"/>
<line x1="209.70" y1="299.40" x2="209.70" y2="352.00" stroke="#555" stroke-width="0.7" />
<line x1="179.70" y1="331.40" x2="234.70" y2="331.40" stroke="#555" stroke-width="0.7" />
<text x="181.30" y="305.70" font-size="4.6" fill="#222" text-anchor="start" font-weight="normal" >2.97</text>
<text x="228.40" y="305.70" font-size="4.6" fill="#222" text-anchor="end" font-weight="normal" >2.92</text>
<text x="181.30" y="347.70" font-size="4.6" fill="#222" text-anchor="start" font-weight="normal" >41.6</text>
<text x="219.00" y="347.70" font-size="4.6" fill="#222" text-anchor="start" font-weight="normal" >52.5</text>
<text x="175.70" y="304.90" font-size="3.9" fill="#444" text-anchor="end">10<tspan font-size="2.34" dy="-1.56">5</tspan></text>
<line x1="178.10" y1="303.60" x2="179.70" y2="303.60" stroke="#444" stroke-width="0.5" />
<text x="175.70" y="317.20" font-size="3.9" fill="#444" text-anchor="end">10<tspan font-size="2.34" dy="-1.56">4</tspan></text>
<line x1="178.10" y1="315.90" x2="179.70" y2="315.90" stroke="#444" stroke-width="0.5" />
<text x="175.70" y="329.60" font-size="3.9" fill="#444" text-anchor="end">10<tspan font-size="2.34" dy="-1.56">3</tspan></text>
<line x1="178.10" y1="328.30" x2="179.70" y2="328.30" stroke="#444" stroke-width="0.5" />
<text x="174.90" y="347.00" font-size="3.9" fill="#444" text-anchor="end" font-weight="normal" >0</text>
<line x1="178.10" y1="345.70" x2="179.70" y2="345.70" stroke="#444" stroke-width="0.5" />
<rect x="178.90" y="344.7" width="1.4" height="2.0" fill="#111"/>
<rect x="189.50" y="351.80" width="3.2" height="1.3" fill="#111"/>
<text x="189.50" y="359.00" font-size="3.9" fill="#444" text-anchor="middle" font-weight="normal" >0</text>
<line x1="189.50" y1="352.00" x2="189.50" y2="353.40" stroke="#444" stroke-width="0.5" />
<text x="202.60" y="359.00" font-size="3.9" fill="#444" text-anchor="middle">10<tspan font-size="2.34" dy="-1.56">3</tspan></text>
<line x1="203.20" y1="352.00" x2="203.20" y2="353.40" stroke="#444" stroke-width="0.5" />
<text x="215.50" y="359.00" font-size="3.9" fill="#444" text-anchor="middle">10<tspan font-size="2.34" dy="-1.56">4</tspan></text>
<line x1="216.10" y1="352.00" x2="216.10" y2="353.40" stroke="#444" stroke-width="0.5" />
<text x="228.40" y="359.00" font-size="3.9" fill="#444" text-anchor="middle">10<tspan font-size="2.34" dy="-1.56">5</tspan></text>
<line x1="229.00" y1="352.00" x2="229.00" y2="353.40" stroke="#444" stroke-width="0.5" />
<clipPath id="clip23"><rect x="254.50" y="299.40" width="55" height="52.60000000000002"/></clipPath>
<g clip-path="url(#clip23)">
<circle cx="293.5" cy="333.5" r="0.3" fill="#bcbcbc"/>
<circle cx="301.6" cy="321.7" r="0.3" fill="#bcbcbc"/>
<circle cx="295.7" cy="334.7" r="0.3" fill="#bcbcbc"/>
<circle cx="283.4" cy="337.9" r="0.3" fill="#bcbcbc"/>
<circle cx="273.4" cy="340.2" r="0.3" fill="#bcbcbc"/>
<circle cx="299.1" cy="336.3" r="0.3" fill="#bcbcbc"/>
<circle cx="288.8" cy="336.0" r="0.3" fill="#bcbcbc"/>
<circle cx="277.0" cy="329.8" r="0.3" fill="#bcbcbc"/>
<circle cx="265.7" cy="335.7" r="0.3" fill="#bcbcbc"/>
<circle cx="299.0" cy="336.6" r="0.3" fill="#bcbcbc"/>
<circle cx="300.8" cy="333.2" r="0.3" fill="#bcbcbc"/>
<circle cx="295.1" cy="346.0" r="0.3" fill="#bcbcbc"/>
<circle cx="297.4" cy="327.0" r="0.3" fill="#bcbcbc"/>
<circle cx="298.7" cy="341.9" r="0.3" fill="#bcbcbc"/>
<circle cx="280.5" cy="342.5" r="0.3" fill="#bcbcbc"/>
<circle cx="285.5" cy="336.1" r="0.3" fill="#bcbcbc"/>
<circle cx="297.7" cy="340.5" r="0.3" fill="#bcbcbc"/>
<circle cx="295.8" cy="330.2" r="0.3" fill="#bcbcbc"/>
<circle cx="306.4" cy="331.2" r="0.3" fill="#bcbcbc"/>
<circle cx="264.4" cy="331.8" r="0.3" fill="#bcbcbc"/>
<circle cx="295.3" cy="339.0" r="0.3" fill="#bcbcbc"/>
<circle cx="281.4" cy="342.5" r="0.3" fill="#bcbcbc"/>
<circle cx="274.0" cy="344.5" r="0.3" fill="#bcbcbc"/>
<circle cx="289.4" cy="337.7" r="0.3" fill="#bcbcbc"/>
<circle cx="299.2" cy="333.3" r="0.3" fill="#bcbcbc"/>
<circle cx="290.7" cy="334.3" r="0.3" fill="#bcbcbc"/>
<circle cx="289.6" cy="337.8" r="0.3" fill="#bcbcbc"/>
<circle cx="307.2" cy="329.4" r="0.3" fill="#bcbcbc"/>
<circle cx="285.8" cy="350.9" r="0.3" fill="#bcbcbc"/>
<circle cx="286.0" cy="341.4" r="0.3" fill="#bcbcbc"/>
<circle cx="287.5" cy="333.5" r="0.3" fill="#bcbcbc"/>
<circle cx="293.3" cy="342.3" r="0.3" fill="#bcbcbc"/>
<circle cx="296.4" cy="334.5" r="0.3" fill="#bcbcbc"/>
<circle cx="271.7" cy="344.4" r="0.3" fill="#bcbcbc"/>
<circle cx="288.6" cy="335.5" r="0.3" fill="#bcbcbc"/>
<circle cx="294.6" cy="337.5" r="0.3" fill="#bcbcbc"/>
<circle cx="292.2" cy="329.5" r="0.3" fill="#bcbcbc"/>
<circle cx="294.0" cy="327.8" r="0.3" fill="#bcbcbc"/>
<circle cx="297.6" cy="330.3" r="0.3" fill="#bcbcbc"/>
<circle cx="291.4" cy="341.2" r="0.3" fill="#bcbcbc"/>
<circle cx="290.4" cy="341.6" r="0.3" fill="#bcbcbc"/>
<circle cx="296.6" cy="341.1" r="0.3" fill="#bcbcbc"/>
<circle cx="293.7" cy="334.1" r="0.3" fill="#bcbcbc"/>
<circle cx="276.8" cy="347.3" r="0.3" fill="#bcbcbc"/>
<circle cx="292.8" cy="337.9" r="0.3" fill="#bcbcbc"/>
<circle cx="285.0" cy="338.5" r="0.3" fill="#bcbcbc"/>
<circle cx="290.0" cy="343.3" r="0.3" fill="#bcbcbc"/>
<circle cx="296.0" cy="348.7" r="0.3" fill="#bcbcbc"/>
<circle cx="291.5" cy="340.1" r="0.3" fill="#bcbcbc"/>
<circle cx="294.3" cy="349.6" r="0.3" fill="#bcbcbc"/>
<circle cx="279.1" cy="332.9" r="0.3" fill="#bcbcbc"/>
<circle cx="304.0" cy="337.4" r="0.3" fill="#bcbcbc"/>
<circle cx="279.6" cy="335.4" r="0.3" fill="#bcbcbc"/>
<circle cx="286.3" cy="334.5" r="0.3" fill="#bcbcbc"/>
<circle cx="305.4" cy="334.5" r="0.3" fill="#bcbcbc"/>
<circle cx="286.9" cy="335.5" r="0.3" fill="#bcbcbc"/>
<circle cx="288.8" cy="330.8" r="0.3" fill="#bcbcbc"/>
<circle cx="293.3" cy="329.1" r="0.3" fill="#bcbcbc"/>
<circle cx="302.9" cy="326.5" r="0.3" fill="#bcbcbc"/>
<circle cx="283.6" cy="349.3" r="0.3" fill="#bcbcbc"/>
<circle cx="276.8" cy="330.8" r="0.3" fill="#bcbcbc"/>
<circle cx="294.5" cy="331.0" r="0.3" fill="#bcbcbc"/>
<circle cx="293.8" cy="341.9" r="0.3" fill="#bcbcbc"/>
<circle cx="292.0" cy="338.0" r="0.3" fill="#bcbcbc"/>
<circle cx="287.3" cy="336.4" r="0.3" fill="#bcbcbc"/>
<circle cx="286.3" cy="348.0" r="0.3" fill="#bcbcbc"/>
<circle cx="284.7" cy="339.8" r="0.3" fill="#bcbcbc"/>
<circle cx="283.7" cy="342.6" r="0.3" fill="#bcbcbc"/>
<circle cx="284.5" cy="338.5" r="0.3" fill="#bcbcbc"/>
<circle cx="289.9" cy="333.7" r="0.3" fill="#bcbcbc"/>
<circle cx="287.5" cy="311.8" r="0.32" fill="#b8b8b8"/>
<circle cx="278.3" cy="326.8" r="0.32" fill="#b8b8b8"/>
<circle cx="281.5" cy="305.8" r="0.32" fill="#b8b8b8"/>
<circle cx="273.6" cy="318.0" r="0.32" fill="#b8b8b8"/>
<circle cx="274.5" cy="323.4" r="0.32" fill="#b8b8b8"/>
<circle cx="279.9" cy="320.0" r="0.32" fill="#b8b8b8"/>
<circle cx="278.0" cy="326.3" r="0.32" fill="#b8b8b8"/>
<circle cx="285.1" cy="305.6" r="0.32" fill="#b8b8b8"/>
<circle cx="291.8" cy="315.2" r="0.32" fill="#b8b8b8"/>
<circle cx="281.8" cy="307.6" r="0.32" fill="#b8b8b8"/>
<circle cx="272.7" cy="310.3" r="0.32" fill="#b8b8b8"/>
<circle cx="284.1" cy="325.6" r="0.32" fill="#b8b8b8"/>
<circle cx="276.4" cy="318.1" r="0.32" fill="#b8b8b8"/>
<circle cx="279.1" cy="312.6" r="0.32" fill="#b8b8b8"/>
<circle cx="272.1" cy="313.8" r="0.32" fill="#b8b8b8"/>
<circle cx="282.2" cy="319.5" r="0.32" fill="#b8b8b8"/>
<circle cx="267.3" cy="321.7" r="0.32" fill="#b8b8b8"/>
<circle cx="280.1" cy="329.2" r="0.32" fill="#b8b8b8"/>
<circle cx="272.4" cy="322.2" r="0.32" fill="#b8b8b8"/>
<circle cx="291.2" cy="317.0" r="0.32" fill="#b8b8b8"/>
<circle cx="273.8" cy="322.9" r="0.32" fill="#b8b8b8"/>
<circle cx="272.8" cy="319.3" r="0.32" fill="#b8b8b8"/>
<circle cx="272.8" cy="313.7" r="0.32" fill="#b8b8b8"/>
<circle cx="282.6" cy="316.6" r="0.32" fill="#b8b8b8"/>
<circle cx="269.2" cy="317.2" r="0.32" fill="#b8b8b8"/>
<circle cx="275.3" cy="321.4" r="0.32" fill="#b8b8b8"/>
<circle cx="283.0" cy="331.8" r="0.32" fill="#b8b8b8"/>
<circle cx="267.6" cy="317.5" r="0.32" fill="#b8b8b8"/>
<circle cx="263.4" cy="320.8" r="0.32" fill="#b8b8b8"/>
<circle cx="280.0" cy="314.5" r="0.32" fill="#b8b8b8"/>
<circle cx="269.8" cy="312.1" r="0.32" fill="#b8b8b8"/>
<circle cx="265.6" cy="323.6" r="0.32" fill="#b8b8b8"/>
<circle cx="289.7" cy="311.0" r="0.32" fill="#b8b8b8"/>
<circle cx="287.7" cy="318.2" r="0.32" fill="#b8b8b8"/>
<circle cx="266.2" cy="323.0" r="0.32" fill="#b8b8b8"/>
<circle cx="281.5" cy="321.8" r="0.32" fill="#b8b8b8"/>
<circle cx="274.2" cy="330.8" r="0.32" fill="#b8b8b8"/>
<circle cx="274.0" cy="323.4" r="0.32" fill="#b8b8b8"/>
<circle cx="280.6" cy="312.5" r="0.32" fill="#b8b8b8"/>
<circle cx="262.9" cy="306.6" r="0.32" fill="#b8b8b8"/>
<circle cx="273.1" cy="321.4" r="0.32" fill="#b8b8b8"/>
<circle cx="263.3" cy="313.7" r="0.32" fill="#b8b8b8"/>
<circle cx="286.8" cy="306.1" r="0.32" fill="#b8b8b8"/>
<circle cx="279.2" cy="321.3" r="0.32" fill="#b8b8b8"/>
<circle cx="281.5" cy="308.3" r="0.32" fill="#b8b8b8"/>
<circle cx="278.3" cy="308.9" r="0.32" fill="#b8b8b8"/>
<circle cx="285.3" cy="312.6" r="0.32" fill="#b8b8b8"/>
<circle cx="278.5" cy="313.0" r="0.32" fill="#b8b8b8"/>
<circle cx="276.8" cy="307.8" r="0.32" fill="#b8b8b8"/>
<circle cx="277.8" cy="323.0" r="0.32" fill="#b8b8b8"/>
<circle cx="291.9" cy="330.6" r="0.32" fill="#b8b8b8"/>
<circle cx="293.9" cy="325.6" r="0.32" fill="#b8b8b8"/>
<circle cx="294.6" cy="332.2" r="0.32" fill="#b8b8b8"/>
<circle cx="288.7" cy="319.2" r="0.32" fill="#b8b8b8"/>
<circle cx="290.9" cy="324.6" r="0.32" fill="#b8b8b8"/>
<circle cx="293.4" cy="325.9" r="0.32" fill="#b8b8b8"/>
<circle cx="293.5" cy="317.7" r="0.32" fill="#b8b8b8"/>
<circle cx="291.7" cy="323.5" r="0.32" fill="#b8b8b8"/>
<circle cx="280.5" cy="329.4" r="0.32" fill="#b8b8b8"/>
<circle cx="289.2" cy="318.7" r="0.32" fill="#b8b8b8"/>
<circle cx="293.4" cy="319.4" r="0.32" fill="#b8b8b8"/>
<circle cx="284.7" cy="319.6" r="0.32" fill="#b8b8b8"/>
<circle cx="299.2" cy="327.4" r="0.32" fill="#b8b8b8"/>
<circle cx="298.5" cy="317.7" r="0.32" fill="#b8b8b8"/>
<circle cx="291.1" cy="327.5" r="0.32" fill="#b8b8b8"/>
<path d="M276.5,347.7L275.8,347.8L275.0,347.8L274.2,347.8L273.5,347.8L272.8,347.7L272.2,347.6L271.5,347.5L271.0,347.4L270.2,347.2L269.8,347.0L269.2,346.8L268.8,346.6L268.2,346.4L267.8,346.1L267.2,345.8L266.8,345.5L266.3,345.1L266.0,344.9L265.5,344.4L265.2,344.1L264.9,343.6L264.6,343.1L264.3,342.6L264.1,342.1L263.9,341.6L263.8,341.1L263.6,340.4L263.6,339.6L263.7,338.9L263.8,338.4L264.0,337.9L264.2,337.3L264.5,336.8L264.8,336.4L265.1,335.9L265.5,335.4L265.8,335.1L266.2,334.7L266.5,334.4L267.0,334.0L267.5,333.7L267.9,333.4L268.4,333.1L268.8,332.9L269.3,332.6L269.9,332.4L270.5,332.2L271.0,332.0L271.5,331.8L272.2,331.6L272.8,331.5L273.5,331.4L274.0,331.4L274.8,331.3L275.5,331.3L276.2,331.4L276.8,331.5L277.5,331.6L278.0,331.7L278.5,331.9L279.2,332.1L279.8,332.4L280.2,332.6L280.8,332.8L281.2,333.1L281.8,333.3L282.2,333.6L282.8,333.9L283.2,334.1L283.8,334.4L284.2,334.5L284.8,334.7L285.5,334.7L286.2,334.7L286.8,334.5L287.2,334.4L287.9,334.1L288.5,333.9L289.0,333.8L289.6,333.6L290.2,333.5L291.0,333.4L291.8,333.4L292.5,333.5L293.2,333.6L293.8,333.8L294.2,333.9L294.8,334.2L295.2,334.4L295.8,334.7L296.2,335.1L296.5,335.4L296.9,335.9L297.2,336.4L297.5,336.8L297.7,337.4L297.9,337.9L297.9,338.6L297.9,339.4L297.7,339.9L297.5,340.5L297.2,341.0L297.0,341.4L296.5,341.9L296.2,342.2L295.8,342.6L295.3,342.9L294.8,343.1L294.3,343.4L293.8,343.6L293.2,343.7L292.5,343.9L292.0,343.9L291.2,343.9L290.6,343.9L290.0,343.8L289.2,343.7L288.8,343.6L288.0,343.5L287.3,343.4L286.8,343.4L286.2,343.4L285.5,343.6L285.0,343.9L284.5,344.1L284.1,344.4L283.7,344.6L283.2,345.0L282.8,345.3L282.2,345.6L281.8,345.9L281.3,346.1L280.8,346.4L280.2,346.6L279.8,346.9L279.2,347.0L278.8,347.2L278.0,347.4L277.5,347.5L276.8,347.6Z" fill="#6a6a6a" fill-opacity="0.10" stroke="none"/>
<path d="M293.2,342.7L292.5,342.8L291.8,342.9L291.0,342.8L290.2,342.7L289.8,342.5L289.2,342.3L288.8,342.1L288.2,341.8L287.8,341.4L287.5,341.1L287.1,340.6L286.8,340.1L286.6,339.6L286.5,339.0L286.5,338.4L286.6,337.9L286.8,337.3L287.0,336.8L287.3,336.4L287.7,335.9L288.0,335.6L288.5,335.3L289.0,335.0L289.5,334.8L290.0,334.6L290.8,334.4L291.2,334.4L292.0,334.4L292.5,334.4L293.2,334.5L293.8,334.7L294.3,334.9L294.8,335.1L295.2,335.4L295.8,335.9L296.0,336.1L296.4,336.6L296.7,337.1L296.8,337.6L297.0,338.4L296.9,339.1L296.8,339.8L296.5,340.4L296.2,340.8L295.9,341.1L295.5,341.6L295.1,341.9L294.7,342.1L294.1,342.4L293.5,342.6Z M276.2,345.2L275.5,345.3L274.8,345.3L274.0,345.3L273.2,345.3L272.6,345.1L272.0,345.0L271.5,344.9L270.9,344.6L270.3,344.4L269.8,344.1L269.4,343.9L269.0,343.6L268.5,343.1L268.2,342.9L267.9,342.4L267.6,341.9L267.3,341.4L267.2,340.9L267.1,340.1L267.1,339.4L267.2,338.8L267.5,338.2L267.8,337.7L268.0,337.3L268.4,336.9L268.8,336.5L269.2,336.1L269.6,335.9L270.0,335.6L270.5,335.4L271.0,335.1L271.8,334.9L272.2,334.8L272.8,334.6L273.5,334.6L274.2,334.5L275.0,334.5L275.8,334.6L276.3,334.6L277.0,334.8L277.5,334.9L278.1,335.1L278.7,335.4L279.1,335.6L279.6,335.9L280.0,336.2L280.5,336.6L280.8,336.9L281.2,337.4L281.5,337.7L281.8,338.1L282.0,338.7L282.2,339.4L282.2,340.1L282.1,340.9L281.9,341.4L281.6,341.9L281.3,342.4L281.0,342.7L280.6,343.1L280.2,343.4L279.8,343.8L279.2,344.1L278.8,344.4L278.2,344.6L277.8,344.8L277.2,345.0L276.5,345.1Z" fill="#6a6a6a" fill-opacity="0.10" stroke="none"/>
<path d="M292.8,342.2L292.0,342.3L291.2,342.3L290.6,342.1L290.0,342.0L289.5,341.8L289.0,341.5L288.5,341.1L288.2,340.9L287.8,340.4L287.6,339.9L287.4,339.4L287.3,338.6L287.3,337.9L287.5,337.4L287.8,336.9L288.2,336.4L288.5,336.1L289.0,335.7L289.5,335.4L290.0,335.2L290.5,335.1L291.2,334.9L292.0,334.9L292.8,335.0L293.3,335.1L294.0,335.4L294.5,335.6L294.8,335.9L295.2,336.3L295.6,336.6L295.9,337.1L296.1,337.6L296.3,338.1L296.3,338.9L296.2,339.4L296.0,339.9L295.7,340.4L295.3,340.9L295.0,341.2L294.5,341.5L294.0,341.8L293.5,342.0L293.0,342.1Z M275.2,341.0L274.5,341.1L273.8,341.0L273.2,340.7L273.0,340.4L273.0,339.6L273.2,339.3L273.8,339.0L274.2,338.8L275.0,338.9L275.5,339.1L275.9,339.4L276.1,339.9L276.0,340.4L275.5,340.9Z" fill="#6a6a6a" fill-opacity="0.10" stroke="none"/>
<path d="M277.2,328.7L276.8,328.6L276.1,328.4L276.5,328.0L277.0,327.8L277.5,327.9L277.5,328.6 M271.8,347.7L271.0,347.7L270.5,347.6L270.0,347.3L269.6,346.9L269.2,346.6L268.6,346.4L268.1,346.1L267.8,345.7L267.5,345.4L267.0,345.1L266.4,344.9L265.9,344.6L265.5,344.4L265.1,343.9L264.8,343.6L264.3,343.1L264.1,342.6L264.0,342.1L263.8,341.4L263.7,340.9L263.9,340.4L264.2,339.9L264.0,339.4L263.5,338.9L263.4,338.4L263.5,337.9L263.8,337.4L264.0,336.6L264.2,336.1L264.5,335.8L264.9,335.4L265.3,335.1L265.8,334.9L266.2,334.4L266.8,334.2L267.2,334.1L267.8,333.9L268.2,333.4L268.8,333.2L269.5,333.2L270.0,333.0L270.5,332.7L270.9,332.4L271.3,332.1L271.8,331.9L272.5,331.8L273.1,331.9L273.6,332.1L274.0,332.6L274.4,332.1L274.2,331.6L273.9,331.1L273.7,330.6L274.0,330.4L274.8,330.3L275.2,330.6L275.2,331.2L275.5,331.6L276.2,331.9L276.8,332.0L277.2,332.4L277.8,332.6L278.2,332.1L278.8,331.9L279.3,332.1L280.0,332.2L280.5,332.1L281.1,332.1L281.6,332.4L282.2,332.6L282.7,332.9L283.0,333.4L283.2,333.9L283.4,334.4L284.0,334.5L284.8,334.4L285.5,334.5L286.0,334.7L286.5,335.0L287.2,334.9L287.8,334.7L288.2,334.4L288.8,334.2L289.2,333.9L289.8,333.8L290.5,333.7L291.2,333.7L291.5,333.6L292.2,333.7L293.0,333.7L293.5,333.6L294.0,333.7L294.5,333.9L295.0,334.1L295.5,334.4L296.0,334.8L296.5,335.0L297.0,335.2L297.2,335.8L297.5,336.4L297.7,336.9L297.8,337.6L297.9,338.1L297.9,338.9L297.8,339.6L297.7,340.1L297.5,340.8L297.2,341.1L296.8,341.6L296.2,341.9L295.8,342.1L295.5,342.4L295.0,342.8L294.5,343.0L293.8,343.1L293.4,343.4L293.0,343.7L292.5,343.9L291.8,344.0L291.3,344.4L291.0,344.7L290.5,344.5L290.2,344.1L289.8,343.7L289.2,343.5L288.8,343.3L288.2,343.1L287.5,343.1L287.0,343.2L286.3,343.4L286.0,343.6L285.5,343.9L284.9,344.1L284.5,344.4L284.0,344.8L283.7,345.1L283.2,345.5L282.8,345.8L282.2,346.0L281.8,346.2L281.2,346.4L280.5,346.6L280.0,346.8L279.5,347.0L279.0,347.3L278.5,347.5L277.8,347.5L277.2,347.4L276.8,347.4L276.0,347.5L275.5,347.4L274.8,347.3L274.0,347.3L273.5,347.5L272.8,347.6L272.0,347.6" fill="none" stroke="rgb(130,130,130)" stroke-width="0.4"/>
<path d="M276.2,346.7L275.5,346.9L274.8,346.7L274.3,346.4L273.8,346.3L273.2,346.5L272.8,346.8L272.0,346.8L271.2,346.8L270.5,346.7L270.0,346.4L269.6,346.1L269.2,345.9L268.8,345.6L268.2,345.2L268.0,344.9L267.6,344.4L267.2,344.1L267.0,343.4L266.8,342.9L266.5,342.6L266.1,342.1L265.7,341.9L265.0,341.7L264.7,341.4L264.7,340.6L265.0,340.2L265.2,339.6L265.0,339.0L264.9,338.4L265.2,337.9L265.4,337.4L265.5,336.9L265.9,336.4L266.2,336.1L266.6,335.6L267.0,335.3L267.8,335.2L268.2,334.9L268.5,334.5L269.0,334.1L269.5,333.9L270.0,333.7L270.4,333.4L270.9,333.1L271.5,332.9L272.0,332.6L272.5,332.5L273.0,332.8L273.2,333.2L273.8,333.4L274.2,333.3L274.8,333.1L275.2,332.8L275.8,332.6L276.4,332.6L276.8,333.1L276.9,333.6L277.2,334.0L278.0,333.9L278.5,333.8L279.0,333.5L279.5,333.2L280.0,333.1L280.8,333.1L281.2,333.4L281.7,333.6L282.0,333.9L282.3,334.4L282.5,335.1L282.8,335.5L283.1,335.9L283.5,336.3L283.9,336.6L284.0,337.1L283.8,337.6L284.0,338.3L284.8,338.2L285.2,338.1L285.6,338.1L285.2,337.7L285.2,337.3L285.6,336.9L286.0,336.4L286.3,336.1L286.8,335.9L287.2,335.5L287.8,335.2L288.2,334.9L288.6,334.6L289.1,334.4L289.8,334.2L290.5,334.2L291.0,334.1L291.8,334.0L292.5,334.1L293.0,334.2L293.8,334.2L294.2,334.4L294.8,334.6L295.2,334.9L295.8,335.4L296.2,335.6L296.6,335.9L297.0,336.4L297.2,336.9L297.3,337.4L297.5,338.1L297.6,338.6L297.5,339.1L297.3,339.9L297.1,340.4L296.8,340.9L296.5,341.2L296.0,341.6L295.7,341.9L295.2,342.3L294.8,342.5L294.2,342.7L293.5,342.9L293.0,343.1L292.5,343.2L291.8,343.2L291.0,343.2L290.4,343.1L289.8,343.1L289.2,342.9L288.8,342.5L288.2,342.2L287.8,342.1L287.0,342.1L286.5,342.2L285.8,342.3L285.2,342.4L284.5,342.4L284.0,342.8L283.8,343.4L283.5,343.9L283.2,344.4L283.0,344.7L282.5,345.1L282.0,345.3L281.5,345.4L280.9,345.6L280.4,345.9L279.8,346.1L279.2,346.2L278.5,346.4L278.0,346.5L277.2,346.5L276.5,346.6 M281.8,337.6L281.7,337.1L281.2,337.1L281.2,337.8L281.8,337.6 M285.5,340.1L285.2,339.8L285.2,340.3" fill="none" stroke="rgb(122,122,122)" stroke-width="0.4"/>
<path d="M275.8,346.2L275.1,346.1L274.8,345.6L274.2,345.6L273.8,345.7L273.0,345.8L272.5,346.0L271.8,346.1L271.0,346.0L270.5,345.9L270.0,345.6L269.7,345.1L269.2,344.7L268.8,344.6L268.3,344.1L268.0,343.8L267.7,343.4L267.4,342.9L267.0,342.4L266.8,341.9L266.6,341.4L266.0,341.2L265.6,340.9L265.8,340.4L266.0,339.7L266.2,339.2L266.6,338.9L266.5,338.4L266.7,337.9L266.9,337.4L267.0,336.9L267.4,336.4L267.8,336.1L268.2,335.7L268.7,335.4L269.0,335.1L269.5,334.7L270.0,334.5L270.5,334.2L271.0,333.9L271.4,333.6L271.9,333.4L272.4,333.4L272.8,333.8L273.2,334.1L274.0,333.9L274.5,333.8L275.2,333.9L275.8,333.9L276.4,334.1L276.9,334.4L277.5,334.6L277.8,334.6L278.5,334.5L279.2,334.4L279.8,334.2L280.2,334.1L280.8,334.1L281.2,334.6L281.4,335.1L281.6,335.6L281.5,336.2L281.0,336.6L280.8,336.9L280.7,337.6L281.0,338.1L281.3,338.4L281.8,338.4L282.2,337.9L282.5,337.6L283.0,337.7L283.1,338.4L283.1,339.1L283.5,339.5L284.2,339.6L284.4,340.1L284.2,340.9L284.0,341.3L283.8,341.7L283.5,342.2L283.2,342.8L283.1,343.4L282.8,343.9L282.4,344.1L281.9,344.4L281.3,344.6L280.8,344.9L280.3,345.1L279.8,345.3L279.0,345.4L278.5,345.5L278.0,345.6L277.3,345.9L277.0,345.9L276.2,345.7L275.8,346.1 M292.5,343.0L291.8,343.0L291.0,343.0L290.5,342.9L289.8,342.8L289.2,342.6L288.8,342.2L288.2,341.9L287.8,341.7L287.3,341.4L287.0,341.1L286.5,340.9L286.2,340.4L286.3,339.9L286.1,339.4L286.2,338.7L286.5,338.2L286.5,337.6L286.5,337.1L286.7,336.6L287.0,336.3L287.4,335.9L287.8,335.6L288.2,335.2L288.7,334.9L289.2,334.6L289.8,334.5L290.5,334.4L291.0,334.3L291.8,334.3L292.5,334.4L293.0,334.4L293.8,334.5L294.2,334.7L294.8,334.9L295.2,335.3L295.7,335.6L296.1,335.9L296.5,336.2L296.8,336.6L297.0,337.2L297.2,337.9L297.3,338.4L297.2,339.0L297.1,339.6L296.9,340.1L296.7,340.6L296.2,341.1L296.0,341.4L295.5,341.8L295.0,342.1L294.5,342.4L294.0,342.6L293.5,342.6L292.8,342.9" fill="none" stroke="rgb(115,115,115)" stroke-width="0.4"/>
<path d="M272.5,345.3L271.8,345.3L271.2,345.1L270.8,344.8L270.4,344.4L270.0,344.0L269.5,343.7L269.0,343.4L268.7,343.1L268.3,342.6L267.9,342.4L267.5,341.9L267.5,341.4L267.3,340.6L267.0,340.1L267.2,339.5L267.5,339.1L267.8,338.6L267.8,337.9L267.9,337.1L268.2,336.8L268.6,336.4L269.0,336.1L269.5,335.7L269.9,335.4L270.4,335.1L270.8,334.9L271.5,334.7L272.2,334.7L273.0,334.7L273.5,334.6L274.2,334.4L275.0,334.6L275.5,334.7L276.2,334.7L276.9,334.9L277.5,335.1L278.0,335.2L278.5,335.1L279.2,335.1L279.8,335.3L280.0,335.8L280.2,336.4L280.2,337.1L280.3,337.6L280.5,338.2L280.9,338.6L281.2,339.0L281.8,339.3L282.2,339.6L282.4,340.1L282.4,340.9L282.5,341.4L282.5,342.1L282.2,342.5L281.8,342.9L281.4,343.1L281.0,343.6L280.8,343.9L280.2,344.4L279.8,344.5L279.0,344.6L278.5,344.7L277.8,344.8L277.0,344.8L276.2,344.9L275.8,344.9L275.0,344.9L274.2,345.1L273.5,345.1L272.8,345.1 M292.8,342.7L292.0,342.8L291.2,342.8L290.5,342.7L290.0,342.6L289.4,342.4L289.0,342.1L288.5,341.8L288.0,341.5L287.5,341.1L287.2,340.9L286.8,340.4L286.7,339.9L286.6,339.1L286.8,338.4L286.9,337.9L286.9,337.1L287.1,336.6L287.5,336.2L287.8,335.9L288.2,335.5L288.8,335.2L289.1,334.9L289.8,334.7L290.5,334.7L291.0,334.6L291.8,334.5L292.5,334.6L293.2,334.6L293.8,334.8L294.2,334.9L294.8,335.2L295.2,335.6L295.6,335.9L296.1,336.1L296.5,336.6L296.8,337.1L296.9,337.6L297.0,338.1L297.1,338.9L296.9,339.4L296.8,340.0L296.5,340.5L296.2,340.9L295.8,341.4L295.4,341.6L295.0,342.0L294.5,342.2L293.8,342.4L293.2,342.5L292.8,342.7" fill="none" stroke="rgb(108,108,108)" stroke-width="0.4"/>
<path d="M293.0,342.4L292.2,342.6L291.5,342.6L290.8,342.6L290.0,342.4L289.5,342.3L289.0,342.0L288.6,341.6L288.2,341.4L287.8,341.0L287.4,340.6L287.1,340.1L286.9,339.6L286.9,338.9L287.0,338.4L287.1,337.6L287.2,337.0L287.5,336.5L287.8,336.1L288.2,335.7L288.7,335.4L289.1,335.1L289.6,334.9L290.2,334.8L291.0,334.8L291.8,334.7L292.5,334.8L293.2,334.8L293.8,335.0L294.2,335.2L294.8,335.4L295.2,335.8L295.7,336.1L296.1,336.4L296.5,336.9L296.7,337.4L296.8,337.9L296.9,338.6L296.8,339.3L296.6,339.9L296.4,340.4L296.0,340.9L295.8,341.2L295.2,341.6L294.8,341.9L294.2,342.1L293.8,342.3L293.1,342.4 M274.2,344.7L273.6,344.6L273.0,344.6L272.5,344.7L271.8,344.7L271.3,344.4L271.0,344.1L270.5,343.7L270.2,343.4L269.8,343.1L269.3,342.6L269.0,342.1L268.8,341.8L268.2,341.4L268.1,340.9L268.2,340.1L268.2,339.4L268.3,338.9L268.4,338.1L268.6,337.6L268.9,337.1L269.2,336.8L269.7,336.4L270.0,336.1L270.5,335.7L271.0,335.4L271.5,335.3L272.2,335.3L273.0,335.2L273.5,335.1L274.2,335.1L274.6,335.4L275.2,335.5L276.0,335.5L276.8,335.5L277.4,335.6L278.0,335.8L278.6,335.9L279.1,336.1L279.5,336.6L279.7,337.1L279.8,337.8L280.0,338.3L280.3,338.6L280.7,339.1L281.0,339.6L281.3,339.9L281.6,340.4L281.8,340.9L281.8,341.5L281.5,341.9L281.0,342.3L280.7,342.6L280.2,343.1L279.9,343.4L279.4,343.6L278.8,343.8L278.2,343.6L277.5,343.4L276.9,343.6L276.5,343.9L276.0,344.2L275.3,344.4L274.8,344.5L274.2,344.7" fill="none" stroke="rgb(100,100,100)" stroke-width="0.4"/>
<path d="M292.2,342.4L291.5,342.5L290.8,342.4L290.2,342.3L289.7,342.1L289.2,341.9L288.8,341.5L288.3,341.1L288.0,340.9L287.5,340.4L287.3,339.9L287.2,339.4L287.2,338.6L287.3,338.1L287.4,337.4L287.5,336.9L287.8,336.4L288.2,336.0L288.7,335.6L289.0,335.4L289.5,335.1L290.2,335.0L291.0,335.0L291.5,334.9L292.0,334.9L292.8,335.0L293.5,335.1L294.0,335.3L294.5,335.5L295.0,335.9L295.3,336.1L295.8,336.4L296.2,336.9L296.4,337.4L296.6,337.9L296.6,338.6L296.5,339.3L296.3,339.9L296.1,340.4L295.8,340.9L295.5,341.2L295.0,341.6L294.5,341.9L294.0,342.0L293.5,342.1L292.8,342.3L292.2,342.4 M273.2,343.9L272.5,344.0L271.8,343.9L271.5,343.6L271.1,343.1L270.9,342.6L270.2,342.5L269.9,342.1L269.6,341.6L269.1,341.4L268.8,341.0L268.8,340.6L269.2,340.1L269.7,339.9L269.5,339.2L269.1,338.9L269.0,338.6L269.2,338.0L269.6,337.6L270.0,337.4L270.5,336.9L270.7,336.4L271.0,336.1L271.8,335.9L272.5,336.0L273.1,336.1L273.5,336.4L274.2,336.4L274.8,336.3L275.4,336.4L276.0,336.6L276.5,336.4L277.2,336.3L277.4,336.9L277.8,337.3L278.3,337.4L278.6,337.9L278.8,338.4L279.2,338.8L279.2,339.3L278.9,339.6L278.9,340.4L279.2,340.7L279.2,341.4L278.8,341.6L278.2,341.8L277.8,342.1L277.5,342.4L277.0,342.9L276.6,343.1L276.0,343.4L275.5,343.5L275.0,343.7L274.2,343.9L273.5,343.9" fill="none" stroke="rgb(93,93,93)" stroke-width="0.4"/>
<path d="M292.5,342.2L291.8,342.3L291.0,342.3L290.4,342.1L289.8,342.0L289.2,341.7L288.9,341.4L288.5,341.1L288.0,340.6L287.8,340.3L287.5,339.7L287.4,339.1L287.4,338.4L287.5,337.9L287.7,337.1L287.9,336.6L288.2,336.2L288.7,335.9L289.0,335.6L289.5,335.3L290.2,335.2L291.0,335.3L291.6,335.1L292.0,335.2L292.8,335.3L293.4,335.4L294.0,335.6L294.5,335.8L295.0,336.1L295.3,336.4L295.8,336.7L296.1,337.1L296.3,337.6L296.4,338.4L296.3,339.1L296.2,339.6L296.0,340.2L295.8,340.7L295.3,341.1L295.0,341.4L294.5,341.7L293.8,341.9L293.2,342.0L292.7,342.1 M275.5,342.9L274.8,343.0L274.2,342.8L273.8,342.5L273.0,342.6L272.2,342.5L271.8,342.1L271.7,341.6L271.5,341.1L271.1,340.6L270.8,340.2L270.6,339.6L270.8,339.1L271.2,338.7L271.6,338.4L272.0,337.9L272.5,337.7L273.2,337.7L273.7,337.4L274.0,337.1L274.8,336.9L275.4,337.1L275.8,337.4L276.4,337.6L276.8,337.9L277.0,338.4L276.8,338.9L276.9,339.1L277.2,339.4L277.6,339.9L277.9,340.4L277.7,340.9L277.2,341.3L277.0,341.9L276.8,342.3L276.3,342.6L275.8,342.9" fill="none" stroke="rgb(86,86,86)" stroke-width="0.4"/>
<path d="M292.8,341.9L292.0,342.1L291.2,342.1L290.5,342.0L290.0,341.9L289.5,341.6L289.0,341.2L288.7,340.9L288.2,340.6L287.9,340.1L287.7,339.6L287.6,338.9L287.6,338.1L287.8,337.6L288.0,336.9L288.2,336.5L288.6,336.1L289.0,335.9L289.5,335.5L290.0,335.4L290.5,335.4L291.2,335.5L292.0,335.4L292.7,335.6L293.2,335.8L294.0,335.9L294.5,336.1L295.0,336.4L295.4,336.6L295.8,337.0L296.0,337.5L296.2,338.1L296.1,338.9L296.0,339.4L295.8,340.1L295.5,340.6L295.2,341.0L294.8,341.4L294.2,341.6L293.8,341.7L293.0,341.9 M275.0,340.8L274.2,340.7L273.8,340.6L273.0,340.5L272.2,340.6L271.8,340.2L271.6,339.6L272.0,339.1L272.3,338.9L273.0,338.7L273.5,338.9L274.0,339.3L274.8,339.2L275.5,339.3L275.6,339.9L275.2,340.4L275.0,340.8 M275.0,342.2L274.8,341.6L275.2,341.3L275.4,341.9L275.0,342.2" fill="none" stroke="rgb(79,79,79)" stroke-width="0.4"/>
<path d="M293.0,341.7L292.2,341.8L291.5,341.9L290.8,341.8L290.1,341.6L289.6,341.4L289.2,341.1L288.8,340.6L288.5,340.4L288.0,339.9L287.9,339.4L287.8,338.6L287.9,337.9L288.0,337.4L288.2,336.9L288.6,336.4L289.0,336.1L289.5,335.8L290.0,335.6L290.5,335.7L291.2,335.7L292.0,335.7L292.5,335.9L293.2,336.1L293.9,336.1L294.5,336.4L295.0,336.6L295.3,336.9L295.7,337.4L295.9,337.9L295.9,338.6L295.8,339.4L295.7,339.9L295.5,340.4L295.1,340.9L294.7,341.1L294.1,341.4L293.5,341.6L293.0,341.7" fill="none" stroke="rgb(71,71,71)" stroke-width="0.4"/>
<path d="M293.2,341.4L292.5,341.4L291.8,341.5L291.0,341.6L290.2,341.5L289.8,341.2L289.4,340.9L289.0,340.5L288.6,340.1L288.2,339.7L288.2,339.1L288.1,338.4L288.2,337.6L288.4,337.1L288.7,336.6L289.0,336.4L289.5,336.1L290.0,335.9L290.5,335.9L291.2,336.0L292.0,336.0L292.5,336.2L293.2,336.4L293.8,336.5L294.4,336.6L294.9,336.9L295.2,337.2L295.5,337.7L295.7,338.4L295.6,339.1L295.5,339.7L295.2,340.3L295.0,340.6L294.5,341.0L294.0,341.2L293.3,341.4" fill="none" stroke="rgb(64,64,64)" stroke-width="0.4"/>
<path d="M292.2,341.2L291.5,341.3L290.8,341.3L290.2,341.1L289.8,340.8L289.3,340.4L289.0,340.1L288.6,339.6L288.6,338.9L288.7,338.1L288.7,337.4L288.9,336.9L289.2,336.5L289.8,336.3L290.5,336.3L291.2,336.2L292.0,336.3L292.5,336.6L293.0,336.7L293.8,336.9L294.2,336.9L294.8,337.1L295.1,337.6L295.3,338.1L295.4,338.9L295.3,339.6L295.1,340.1L294.8,340.5L294.2,340.8L293.8,341.0L293.0,341.1L292.3,341.1" fill="none" stroke="rgb(57,57,57)" stroke-width="0.4"/>
<path d="M291.8,340.9L291.0,341.0L290.5,340.9L290.0,340.5L289.6,340.1L289.2,339.8L289.2,339.2L289.5,338.8L289.7,338.1L290.0,337.7L290.5,337.6L290.8,337.1L291.1,336.6L291.8,336.6L292.0,336.9L292.0,337.6L292.4,337.9L292.6,337.4L293.2,337.2L294.0,337.3L294.5,337.5L294.8,337.9L295.1,338.4L295.1,339.1L295.0,339.6L294.5,340.1L294.1,340.4L293.5,340.6L293.0,340.7L292.2,340.8L291.8,340.9" fill="none" stroke="rgb(50,50,50)" stroke-width="0.4"/>
</g>
<rect x="254.50" y="299.4" width="55" height="52.60" fill="none" stroke="#9a9a9a" stroke-width="0.6"/>
<line x1="284.50" y1="299.40" x2="284.50" y2="352.00" stroke="#555" stroke-width="0.7" />
<line x1="254.50" y1="331.40" x2="309.50" y2="331.40" stroke="#555" stroke-width="0.7" />
<text x="256.10" y="305.70" font-size="4.6" fill="#222" text-anchor="start" font-weight="normal" >1.57</text>
<text x="303.20" y="305.70" font-size="4.6" fill="#222" text-anchor="end" font-weight="normal" >1.06</text>
<text x="256.10" y="347.70" font-size="4.6" fill="#222" text-anchor="start" font-weight="normal" >31.0</text>
<text x="293.80" y="347.70" font-size="4.6" fill="#222" text-anchor="start" font-weight="normal" >66.3</text>
<text x="250.50" y="304.90" font-size="3.9" fill="#444" text-anchor="end">10<tspan font-size="2.34" dy="-1.56">5</tspan></text>
<line x1="252.90" y1="303.60" x2="254.50" y2="303.60" stroke="#444" stroke-width="0.5" />
<text x="250.50" y="317.20" font-size="3.9" fill="#444" text-anchor="end">10<tspan font-size="2.34" dy="-1.56">4</tspan></text>
<line x1="252.90" y1="315.90" x2="254.50" y2="315.90" stroke="#444" stroke-width="0.5" />
<text x="250.50" y="329.60" font-size="3.9" fill="#444" text-anchor="end">10<tspan font-size="2.34" dy="-1.56">3</tspan></text>
<line x1="252.90" y1="328.30" x2="254.50" y2="328.30" stroke="#444" stroke-width="0.5" />
<text x="249.70" y="347.00" font-size="3.9" fill="#444" text-anchor="end" font-weight="normal" >0</text>
<line x1="252.90" y1="345.70" x2="254.50" y2="345.70" stroke="#444" stroke-width="0.5" />
<rect x="253.70" y="344.7" width="1.4" height="2.0" fill="#111"/>
<rect x="264.30" y="351.80" width="3.2" height="1.3" fill="#111"/>
<text x="264.30" y="359.00" font-size="3.9" fill="#444" text-anchor="middle" font-weight="normal" >0</text>
<line x1="264.30" y1="352.00" x2="264.30" y2="353.40" stroke="#444" stroke-width="0.5" />
<text x="277.40" y="359.00" font-size="3.9" fill="#444" text-anchor="middle">10<tspan font-size="2.34" dy="-1.56">3</tspan></text>
<line x1="278.00" y1="352.00" x2="278.00" y2="353.40" stroke="#444" stroke-width="0.5" />
<text x="290.30" y="359.00" font-size="3.9" fill="#444" text-anchor="middle">10<tspan font-size="2.34" dy="-1.56">4</tspan></text>
<line x1="290.90" y1="352.00" x2="290.90" y2="353.40" stroke="#444" stroke-width="0.5" />
<text x="303.20" y="359.00" font-size="3.9" fill="#444" text-anchor="middle">10<tspan font-size="2.34" dy="-1.56">5</tspan></text>
<line x1="303.80" y1="352.00" x2="303.80" y2="353.40" stroke="#444" stroke-width="0.5" />
<text x="32.90" y="368.90" font-size="6.4" fill="#1a1a1a" text-anchor="start" font-weight="bold" textLength="10.2" lengthAdjust="spacingAndGlyphs">IL-13</text>
<line x1="47.00" y1="366.90" x2="303.40" y2="366.90" stroke="#7a7a7a" stroke-width="1.3" />
<polygon points="306.50,366.90 302.90,368.60 302.90,365.20" fill="#7a7a7a"/>
<text x="13.90" y="326.40" font-size="8.2" fill="#1a1a1a" text-anchor="middle" font-weight="bold" textLength="14.8" lengthAdjust="spacingAndGlyphs" transform="rotate(-90 13.90 326.40)">IFN-γ</text>
<text x="160.80" y="380.20" font-size="7.6" fill="#222" text-anchor="start" font-weight="bold" textLength="18.4" lengthAdjust="spacingAndGlyphs">Day 10</text>
<text x="331.90" y="216.20" font-size="11.0" fill="#000" text-anchor="start" font-weight="bold" stroke="#000" stroke-width="0.4">D</text>
<text x="404.90" y="211.50" font-size="5.22" fill="#222" text-anchor="middle" font-weight="normal" >Day-1:</text>
<text x="404.25" y="217.60" font-size="5.22" fill="#222" text-anchor="middle" font-weight="normal" >Collect healthy donor 1 blood</text>
<g transform="translate(387.50,227.00) scale(0.95)" fill="none" stroke="#dcdcdc" stroke-width="0.5" stroke-linejoin="round">
<ellipse cx="0" cy="0.2" rx="2.1" ry="2.5" fill="#f2f2f2" stroke="#cfcfcf"/>
<path d="M-2.2,0.2 C-2.4,-2.2 -0.8,-2.8 0,-2.8 C0.8,-2.8 2.4,-2.2 2.2,0.2 C1.5,-0.8 -1.5,-0.8 -2.2,0.2 Z" fill="#a8a8a8" stroke="none"/>
<path d="M-1.1,2.6 L-1.1,3.8 L-4.8,5.2 Q-6.2,5.8 -6.5,8 L-8.8,17.5 Q-9.3,19.4 -8.2,19.6 L-7.2,18.2 L-5.4,11 L-5.0,19.5 L-4.6,37 L-1.4,37 L-0.5,21.5 L0.5,21.5 L1.4,37 L4.6,37 L5.0,19.5 L5.4,11 L7.2,18.2 L8.2,19.6 Q9.3,19.4 8.8,17.5 L6.5,8 Q6.2,5.8 4.8,5.2 L1.1,3.8 L1.1,2.6"/>
<path d="M-3.2,6.5 L-3.0,12 M3.2,6.5 L3.0,12 M-4.9,19.5 Q0,21 4.9,19.5" stroke="#e6e6e6"/>
</g>
<g transform="translate(406.30,223.20) scale(0.95)">
<path d="M0.5,2.8 C2,0.8 3.5,-0.2 4.6,0.3 L8.6,3.4 L10,4.2 L7.5,4.4 L1.5,4.3 Z" fill="#151515"/>
<path d="M1.5,4.2 L10.5,4.5" stroke="#999" stroke-width="0.5"/>
</g>
<text x="418.90" y="235.50" font-size="5.22" fill="#222" text-anchor="middle" font-weight="normal" >Day 0:</text>
<text x="418.10" y="241.90" font-size="5.22" fill="#222" text-anchor="middle" font-weight="normal" >ILC2 Enrichment</text>
<g transform="translate(404.20,245.30)">
<rect x="0" y="0" width="6.2" height="4.2" rx="1" fill="#d8691f"/>
<rect x="0.5" y="4.2" width="5.2" height="3" fill="#f4efe6"/>
<rect x="0.4" y="7.2" width="5.4" height="8" fill="#cdb03a"/>
<polygon points="0.9,15.8 5.3,15.8 3.1,19.6" fill="#2a1626"/>
</g>
<circle cx="423.60" cy="252.60" r="4.2" fill="#2f5db0" stroke="#1f3f86" stroke-width="0.6"/>
<circle cx="419.30" cy="257.50" r="4.2" fill="#2f5db0" stroke="#1f3f86" stroke-width="0.6"/>
<circle cx="427.90" cy="257.60" r="4.2" fill="#2f5db0" stroke="#1f3f86" stroke-width="0.6"/>
<circle cx="423.90" cy="253.00" r="2.31" fill="none" stroke="#1f3f86" stroke-width="0.35" opacity="0.6"/>
<circle cx="419.60" cy="257.90" r="2.31" fill="none" stroke="#1f3f86" stroke-width="0.35" opacity="0.6"/>
<circle cx="428.20" cy="258.00" r="2.31" fill="none" stroke="#1f3f86" stroke-width="0.35" opacity="0.6"/>
<text x="407.30" y="272.70" font-size="5.22" fill="#222" text-anchor="middle" font-weight="normal" >Day-1:</text>
<text x="407.70" y="278.80" font-size="5.22" fill="#222" text-anchor="middle" font-weight="normal" >Collect healthy donor 2 blood</text>
<g transform="translate(387.80,288.50) scale(0.95)" fill="none" stroke="#dcdcdc" stroke-width="0.5" stroke-linejoin="round">
<ellipse cx="0" cy="0.2" rx="2.1" ry="2.5" fill="#f2f2f2" stroke="#cfcfcf"/>
<path d="M-2.2,0.2 C-2.4,-2.2 -0.8,-2.8 0,-2.8 C0.8,-2.8 2.4,-2.2 2.2,0.2 C1.5,-0.8 -1.5,-0.8 -2.2,0.2 Z" fill="#a8a8a8" stroke="none"/>
<path d="M-1.1,2.6 L-1.1,3.8 L-4.8,5.2 Q-6.2,5.8 -6.5,8 L-8.8,17.5 Q-9.3,19.4 -8.2,19.6 L-7.2,18.2 L-5.4,11 L-5.0,19.5 L-4.6,37 L-1.4,37 L-0.5,21.5 L0.5,21.5 L1.4,37 L4.6,37 L5.0,19.5 L5.4,11 L7.2,18.2 L8.2,19.6 Q9.3,19.4 8.8,17.5 L6.5,8 Q6.2,5.8 4.8,5.2 L1.1,3.8 L1.1,2.6"/>
<path d="M-3.2,6.5 L-3.0,12 M3.2,6.5 L3.0,12 M-4.9,19.5 Q0,21 4.9,19.5" stroke="#e6e6e6"/>
</g>
<g transform="translate(406.30,285.30) scale(0.95)">
<path d="M0.5,2.8 C2,0.8 3.5,-0.2 4.6,0.3 L8.6,3.4 L10,4.2 L7.5,4.4 L1.5,4.3 Z" fill="#151515"/>
<path d="M1.5,4.2 L10.5,4.5" stroke="#999" stroke-width="0.5"/>
</g>
<text x="418.70" y="298.50" font-size="5.22" fill="#222" text-anchor="middle" font-weight="normal" >Day 0:</text>
<text x="418.10" y="304.20" font-size="5.22" fill="#222" text-anchor="middle" font-weight="normal" >ILC2 Enrichment</text>
<g transform="translate(403.20,308.80)">
<rect x="0" y="0" width="6.4" height="4.2" rx="1" fill="#d8691f"/>
<rect x="0.5" y="4.2" width="5.4" height="3" fill="#f4efe6"/>
<rect x="0.4" y="7.2" width="5.6000000000000005" height="8" fill="#cdb03a"/>
<polygon points="0.9,15.8 5.5,15.8 3.2,19.4" fill="#2a1626"/>
</g>
<circle cx="423.60" cy="313.20" r="4.3" fill="#62bd34" stroke="#489a22" stroke-width="0.6"/>
<circle cx="419.30" cy="318.70" r="4.3" fill="#62bd34" stroke="#489a22" stroke-width="0.6"/>
<circle cx="427.90" cy="318.80" r="4.3" fill="#62bd34" stroke="#489a22" stroke-width="0.6"/>
<circle cx="423.90" cy="313.60" r="2.37" fill="none" stroke="#489a22" stroke-width="0.35" opacity="0.6"/>
<circle cx="419.60" cy="319.10" r="2.37" fill="none" stroke="#489a22" stroke-width="0.35" opacity="0.6"/>
<circle cx="428.20" cy="319.20" r="2.37" fill="none" stroke="#489a22" stroke-width="0.35" opacity="0.6"/>
<line x1="415.40" y1="328.80" x2="407.14" y2="335.99" stroke="#222" stroke-width="0.6" />
<polygon points="405.40,337.50 406.72,334.76 408.30,336.57" fill="#222"/>
<line x1="434.60" y1="328.80" x2="443.63" y2="336.24" stroke="#222" stroke-width="0.6" />
<polygon points="445.40,337.70 442.48,336.85 444.00,334.99" fill="#222"/>
<text x="378.45" y="347.30" font-size="5.22" fill="#222" text-anchor="middle" font-weight="normal" >Day 0-21: Ex vivo expansion</text>
<text x="378.40" y="353.90" font-size="5.22" fill="#222" text-anchor="middle" font-weight="normal" >with IL-7, IL-2</text>
<text x="378.10" y="360.10" font-size="5.22" fill="#222" text-anchor="middle" font-weight="normal" >IL-33, IL-25</text>
<line x1="396.60" y1="350.40" x2="396.60" y2="360.80" stroke="#222" stroke-width="0.55" />
<polygon points="396.60,362.90 395.50,360.30 397.70,360.30" fill="#222"/>
<circle cx="375.30" cy="370.50" r="4.2" fill="#62bd34" stroke="#489a22" stroke-width="0.6"/>
<circle cx="382.00" cy="369.20" r="4.2" fill="#62bd34" stroke="#489a22" stroke-width="0.6"/>
<circle cx="389.00" cy="369.50" r="4.2" fill="#62bd34" stroke="#489a22" stroke-width="0.6"/>
<circle cx="394.80" cy="374.60" r="4.2" fill="#62bd34" stroke="#489a22" stroke-width="0.6"/>
<circle cx="378.80" cy="376.80" r="4.2" fill="#62bd34" stroke="#489a22" stroke-width="0.6"/>
<circle cx="386.40" cy="377.40" r="4.2" fill="#62bd34" stroke="#489a22" stroke-width="0.6"/>
<circle cx="392.20" cy="377.80" r="4.2" fill="#62bd34" stroke="#489a22" stroke-width="0.6"/>
<circle cx="382.30" cy="373.20" r="4.2" fill="#62bd34" stroke="#489a22" stroke-width="0.6"/>
<circle cx="375.60" cy="370.90" r="2.31" fill="none" stroke="#489a22" stroke-width="0.35" opacity="0.6"/>
<circle cx="382.30" cy="369.60" r="2.31" fill="none" stroke="#489a22" stroke-width="0.35" opacity="0.6"/>
<circle cx="389.30" cy="369.90" r="2.31" fill="none" stroke="#489a22" stroke-width="0.35" opacity="0.6"/>
<circle cx="395.10" cy="375.00" r="2.31" fill="none" stroke="#489a22" stroke-width="0.35" opacity="0.6"/>
<circle cx="379.10" cy="377.20" r="2.31" fill="none" stroke="#489a22" stroke-width="0.35" opacity="0.6"/>
<circle cx="386.70" cy="377.80" r="2.31" fill="none" stroke="#489a22" stroke-width="0.35" opacity="0.6"/>
<circle cx="392.50" cy="378.20" r="2.31" fill="none" stroke="#489a22" stroke-width="0.35" opacity="0.6"/>
<circle cx="382.60" cy="373.60" r="2.31" fill="none" stroke="#489a22" stroke-width="0.35" opacity="0.6"/>
<text x="383.80" y="389.30" font-size="5.22" fill="#222" text-anchor="middle" font-weight="normal" >ILC2 without IL-4</text>
<text x="455.75" y="347.30" font-size="5.22" fill="#222" text-anchor="middle" font-weight="normal" >Day 0-21: Ex vivo expansion</text>
<text x="455.80" y="353.90" font-size="5.22" fill="#222" text-anchor="middle" font-weight="normal" >with IL-7, IL-2</text>
<text x="455.35" y="360.10" font-size="5.22" fill="#222" text-anchor="middle" font-weight="normal" >IL-33, IL-25, IL-4</text>
<line x1="480.30" y1="350.40" x2="480.30" y2="360.90" stroke="#222" stroke-width="0.55" />
<polygon points="480.30,363.00 479.20,360.40 481.40,360.40" fill="#222"/>
<circle cx="448.30" cy="369.00" r="4.1" fill="#f7b06a" stroke="#ec9a4c" stroke-width="0.6"/>
<circle cx="455.00" cy="367.80" r="4.1" fill="#f7b06a" stroke="#ec9a4c" stroke-width="0.6"/>
<circle cx="462.00" cy="368.40" r="4.1" fill="#f7b06a" stroke="#ec9a4c" stroke-width="0.6"/>
<circle cx="468.30" cy="373.00" r="4.1" fill="#f7b06a" stroke="#ec9a4c" stroke-width="0.6"/>
<circle cx="451.80" cy="375.40" r="4.1" fill="#f7b06a" stroke="#ec9a4c" stroke-width="0.6"/>
<circle cx="459.40" cy="376.00" r="4.1" fill="#f7b06a" stroke="#ec9a4c" stroke-width="0.6"/>
<circle cx="465.20" cy="376.20" r="4.1" fill="#f7b06a" stroke="#ec9a4c" stroke-width="0.6"/>
<circle cx="455.30" cy="372.00" r="4.1" fill="#f7b06a" stroke="#ec9a4c" stroke-width="0.6"/>
<circle cx="448.60" cy="369.40" r="2.25" fill="none" stroke="#ec9a4c" stroke-width="0.35" opacity="0.6"/>
<circle cx="455.30" cy="368.20" r="2.25" fill="none" stroke="#ec9a4c" stroke-width="0.35" opacity="0.6"/>
<circle cx="462.30" cy="368.80" r="2.25" fill="none" stroke="#ec9a4c" stroke-width="0.35" opacity="0.6"/>
<circle cx="468.60" cy="373.40" r="2.25" fill="none" stroke="#ec9a4c" stroke-width="0.35" opacity="0.6"/>
<circle cx="452.10" cy="375.80" r="2.25" fill="none" stroke="#ec9a4c" stroke-width="0.35" opacity="0.6"/>
<circle cx="459.70" cy="376.40" r="2.25" fill="none" stroke="#ec9a4c" stroke-width="0.35" opacity="0.6"/>
<circle cx="465.50" cy="376.60" r="2.25" fill="none" stroke="#ec9a4c" stroke-width="0.35" opacity="0.6"/>
<circle cx="455.60" cy="372.40" r="2.25" fill="none" stroke="#ec9a4c" stroke-width="0.35" opacity="0.6"/>
<text x="458.80" y="389.30" font-size="5.22" fill="#222" text-anchor="middle" font-weight="normal" >ILC2 with IL-4</text>
<text x="8.30" y="413.90" font-size="11.2" fill="#000" text-anchor="start" font-weight="bold" stroke="#000" stroke-width="0.4">E</text>
<text x="82.30" y="419.60" font-size="5.1" fill="#222" text-anchor="middle" font-weight="normal" >Conditioned NSG</text>
<circle cx="26.60" cy="449.30" r="3.25" fill="#3563b4" stroke="#1f3f86" stroke-width="0.6"/>
<circle cx="23.00" cy="454.20" r="3.25" fill="#3563b4" stroke="#1f3f86" stroke-width="0.6"/>
<circle cx="30.20" cy="454.20" r="3.25" fill="#3563b4" stroke="#1f3f86" stroke-width="0.6"/>
<circle cx="26.90" cy="449.70" r="1.79" fill="none" stroke="#1f3f86" stroke-width="0.35" opacity="0.6"/>
<circle cx="23.30" cy="454.60" r="1.79" fill="none" stroke="#1f3f86" stroke-width="0.35" opacity="0.6"/>
<circle cx="30.50" cy="454.60" r="1.79" fill="none" stroke="#1f3f86" stroke-width="0.35" opacity="0.6"/>
<text x="26.70" y="464.40" font-size="4.9" fill="#222" text-anchor="middle" font-weight="normal" >PBMC</text>
<circle cx="19.80" cy="484.20" r="3.9" fill="#62bd34" stroke="#489a22" stroke-width="0.6"/>
<circle cx="25.80" cy="482.80" r="3.9" fill="#62bd34" stroke="#489a22" stroke-width="0.6"/>
<circle cx="31.80" cy="483.50" r="3.9" fill="#62bd34" stroke="#489a22" stroke-width="0.6"/>
<circle cx="36.00" cy="487.80" r="3.9" fill="#62bd34" stroke="#489a22" stroke-width="0.6"/>
<circle cx="22.60" cy="489.60" r="3.9" fill="#62bd34" stroke="#489a22" stroke-width="0.6"/>
<circle cx="29.20" cy="490.20" r="3.9" fill="#62bd34" stroke="#489a22" stroke-width="0.6"/>
<circle cx="34.20" cy="490.40" r="3.9" fill="#62bd34" stroke="#489a22" stroke-width="0.6"/>
<circle cx="26.90" cy="486.60" r="3.9" fill="#62bd34" stroke="#489a22" stroke-width="0.6"/>
<circle cx="20.10" cy="484.60" r="2.15" fill="none" stroke="#489a22" stroke-width="0.35" opacity="0.6"/>
<circle cx="26.10" cy="483.20" r="2.15" fill="none" stroke="#489a22" stroke-width="0.35" opacity="0.6"/>
<circle cx="32.10" cy="483.90" r="2.15" fill="none" stroke="#489a22" stroke-width="0.35" opacity="0.6"/>
<circle cx="36.30" cy="488.20" r="2.15" fill="none" stroke="#489a22" stroke-width="0.35" opacity="0.6"/>
<circle cx="22.90" cy="490.00" r="2.15" fill="none" stroke="#489a22" stroke-width="0.35" opacity="0.6"/>
<circle cx="29.50" cy="490.60" r="2.15" fill="none" stroke="#489a22" stroke-width="0.35" opacity="0.6"/>
<circle cx="34.50" cy="490.80" r="2.15" fill="none" stroke="#489a22" stroke-width="0.35" opacity="0.6"/>
<circle cx="27.20" cy="487.00" r="2.15" fill="none" stroke="#489a22" stroke-width="0.35" opacity="0.6"/>
<text x="26.20" y="500.90" font-size="5.22" fill="#222" text-anchor="middle" font-weight="normal" >ILC2 without IL-4</text>
<circle cx="19.80" cy="520.20" r="3.9" fill="#f7b06a" stroke="#ec9a4c" stroke-width="0.6"/>
<circle cx="25.80" cy="518.80" r="3.9" fill="#f7b06a" stroke="#ec9a4c" stroke-width="0.6"/>
<circle cx="31.80" cy="519.50" r="3.9" fill="#f7b06a" stroke="#ec9a4c" stroke-width="0.6"/>
<circle cx="36.00" cy="523.80" r="3.9" fill="#f7b06a" stroke="#ec9a4c" stroke-width="0.6"/>
<circle cx="22.60" cy="525.60" r="3.9" fill="#f7b06a" stroke="#ec9a4c" stroke-width="0.6"/>
<circle cx="29.20" cy="526.20" r="3.9" fill="#f7b06a" stroke="#ec9a4c" stroke-width="0.6"/>
<circle cx="34.20" cy="526.40" r="3.9" fill="#f7b06a" stroke="#ec9a4c" stroke-width="0.6"/>
<circle cx="26.90" cy="522.60" r="3.9" fill="#f7b06a" stroke="#ec9a4c" stroke-width="0.6"/>
<circle cx="20.10" cy="520.60" r="2.15" fill="none" stroke="#ec9a4c" stroke-width="0.35" opacity="0.6"/>
<circle cx="26.10" cy="519.20" r="2.15" fill="none" stroke="#ec9a4c" stroke-width="0.35" opacity="0.6"/>
<circle cx="32.10" cy="519.90" r="2.15" fill="none" stroke="#ec9a4c" stroke-width="0.35" opacity="0.6"/>
<circle cx="36.30" cy="524.20" r="2.15" fill="none" stroke="#ec9a4c" stroke-width="0.35" opacity="0.6"/>
<circle cx="22.90" cy="526.00" r="2.15" fill="none" stroke="#ec9a4c" stroke-width="0.35" opacity="0.6"/>
<circle cx="29.50" cy="526.60" r="2.15" fill="none" stroke="#ec9a4c" stroke-width="0.35" opacity="0.6"/>
<circle cx="34.50" cy="526.80" r="2.15" fill="none" stroke="#ec9a4c" stroke-width="0.35" opacity="0.6"/>
<circle cx="27.20" cy="523.00" r="2.15" fill="none" stroke="#ec9a4c" stroke-width="0.35" opacity="0.6"/>
<text x="26.20" y="535.90" font-size="5.22" fill="#222" text-anchor="middle" font-weight="normal" >ILC2 with IL-4</text>
<line x1="37.90" y1="448.80" x2="69.20" y2="448.80" stroke="#222" stroke-width="0.7" />
<polygon points="71.90,448.80 68.70,450.20 68.70,447.40" fill="#222"/>
<line x1="37.90" y1="452.30" x2="70.04" y2="485.95" stroke="#222" stroke-width="0.7" />
<polygon points="71.90,487.90 68.68,486.55 70.70,484.62" fill="#222"/>
<line x1="37.90" y1="457.50" x2="72.12" y2="514.98" stroke="#222" stroke-width="0.7" />
<polygon points="73.50,517.30 70.66,515.27 73.07,513.83" fill="#222"/>
<line x1="45.60" y1="492.00" x2="68.80" y2="492.00" stroke="#222" stroke-width="0.7" />
<polygon points="71.50,492.00 68.30,493.40 68.30,490.60" fill="#222"/>
<line x1="45.60" y1="524.80" x2="68.80" y2="524.80" stroke="#222" stroke-width="0.7" />
<polygon points="71.50,524.80 68.30,526.20 68.30,523.40" fill="#222"/>
<g transform="translate(76.60,424.40) rotate(48) scale(0.82)">
<rect x="-0.3" y="-1.6" width="1.3" height="3.2" fill="#222"/>
<rect x="1" y="-0.5" width="2.2" height="1" fill="#333"/>
<rect x="3.2" y="-2.3" width="0.9" height="4.6" fill="#222"/>
<path d="M4.1,-1.35 L11.6,-1.1 L12.8,0 L11.6,1.1 L4.1,1.35 Z" fill="#5f8a82" stroke="#222" stroke-width="0.65"/>
<path d="M5.6,-1.2 V1.2 M7.4,-1.2 V1.2 M9.2,-1.1 V1.1" stroke="#333" stroke-width="0.5"/>
<line x1="12.8" y1="0" x2="15.2" y2="0" stroke="#333" stroke-width="0.45"/>
</g>
<g transform="translate(88.50,439.00) scale(0.84)">
<path d="M0,1.5 C-0.6,-2.6 -4,-4.2 -8,-3.8 C-12,-3.3 -14,-1 -16,1 C-17.2,2.2 -18.6,3.2 -20.2,3.0" fill="none" stroke="#333" stroke-width="1.35" stroke-linecap="round"/>
<path d="M-2.5,24.5 L-7.5,23.2 M-2.5,25.5 L-7.8,26.2 M-2.4,26.4 L-6.5,28.3 M2.5,24.5 L7.5,23.2 M2.5,25.5 L7.8,26.2 M2.4,26.4 L6.5,28.3" stroke="#bdbdbd" stroke-width="0.45"/>
<path d="M0,0 C5.2,0 8.1,4.5 8.1,10.5 C8.1,13 7.6,14.5 7.3,15.5 C8.2,16.5 8.3,18.8 7.2,19.6 C5.6,20.4 4.6,21.3 3.8,23.2 C2.8,25.6 1.4,27 0,27 C-1.4,27 -2.8,25.6 -3.8,23.2 C-4.6,21.3 -5.6,20.4 -7.2,19.6 C-8.3,18.8 -8.2,16.5 -7.3,15.5 C-7.6,14.5 -8.1,13 -8.1,10.5 C-8.1,4.5 -5.2,0 0,0 Z" fill="#838080" stroke="#3a3a3a" stroke-width="0.75"/>
<path d="M-7.9,16.2 C-6.8,14.2 -3.6,13.9 -1.6,15.6 C-2.6,17.6 -4.8,19.3 -7.2,19.6 C-8.3,18.6 -8.4,17.2 -7.9,16.2 Z" fill="#8c8888" stroke="#2e2e2e" stroke-width="0.8"/>
<path d="M7.9,16.2 C6.8,14.2 3.6,13.9 1.6,15.6 C2.6,17.6 4.8,19.3 7.2,19.6 C8.3,18.6 8.4,17.2 7.9,16.2 Z" fill="#8c8888" stroke="#2e2e2e" stroke-width="0.8"/>
<ellipse cx="-2.6" cy="21.4" rx="0.9" ry="0.7" fill="#1b1b1b"/>
<ellipse cx="2.6" cy="21.4" rx="0.9" ry="0.7" fill="#1b1b1b"/>
<path d="M-1.3,25.6 L1.3,25.6 L0,27.2 Z" fill="#1b1b1b"/>
</g>
<g transform="translate(76.60,465.40) rotate(48) scale(0.82)">
<rect x="-0.3" y="-1.6" width="1.3" height="3.2" fill="#222"/>
<rect x="1" y="-0.5" width="2.2" height="1" fill="#333"/>
<rect x="3.2" y="-2.3" width="0.9" height="4.6" fill="#222"/>
<path d="M4.1,-1.35 L11.6,-1.1 L12.8,0 L11.6,1.1 L4.1,1.35 Z" fill="#5f8a82" stroke="#222" stroke-width="0.65"/>
<path d="M5.6,-1.2 V1.2 M7.4,-1.2 V1.2 M9.2,-1.1 V1.1" stroke="#333" stroke-width="0.5"/>
<line x1="12.8" y1="0" x2="15.2" y2="0" stroke="#333" stroke-width="0.45"/>
</g>
<g transform="translate(88.80,478.50) scale(0.84)">
<path d="M0,1.5 C-0.6,-2.6 -4,-4.2 -8,-3.8 C-12,-3.3 -14,-1 -16,1 C-17.2,2.2 -18.6,3.2 -20.2,3.0" fill="none" stroke="#333" stroke-width="1.35" stroke-linecap="round"/>
<path d="M-2.5,24.5 L-7.5,23.2 M-2.5,25.5 L-7.8,26.2 M-2.4,26.4 L-6.5,28.3 M2.5,24.5 L7.5,23.2 M2.5,25.5 L7.8,26.2 M2.4,26.4 L6.5,28.3" stroke="#bdbdbd" stroke-width="0.45"/>
<path d="M0,0 C5.2,0 8.1,4.5 8.1,10.5 C8.1,13 7.6,14.5 7.3,15.5 C8.2,16.5 8.3,18.8 7.2,19.6 C5.6,20.4 4.6,21.3 3.8,23.2 C2.8,25.6 1.4,27 0,27 C-1.4,27 -2.8,25.6 -3.8,23.2 C-4.6,21.3 -5.6,20.4 -7.2,19.6 C-8.3,18.8 -8.2,16.5 -7.3,15.5 C-7.6,14.5 -8.1,13 -8.1,10.5 C-8.1,4.5 -5.2,0 0,0 Z" fill="#838080" stroke="#3a3a3a" stroke-width="0.75"/>
<path d="M-7.9,16.2 C-6.8,14.2 -3.6,13.9 -1.6,15.6 C-2.6,17.6 -4.8,19.3 -7.2,19.6 C-8.3,18.6 -8.4,17.2 -7.9,16.2 Z" fill="#8c8888" stroke="#2e2e2e" stroke-width="0.8"/>
<path d="M7.9,16.2 C6.8,14.2 3.6,13.9 1.6,15.6 C2.6,17.6 4.8,19.3 7.2,19.6 C8.3,18.6 8.4,17.2 7.9,16.2 Z" fill="#8c8888" stroke="#2e2e2e" stroke-width="0.8"/>
<ellipse cx="-2.6" cy="21.4" rx="0.9" ry="0.7" fill="#1b1b1b"/>
<ellipse cx="2.6" cy="21.4" rx="0.9" ry="0.7" fill="#1b1b1b"/>
<path d="M-1.3,25.6 L1.3,25.6 L0,27.2 Z" fill="#1b1b1b"/>
</g>
<g transform="translate(80.60,506.20) rotate(48) scale(0.82)">
<rect x="-0.3" y="-1.6" width="1.3" height="3.2" fill="#222"/>
<rect x="1" y="-0.5" width="2.2" height="1" fill="#333"/>
<rect x="3.2" y="-2.3" width="0.9" height="4.6" fill="#222"/>
<path d="M4.1,-1.35 L11.6,-1.1 L12.8,0 L11.6,1.1 L4.1,1.35 Z" fill="#5f8a82" stroke="#222" stroke-width="0.65"/>
<path d="M5.6,-1.2 V1.2 M7.4,-1.2 V1.2 M9.2,-1.1 V1.1" stroke="#333" stroke-width="0.5"/>
<line x1="12.8" y1="0" x2="15.2" y2="0" stroke="#333" stroke-width="0.45"/>
</g>
<g transform="translate(92.00,519.20) scale(0.88)">
<path d="M0,1.5 C-0.6,-2.6 -4,-4.2 -8,-3.8 C-12,-3.3 -14,-1 -16,1 C-17.2,2.2 -18.6,3.2 -20.2,3.0" fill="none" stroke="#333" stroke-width="1.35" stroke-linecap="round"/>
<path d="M-2.5,24.5 L-7.5,23.2 M-2.5,25.5 L-7.8,26.2 M-2.4,26.4 L-6.5,28.3 M2.5,24.5 L7.5,23.2 M2.5,25.5 L7.8,26.2 M2.4,26.4 L6.5,28.3" stroke="#bdbdbd" stroke-width="0.45"/>
<path d="M0,0 C5.2,0 8.1,4.5 8.1,10.5 C8.1,13 7.6,14.5 7.3,15.5 C8.2,16.5 8.3,18.8 7.2,19.6 C5.6,20.4 4.6,21.3 3.8,23.2 C2.8,25.6 1.4,27 0,27 C-1.4,27 -2.8,25.6 -3.8,23.2 C-4.6,21.3 -5.6,20.4 -7.2,19.6 C-8.3,18.8 -8.2,16.5 -7.3,15.5 C-7.6,14.5 -8.1,13 -8.1,10.5 C-8.1,4.5 -5.2,0 0,0 Z" fill="#838080" stroke="#3a3a3a" stroke-width="0.75"/>
<path d="M-7.9,16.2 C-6.8,14.2 -3.6,13.9 -1.6,15.6 C-2.6,17.6 -4.8,19.3 -7.2,19.6 C-8.3,18.6 -8.4,17.2 -7.9,16.2 Z" fill="#8c8888" stroke="#2e2e2e" stroke-width="0.8"/>
<path d="M7.9,16.2 C6.8,14.2 3.6,13.9 1.6,15.6 C2.6,17.6 4.8,19.3 7.2,19.6 C8.3,18.6 8.4,17.2 7.9,16.2 Z" fill="#8c8888" stroke="#2e2e2e" stroke-width="0.8"/>
<ellipse cx="-2.6" cy="21.4" rx="0.9" ry="0.7" fill="#1b1b1b"/>
<ellipse cx="2.6" cy="21.4" rx="0.9" ry="0.7" fill="#1b1b1b"/>
<path d="M-1.3,25.6 L1.3,25.6 L0,27.2 Z" fill="#1b1b1b"/>
</g>
<text x="100.80" y="451.50" font-size="6.5" fill="#3d6499">Donor 1 8.5×10<tspan font-size="4.03" dy="-2.47">6</tspan><tspan dy="2.47"> PBMC</tspan></text>
<text x="100.80" y="488.50" font-size="6.5" fill="#3d6499">Donor 1 8.5×10<tspan font-size="4.03" dy="-2.47">6</tspan><tspan dy="2.47"> PBMC</tspan></text>
<text x="100.80" y="496.60" font-size="6.5" fill="#58b656">w/ donor 2 10.0×10<tspan font-size="4.03" dy="-2.47">6</tspan><tspan dy="2.47"> HuILC2 w/o IL-4</tspan></text>
<text x="100.80" y="524.30" font-size="6.5" fill="#3d6499">Donor 1 8.5×10<tspan font-size="4.03" dy="-2.47">6</tspan><tspan dy="2.47"> PBMC</tspan></text>
<text x="100.80" y="532.40" font-size="6.5" fill="#f2a03a">w/ donor 2 10.0×10<tspan font-size="4.03" dy="-2.47">6</tspan><tspan dy="2.47"> HuILC2 w/ IL-4</tspan></text>
<text x="221.00" y="413.70" font-size="11.2" fill="#000" text-anchor="start" font-weight="bold" stroke="#000" stroke-width="0.4">F</text>
<line x1="249.90" y1="422.30" x2="249.90" y2="523.70" stroke="#2b2b2b" stroke-width="1.1" />
<line x1="247.70" y1="521.50" x2="382.34" y2="521.50" stroke="#2b2b2b" stroke-width="1.1" />
<line x1="247.70" y1="422.90" x2="249.90" y2="422.90" stroke="#2b2b2b" stroke-width="0.9" />
<line x1="247.70" y1="472.20" x2="249.90" y2="472.20" stroke="#2b2b2b" stroke-width="0.9" />
<line x1="247.70" y1="521.50" x2="249.90" y2="521.50" stroke="#2b2b2b" stroke-width="0.9" />
<line x1="249.90" y1="521.50" x2="249.90" y2="523.70" stroke="#2b2b2b" stroke-width="0.9" />
<line x1="282.40" y1="521.50" x2="282.40" y2="523.70" stroke="#2b2b2b" stroke-width="0.9" />
<line x1="314.90" y1="521.50" x2="314.90" y2="523.70" stroke="#2b2b2b" stroke-width="0.9" />
<line x1="347.40" y1="521.50" x2="347.40" y2="523.70" stroke="#2b2b2b" stroke-width="0.9" />
<line x1="379.90" y1="521.50" x2="379.90" y2="523.70" stroke="#2b2b2b" stroke-width="0.9" />
<line x1="249.90" y1="422.90" x2="347.40" y2="422.90" stroke="#4f3080" stroke-width="0.85" />
<polygon points="345.60,421.55 349.20,421.55 347.40,424.61" fill="#4f3080"/>
<path d="M249.90,422.90 L267.77,422.90 L267.77,435.22 L282.40,435.22 L282.40,447.55 L288.90,447.55 L288.90,459.88 L295.40,459.88 L295.40,472.20 L347.40,472.20" fill="none" stroke="#f39a22" stroke-width="0.85"/>
<circle cx="267.77" cy="435.22" r="1.8" fill="#f39a22"/>
<circle cx="282.40" cy="447.55" r="1.8" fill="#f39a22"/>
<circle cx="288.90" cy="459.88" r="1.8" fill="#f39a22"/>
<circle cx="295.40" cy="472.20" r="1.8" fill="#f39a22"/>
<circle cx="347.40" cy="472.20" r="1.8" fill="#f39a22"/>
<path d="M249.90,422.90 L277.52,422.90 L277.52,447.55 L282.40,447.55 L282.40,472.20 L285.65,472.20 L285.65,496.85 L347.40,496.85" fill="none" stroke="#1e4a87" stroke-width="0.85"/>
<circle cx="277.52" cy="447.55" r="1.8" fill="#1e4a87"/>
<circle cx="282.40" cy="472.20" r="1.8" fill="#1e4a87"/>
<circle cx="285.65" cy="496.85" r="1.8" fill="#1e4a87"/>
<circle cx="347.40" cy="496.85" r="1.8" fill="#1e4a87"/>
<path d="M249.90,422.90 L282.40,422.90 L282.40,435.22 L285.65,435.22 L285.65,447.55 L287.27,447.55 L287.27,472.20 L288.90,472.20 L288.90,496.85 L305.15,496.85 L305.15,509.18 L347.40,509.18" fill="none" stroke="#52b454" stroke-width="0.85"/>
<circle cx="282.40" cy="435.22" r="1.8" fill="#52b454"/>
<circle cx="285.65" cy="447.55" r="1.8" fill="#52b454"/>
<circle cx="287.27" cy="472.20" r="1.8" fill="#52b454"/>
<circle cx="288.90" cy="496.85" r="1.8" fill="#52b454"/>
<circle cx="305.15" cy="509.18" r="1.8" fill="#52b454"/>
<circle cx="347.40" cy="509.18" r="1.8" fill="#52b454"/>
<text x="244.20" y="425.15" font-size="6.3" fill="#222" text-anchor="end" font-weight="normal" >100</text>
<text x="244.20" y="474.45" font-size="6.3" fill="#222" text-anchor="end" font-weight="normal" >50</text>
<text x="244.20" y="523.75" font-size="6.3" fill="#222" text-anchor="end" font-weight="normal" >0</text>
<text x="249.90" y="532.80" font-size="6.3" fill="#222" text-anchor="middle" font-weight="normal" >0</text>
<text x="282.40" y="532.80" font-size="6.3" fill="#222" text-anchor="middle" font-weight="normal" >20</text>
<text x="314.90" y="532.80" font-size="6.3" fill="#222" text-anchor="middle" font-weight="normal" >40</text>
<text x="347.40" y="532.80" font-size="6.3" fill="#222" text-anchor="middle" font-weight="normal" >60</text>
<text x="379.90" y="532.80" font-size="6.3" fill="#222" text-anchor="middle" font-weight="normal" >80</text>
<text x="296.90" y="545.00" font-size="7.7" fill="#2a2a2a" text-anchor="start" font-weight="bold" textLength="38.3" lengthAdjust="spacingAndGlyphs">Days post-BMT</text>
<text x="227.30" y="470.80" font-size="7.7" fill="#2a2a2a" text-anchor="middle" font-weight="bold" textLength="54.2" lengthAdjust="spacingAndGlyphs" transform="rotate(-90 227.30 470.80)">Probability of survival</text>
<line x1="250.40" y1="553.80" x2="260.40" y2="553.80" stroke="#4f3080" stroke-width="0.8" />
<polygon points="253.90,552.60 257.10,552.60 255.50,555.32" fill="#4f3080"/>
<text x="263.80" y="556.00" font-size="6.3" fill="#222" text-anchor="start" font-weight="normal" >NSG ctrl</text>
<line x1="250.40" y1="563.80" x2="260.40" y2="563.80" stroke="#1e4a87" stroke-width="0.8" />
<circle cx="255.5" cy="563.80" r="1.6" fill="#1e4a87"/>
<text x="263.80" y="566.00" font-size="6.3" fill="#222" text-anchor="start" font-weight="normal" >PBMC</text>
<line x1="250.40" y1="573.80" x2="260.40" y2="573.80" stroke="#52b454" stroke-width="0.8" />
<circle cx="255.5" cy="573.80" r="1.6" fill="#52b454"/>
<text x="263.80" y="576.00" font-size="6.3" fill="#222" text-anchor="start" font-weight="normal" >PBMC + huILC2 (w/o IL-4)</text>
<line x1="250.40" y1="583.80" x2="260.40" y2="583.80" stroke="#f39a22" stroke-width="0.8" />
<circle cx="255.5" cy="583.80" r="1.6" fill="#f39a22"/>
<text x="263.80" y="586.00" font-size="6.3" fill="#222" text-anchor="start" font-weight="normal" >PBMC + huILC2 (with IL-4)</text>
<text x="398.90" y="414.20" font-size="11.0" fill="#000" text-anchor="start" font-weight="bold" stroke="#000" stroke-width="0.4">G</text>
<line x1="420.00" y1="423.80" x2="420.00" y2="523.60" stroke="#2b2b2b" stroke-width="1.1" />
<line x1="417.80" y1="521.40" x2="498.11" y2="521.40" stroke="#2b2b2b" stroke-width="1.1" />
<line x1="417.80" y1="521.40" x2="420.00" y2="521.40" stroke="#2b2b2b" stroke-width="0.9" />
<text x="413.90" y="523.65" font-size="6.3" fill="#222" text-anchor="end" font-weight="normal" >0</text>
<line x1="417.80" y1="490.10" x2="420.00" y2="490.10" stroke="#2b2b2b" stroke-width="0.9" />
<text x="413.90" y="492.35" font-size="6.3" fill="#222" text-anchor="end" font-weight="normal" >2</text>
<line x1="417.80" y1="458.80" x2="420.00" y2="458.80" stroke="#2b2b2b" stroke-width="0.9" />
<text x="413.90" y="461.05" font-size="6.3" fill="#222" text-anchor="end" font-weight="normal" >4</text>
<line x1="417.80" y1="427.50" x2="420.00" y2="427.50" stroke="#2b2b2b" stroke-width="0.9" />
<text x="413.90" y="429.75" font-size="6.3" fill="#222" text-anchor="end" font-weight="normal" >6</text>
<line x1="420.00" y1="521.40" x2="420.00" y2="523.60" stroke="#2b2b2b" stroke-width="0.9" />
<text x="420.00" y="533.50" font-size="6.3" fill="#222" text-anchor="middle" font-weight="normal" >0</text>
<line x1="445.40" y1="521.40" x2="445.40" y2="523.60" stroke="#2b2b2b" stroke-width="0.9" />
<text x="445.40" y="533.50" font-size="6.3" fill="#222" text-anchor="middle" font-weight="normal" >20</text>
<line x1="470.80" y1="521.40" x2="470.80" y2="523.60" stroke="#2b2b2b" stroke-width="0.9" />
<text x="470.80" y="533.50" font-size="6.3" fill="#222" text-anchor="middle" font-weight="normal" >40</text>
<line x1="496.20" y1="521.40" x2="496.20" y2="523.60" stroke="#2b2b2b" stroke-width="0.9" />
<text x="496.20" y="533.50" font-size="6.3" fill="#222" text-anchor="middle" font-weight="normal" >60</text>
<text x="440.20" y="545.30" font-size="7.7" fill="#2a2a2a" text-anchor="start" font-weight="bold" textLength="38.1" lengthAdjust="spacingAndGlyphs">Days post-BMT</text>
<text x="405.50" y="472.50" font-size="8.0" fill="#2a2a2a" text-anchor="middle" font-weight="bold" textLength="33.7" lengthAdjust="spacingAndGlyphs" transform="rotate(-90 405.50 472.50)">Clinical score</text>
<line x1="432.70" y1="510.44" x2="432.70" y2="504.19" stroke="#f5b560" stroke-width="0.5" />
<line x1="431.50" y1="504.19" x2="433.90" y2="504.19" stroke="#f5b560" stroke-width="0.5" />
<line x1="432.70" y1="510.44" x2="432.70" y2="516.71" stroke="#f5b560" stroke-width="0.5" />
<line x1="431.50" y1="516.71" x2="433.90" y2="516.71" stroke="#f5b560" stroke-width="0.5" />
<line x1="437.78" y1="499.49" x2="437.78" y2="493.23" stroke="#f5b560" stroke-width="0.5" />
<line x1="436.58" y1="493.23" x2="438.98" y2="493.23" stroke="#f5b560" stroke-width="0.5" />
<line x1="437.78" y1="499.49" x2="437.78" y2="505.75" stroke="#f5b560" stroke-width="0.5" />
<line x1="436.58" y1="505.75" x2="438.98" y2="505.75" stroke="#f5b560" stroke-width="0.5" />
<line x1="441.59" y1="480.71" x2="441.59" y2="468.19" stroke="#f5b560" stroke-width="0.5" />
<line x1="440.39" y1="468.19" x2="442.79" y2="468.19" stroke="#f5b560" stroke-width="0.5" />
<line x1="441.59" y1="480.71" x2="441.59" y2="493.23" stroke="#f5b560" stroke-width="0.5" />
<line x1="440.39" y1="493.23" x2="442.79" y2="493.23" stroke="#f5b560" stroke-width="0.5" />
<line x1="446.67" y1="482.27" x2="446.67" y2="469.75" stroke="#f5b560" stroke-width="0.5" />
<line x1="445.47" y1="469.75" x2="447.87" y2="469.75" stroke="#f5b560" stroke-width="0.5" />
<line x1="446.67" y1="482.27" x2="446.67" y2="494.79" stroke="#f5b560" stroke-width="0.5" />
<line x1="445.47" y1="494.79" x2="447.87" y2="494.79" stroke="#f5b560" stroke-width="0.5" />
<line x1="450.48" y1="480.71" x2="450.48" y2="468.19" stroke="#f5b560" stroke-width="0.5" />
<line x1="449.28" y1="468.19" x2="451.68" y2="468.19" stroke="#f5b560" stroke-width="0.5" />
<line x1="450.48" y1="480.71" x2="450.48" y2="493.23" stroke="#f5b560" stroke-width="0.5" />
<line x1="449.28" y1="493.23" x2="451.68" y2="493.23" stroke="#f5b560" stroke-width="0.5" />
<line x1="455.56" y1="465.06" x2="455.56" y2="452.54" stroke="#f5b560" stroke-width="0.5" />
<line x1="454.36" y1="452.54" x2="456.76" y2="452.54" stroke="#f5b560" stroke-width="0.5" />
<line x1="455.56" y1="465.06" x2="455.56" y2="477.58" stroke="#f5b560" stroke-width="0.5" />
<line x1="454.36" y1="477.58" x2="456.76" y2="477.58" stroke="#f5b560" stroke-width="0.5" />
<line x1="459.37" y1="462.71" x2="459.37" y2="450.19" stroke="#f5b560" stroke-width="0.5" />
<line x1="458.17" y1="450.19" x2="460.57" y2="450.19" stroke="#f5b560" stroke-width="0.5" />
<line x1="459.37" y1="462.71" x2="459.37" y2="475.23" stroke="#f5b560" stroke-width="0.5" />
<line x1="458.17" y1="475.23" x2="460.57" y2="475.23" stroke="#f5b560" stroke-width="0.5" />
<line x1="464.45" y1="454.89" x2="464.45" y2="445.50" stroke="#f5b560" stroke-width="0.5" />
<line x1="463.25" y1="445.50" x2="465.65" y2="445.50" stroke="#f5b560" stroke-width="0.5" />
<line x1="464.45" y1="454.89" x2="464.45" y2="464.28" stroke="#f5b560" stroke-width="0.5" />
<line x1="463.25" y1="464.28" x2="465.65" y2="464.28" stroke="#f5b560" stroke-width="0.5" />
<line x1="468.26" y1="462.71" x2="468.26" y2="450.19" stroke="#f5b560" stroke-width="0.5" />
<line x1="467.06" y1="450.19" x2="469.46" y2="450.19" stroke="#f5b560" stroke-width="0.5" />
<line x1="468.26" y1="462.71" x2="468.26" y2="475.23" stroke="#f5b560" stroke-width="0.5" />
<line x1="467.06" y1="475.23" x2="469.46" y2="475.23" stroke="#f5b560" stroke-width="0.5" />
<line x1="473.34" y1="462.71" x2="473.34" y2="450.19" stroke="#f5b560" stroke-width="0.5" />
<line x1="472.14" y1="450.19" x2="474.54" y2="450.19" stroke="#f5b560" stroke-width="0.5" />
<line x1="473.34" y1="462.71" x2="473.34" y2="475.23" stroke="#f5b560" stroke-width="0.5" />
<line x1="472.14" y1="475.23" x2="474.54" y2="475.23" stroke="#f5b560" stroke-width="0.5" />
<line x1="478.42" y1="465.06" x2="478.42" y2="454.10" stroke="#f5b560" stroke-width="0.5" />
<line x1="477.22" y1="454.10" x2="479.62" y2="454.10" stroke="#f5b560" stroke-width="0.5" />
<line x1="478.42" y1="465.06" x2="478.42" y2="476.01" stroke="#f5b560" stroke-width="0.5" />
<line x1="477.22" y1="476.01" x2="479.62" y2="476.01" stroke="#f5b560" stroke-width="0.5" />
<line x1="482.23" y1="465.06" x2="482.23" y2="454.10" stroke="#f5b560" stroke-width="0.5" />
<line x1="481.03" y1="454.10" x2="483.43" y2="454.10" stroke="#f5b560" stroke-width="0.5" />
<line x1="482.23" y1="465.06" x2="482.23" y2="476.01" stroke="#f5b560" stroke-width="0.5" />
<line x1="481.03" y1="476.01" x2="483.43" y2="476.01" stroke="#f5b560" stroke-width="0.5" />
<path d="M420.00,521.40 L423.81,521.40 L428.89,521.40 L432.70,510.44 L437.78,499.49 L441.59,480.71 L446.67,482.27 L450.48,480.71 L455.56,465.06 L459.37,462.71 L464.45,454.89 L468.26,462.71 L473.34,462.71 L478.42,465.06 L482.23,465.06" fill="none" stroke="#f0a020" stroke-width="0.9"/>
<polygon points="420.00,519.22 422.19,521.40 420.00,523.58 417.81,521.40" fill="#f0a020"/>
<polygon points="423.81,519.22 426.00,521.40 423.81,523.58 421.62,521.40" fill="#f0a020"/>
<polygon points="428.89,519.22 431.07,521.40 428.89,523.58 426.70,521.40" fill="#f0a020"/>
<polygon points="432.70,508.26 434.88,510.44 432.70,512.63 430.51,510.44" fill="#f0a020"/>
<polygon points="437.78,497.30 439.96,499.49 437.78,501.67 435.59,499.49" fill="#f0a020"/>
<polygon points="441.59,478.52 443.77,480.71 441.59,482.89 439.40,480.71" fill="#f0a020"/>
<polygon points="446.67,480.09 448.86,482.27 446.67,484.46 444.49,482.27" fill="#f0a020"/>
<polygon points="450.48,478.52 452.67,480.71 450.48,482.89 448.30,480.71" fill="#f0a020"/>
<polygon points="455.56,462.87 457.75,465.06 455.56,467.24 453.38,465.06" fill="#f0a020"/>
<polygon points="459.37,460.53 461.56,462.71 459.37,464.90 457.19,462.71" fill="#f0a020"/>
<polygon points="464.45,452.70 466.63,454.89 464.45,457.07 462.26,454.89" fill="#f0a020"/>
<polygon points="468.26,460.53 470.44,462.71 468.26,464.90 466.07,462.71" fill="#f0a020"/>
<polygon points="473.34,460.53 475.53,462.71 473.34,464.90 471.16,462.71" fill="#f0a020"/>
<polygon points="478.42,462.87 480.61,465.06 478.42,467.24 476.24,465.06" fill="#f0a020"/>
<polygon points="482.23,462.87 484.42,465.06 482.23,467.24 480.05,465.06" fill="#f0a020"/>
<line x1="432.70" y1="513.57" x2="432.70" y2="508.88" stroke="#5aa070" stroke-width="0.5" />
<line x1="431.50" y1="508.88" x2="433.90" y2="508.88" stroke="#5aa070" stroke-width="0.5" />
<line x1="432.70" y1="513.57" x2="432.70" y2="518.27" stroke="#5aa070" stroke-width="0.5" />
<line x1="431.50" y1="518.27" x2="433.90" y2="518.27" stroke="#5aa070" stroke-width="0.5" />
<line x1="437.78" y1="501.05" x2="437.78" y2="494.79" stroke="#5aa070" stroke-width="0.5" />
<line x1="436.58" y1="494.79" x2="438.98" y2="494.79" stroke="#5aa070" stroke-width="0.5" />
<line x1="437.78" y1="501.05" x2="437.78" y2="507.31" stroke="#5aa070" stroke-width="0.5" />
<line x1="436.58" y1="507.31" x2="438.98" y2="507.31" stroke="#5aa070" stroke-width="0.5" />
<line x1="441.59" y1="488.53" x2="441.59" y2="480.71" stroke="#5aa070" stroke-width="0.5" />
<line x1="440.39" y1="480.71" x2="442.79" y2="480.71" stroke="#5aa070" stroke-width="0.5" />
<line x1="441.59" y1="488.53" x2="441.59" y2="496.36" stroke="#5aa070" stroke-width="0.5" />
<line x1="440.39" y1="496.36" x2="442.79" y2="496.36" stroke="#5aa070" stroke-width="0.5" />
<line x1="446.67" y1="473.67" x2="446.67" y2="464.28" stroke="#5aa070" stroke-width="0.5" />
<line x1="445.47" y1="464.28" x2="447.87" y2="464.28" stroke="#5aa070" stroke-width="0.5" />
<line x1="446.67" y1="473.67" x2="446.67" y2="483.06" stroke="#5aa070" stroke-width="0.5" />
<line x1="445.47" y1="483.06" x2="447.87" y2="483.06" stroke="#5aa070" stroke-width="0.5" />
<line x1="450.48" y1="452.54" x2="450.48" y2="443.15" stroke="#5aa070" stroke-width="0.5" />
<line x1="449.28" y1="443.15" x2="451.68" y2="443.15" stroke="#5aa070" stroke-width="0.5" />
<line x1="450.48" y1="452.54" x2="450.48" y2="461.93" stroke="#5aa070" stroke-width="0.5" />
<line x1="449.28" y1="461.93" x2="451.68" y2="461.93" stroke="#5aa070" stroke-width="0.5" />
<line x1="455.56" y1="454.89" x2="455.56" y2="445.50" stroke="#5aa070" stroke-width="0.5" />
<line x1="454.36" y1="445.50" x2="456.76" y2="445.50" stroke="#5aa070" stroke-width="0.5" />
<line x1="455.56" y1="454.89" x2="455.56" y2="464.28" stroke="#5aa070" stroke-width="0.5" />
<line x1="454.36" y1="464.28" x2="456.76" y2="464.28" stroke="#5aa070" stroke-width="0.5" />
<line x1="459.37" y1="457.24" x2="459.37" y2="447.85" stroke="#5aa070" stroke-width="0.5" />
<line x1="458.17" y1="447.85" x2="460.57" y2="447.85" stroke="#5aa070" stroke-width="0.5" />
<line x1="459.37" y1="457.24" x2="459.37" y2="466.62" stroke="#5aa070" stroke-width="0.5" />
<line x1="458.17" y1="466.62" x2="460.57" y2="466.62" stroke="#5aa070" stroke-width="0.5" />
<line x1="464.45" y1="447.06" x2="464.45" y2="439.24" stroke="#5aa070" stroke-width="0.5" />
<line x1="463.25" y1="439.24" x2="465.65" y2="439.24" stroke="#5aa070" stroke-width="0.5" />
<line x1="464.45" y1="447.06" x2="464.45" y2="454.89" stroke="#5aa070" stroke-width="0.5" />
<line x1="463.25" y1="454.89" x2="465.65" y2="454.89" stroke="#5aa070" stroke-width="0.5" />
<line x1="468.26" y1="446.28" x2="468.26" y2="438.45" stroke="#5aa070" stroke-width="0.5" />
<line x1="467.06" y1="438.45" x2="469.46" y2="438.45" stroke="#5aa070" stroke-width="0.5" />
<line x1="468.26" y1="446.28" x2="468.26" y2="454.10" stroke="#5aa070" stroke-width="0.5" />
<line x1="467.06" y1="454.10" x2="469.46" y2="454.10" stroke="#5aa070" stroke-width="0.5" />
<line x1="473.34" y1="444.71" x2="473.34" y2="436.89" stroke="#5aa070" stroke-width="0.5" />
<line x1="472.14" y1="436.89" x2="474.54" y2="436.89" stroke="#5aa070" stroke-width="0.5" />
<line x1="473.34" y1="444.71" x2="473.34" y2="452.54" stroke="#5aa070" stroke-width="0.5" />
<line x1="472.14" y1="452.54" x2="474.54" y2="452.54" stroke="#5aa070" stroke-width="0.5" />
<line x1="478.42" y1="445.81" x2="478.42" y2="437.99" stroke="#5aa070" stroke-width="0.5" />
<line x1="477.22" y1="437.99" x2="479.62" y2="437.99" stroke="#5aa070" stroke-width="0.5" />
<line x1="478.42" y1="445.81" x2="478.42" y2="453.64" stroke="#5aa070" stroke-width="0.5" />
<line x1="477.22" y1="453.64" x2="479.62" y2="453.64" stroke="#5aa070" stroke-width="0.5" />
<line x1="482.23" y1="445.81" x2="482.23" y2="437.99" stroke="#5aa070" stroke-width="0.5" />
<line x1="481.03" y1="437.99" x2="483.43" y2="437.99" stroke="#5aa070" stroke-width="0.5" />
<line x1="482.23" y1="445.81" x2="482.23" y2="453.64" stroke="#5aa070" stroke-width="0.5" />
<line x1="481.03" y1="453.64" x2="483.43" y2="453.64" stroke="#5aa070" stroke-width="0.5" />
<path d="M420.00,521.40 L423.81,521.40 L428.89,521.40 L432.70,513.57 L437.78,501.05 L441.59,488.53 L446.67,473.67 L450.48,452.54 L455.56,454.89 L459.37,457.24 L464.45,447.06 L468.26,446.28 L473.34,444.71 L478.42,445.81 L482.23,445.81" fill="none" stroke="#2f9e4f" stroke-width="0.9"/>
<polygon points="420.00,519.10 422.30,521.40 420.00,523.70 417.70,521.40" fill="#2f9e4f"/>
<polygon points="423.81,519.10 426.11,521.40 423.81,523.70 421.51,521.40" fill="#2f9e4f"/>
<polygon points="428.89,519.10 431.19,521.40 428.89,523.70 426.59,521.40" fill="#2f9e4f"/>
<polygon points="432.70,511.27 435.00,513.57 432.70,515.87 430.40,513.57" fill="#2f9e4f"/>
<polygon points="437.78,498.75 440.08,501.05 437.78,503.35 435.48,501.05" fill="#2f9e4f"/>
<polygon points="441.59,486.23 443.89,488.53 441.59,490.83 439.29,488.53" fill="#2f9e4f"/>
<polygon points="446.67,471.37 448.97,473.67 446.67,475.97 444.37,473.67" fill="#2f9e4f"/>
<polygon points="450.48,450.24 452.78,452.54 450.48,454.84 448.18,452.54" fill="#2f9e4f"/>
<polygon points="455.56,452.59 457.86,454.89 455.56,457.19 453.26,454.89" fill="#2f9e4f"/>
<polygon points="459.37,454.94 461.67,457.24 459.37,459.54 457.07,457.24" fill="#2f9e4f"/>
<polygon points="464.45,444.76 466.75,447.06 464.45,449.36 462.15,447.06" fill="#2f9e4f"/>
<polygon points="468.26,443.98 470.56,446.28 468.26,448.58 465.96,446.28" fill="#2f9e4f"/>
<polygon points="473.34,442.41 475.64,444.71 473.34,447.01 471.04,444.71" fill="#2f9e4f"/>
<polygon points="478.42,443.51 480.72,445.81 478.42,448.11 476.12,445.81" fill="#2f9e4f"/>
<polygon points="482.23,443.51 484.53,445.81 482.23,448.11 479.93,445.81" fill="#2f9e4f"/>
<line x1="432.70" y1="513.57" x2="432.70" y2="508.88" stroke="#5a6f90" stroke-width="0.5" />
<line x1="431.50" y1="508.88" x2="433.90" y2="508.88" stroke="#5a6f90" stroke-width="0.5" />
<line x1="432.70" y1="513.57" x2="432.70" y2="518.27" stroke="#5a6f90" stroke-width="0.5" />
<line x1="431.50" y1="518.27" x2="433.90" y2="518.27" stroke="#5a6f90" stroke-width="0.5" />
<line x1="437.78" y1="497.92" x2="437.78" y2="491.66" stroke="#5a6f90" stroke-width="0.5" />
<line x1="436.58" y1="491.66" x2="438.98" y2="491.66" stroke="#5a6f90" stroke-width="0.5" />
<line x1="437.78" y1="497.92" x2="437.78" y2="504.18" stroke="#5a6f90" stroke-width="0.5" />
<line x1="436.58" y1="504.18" x2="438.98" y2="504.18" stroke="#5a6f90" stroke-width="0.5" />
<line x1="441.59" y1="470.07" x2="441.59" y2="455.20" stroke="#5a6f90" stroke-width="0.5" />
<line x1="440.39" y1="455.20" x2="442.79" y2="455.20" stroke="#5a6f90" stroke-width="0.5" />
<line x1="441.59" y1="470.07" x2="441.59" y2="484.94" stroke="#5a6f90" stroke-width="0.5" />
<line x1="440.39" y1="484.94" x2="442.79" y2="484.94" stroke="#5a6f90" stroke-width="0.5" />
<line x1="446.67" y1="466.62" x2="446.67" y2="457.24" stroke="#5a6f90" stroke-width="0.5" />
<line x1="445.47" y1="457.24" x2="447.87" y2="457.24" stroke="#5a6f90" stroke-width="0.5" />
<line x1="446.67" y1="466.62" x2="446.67" y2="476.01" stroke="#5a6f90" stroke-width="0.5" />
<line x1="445.47" y1="476.01" x2="447.87" y2="476.01" stroke="#5a6f90" stroke-width="0.5" />
<line x1="450.48" y1="450.97" x2="450.48" y2="436.89" stroke="#5a6f90" stroke-width="0.5" />
<line x1="449.28" y1="436.89" x2="451.68" y2="436.89" stroke="#5a6f90" stroke-width="0.5" />
<line x1="450.48" y1="450.97" x2="450.48" y2="465.06" stroke="#5a6f90" stroke-width="0.5" />
<line x1="449.28" y1="465.06" x2="451.68" y2="465.06" stroke="#5a6f90" stroke-width="0.5" />
<line x1="455.56" y1="450.97" x2="455.56" y2="436.89" stroke="#5a6f90" stroke-width="0.5" />
<line x1="454.36" y1="436.89" x2="456.76" y2="436.89" stroke="#5a6f90" stroke-width="0.5" />
<line x1="455.56" y1="450.97" x2="455.56" y2="465.06" stroke="#5a6f90" stroke-width="0.5" />
<line x1="454.36" y1="465.06" x2="456.76" y2="465.06" stroke="#5a6f90" stroke-width="0.5" />
<line x1="459.37" y1="450.97" x2="459.37" y2="436.89" stroke="#5a6f90" stroke-width="0.5" />
<line x1="458.17" y1="436.89" x2="460.57" y2="436.89" stroke="#5a6f90" stroke-width="0.5" />
<line x1="459.37" y1="450.97" x2="459.37" y2="465.06" stroke="#5a6f90" stroke-width="0.5" />
<line x1="458.17" y1="465.06" x2="460.57" y2="465.06" stroke="#5a6f90" stroke-width="0.5" />
<line x1="464.45" y1="447.06" x2="464.45" y2="436.89" stroke="#5a6f90" stroke-width="0.5" />
<line x1="463.25" y1="436.89" x2="465.65" y2="436.89" stroke="#5a6f90" stroke-width="0.5" />
<line x1="464.45" y1="447.06" x2="464.45" y2="457.24" stroke="#5a6f90" stroke-width="0.5" />
<line x1="463.25" y1="457.24" x2="465.65" y2="457.24" stroke="#5a6f90" stroke-width="0.5" />
<line x1="468.26" y1="450.97" x2="468.26" y2="436.89" stroke="#5a6f90" stroke-width="0.5" />
<line x1="467.06" y1="436.89" x2="469.46" y2="436.89" stroke="#5a6f90" stroke-width="0.5" />
<line x1="468.26" y1="450.97" x2="468.26" y2="465.06" stroke="#5a6f90" stroke-width="0.5" />
<line x1="467.06" y1="465.06" x2="469.46" y2="465.06" stroke="#5a6f90" stroke-width="0.5" />
<line x1="473.34" y1="450.97" x2="473.34" y2="436.89" stroke="#5a6f90" stroke-width="0.5" />
<line x1="472.14" y1="436.89" x2="474.54" y2="436.89" stroke="#5a6f90" stroke-width="0.5" />
<line x1="473.34" y1="450.97" x2="473.34" y2="465.06" stroke="#5a6f90" stroke-width="0.5" />
<line x1="472.14" y1="465.06" x2="474.54" y2="465.06" stroke="#5a6f90" stroke-width="0.5" />
<line x1="478.42" y1="446.59" x2="478.42" y2="436.89" stroke="#5a6f90" stroke-width="0.5" />
<line x1="477.22" y1="436.89" x2="479.62" y2="436.89" stroke="#5a6f90" stroke-width="0.5" />
<line x1="478.42" y1="446.59" x2="478.42" y2="456.30" stroke="#5a6f90" stroke-width="0.5" />
<line x1="477.22" y1="456.30" x2="479.62" y2="456.30" stroke="#5a6f90" stroke-width="0.5" />
<line x1="482.23" y1="446.59" x2="482.23" y2="436.89" stroke="#5a6f90" stroke-width="0.5" />
<line x1="481.03" y1="436.89" x2="483.43" y2="436.89" stroke="#5a6f90" stroke-width="0.5" />
<line x1="482.23" y1="446.59" x2="482.23" y2="456.30" stroke="#5a6f90" stroke-width="0.5" />
<line x1="481.03" y1="456.30" x2="483.43" y2="456.30" stroke="#5a6f90" stroke-width="0.5" />
<path d="M420.00,521.40 L423.81,521.40 L428.89,521.40 L432.70,513.57 L437.78,497.92 L441.59,470.07 L446.67,466.62 L450.48,450.97 L455.56,450.97 L459.37,450.97 L464.45,447.06 L468.26,450.97 L473.34,450.97 L478.42,446.59 L482.23,446.59" fill="none" stroke="#1a4f8a" stroke-width="0.9"/>
<circle cx="420.00" cy="521.40" r="2.2" fill="#1a4f8a"/>
<circle cx="423.81" cy="521.40" r="2.2" fill="#1a4f8a"/>
<circle cx="428.89" cy="521.40" r="2.2" fill="#1a4f8a"/>
<circle cx="432.70" cy="513.57" r="2.2" fill="#1a4f8a"/>
<circle cx="437.78" cy="497.92" r="2.2" fill="#1a4f8a"/>
<circle cx="441.59" cy="470.07" r="2.2" fill="#1a4f8a"/>
<circle cx="446.67" cy="466.62" r="2.2" fill="#1a4f8a"/>
<circle cx="450.48" cy="450.97" r="2.2" fill="#1a4f8a"/>
<circle cx="455.56" cy="450.97" r="2.2" fill="#1a4f8a"/>
<circle cx="459.37" cy="450.97" r="2.2" fill="#1a4f8a"/>
<circle cx="464.45" cy="447.06" r="2.2" fill="#1a4f8a"/>
<circle cx="468.26" cy="450.97" r="2.2" fill="#1a4f8a"/>
<circle cx="473.34" cy="450.97" r="2.2" fill="#1a4f8a"/>
<circle cx="478.42" cy="446.59" r="2.2" fill="#1a4f8a"/>
<circle cx="482.23" cy="446.59" r="2.2" fill="#1a4f8a"/>
<line x1="490.70" y1="467.40" x2="492.50" y2="467.40" stroke="#222" stroke-width="0.8" />
<rect x="0.5" y="0.5" width="519" height="593" fill="none" stroke="#444" stroke-width="1"/>
</svg></body></html>
